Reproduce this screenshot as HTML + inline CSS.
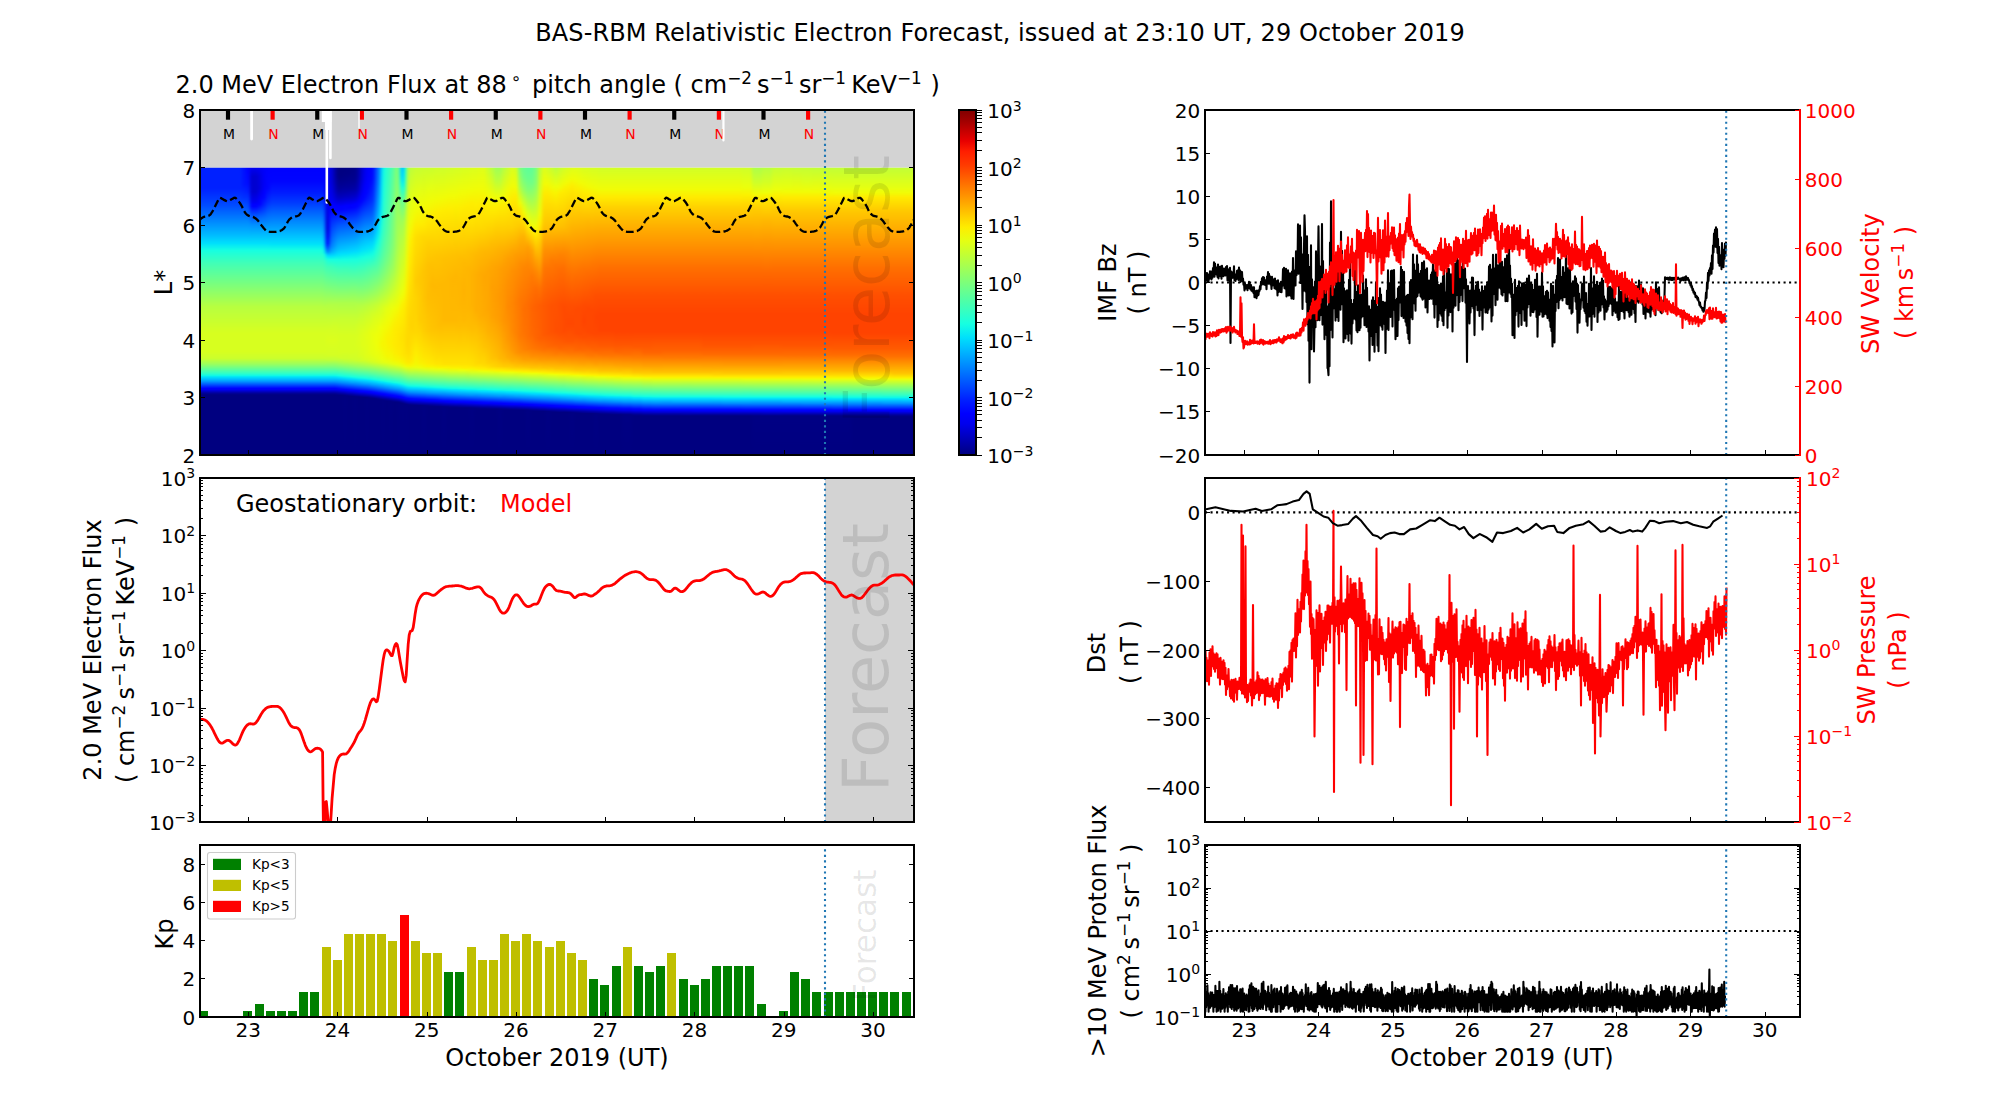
<!DOCTYPE html>
<html><head><meta charset="utf-8"><title>BAS-RBM Relativistic Electron Forecast</title>
<style>html,body{margin:0;padding:0;background:#fff}svg{display:block}text{font-family:'DejaVu Sans','Liberation Sans',sans-serif}</style></head>
<body><svg width="2000" height="1100" viewBox="0 0 2000 1100">
<defs><clipPath id="cL1"><rect x="200" y="110" width="714" height="345"/></clipPath>
<linearGradient id="h0" x1="0" y1="0" x2="0" y2="1"><stop offset="0" stop-color="#0020ff"/><stop offset=".072" stop-color="#0020ff"/><stop offset=".112" stop-color="#003cff"/><stop offset=".132" stop-color="#004cff"/><stop offset=".236" stop-color="#00bcff"/><stop offset=".264" stop-color="#00e0fb"/><stop offset=".288" stop-color="#16ffe1"/><stop offset=".332" stop-color="#40ffb7"/><stop offset=".484" stop-color="#b7ff40"/><stop offset=".576" stop-color="#d7ff1f"/><stop offset=".64" stop-color="#d7ff1f"/><stop offset=".664" stop-color="#caff2c"/><stop offset=".684" stop-color="#9aff5d"/><stop offset=".716" stop-color="#30ffc7"/><stop offset=".724" stop-color="#0ff8e7"/><stop offset=".728" stop-color="#00e4f8"/><stop offset=".736" stop-color="#00c0ff"/><stop offset=".744" stop-color="#0098ff"/><stop offset=".768" stop-color="#0000ff"/><stop offset=".772" stop-color="#0000f6"/><stop offset=".784" stop-color="#00009f"/><stop offset=".788" stop-color="#000089"/><stop offset=".792" stop-color="#000080"/><stop offset="1" stop-color="#000080"/></linearGradient>
<linearGradient id="h1" x1="0" y1="0" x2="0" y2="1"><stop offset="0" stop-color="#0020ff"/><stop offset=".072" stop-color="#0020ff"/><stop offset=".112" stop-color="#003cff"/><stop offset=".132" stop-color="#004cff"/><stop offset=".236" stop-color="#00bcff"/><stop offset=".264" stop-color="#00e0fb"/><stop offset=".288" stop-color="#16ffe1"/><stop offset=".332" stop-color="#40ffb7"/><stop offset=".484" stop-color="#b7ff40"/><stop offset=".576" stop-color="#d7ff1f"/><stop offset=".64" stop-color="#d7ff1f"/><stop offset=".664" stop-color="#caff2c"/><stop offset=".684" stop-color="#9aff5d"/><stop offset=".716" stop-color="#30ffc7"/><stop offset=".724" stop-color="#0ff8e7"/><stop offset=".728" stop-color="#00e4f8"/><stop offset=".736" stop-color="#00c0ff"/><stop offset=".744" stop-color="#0098ff"/><stop offset=".768" stop-color="#0000ff"/><stop offset=".772" stop-color="#0000f6"/><stop offset=".784" stop-color="#00009f"/><stop offset=".788" stop-color="#000089"/><stop offset=".792" stop-color="#000080"/><stop offset="1" stop-color="#000080"/></linearGradient>
<linearGradient id="h2" x1="0" y1="0" x2="0" y2="1"><stop offset="0" stop-color="#0020ff"/><stop offset=".072" stop-color="#0020ff"/><stop offset=".112" stop-color="#003cff"/><stop offset=".132" stop-color="#004cff"/><stop offset=".236" stop-color="#00bcff"/><stop offset=".264" stop-color="#00e0fb"/><stop offset=".288" stop-color="#16ffe1"/><stop offset=".332" stop-color="#40ffb7"/><stop offset=".484" stop-color="#b7ff40"/><stop offset=".576" stop-color="#d7ff1f"/><stop offset=".64" stop-color="#d7ff1f"/><stop offset=".664" stop-color="#caff2c"/><stop offset=".684" stop-color="#9aff5d"/><stop offset=".716" stop-color="#30ffc7"/><stop offset=".724" stop-color="#0ff8e7"/><stop offset=".728" stop-color="#00e4f8"/><stop offset=".736" stop-color="#00c0ff"/><stop offset=".744" stop-color="#0098ff"/><stop offset=".768" stop-color="#0000ff"/><stop offset=".772" stop-color="#0000f6"/><stop offset=".784" stop-color="#00009f"/><stop offset=".788" stop-color="#000089"/><stop offset=".792" stop-color="#000080"/><stop offset="1" stop-color="#000080"/></linearGradient>
<linearGradient id="h3" x1="0" y1="0" x2="0" y2="1"><stop offset="0" stop-color="#0020ff"/><stop offset=".072" stop-color="#0020ff"/><stop offset=".112" stop-color="#003cff"/><stop offset=".132" stop-color="#004cff"/><stop offset=".236" stop-color="#00bcff"/><stop offset=".264" stop-color="#00e0fb"/><stop offset=".288" stop-color="#16ffe1"/><stop offset=".332" stop-color="#40ffb7"/><stop offset=".484" stop-color="#b7ff40"/><stop offset=".576" stop-color="#d7ff1f"/><stop offset=".64" stop-color="#d7ff1f"/><stop offset=".664" stop-color="#caff2c"/><stop offset=".684" stop-color="#9aff5d"/><stop offset=".716" stop-color="#30ffc7"/><stop offset=".724" stop-color="#0ff8e7"/><stop offset=".728" stop-color="#00e4f8"/><stop offset=".736" stop-color="#00c0ff"/><stop offset=".744" stop-color="#0098ff"/><stop offset=".768" stop-color="#0000ff"/><stop offset=".772" stop-color="#0000f6"/><stop offset=".784" stop-color="#00009f"/><stop offset=".788" stop-color="#000089"/><stop offset=".792" stop-color="#000080"/><stop offset="1" stop-color="#000080"/></linearGradient>
<linearGradient id="h4" x1="0" y1="0" x2="0" y2="1"><stop offset="0" stop-color="#0020ff"/><stop offset=".072" stop-color="#0020ff"/><stop offset=".112" stop-color="#003cff"/><stop offset=".132" stop-color="#004cff"/><stop offset=".236" stop-color="#00bcff"/><stop offset=".264" stop-color="#00e0fb"/><stop offset=".288" stop-color="#16ffe1"/><stop offset=".332" stop-color="#40ffb7"/><stop offset=".484" stop-color="#b7ff40"/><stop offset=".576" stop-color="#d7ff1f"/><stop offset=".64" stop-color="#d7ff1f"/><stop offset=".664" stop-color="#caff2c"/><stop offset=".684" stop-color="#9aff5d"/><stop offset=".716" stop-color="#30ffc7"/><stop offset=".724" stop-color="#0ff8e7"/><stop offset=".728" stop-color="#00e4f8"/><stop offset=".736" stop-color="#00c0ff"/><stop offset=".744" stop-color="#0098ff"/><stop offset=".768" stop-color="#0000ff"/><stop offset=".772" stop-color="#0000f6"/><stop offset=".784" stop-color="#00009f"/><stop offset=".788" stop-color="#000089"/><stop offset=".792" stop-color="#000080"/><stop offset="1" stop-color="#000080"/></linearGradient>
<linearGradient id="h5" x1="0" y1="0" x2="0" y2="1"><stop offset="0" stop-color="#0020ff"/><stop offset=".072" stop-color="#0020ff"/><stop offset=".112" stop-color="#003cff"/><stop offset=".132" stop-color="#004cff"/><stop offset=".236" stop-color="#00bcff"/><stop offset=".264" stop-color="#00e0fb"/><stop offset=".288" stop-color="#16ffe1"/><stop offset=".332" stop-color="#40ffb7"/><stop offset=".484" stop-color="#b7ff40"/><stop offset=".576" stop-color="#d7ff1f"/><stop offset=".64" stop-color="#d7ff1f"/><stop offset=".664" stop-color="#caff2c"/><stop offset=".684" stop-color="#9aff5d"/><stop offset=".716" stop-color="#30ffc7"/><stop offset=".724" stop-color="#0ff8e7"/><stop offset=".728" stop-color="#00e4f8"/><stop offset=".736" stop-color="#00c0ff"/><stop offset=".744" stop-color="#0098ff"/><stop offset=".768" stop-color="#0000ff"/><stop offset=".772" stop-color="#0000f6"/><stop offset=".784" stop-color="#00009f"/><stop offset=".788" stop-color="#000089"/><stop offset=".792" stop-color="#000080"/><stop offset="1" stop-color="#000080"/></linearGradient>
<linearGradient id="h6" x1="0" y1="0" x2="0" y2="1"><stop offset="0" stop-color="#0020ff"/><stop offset=".072" stop-color="#0020ff"/><stop offset=".112" stop-color="#003cff"/><stop offset=".132" stop-color="#004cff"/><stop offset=".236" stop-color="#00bcff"/><stop offset=".264" stop-color="#00e0fb"/><stop offset=".288" stop-color="#16ffe1"/><stop offset=".332" stop-color="#40ffb7"/><stop offset=".484" stop-color="#b7ff40"/><stop offset=".576" stop-color="#d7ff1f"/><stop offset=".64" stop-color="#d7ff1f"/><stop offset=".664" stop-color="#caff2c"/><stop offset=".684" stop-color="#9aff5d"/><stop offset=".716" stop-color="#30ffc7"/><stop offset=".724" stop-color="#0ff8e7"/><stop offset=".728" stop-color="#00e4f8"/><stop offset=".736" stop-color="#00c0ff"/><stop offset=".744" stop-color="#0098ff"/><stop offset=".768" stop-color="#0000ff"/><stop offset=".772" stop-color="#0000f6"/><stop offset=".784" stop-color="#00009f"/><stop offset=".788" stop-color="#000089"/><stop offset=".792" stop-color="#000080"/><stop offset="1" stop-color="#000080"/></linearGradient>
<linearGradient id="h7" x1="0" y1="0" x2="0" y2="1"><stop offset="0" stop-color="#0020ff"/><stop offset=".072" stop-color="#0020ff"/><stop offset=".112" stop-color="#003cff"/><stop offset=".132" stop-color="#004cff"/><stop offset=".236" stop-color="#00bcff"/><stop offset=".264" stop-color="#00e0fb"/><stop offset=".288" stop-color="#16ffe1"/><stop offset=".332" stop-color="#40ffb7"/><stop offset=".484" stop-color="#b7ff40"/><stop offset=".576" stop-color="#d7ff1f"/><stop offset=".64" stop-color="#d7ff1f"/><stop offset=".664" stop-color="#caff2c"/><stop offset=".684" stop-color="#9aff5d"/><stop offset=".716" stop-color="#30ffc7"/><stop offset=".724" stop-color="#0ff8e7"/><stop offset=".728" stop-color="#00e4f8"/><stop offset=".736" stop-color="#00c0ff"/><stop offset=".744" stop-color="#0098ff"/><stop offset=".768" stop-color="#0000ff"/><stop offset=".772" stop-color="#0000f6"/><stop offset=".784" stop-color="#00009f"/><stop offset=".788" stop-color="#000089"/><stop offset=".792" stop-color="#000080"/><stop offset="1" stop-color="#000080"/></linearGradient>
<linearGradient id="h8" x1="0" y1="0" x2="0" y2="1"><stop offset="0" stop-color="#0020ff"/><stop offset=".072" stop-color="#0020ff"/><stop offset=".112" stop-color="#003cff"/><stop offset=".132" stop-color="#004cff"/><stop offset=".236" stop-color="#00bcff"/><stop offset=".264" stop-color="#00e0fb"/><stop offset=".288" stop-color="#16ffe1"/><stop offset=".332" stop-color="#40ffb7"/><stop offset=".484" stop-color="#b7ff40"/><stop offset=".576" stop-color="#d7ff1f"/><stop offset=".64" stop-color="#d7ff1f"/><stop offset=".664" stop-color="#caff2c"/><stop offset=".684" stop-color="#9aff5d"/><stop offset=".716" stop-color="#30ffc7"/><stop offset=".724" stop-color="#0ff8e7"/><stop offset=".728" stop-color="#00e4f8"/><stop offset=".736" stop-color="#00c0ff"/><stop offset=".744" stop-color="#0098ff"/><stop offset=".768" stop-color="#0000ff"/><stop offset=".772" stop-color="#0000f6"/><stop offset=".784" stop-color="#00009f"/><stop offset=".788" stop-color="#000089"/><stop offset=".792" stop-color="#000080"/><stop offset="1" stop-color="#000080"/></linearGradient>
<linearGradient id="h9" x1="0" y1="0" x2="0" y2="1"><stop offset="0" stop-color="#0020ff"/><stop offset=".072" stop-color="#0020ff"/><stop offset=".112" stop-color="#003cff"/><stop offset=".132" stop-color="#004cff"/><stop offset=".236" stop-color="#00bcff"/><stop offset=".264" stop-color="#00e0fb"/><stop offset=".288" stop-color="#16ffe1"/><stop offset=".332" stop-color="#40ffb7"/><stop offset=".484" stop-color="#b7ff40"/><stop offset=".576" stop-color="#d7ff1f"/><stop offset=".64" stop-color="#d7ff1f"/><stop offset=".664" stop-color="#caff2c"/><stop offset=".684" stop-color="#9aff5d"/><stop offset=".716" stop-color="#30ffc7"/><stop offset=".724" stop-color="#0ff8e7"/><stop offset=".728" stop-color="#00e4f8"/><stop offset=".736" stop-color="#00c0ff"/><stop offset=".744" stop-color="#0098ff"/><stop offset=".768" stop-color="#0000ff"/><stop offset=".772" stop-color="#0000f6"/><stop offset=".784" stop-color="#00009f"/><stop offset=".788" stop-color="#000089"/><stop offset=".792" stop-color="#000080"/><stop offset="1" stop-color="#000080"/></linearGradient>
<linearGradient id="h10" x1="0" y1="0" x2="0" y2="1"><stop offset="0" stop-color="#0020ff"/><stop offset=".072" stop-color="#0020ff"/><stop offset=".112" stop-color="#003cff"/><stop offset=".132" stop-color="#004cff"/><stop offset=".236" stop-color="#00bcff"/><stop offset=".264" stop-color="#00e0fb"/><stop offset=".288" stop-color="#16ffe1"/><stop offset=".332" stop-color="#40ffb7"/><stop offset=".484" stop-color="#b7ff40"/><stop offset=".576" stop-color="#d7ff1f"/><stop offset=".64" stop-color="#d7ff1f"/><stop offset=".664" stop-color="#caff2c"/><stop offset=".684" stop-color="#9aff5d"/><stop offset=".716" stop-color="#30ffc7"/><stop offset=".724" stop-color="#0ff8e7"/><stop offset=".728" stop-color="#00e4f8"/><stop offset=".736" stop-color="#00c0ff"/><stop offset=".744" stop-color="#0098ff"/><stop offset=".768" stop-color="#0000ff"/><stop offset=".772" stop-color="#0000f6"/><stop offset=".784" stop-color="#00009f"/><stop offset=".788" stop-color="#000089"/><stop offset=".792" stop-color="#000080"/><stop offset="1" stop-color="#000080"/></linearGradient>
<linearGradient id="h11" x1="0" y1="0" x2="0" y2="1"><stop offset="0" stop-color="#0020ff"/><stop offset=".072" stop-color="#0020ff"/><stop offset=".112" stop-color="#003cff"/><stop offset=".132" stop-color="#004cff"/><stop offset=".236" stop-color="#00bcff"/><stop offset=".264" stop-color="#00e0fb"/><stop offset=".288" stop-color="#16ffe1"/><stop offset=".332" stop-color="#40ffb7"/><stop offset=".484" stop-color="#b7ff40"/><stop offset=".576" stop-color="#d7ff1f"/><stop offset=".64" stop-color="#d7ff1f"/><stop offset=".664" stop-color="#caff2c"/><stop offset=".684" stop-color="#9aff5d"/><stop offset=".716" stop-color="#30ffc7"/><stop offset=".724" stop-color="#0ff8e7"/><stop offset=".728" stop-color="#00e4f8"/><stop offset=".736" stop-color="#00c0ff"/><stop offset=".744" stop-color="#0098ff"/><stop offset=".768" stop-color="#0000ff"/><stop offset=".772" stop-color="#0000f6"/><stop offset=".784" stop-color="#00009f"/><stop offset=".788" stop-color="#000089"/><stop offset=".792" stop-color="#000080"/><stop offset="1" stop-color="#000080"/></linearGradient>
<linearGradient id="h12" x1="0" y1="0" x2="0" y2="1"><stop offset="0" stop-color="#0010ff"/><stop offset=".06" stop-color="#0014ff"/><stop offset=".104" stop-color="#0030ff"/><stop offset=".236" stop-color="#00bcff"/><stop offset=".264" stop-color="#00e0fb"/><stop offset=".288" stop-color="#16ffe1"/><stop offset=".332" stop-color="#40ffb7"/><stop offset=".484" stop-color="#b7ff40"/><stop offset=".576" stop-color="#d7ff1f"/><stop offset=".64" stop-color="#d7ff1f"/><stop offset=".664" stop-color="#caff2c"/><stop offset=".684" stop-color="#9aff5d"/><stop offset=".716" stop-color="#30ffc7"/><stop offset=".724" stop-color="#0ff8e7"/><stop offset=".728" stop-color="#00e4f8"/><stop offset=".736" stop-color="#00c0ff"/><stop offset=".744" stop-color="#0098ff"/><stop offset=".768" stop-color="#0000ff"/><stop offset=".772" stop-color="#0000f6"/><stop offset=".784" stop-color="#00009f"/><stop offset=".788" stop-color="#000089"/><stop offset=".792" stop-color="#000080"/><stop offset="1" stop-color="#000080"/></linearGradient>
<linearGradient id="h13" x1="0" y1="0" x2="0" y2="1"><stop offset="0" stop-color="#0000ff"/><stop offset=".056" stop-color="#000cff"/><stop offset=".084" stop-color="#001cff"/><stop offset=".136" stop-color="#004cff"/><stop offset=".18" stop-color="#0080ff"/><stop offset=".236" stop-color="#00bcff"/><stop offset=".264" stop-color="#00e0fb"/><stop offset=".288" stop-color="#16ffe1"/><stop offset=".332" stop-color="#40ffb7"/><stop offset=".484" stop-color="#b7ff40"/><stop offset=".576" stop-color="#d7ff1f"/><stop offset=".64" stop-color="#d7ff1f"/><stop offset=".664" stop-color="#caff2c"/><stop offset=".684" stop-color="#9aff5d"/><stop offset=".716" stop-color="#30ffc7"/><stop offset=".724" stop-color="#0ff8e7"/><stop offset=".728" stop-color="#00e4f8"/><stop offset=".736" stop-color="#00c0ff"/><stop offset=".744" stop-color="#0098ff"/><stop offset=".768" stop-color="#0000ff"/><stop offset=".772" stop-color="#0000f6"/><stop offset=".784" stop-color="#00009f"/><stop offset=".788" stop-color="#000089"/><stop offset=".792" stop-color="#000080"/><stop offset="1" stop-color="#000080"/></linearGradient>
<linearGradient id="h14" x1="0" y1="0" x2="0" y2="1"><stop offset="0" stop-color="#0000f1"/><stop offset=".032" stop-color="#0000d1"/><stop offset=".084" stop-color="#0000d1"/><stop offset=".12" stop-color="#0000f1"/><stop offset=".128" stop-color="#0000ff"/><stop offset=".136" stop-color="#0004ff"/><stop offset=".164" stop-color="#004cff"/><stop offset=".2" stop-color="#0090ff"/><stop offset=".264" stop-color="#00e0fb"/><stop offset=".288" stop-color="#16ffe1"/><stop offset=".332" stop-color="#40ffb7"/><stop offset=".484" stop-color="#b7ff40"/><stop offset=".576" stop-color="#d7ff1f"/><stop offset=".64" stop-color="#d7ff1f"/><stop offset=".664" stop-color="#caff2c"/><stop offset=".684" stop-color="#9aff5d"/><stop offset=".716" stop-color="#30ffc7"/><stop offset=".724" stop-color="#0ff8e7"/><stop offset=".728" stop-color="#00e4f8"/><stop offset=".736" stop-color="#00c0ff"/><stop offset=".744" stop-color="#0098ff"/><stop offset=".768" stop-color="#0000ff"/><stop offset=".772" stop-color="#0000f6"/><stop offset=".784" stop-color="#00009f"/><stop offset=".788" stop-color="#000089"/><stop offset=".792" stop-color="#000080"/><stop offset="1" stop-color="#000080"/></linearGradient>
<linearGradient id="h15" x1="0" y1="0" x2="0" y2="1"><stop offset="0" stop-color="#0000f1"/><stop offset=".032" stop-color="#0000d1"/><stop offset=".084" stop-color="#0000d1"/><stop offset=".12" stop-color="#0000f1"/><stop offset=".128" stop-color="#0000ff"/><stop offset=".136" stop-color="#0004ff"/><stop offset=".164" stop-color="#004cff"/><stop offset=".2" stop-color="#0090ff"/><stop offset=".264" stop-color="#00e0fb"/><stop offset=".288" stop-color="#16ffe1"/><stop offset=".332" stop-color="#40ffb7"/><stop offset=".484" stop-color="#b7ff40"/><stop offset=".576" stop-color="#d7ff1f"/><stop offset=".64" stop-color="#d7ff1f"/><stop offset=".664" stop-color="#caff2c"/><stop offset=".684" stop-color="#9aff5d"/><stop offset=".716" stop-color="#30ffc7"/><stop offset=".724" stop-color="#0ff8e7"/><stop offset=".728" stop-color="#00e4f8"/><stop offset=".736" stop-color="#00c0ff"/><stop offset=".744" stop-color="#0098ff"/><stop offset=".768" stop-color="#0000ff"/><stop offset=".772" stop-color="#0000f6"/><stop offset=".784" stop-color="#00009f"/><stop offset=".788" stop-color="#000089"/><stop offset=".792" stop-color="#000080"/><stop offset="1" stop-color="#000080"/></linearGradient>
<linearGradient id="h16" x1="0" y1="0" x2="0" y2="1"><stop offset="0" stop-color="#0000f6"/><stop offset=".028" stop-color="#0000e3"/><stop offset=".072" stop-color="#0000df"/><stop offset=".096" stop-color="#0000f1"/><stop offset=".116" stop-color="#0000ff"/><stop offset=".128" stop-color="#0004ff"/><stop offset=".168" stop-color="#005cff"/><stop offset=".2" stop-color="#0090ff"/><stop offset=".264" stop-color="#00e0fb"/><stop offset=".288" stop-color="#16ffe1"/><stop offset=".332" stop-color="#40ffb7"/><stop offset=".484" stop-color="#b7ff40"/><stop offset=".576" stop-color="#d7ff1f"/><stop offset=".64" stop-color="#d7ff1f"/><stop offset=".664" stop-color="#caff2c"/><stop offset=".684" stop-color="#9aff5d"/><stop offset=".716" stop-color="#30ffc7"/><stop offset=".724" stop-color="#0ff8e7"/><stop offset=".728" stop-color="#00e4f8"/><stop offset=".736" stop-color="#00c0ff"/><stop offset=".744" stop-color="#0098ff"/><stop offset=".768" stop-color="#0000ff"/><stop offset=".772" stop-color="#0000f6"/><stop offset=".784" stop-color="#00009f"/><stop offset=".788" stop-color="#000089"/><stop offset=".792" stop-color="#000080"/><stop offset="1" stop-color="#000080"/></linearGradient>
<linearGradient id="h17" x1="0" y1="0" x2="0" y2="1"><stop offset="0" stop-color="#0000fa"/><stop offset=".06" stop-color="#0000f6"/><stop offset=".088" stop-color="#0000ff"/><stop offset=".104" stop-color="#0004ff"/><stop offset=".132" stop-color="#0024ff"/><stop offset=".176" stop-color="#0070ff"/><stop offset=".228" stop-color="#00b4ff"/><stop offset=".264" stop-color="#00e0fb"/><stop offset=".288" stop-color="#16ffe1"/><stop offset=".332" stop-color="#40ffb7"/><stop offset=".484" stop-color="#b7ff40"/><stop offset=".576" stop-color="#d7ff1f"/><stop offset=".64" stop-color="#d7ff1f"/><stop offset=".664" stop-color="#caff2c"/><stop offset=".684" stop-color="#9aff5d"/><stop offset=".716" stop-color="#30ffc7"/><stop offset=".724" stop-color="#0ff8e7"/><stop offset=".728" stop-color="#00e4f8"/><stop offset=".736" stop-color="#00c0ff"/><stop offset=".744" stop-color="#0098ff"/><stop offset=".768" stop-color="#0000ff"/><stop offset=".772" stop-color="#0000f6"/><stop offset=".784" stop-color="#00009f"/><stop offset=".788" stop-color="#000089"/><stop offset=".792" stop-color="#000080"/><stop offset="1" stop-color="#000080"/></linearGradient>
<linearGradient id="h18" x1="0" y1="0" x2="0" y2="1"><stop offset="0" stop-color="#0000ff"/><stop offset=".072" stop-color="#0004ff"/><stop offset=".12" stop-color="#002cff"/><stop offset=".164" stop-color="#0068ff"/><stop offset=".264" stop-color="#00e0fb"/><stop offset=".288" stop-color="#16ffe1"/><stop offset=".332" stop-color="#40ffb7"/><stop offset=".484" stop-color="#b7ff40"/><stop offset=".576" stop-color="#d7ff1f"/><stop offset=".64" stop-color="#d7ff1f"/><stop offset=".664" stop-color="#caff2c"/><stop offset=".684" stop-color="#9aff5d"/><stop offset=".716" stop-color="#30ffc7"/><stop offset=".724" stop-color="#0ff8e7"/><stop offset=".728" stop-color="#00e4f8"/><stop offset=".736" stop-color="#00c0ff"/><stop offset=".744" stop-color="#0098ff"/><stop offset=".768" stop-color="#0000ff"/><stop offset=".772" stop-color="#0000f6"/><stop offset=".784" stop-color="#00009f"/><stop offset=".788" stop-color="#000089"/><stop offset=".792" stop-color="#000080"/><stop offset="1" stop-color="#000080"/></linearGradient>
<linearGradient id="h19" x1="0" y1="0" x2="0" y2="1"><stop offset="0" stop-color="#0000ff"/><stop offset=".048" stop-color="#0004ff"/><stop offset=".088" stop-color="#001cff"/><stop offset=".124" stop-color="#003cff"/><stop offset=".16" stop-color="#0068ff"/><stop offset=".252" stop-color="#00d0ff"/><stop offset=".268" stop-color="#00e4f8"/><stop offset=".288" stop-color="#16ffe1"/><stop offset=".332" stop-color="#40ffb7"/><stop offset=".484" stop-color="#b7ff40"/><stop offset=".576" stop-color="#d7ff1f"/><stop offset=".64" stop-color="#d7ff1f"/><stop offset=".664" stop-color="#caff2c"/><stop offset=".684" stop-color="#9aff5d"/><stop offset=".716" stop-color="#30ffc7"/><stop offset=".724" stop-color="#0ff8e7"/><stop offset=".728" stop-color="#00e4f8"/><stop offset=".736" stop-color="#00c0ff"/><stop offset=".744" stop-color="#0098ff"/><stop offset=".768" stop-color="#0000ff"/><stop offset=".772" stop-color="#0000f6"/><stop offset=".784" stop-color="#00009f"/><stop offset=".788" stop-color="#000089"/><stop offset=".792" stop-color="#000080"/><stop offset="1" stop-color="#000080"/></linearGradient>
<linearGradient id="h20" x1="0" y1="0" x2="0" y2="1"><stop offset="0" stop-color="#0000ff"/><stop offset=".048" stop-color="#0004ff"/><stop offset=".088" stop-color="#001cff"/><stop offset=".124" stop-color="#003cff"/><stop offset=".16" stop-color="#0068ff"/><stop offset=".252" stop-color="#00d0ff"/><stop offset=".268" stop-color="#00e4f8"/><stop offset=".288" stop-color="#16ffe1"/><stop offset=".332" stop-color="#40ffb7"/><stop offset=".484" stop-color="#b7ff40"/><stop offset=".576" stop-color="#d7ff1f"/><stop offset=".64" stop-color="#d7ff1f"/><stop offset=".664" stop-color="#caff2c"/><stop offset=".684" stop-color="#9aff5d"/><stop offset=".716" stop-color="#30ffc7"/><stop offset=".724" stop-color="#0ff8e7"/><stop offset=".728" stop-color="#00e4f8"/><stop offset=".736" stop-color="#00c0ff"/><stop offset=".744" stop-color="#0098ff"/><stop offset=".768" stop-color="#0000ff"/><stop offset=".772" stop-color="#0000f6"/><stop offset=".784" stop-color="#00009f"/><stop offset=".788" stop-color="#000089"/><stop offset=".792" stop-color="#000080"/><stop offset="1" stop-color="#000080"/></linearGradient>
<linearGradient id="h21" x1="0" y1="0" x2="0" y2="1"><stop offset="0" stop-color="#0000ff"/><stop offset=".048" stop-color="#0004ff"/><stop offset=".088" stop-color="#001cff"/><stop offset=".124" stop-color="#003cff"/><stop offset=".16" stop-color="#0068ff"/><stop offset=".252" stop-color="#00d0ff"/><stop offset=".268" stop-color="#00e4f8"/><stop offset=".288" stop-color="#16ffe1"/><stop offset=".332" stop-color="#40ffb7"/><stop offset=".484" stop-color="#b7ff40"/><stop offset=".576" stop-color="#d7ff1f"/><stop offset=".64" stop-color="#d7ff1f"/><stop offset=".664" stop-color="#caff2c"/><stop offset=".684" stop-color="#9aff5d"/><stop offset=".716" stop-color="#30ffc7"/><stop offset=".724" stop-color="#0ff8e7"/><stop offset=".728" stop-color="#00e4f8"/><stop offset=".736" stop-color="#00c0ff"/><stop offset=".744" stop-color="#0098ff"/><stop offset=".768" stop-color="#0000ff"/><stop offset=".772" stop-color="#0000f6"/><stop offset=".784" stop-color="#00009f"/><stop offset=".788" stop-color="#000089"/><stop offset=".792" stop-color="#000080"/><stop offset="1" stop-color="#000080"/></linearGradient>
<linearGradient id="h22" x1="0" y1="0" x2="0" y2="1"><stop offset="0" stop-color="#0000ff"/><stop offset=".048" stop-color="#0004ff"/><stop offset=".088" stop-color="#001cff"/><stop offset=".124" stop-color="#003cff"/><stop offset=".16" stop-color="#0068ff"/><stop offset=".252" stop-color="#00d0ff"/><stop offset=".268" stop-color="#00e4f8"/><stop offset=".288" stop-color="#16ffe1"/><stop offset=".332" stop-color="#40ffb7"/><stop offset=".484" stop-color="#b7ff40"/><stop offset=".576" stop-color="#d7ff1f"/><stop offset=".64" stop-color="#d7ff1f"/><stop offset=".664" stop-color="#caff2c"/><stop offset=".684" stop-color="#9aff5d"/><stop offset=".716" stop-color="#30ffc7"/><stop offset=".724" stop-color="#0ff8e7"/><stop offset=".728" stop-color="#00e4f8"/><stop offset=".736" stop-color="#00c0ff"/><stop offset=".744" stop-color="#0098ff"/><stop offset=".768" stop-color="#0000ff"/><stop offset=".772" stop-color="#0000f6"/><stop offset=".784" stop-color="#00009f"/><stop offset=".788" stop-color="#000089"/><stop offset=".792" stop-color="#000080"/><stop offset="1" stop-color="#000080"/></linearGradient>
<linearGradient id="h23" x1="0" y1="0" x2="0" y2="1"><stop offset="0" stop-color="#0000ff"/><stop offset=".048" stop-color="#0004ff"/><stop offset=".088" stop-color="#001cff"/><stop offset=".124" stop-color="#003cff"/><stop offset=".16" stop-color="#0068ff"/><stop offset=".252" stop-color="#00d0ff"/><stop offset=".268" stop-color="#00e4f8"/><stop offset=".288" stop-color="#16ffe1"/><stop offset=".332" stop-color="#40ffb7"/><stop offset=".484" stop-color="#b7ff40"/><stop offset=".576" stop-color="#d7ff1f"/><stop offset=".64" stop-color="#d7ff1f"/><stop offset=".664" stop-color="#caff2c"/><stop offset=".684" stop-color="#9aff5d"/><stop offset=".716" stop-color="#30ffc7"/><stop offset=".724" stop-color="#0ff8e7"/><stop offset=".728" stop-color="#00e4f8"/><stop offset=".736" stop-color="#00c0ff"/><stop offset=".744" stop-color="#0098ff"/><stop offset=".768" stop-color="#0000ff"/><stop offset=".772" stop-color="#0000f6"/><stop offset=".784" stop-color="#00009f"/><stop offset=".788" stop-color="#000089"/><stop offset=".792" stop-color="#000080"/><stop offset="1" stop-color="#000080"/></linearGradient>
<linearGradient id="h24" x1="0" y1="0" x2="0" y2="1"><stop offset="0" stop-color="#0000ff"/><stop offset=".048" stop-color="#0004ff"/><stop offset=".088" stop-color="#001cff"/><stop offset=".124" stop-color="#003cff"/><stop offset=".16" stop-color="#0068ff"/><stop offset=".252" stop-color="#00d0ff"/><stop offset=".268" stop-color="#00e4f8"/><stop offset=".288" stop-color="#16ffe1"/><stop offset=".332" stop-color="#40ffb7"/><stop offset=".484" stop-color="#b7ff40"/><stop offset=".576" stop-color="#d7ff1f"/><stop offset=".64" stop-color="#d7ff1f"/><stop offset=".664" stop-color="#caff2c"/><stop offset=".684" stop-color="#9aff5d"/><stop offset=".716" stop-color="#30ffc7"/><stop offset=".724" stop-color="#0ff8e7"/><stop offset=".728" stop-color="#00e4f8"/><stop offset=".736" stop-color="#00c0ff"/><stop offset=".744" stop-color="#0098ff"/><stop offset=".768" stop-color="#0000ff"/><stop offset=".772" stop-color="#0000f6"/><stop offset=".784" stop-color="#00009f"/><stop offset=".788" stop-color="#000089"/><stop offset=".792" stop-color="#000080"/><stop offset="1" stop-color="#000080"/></linearGradient>
<linearGradient id="h25" x1="0" y1="0" x2="0" y2="1"><stop offset="0" stop-color="#0000ff"/><stop offset=".048" stop-color="#0004ff"/><stop offset=".088" stop-color="#001cff"/><stop offset=".124" stop-color="#003cff"/><stop offset=".16" stop-color="#0068ff"/><stop offset=".252" stop-color="#00d0ff"/><stop offset=".268" stop-color="#00e4f8"/><stop offset=".288" stop-color="#16ffe1"/><stop offset=".332" stop-color="#40ffb7"/><stop offset=".484" stop-color="#b7ff40"/><stop offset=".576" stop-color="#d7ff1f"/><stop offset=".64" stop-color="#d7ff1f"/><stop offset=".664" stop-color="#caff2c"/><stop offset=".684" stop-color="#9aff5d"/><stop offset=".716" stop-color="#30ffc7"/><stop offset=".724" stop-color="#0ff8e7"/><stop offset=".728" stop-color="#00e4f8"/><stop offset=".736" stop-color="#00c0ff"/><stop offset=".744" stop-color="#0098ff"/><stop offset=".768" stop-color="#0000ff"/><stop offset=".772" stop-color="#0000f6"/><stop offset=".784" stop-color="#00009f"/><stop offset=".788" stop-color="#000089"/><stop offset=".792" stop-color="#000080"/><stop offset="1" stop-color="#000080"/></linearGradient>
<linearGradient id="h26" x1="0" y1="0" x2="0" y2="1"><stop offset="0" stop-color="#0000ff"/><stop offset=".048" stop-color="#0004ff"/><stop offset=".088" stop-color="#001cff"/><stop offset=".124" stop-color="#003cff"/><stop offset=".16" stop-color="#0068ff"/><stop offset=".252" stop-color="#00d0ff"/><stop offset=".268" stop-color="#00e4f8"/><stop offset=".288" stop-color="#16ffe1"/><stop offset=".332" stop-color="#40ffb7"/><stop offset=".484" stop-color="#b7ff40"/><stop offset=".576" stop-color="#d7ff1f"/><stop offset=".64" stop-color="#d7ff1f"/><stop offset=".664" stop-color="#caff2c"/><stop offset=".684" stop-color="#9aff5d"/><stop offset=".716" stop-color="#30ffc7"/><stop offset=".724" stop-color="#0ff8e7"/><stop offset=".728" stop-color="#00e4f8"/><stop offset=".736" stop-color="#00c0ff"/><stop offset=".744" stop-color="#0098ff"/><stop offset=".768" stop-color="#0000ff"/><stop offset=".772" stop-color="#0000f6"/><stop offset=".784" stop-color="#00009f"/><stop offset=".788" stop-color="#000089"/><stop offset=".792" stop-color="#000080"/><stop offset="1" stop-color="#000080"/></linearGradient>
<linearGradient id="h27" x1="0" y1="0" x2="0" y2="1"><stop offset="0" stop-color="#0000ff"/><stop offset=".048" stop-color="#0004ff"/><stop offset=".088" stop-color="#001cff"/><stop offset=".124" stop-color="#003cff"/><stop offset=".16" stop-color="#0068ff"/><stop offset=".252" stop-color="#00d0ff"/><stop offset=".268" stop-color="#00e4f8"/><stop offset=".288" stop-color="#16ffe1"/><stop offset=".332" stop-color="#40ffb7"/><stop offset=".484" stop-color="#b7ff40"/><stop offset=".576" stop-color="#d7ff1f"/><stop offset=".64" stop-color="#d7ff1f"/><stop offset=".664" stop-color="#caff2c"/><stop offset=".684" stop-color="#9aff5d"/><stop offset=".716" stop-color="#30ffc7"/><stop offset=".724" stop-color="#0ff8e7"/><stop offset=".728" stop-color="#00e4f8"/><stop offset=".736" stop-color="#00c0ff"/><stop offset=".744" stop-color="#0098ff"/><stop offset=".768" stop-color="#0000ff"/><stop offset=".772" stop-color="#0000f6"/><stop offset=".784" stop-color="#00009f"/><stop offset=".788" stop-color="#000089"/><stop offset=".792" stop-color="#000080"/><stop offset="1" stop-color="#000080"/></linearGradient>
<linearGradient id="h28" x1="0" y1="0" x2="0" y2="1"><stop offset="0" stop-color="#0000ff"/><stop offset=".048" stop-color="#0004ff"/><stop offset=".088" stop-color="#001cff"/><stop offset=".124" stop-color="#003cff"/><stop offset=".16" stop-color="#0068ff"/><stop offset=".252" stop-color="#00d0ff"/><stop offset=".268" stop-color="#00e4f8"/><stop offset=".288" stop-color="#16ffe1"/><stop offset=".332" stop-color="#40ffb7"/><stop offset=".484" stop-color="#b7ff40"/><stop offset=".576" stop-color="#d7ff1f"/><stop offset=".64" stop-color="#d7ff1f"/><stop offset=".664" stop-color="#caff2c"/><stop offset=".684" stop-color="#9aff5d"/><stop offset=".716" stop-color="#30ffc7"/><stop offset=".724" stop-color="#0ff8e7"/><stop offset=".728" stop-color="#00e4f8"/><stop offset=".736" stop-color="#00c0ff"/><stop offset=".744" stop-color="#0098ff"/><stop offset=".768" stop-color="#0000ff"/><stop offset=".772" stop-color="#0000f6"/><stop offset=".784" stop-color="#00009f"/><stop offset=".788" stop-color="#000089"/><stop offset=".792" stop-color="#000080"/><stop offset="1" stop-color="#000080"/></linearGradient>
<linearGradient id="h29" x1="0" y1="0" x2="0" y2="1"><stop offset="0" stop-color="#0000ff"/><stop offset=".048" stop-color="#0004ff"/><stop offset=".088" stop-color="#001cff"/><stop offset=".124" stop-color="#003cff"/><stop offset=".16" stop-color="#0068ff"/><stop offset=".252" stop-color="#00d0ff"/><stop offset=".268" stop-color="#00e4f8"/><stop offset=".288" stop-color="#16ffe1"/><stop offset=".332" stop-color="#40ffb7"/><stop offset=".484" stop-color="#b7ff40"/><stop offset=".576" stop-color="#d7ff1f"/><stop offset=".64" stop-color="#d7ff1f"/><stop offset=".664" stop-color="#caff2c"/><stop offset=".684" stop-color="#9aff5d"/><stop offset=".716" stop-color="#30ffc7"/><stop offset=".724" stop-color="#0ff8e7"/><stop offset=".728" stop-color="#00e4f8"/><stop offset=".736" stop-color="#00c0ff"/><stop offset=".744" stop-color="#0098ff"/><stop offset=".768" stop-color="#0000ff"/><stop offset=".772" stop-color="#0000f6"/><stop offset=".784" stop-color="#00009f"/><stop offset=".788" stop-color="#000089"/><stop offset=".792" stop-color="#000080"/><stop offset="1" stop-color="#000080"/></linearGradient>
<linearGradient id="h30" x1="0" y1="0" x2="0" y2="1"><stop offset="0" stop-color="#0000ff"/><stop offset=".048" stop-color="#0004ff"/><stop offset=".088" stop-color="#001cff"/><stop offset=".124" stop-color="#003cff"/><stop offset=".16" stop-color="#0068ff"/><stop offset=".252" stop-color="#00d0ff"/><stop offset=".268" stop-color="#00e4f8"/><stop offset=".288" stop-color="#16ffe1"/><stop offset=".332" stop-color="#40ffb7"/><stop offset=".484" stop-color="#b7ff40"/><stop offset=".576" stop-color="#d7ff1f"/><stop offset=".64" stop-color="#d7ff1f"/><stop offset=".664" stop-color="#caff2c"/><stop offset=".684" stop-color="#9aff5d"/><stop offset=".716" stop-color="#30ffc7"/><stop offset=".724" stop-color="#0ff8e7"/><stop offset=".728" stop-color="#00e4f8"/><stop offset=".736" stop-color="#00c0ff"/><stop offset=".744" stop-color="#0098ff"/><stop offset=".768" stop-color="#0000ff"/><stop offset=".772" stop-color="#0000f6"/><stop offset=".784" stop-color="#00009f"/><stop offset=".788" stop-color="#000089"/><stop offset=".792" stop-color="#000080"/><stop offset="1" stop-color="#000080"/></linearGradient>
<linearGradient id="h31" x1="0" y1="0" x2="0" y2="1"><stop offset="0" stop-color="#0000ff"/><stop offset=".048" stop-color="#0004ff"/><stop offset=".088" stop-color="#001cff"/><stop offset=".124" stop-color="#003cff"/><stop offset=".16" stop-color="#0068ff"/><stop offset=".252" stop-color="#00d0ff"/><stop offset=".268" stop-color="#00e4f8"/><stop offset=".288" stop-color="#16ffe1"/><stop offset=".332" stop-color="#40ffb7"/><stop offset=".484" stop-color="#b7ff40"/><stop offset=".576" stop-color="#d7ff1f"/><stop offset=".64" stop-color="#d7ff1f"/><stop offset=".664" stop-color="#caff2c"/><stop offset=".684" stop-color="#9aff5d"/><stop offset=".716" stop-color="#30ffc7"/><stop offset=".724" stop-color="#0ff8e7"/><stop offset=".728" stop-color="#00e4f8"/><stop offset=".736" stop-color="#00c0ff"/><stop offset=".744" stop-color="#0098ff"/><stop offset=".768" stop-color="#0000ff"/><stop offset=".772" stop-color="#0000f6"/><stop offset=".784" stop-color="#00009f"/><stop offset=".788" stop-color="#000089"/><stop offset=".792" stop-color="#000080"/><stop offset="1" stop-color="#000080"/></linearGradient>
<linearGradient id="h32" x1="0" y1="0" x2="0" y2="1"><stop offset="0" stop-color="#0000ff"/><stop offset=".048" stop-color="#0004ff"/><stop offset=".088" stop-color="#001cff"/><stop offset=".124" stop-color="#003cff"/><stop offset=".16" stop-color="#0068ff"/><stop offset=".252" stop-color="#00d0ff"/><stop offset=".268" stop-color="#00e4f8"/><stop offset=".288" stop-color="#16ffe1"/><stop offset=".332" stop-color="#40ffb7"/><stop offset=".484" stop-color="#b7ff40"/><stop offset=".576" stop-color="#d7ff1f"/><stop offset=".64" stop-color="#d7ff1f"/><stop offset=".664" stop-color="#caff2c"/><stop offset=".684" stop-color="#9aff5d"/><stop offset=".716" stop-color="#30ffc7"/><stop offset=".724" stop-color="#0ff8e7"/><stop offset=".728" stop-color="#00e4f8"/><stop offset=".736" stop-color="#00c0ff"/><stop offset=".744" stop-color="#0098ff"/><stop offset=".768" stop-color="#0000ff"/><stop offset=".772" stop-color="#0000f6"/><stop offset=".784" stop-color="#00009f"/><stop offset=".788" stop-color="#000089"/><stop offset=".792" stop-color="#000080"/><stop offset="1" stop-color="#000080"/></linearGradient>
<linearGradient id="h33" x1="0" y1="0" x2="0" y2="1"><stop offset="0" stop-color="#0000ff"/><stop offset=".08" stop-color="#0004ff"/><stop offset=".14" stop-color="#0028ff"/><stop offset=".212" stop-color="#0058ff"/><stop offset=".256" stop-color="#0088ff"/><stop offset=".276" stop-color="#00acff"/><stop offset=".296" stop-color="#00e0fb"/><stop offset=".304" stop-color="#13fce4"/><stop offset=".328" stop-color="#36ffc1"/><stop offset=".492" stop-color="#baff3c"/><stop offset=".576" stop-color="#d7ff1f"/><stop offset=".64" stop-color="#d7ff1f"/><stop offset=".664" stop-color="#caff2c"/><stop offset=".684" stop-color="#9aff5d"/><stop offset=".716" stop-color="#30ffc7"/><stop offset=".724" stop-color="#0ff8e7"/><stop offset=".728" stop-color="#00e4f8"/><stop offset=".736" stop-color="#00c0ff"/><stop offset=".744" stop-color="#0098ff"/><stop offset=".768" stop-color="#0000ff"/><stop offset=".772" stop-color="#0000f6"/><stop offset=".784" stop-color="#00009f"/><stop offset=".788" stop-color="#000089"/><stop offset=".792" stop-color="#000080"/><stop offset="1" stop-color="#000080"/></linearGradient>
<linearGradient id="h34" x1="0" y1="0" x2="0" y2="1"><stop offset="0" stop-color="#0000f1"/><stop offset=".116" stop-color="#0000ed"/><stop offset=".148" stop-color="#0000da"/><stop offset=".192" stop-color="#0000cd"/><stop offset=".22" stop-color="#0000d1"/><stop offset=".256" stop-color="#0000ff"/><stop offset=".264" stop-color="#0000ff"/><stop offset=".272" stop-color="#0018ff"/><stop offset=".292" stop-color="#0078ff"/><stop offset=".304" stop-color="#00c8ff"/><stop offset=".308" stop-color="#00dcfe"/><stop offset=".316" stop-color="#0ff8e7"/><stop offset=".324" stop-color="#1fffd7"/><stop offset=".348" stop-color="#40ffb7"/><stop offset=".48" stop-color="#b4ff43"/><stop offset=".564" stop-color="#d4ff23"/><stop offset=".6" stop-color="#dbff1c"/><stop offset=".652" stop-color="#d4ff23"/><stop offset=".668" stop-color="#c4ff33"/><stop offset=".692" stop-color="#80ff77"/><stop offset=".716" stop-color="#30ffc7"/><stop offset=".724" stop-color="#0ff8e7"/><stop offset=".728" stop-color="#00e4f8"/><stop offset=".736" stop-color="#00c0ff"/><stop offset=".744" stop-color="#0098ff"/><stop offset=".768" stop-color="#0000ff"/><stop offset=".772" stop-color="#0000f6"/><stop offset=".784" stop-color="#00009f"/><stop offset=".788" stop-color="#000089"/><stop offset=".792" stop-color="#000080"/><stop offset="1" stop-color="#000080"/></linearGradient>
<linearGradient id="h35" x1="0" y1="0" x2="0" y2="1"><stop offset="0" stop-color="#0000e8"/><stop offset=".044" stop-color="#0000e8"/><stop offset=".064" stop-color="#0000ed"/><stop offset=".116" stop-color="#0000f1"/><stop offset=".132" stop-color="#0000f6"/><stop offset=".18" stop-color="#0000ff"/><stop offset=".212" stop-color="#0004ff"/><stop offset=".24" stop-color="#0018ff"/><stop offset=".264" stop-color="#0038ff"/><stop offset=".288" stop-color="#0080ff"/><stop offset=".296" stop-color="#00a0ff"/><stop offset=".304" stop-color="#00ccff"/><stop offset=".308" stop-color="#00dcfe"/><stop offset=".316" stop-color="#0cf4eb"/><stop offset=".32" stop-color="#16ffe1"/><stop offset=".344" stop-color="#3cffba"/><stop offset=".48" stop-color="#b4ff43"/><stop offset=".564" stop-color="#d4ff23"/><stop offset=".6" stop-color="#dbff1c"/><stop offset=".652" stop-color="#d4ff23"/><stop offset=".668" stop-color="#c4ff33"/><stop offset=".692" stop-color="#80ff77"/><stop offset=".716" stop-color="#30ffc7"/><stop offset=".724" stop-color="#0ff8e7"/><stop offset=".728" stop-color="#00e4f8"/><stop offset=".736" stop-color="#00c0ff"/><stop offset=".744" stop-color="#0098ff"/><stop offset=".768" stop-color="#0000ff"/><stop offset=".772" stop-color="#0000f6"/><stop offset=".784" stop-color="#00009f"/><stop offset=".788" stop-color="#000089"/><stop offset=".792" stop-color="#000080"/><stop offset="1" stop-color="#000080"/></linearGradient>
<linearGradient id="h36" x1="0" y1="0" x2="0" y2="1"><stop offset="0" stop-color="#0000df"/><stop offset=".056" stop-color="#0000e3"/><stop offset=".112" stop-color="#0000f6"/><stop offset=".124" stop-color="#0000ff"/><stop offset=".148" stop-color="#0004ff"/><stop offset=".192" stop-color="#0034ff"/><stop offset=".256" stop-color="#0068ff"/><stop offset=".276" stop-color="#0084ff"/><stop offset=".292" stop-color="#00a4ff"/><stop offset=".308" stop-color="#00e0fb"/><stop offset=".316" stop-color="#0cf4eb"/><stop offset=".32" stop-color="#16ffe1"/><stop offset=".344" stop-color="#3cffba"/><stop offset=".388" stop-color="#60ff97"/><stop offset=".48" stop-color="#b4ff43"/><stop offset=".564" stop-color="#d4ff23"/><stop offset=".6" stop-color="#dbff1c"/><stop offset=".652" stop-color="#d4ff23"/><stop offset=".668" stop-color="#c4ff33"/><stop offset=".692" stop-color="#80ff77"/><stop offset=".716" stop-color="#30ffc7"/><stop offset=".724" stop-color="#0ff8e7"/><stop offset=".728" stop-color="#00e4f8"/><stop offset=".736" stop-color="#00c0ff"/><stop offset=".744" stop-color="#0098ff"/><stop offset=".768" stop-color="#0000ff"/><stop offset=".772" stop-color="#0000f6"/><stop offset=".784" stop-color="#00009f"/><stop offset=".788" stop-color="#000089"/><stop offset=".792" stop-color="#000080"/><stop offset="1" stop-color="#000080"/></linearGradient>
<linearGradient id="h37" x1="0" y1="0" x2="0" y2="1"><stop offset="0" stop-color="#0000c4"/><stop offset=".048" stop-color="#0000c8"/><stop offset=".104" stop-color="#0000e3"/><stop offset=".128" stop-color="#0000ff"/><stop offset=".148" stop-color="#0004ff"/><stop offset=".208" stop-color="#0048ff"/><stop offset=".276" stop-color="#0090ff"/><stop offset=".296" stop-color="#00bcff"/><stop offset=".308" stop-color="#00e0fb"/><stop offset=".32" stop-color="#16ffe1"/><stop offset=".344" stop-color="#39ffbe"/><stop offset=".432" stop-color="#87ff70"/><stop offset=".476" stop-color="#b1ff46"/><stop offset=".552" stop-color="#d1ff26"/><stop offset=".6" stop-color="#dbff1c"/><stop offset=".652" stop-color="#d4ff23"/><stop offset=".668" stop-color="#c4ff33"/><stop offset=".692" stop-color="#80ff77"/><stop offset=".716" stop-color="#30ffc7"/><stop offset=".724" stop-color="#0ff8e7"/><stop offset=".728" stop-color="#00e4f8"/><stop offset=".736" stop-color="#00c0ff"/><stop offset=".744" stop-color="#0098ff"/><stop offset=".768" stop-color="#0000ff"/><stop offset=".772" stop-color="#0000f6"/><stop offset=".784" stop-color="#00009f"/><stop offset=".788" stop-color="#000089"/><stop offset=".792" stop-color="#000080"/><stop offset="1" stop-color="#000080"/></linearGradient>
<linearGradient id="h38" x1="0" y1="0" x2="0" y2="1"><stop offset="0" stop-color="#0000a8"/><stop offset=".028" stop-color="#0000a8"/><stop offset=".052" stop-color="#0000b2"/><stop offset=".084" stop-color="#0000c4"/><stop offset=".12" stop-color="#0000e8"/><stop offset=".132" stop-color="#0000ff"/><stop offset=".148" stop-color="#0004ff"/><stop offset=".204" stop-color="#004cff"/><stop offset=".272" stop-color="#0098ff"/><stop offset=".296" stop-color="#00c4ff"/><stop offset=".308" stop-color="#00e4f8"/><stop offset=".32" stop-color="#16ffe1"/><stop offset=".352" stop-color="#40ffb7"/><stop offset=".436" stop-color="#8aff6d"/><stop offset=".476" stop-color="#b1ff46"/><stop offset=".552" stop-color="#d1ff26"/><stop offset=".6" stop-color="#dbff1c"/><stop offset=".652" stop-color="#d4ff23"/><stop offset=".668" stop-color="#c4ff33"/><stop offset=".692" stop-color="#80ff77"/><stop offset=".716" stop-color="#30ffc7"/><stop offset=".724" stop-color="#0ff8e7"/><stop offset=".728" stop-color="#00e4f8"/><stop offset=".736" stop-color="#00c0ff"/><stop offset=".744" stop-color="#0098ff"/><stop offset=".768" stop-color="#0000ff"/><stop offset=".772" stop-color="#0000f6"/><stop offset=".784" stop-color="#00009f"/><stop offset=".788" stop-color="#000089"/><stop offset=".792" stop-color="#000080"/><stop offset="1" stop-color="#000080"/></linearGradient>
<linearGradient id="h39" x1="0" y1="0" x2="0" y2="1"><stop offset="0" stop-color="#00008d"/><stop offset=".024" stop-color="#00008d"/><stop offset=".072" stop-color="#0000a4"/><stop offset=".104" stop-color="#0000c4"/><stop offset=".136" stop-color="#0000ff"/><stop offset=".152" stop-color="#0008ff"/><stop offset=".204" stop-color="#0054ff"/><stop offset=".284" stop-color="#00b8ff"/><stop offset=".304" stop-color="#00e0fb"/><stop offset=".32" stop-color="#16ffe1"/><stop offset=".352" stop-color="#3cffba"/><stop offset=".44" stop-color="#8dff6a"/><stop offset=".476" stop-color="#b1ff46"/><stop offset=".552" stop-color="#d1ff26"/><stop offset=".6" stop-color="#dbff1c"/><stop offset=".652" stop-color="#d4ff23"/><stop offset=".668" stop-color="#c4ff33"/><stop offset=".692" stop-color="#83ff73"/><stop offset=".724" stop-color="#13fce4"/><stop offset=".728" stop-color="#02e8f4"/><stop offset=".732" stop-color="#00d4ff"/><stop offset=".748" stop-color="#0084ff"/><stop offset=".768" stop-color="#0004ff"/><stop offset=".772" stop-color="#0000fa"/><stop offset=".784" stop-color="#0000a4"/><stop offset=".788" stop-color="#00008d"/><stop offset=".792" stop-color="#000080"/><stop offset="1" stop-color="#000080"/></linearGradient>
<linearGradient id="h40" x1="0" y1="0" x2="0" y2="1"><stop offset="0" stop-color="#000080"/><stop offset=".036" stop-color="#000084"/><stop offset=".08" stop-color="#00009f"/><stop offset=".112" stop-color="#0000cd"/><stop offset=".136" stop-color="#0000ff"/><stop offset=".148" stop-color="#0004ff"/><stop offset=".2" stop-color="#0054ff"/><stop offset=".284" stop-color="#00c0ff"/><stop offset=".3" stop-color="#00dcfe"/><stop offset=".308" stop-color="#02e8f4"/><stop offset=".32" stop-color="#16ffe1"/><stop offset=".352" stop-color="#3cffba"/><stop offset=".424" stop-color="#7dff7a"/><stop offset=".472" stop-color="#adff49"/><stop offset=".524" stop-color="#c7ff30"/><stop offset=".584" stop-color="#d7ff1f"/><stop offset=".64" stop-color="#d7ff1f"/><stop offset=".66" stop-color="#d1ff26"/><stop offset=".676" stop-color="#b4ff43"/><stop offset=".7" stop-color="#6dff8a"/><stop offset=".724" stop-color="#16ffe1"/><stop offset=".728" stop-color="#06ecf1"/><stop offset=".732" stop-color="#00d8ff"/><stop offset=".748" stop-color="#0088ff"/><stop offset=".768" stop-color="#000cff"/><stop offset=".772" stop-color="#0000ff"/><stop offset=".784" stop-color="#0000a8"/><stop offset=".792" stop-color="#000080"/><stop offset="1" stop-color="#000080"/></linearGradient>
<linearGradient id="h41" x1="0" y1="0" x2="0" y2="1"><stop offset="0" stop-color="#000080"/><stop offset=".032" stop-color="#000084"/><stop offset=".072" stop-color="#00009b"/><stop offset=".104" stop-color="#0000bf"/><stop offset=".136" stop-color="#0000ff"/><stop offset=".148" stop-color="#0004ff"/><stop offset=".204" stop-color="#005cff"/><stop offset=".28" stop-color="#00bcff"/><stop offset=".3" stop-color="#00dcfe"/><stop offset=".316" stop-color="#0ff8e7"/><stop offset=".324" stop-color="#1cffdb"/><stop offset=".356" stop-color="#40ffb7"/><stop offset=".424" stop-color="#7dff7a"/><stop offset=".472" stop-color="#adff49"/><stop offset=".524" stop-color="#c7ff30"/><stop offset=".584" stop-color="#d7ff1f"/><stop offset=".64" stop-color="#d7ff1f"/><stop offset=".664" stop-color="#ceff29"/><stop offset=".688" stop-color="#94ff63"/><stop offset=".724" stop-color="#19ffde"/><stop offset=".732" stop-color="#00dcfe"/><stop offset=".748" stop-color="#008cff"/><stop offset=".768" stop-color="#0010ff"/><stop offset=".772" stop-color="#0000ff"/><stop offset=".78" stop-color="#0000cd"/><stop offset=".784" stop-color="#0000ad"/><stop offset=".792" stop-color="#000080"/><stop offset="1" stop-color="#000080"/></linearGradient>
<linearGradient id="h42" x1="0" y1="0" x2="0" y2="1"><stop offset="0" stop-color="#000080"/><stop offset=".028" stop-color="#000084"/><stop offset=".064" stop-color="#000096"/><stop offset=".1" stop-color="#0000bb"/><stop offset=".136" stop-color="#0000ff"/><stop offset=".144" stop-color="#0000ff"/><stop offset=".2" stop-color="#0058ff"/><stop offset=".284" stop-color="#00c4ff"/><stop offset=".3" stop-color="#00e0fb"/><stop offset=".308" stop-color="#06ecf1"/><stop offset=".32" stop-color="#16ffe1"/><stop offset=".352" stop-color="#3cffba"/><stop offset=".424" stop-color="#7dff7a"/><stop offset=".472" stop-color="#adff49"/><stop offset=".524" stop-color="#c7ff30"/><stop offset=".584" stop-color="#d7ff1f"/><stop offset=".64" stop-color="#d7ff1f"/><stop offset=".664" stop-color="#ceff29"/><stop offset=".68" stop-color="#adff49"/><stop offset=".716" stop-color="#39ffbe"/><stop offset=".724" stop-color="#1cffdb"/><stop offset=".728" stop-color="#0cf4eb"/><stop offset=".732" stop-color="#00e0fb"/><stop offset=".748" stop-color="#0090ff"/><stop offset=".768" stop-color="#0014ff"/><stop offset=".772" stop-color="#0000ff"/><stop offset=".776" stop-color="#0000ed"/><stop offset=".784" stop-color="#0000b2"/><stop offset=".792" stop-color="#000080"/><stop offset="1" stop-color="#000080"/></linearGradient>
<linearGradient id="h43" x1="0" y1="0" x2="0" y2="1"><stop offset="0" stop-color="#000080"/><stop offset=".04" stop-color="#000089"/><stop offset=".084" stop-color="#0000a8"/><stop offset=".116" stop-color="#0000da"/><stop offset=".132" stop-color="#0000ff"/><stop offset=".148" stop-color="#0008ff"/><stop offset=".196" stop-color="#0054ff"/><stop offset=".28" stop-color="#00c0ff"/><stop offset=".3" stop-color="#00e0fb"/><stop offset=".32" stop-color="#16ffe1"/><stop offset=".352" stop-color="#3cffba"/><stop offset=".424" stop-color="#7dff7a"/><stop offset=".472" stop-color="#adff49"/><stop offset=".524" stop-color="#c7ff30"/><stop offset=".584" stop-color="#d7ff1f"/><stop offset=".64" stop-color="#d7ff1f"/><stop offset=".668" stop-color="#caff2c"/><stop offset=".692" stop-color="#8dff6a"/><stop offset=".72" stop-color="#2cffca"/><stop offset=".728" stop-color="#0ff8e7"/><stop offset=".732" stop-color="#00e4f8"/><stop offset=".74" stop-color="#00bcff"/><stop offset=".752" stop-color="#007cff"/><stop offset=".772" stop-color="#0000ff"/><stop offset=".776" stop-color="#0000f1"/><stop offset=".784" stop-color="#0000b6"/><stop offset=".792" stop-color="#000084"/><stop offset="1" stop-color="#000080"/></linearGradient>
<linearGradient id="h44" x1="0" y1="0" x2="0" y2="1"><stop offset="0" stop-color="#000084"/><stop offset=".024" stop-color="#000084"/><stop offset=".068" stop-color="#00009b"/><stop offset=".1" stop-color="#0000bf"/><stop offset=".132" stop-color="#0000ff"/><stop offset=".144" stop-color="#0004ff"/><stop offset=".2" stop-color="#005cff"/><stop offset=".284" stop-color="#00c8ff"/><stop offset=".3" stop-color="#00e0fb"/><stop offset=".32" stop-color="#16ffe1"/><stop offset=".352" stop-color="#3cffba"/><stop offset=".424" stop-color="#7dff7a"/><stop offset=".472" stop-color="#adff49"/><stop offset=".524" stop-color="#c7ff30"/><stop offset=".584" stop-color="#d7ff1f"/><stop offset=".64" stop-color="#d7ff1f"/><stop offset=".664" stop-color="#ceff29"/><stop offset=".676" stop-color="#baff3c"/><stop offset=".708" stop-color="#5aff9d"/><stop offset=".724" stop-color="#1fffd7"/><stop offset=".728" stop-color="#0ff8e7"/><stop offset=".732" stop-color="#02e8f4"/><stop offset=".736" stop-color="#00d4ff"/><stop offset=".752" stop-color="#0080ff"/><stop offset=".772" stop-color="#0004ff"/><stop offset=".776" stop-color="#0000f6"/><stop offset=".792" stop-color="#000089"/><stop offset=".796" stop-color="#000080"/><stop offset="1" stop-color="#000080"/></linearGradient>
<linearGradient id="h45" x1="0" y1="0" x2="0" y2="1"><stop offset="0" stop-color="#000084"/><stop offset=".02" stop-color="#000084"/><stop offset=".072" stop-color="#00009f"/><stop offset=".104" stop-color="#0000c8"/><stop offset=".132" stop-color="#0000ff"/><stop offset=".14" stop-color="#0000ff"/><stop offset=".196" stop-color="#0058ff"/><stop offset=".256" stop-color="#00a4ff"/><stop offset=".296" stop-color="#00dcfe"/><stop offset=".308" stop-color="#09f0ee"/><stop offset=".32" stop-color="#16ffe1"/><stop offset=".352" stop-color="#3cffba"/><stop offset=".424" stop-color="#7dff7a"/><stop offset=".472" stop-color="#adff49"/><stop offset=".524" stop-color="#c7ff30"/><stop offset=".584" stop-color="#d7ff1f"/><stop offset=".64" stop-color="#d7ff1f"/><stop offset=".664" stop-color="#ceff29"/><stop offset=".676" stop-color="#baff3c"/><stop offset=".696" stop-color="#83ff73"/><stop offset=".724" stop-color="#23ffd4"/><stop offset=".728" stop-color="#13fce4"/><stop offset=".732" stop-color="#02e8f4"/><stop offset=".736" stop-color="#00d8ff"/><stop offset=".752" stop-color="#0084ff"/><stop offset=".772" stop-color="#0008ff"/><stop offset=".776" stop-color="#0000fa"/><stop offset=".792" stop-color="#00008d"/><stop offset=".796" stop-color="#000080"/><stop offset="1" stop-color="#000080"/></linearGradient>
<linearGradient id="h46" x1="0" y1="0" x2="0" y2="1"><stop offset="0" stop-color="#000084"/><stop offset=".04" stop-color="#00008d"/><stop offset=".076" stop-color="#0000a4"/><stop offset=".108" stop-color="#0000d1"/><stop offset=".132" stop-color="#0000ff"/><stop offset=".14" stop-color="#0000ff"/><stop offset=".192" stop-color="#0054ff"/><stop offset=".296" stop-color="#00dcfe"/><stop offset=".308" stop-color="#09f0ee"/><stop offset=".32" stop-color="#19ffde"/><stop offset=".388" stop-color="#5dff9a"/><stop offset=".472" stop-color="#adff49"/><stop offset=".524" stop-color="#c7ff30"/><stop offset=".584" stop-color="#d7ff1f"/><stop offset=".64" stop-color="#d7ff1f"/><stop offset=".664" stop-color="#d1ff26"/><stop offset=".68" stop-color="#b4ff43"/><stop offset=".704" stop-color="#6dff8a"/><stop offset=".728" stop-color="#16ffe1"/><stop offset=".732" stop-color="#06ecf1"/><stop offset=".736" stop-color="#00d8ff"/><stop offset=".748" stop-color="#00a0ff"/><stop offset=".772" stop-color="#000cff"/><stop offset=".776" stop-color="#0000ff"/><stop offset=".788" stop-color="#0000a8"/><stop offset=".796" stop-color="#000080"/><stop offset="1" stop-color="#000080"/></linearGradient>
<linearGradient id="h47" x1="0" y1="0" x2="0" y2="1"><stop offset="0" stop-color="#000084"/><stop offset=".048" stop-color="#000092"/><stop offset=".076" stop-color="#0000a8"/><stop offset=".112" stop-color="#0000da"/><stop offset=".128" stop-color="#0000ff"/><stop offset=".14" stop-color="#0004ff"/><stop offset=".196" stop-color="#005cff"/><stop offset=".292" stop-color="#00d8ff"/><stop offset=".304" stop-color="#06ecf1"/><stop offset=".32" stop-color="#19ffde"/><stop offset=".388" stop-color="#5dff9a"/><stop offset=".472" stop-color="#adff49"/><stop offset=".524" stop-color="#c7ff30"/><stop offset=".584" stop-color="#d7ff1f"/><stop offset=".64" stop-color="#d7ff1f"/><stop offset=".668" stop-color="#ceff29"/><stop offset=".692" stop-color="#94ff63"/><stop offset=".724" stop-color="#29ffce"/><stop offset=".728" stop-color="#19ffde"/><stop offset=".736" stop-color="#00dcfe"/><stop offset=".748" stop-color="#00a4ff"/><stop offset=".772" stop-color="#0010ff"/><stop offset=".776" stop-color="#0000ff"/><stop offset=".784" stop-color="#0000cd"/><stop offset=".788" stop-color="#0000ad"/><stop offset=".796" stop-color="#000080"/><stop offset="1" stop-color="#000080"/></linearGradient>
<linearGradient id="h48" x1="0" y1="0" x2="0" y2="1"><stop offset="0" stop-color="#000089"/><stop offset=".036" stop-color="#00008d"/><stop offset=".072" stop-color="#0000a4"/><stop offset=".1" stop-color="#0000c8"/><stop offset=".128" stop-color="#0000ff"/><stop offset=".14" stop-color="#0004ff"/><stop offset=".176" stop-color="#0040ff"/><stop offset=".216" stop-color="#0078ff"/><stop offset=".288" stop-color="#00d4ff"/><stop offset=".304" stop-color="#06ecf1"/><stop offset=".32" stop-color="#19ffde"/><stop offset=".388" stop-color="#5dff9a"/><stop offset=".472" stop-color="#adff49"/><stop offset=".524" stop-color="#c7ff30"/><stop offset=".584" stop-color="#d7ff1f"/><stop offset=".64" stop-color="#d7ff1f"/><stop offset=".668" stop-color="#ceff29"/><stop offset=".684" stop-color="#adff49"/><stop offset=".712" stop-color="#56ffa0"/><stop offset=".728" stop-color="#1cffdb"/><stop offset=".732" stop-color="#0cf4eb"/><stop offset=".736" stop-color="#00e0fb"/><stop offset=".756" stop-color="#0078ff"/><stop offset=".772" stop-color="#0014ff"/><stop offset=".776" stop-color="#0000ff"/><stop offset=".78" stop-color="#0000ed"/><stop offset=".796" stop-color="#000084"/><stop offset="1" stop-color="#000080"/></linearGradient>
<linearGradient id="h49" x1="0" y1="0" x2="0" y2="1"><stop offset="0" stop-color="#000092"/><stop offset=".04" stop-color="#00009b"/><stop offset=".068" stop-color="#0000ad"/><stop offset=".08" stop-color="#0000b6"/><stop offset=".108" stop-color="#0000df"/><stop offset=".124" stop-color="#0000ff"/><stop offset=".136" stop-color="#0004ff"/><stop offset=".2" stop-color="#0068ff"/><stop offset=".292" stop-color="#00dcfe"/><stop offset=".312" stop-color="#0ff8e7"/><stop offset=".32" stop-color="#19ffde"/><stop offset=".36" stop-color="#43ffb4"/><stop offset=".44" stop-color="#8dff6a"/><stop offset=".48" stop-color="#b4ff43"/><stop offset=".56" stop-color="#d4ff23"/><stop offset=".616" stop-color="#dbff1c"/><stop offset=".664" stop-color="#d1ff26"/><stop offset=".672" stop-color="#caff2c"/><stop offset=".696" stop-color="#8dff6a"/><stop offset=".728" stop-color="#1fffd7"/><stop offset=".732" stop-color="#0ff8e7"/><stop offset=".736" stop-color="#00e4f8"/><stop offset=".744" stop-color="#00bcff"/><stop offset=".756" stop-color="#007cff"/><stop offset=".776" stop-color="#0000ff"/><stop offset=".78" stop-color="#0000f1"/><stop offset=".792" stop-color="#00009f"/><stop offset=".796" stop-color="#000089"/><stop offset=".8" stop-color="#000080"/><stop offset="1" stop-color="#000080"/></linearGradient>
<linearGradient id="h50" x1="0" y1="0" x2="0" y2="1"><stop offset="0" stop-color="#0000ad"/><stop offset=".024" stop-color="#0000ad"/><stop offset=".076" stop-color="#0000c8"/><stop offset=".112" stop-color="#0000f6"/><stop offset=".116" stop-color="#0000ff"/><stop offset=".132" stop-color="#0008ff"/><stop offset=".176" stop-color="#004cff"/><stop offset=".252" stop-color="#00b0ff"/><stop offset=".292" stop-color="#00e0fb"/><stop offset=".316" stop-color="#16ffe1"/><stop offset=".344" stop-color="#36ffc1"/><stop offset=".424" stop-color="#7dff7a"/><stop offset=".48" stop-color="#b4ff43"/><stop offset=".548" stop-color="#d4ff23"/><stop offset=".6" stop-color="#dbff1c"/><stop offset=".656" stop-color="#d7ff1f"/><stop offset=".672" stop-color="#caff2c"/><stop offset=".692" stop-color="#9aff5d"/><stop offset=".72" stop-color="#40ffb7"/><stop offset=".732" stop-color="#13fce4"/><stop offset=".736" stop-color="#02e8f4"/><stop offset=".74" stop-color="#00d4ff"/><stop offset=".756" stop-color="#0080ff"/><stop offset=".776" stop-color="#0004ff"/><stop offset=".78" stop-color="#0000fa"/><stop offset=".796" stop-color="#000089"/><stop offset=".8" stop-color="#000080"/><stop offset="1" stop-color="#000080"/></linearGradient>
<linearGradient id="h51" x1="0" y1="0" x2="0" y2="1"><stop offset="0" stop-color="#0000c4"/><stop offset=".036" stop-color="#0000c8"/><stop offset=".076" stop-color="#0000df"/><stop offset=".112" stop-color="#0000ff"/><stop offset=".12" stop-color="#0000ff"/><stop offset=".156" stop-color="#0038ff"/><stop offset=".244" stop-color="#00acff"/><stop offset=".288" stop-color="#00e0fb"/><stop offset=".308" stop-color="#0ff8e7"/><stop offset=".324" stop-color="#23ffd4"/><stop offset=".38" stop-color="#56ffa0"/><stop offset=".424" stop-color="#7dff7a"/><stop offset=".476" stop-color="#b1ff46"/><stop offset=".512" stop-color="#c7ff30"/><stop offset=".584" stop-color="#deff19"/><stop offset=".648" stop-color="#dbff1c"/><stop offset=".672" stop-color="#ceff29"/><stop offset=".692" stop-color="#9dff5a"/><stop offset=".724" stop-color="#33ffc4"/><stop offset=".732" stop-color="#13fce4"/><stop offset=".74" stop-color="#00d8ff"/><stop offset=".756" stop-color="#0084ff"/><stop offset=".776" stop-color="#0008ff"/><stop offset=".78" stop-color="#0000ff"/><stop offset=".796" stop-color="#00008d"/><stop offset=".8" stop-color="#000080"/><stop offset="1" stop-color="#000080"/></linearGradient>
<linearGradient id="h52" x1="0" y1="0" x2="0" y2="1"><stop offset="0" stop-color="#0000da"/><stop offset=".044" stop-color="#0000e3"/><stop offset=".092" stop-color="#0000ff"/><stop offset=".112" stop-color="#0004ff"/><stop offset=".18" stop-color="#0060ff"/><stop offset=".236" stop-color="#00a8ff"/><stop offset=".284" stop-color="#00e0fb"/><stop offset=".304" stop-color="#0cf4eb"/><stop offset=".312" stop-color="#16ffe1"/><stop offset=".352" stop-color="#40ffb7"/><stop offset=".424" stop-color="#7dff7a"/><stop offset=".484" stop-color="#baff3c"/><stop offset=".564" stop-color="#dbff1c"/><stop offset=".616" stop-color="#e1ff16"/><stop offset=".664" stop-color="#d7ff1f"/><stop offset=".672" stop-color="#d1ff26"/><stop offset=".7" stop-color="#87ff70"/><stop offset=".732" stop-color="#16ffe1"/><stop offset=".736" stop-color="#06ecf1"/><stop offset=".74" stop-color="#00d8ff"/><stop offset=".752" stop-color="#00a0ff"/><stop offset=".776" stop-color="#000cff"/><stop offset=".78" stop-color="#0000ff"/><stop offset=".796" stop-color="#000092"/><stop offset=".8" stop-color="#000080"/><stop offset="1" stop-color="#000080"/></linearGradient>
<linearGradient id="h53" x1="0" y1="0" x2="0" y2="1"><stop offset="0" stop-color="#0000ed"/><stop offset=".036" stop-color="#0000f1"/><stop offset=".068" stop-color="#0000ff"/><stop offset=".104" stop-color="#0004ff"/><stop offset=".252" stop-color="#00c0ff"/><stop offset=".284" stop-color="#00e0fb"/><stop offset=".312" stop-color="#19ffde"/><stop offset=".364" stop-color="#4dffaa"/><stop offset=".432" stop-color="#87ff70"/><stop offset=".476" stop-color="#b4ff43"/><stop offset=".512" stop-color="#caff2c"/><stop offset=".58" stop-color="#e1ff16"/><stop offset=".652" stop-color="#deff19"/><stop offset=".668" stop-color="#d7ff1f"/><stop offset=".688" stop-color="#adff49"/><stop offset=".72" stop-color="#46ffb1"/><stop offset=".732" stop-color="#19ffde"/><stop offset=".74" stop-color="#00dcfe"/><stop offset=".752" stop-color="#00a4ff"/><stop offset=".776" stop-color="#0010ff"/><stop offset=".78" stop-color="#0000ff"/><stop offset=".8" stop-color="#000080"/><stop offset="1" stop-color="#000080"/></linearGradient>
<linearGradient id="h54" x1="0" y1="0" x2="0" y2="1"><stop offset="0" stop-color="#0000fa"/><stop offset=".028" stop-color="#0000fa"/><stop offset=".048" stop-color="#0000ff"/><stop offset=".088" stop-color="#0004ff"/><stop offset=".128" stop-color="#0028ff"/><stop offset=".228" stop-color="#00a4ff"/><stop offset=".272" stop-color="#00d8ff"/><stop offset=".292" stop-color="#06ecf1"/><stop offset=".308" stop-color="#16ffe1"/><stop offset=".348" stop-color="#43ffb4"/><stop offset=".42" stop-color="#7dff7a"/><stop offset=".48" stop-color="#baff3c"/><stop offset=".528" stop-color="#d4ff23"/><stop offset=".592" stop-color="#e4ff13"/><stop offset=".66" stop-color="#deff19"/><stop offset=".676" stop-color="#ceff29"/><stop offset=".7" stop-color="#8aff6d"/><stop offset=".732" stop-color="#1cffdb"/><stop offset=".736" stop-color="#0cf4eb"/><stop offset=".74" stop-color="#00e0fb"/><stop offset=".752" stop-color="#00a8ff"/><stop offset=".776" stop-color="#0014ff"/><stop offset=".78" stop-color="#0000ff"/><stop offset=".784" stop-color="#0000f1"/><stop offset=".796" stop-color="#00009b"/><stop offset=".8" stop-color="#000084"/><stop offset="1" stop-color="#000080"/></linearGradient>
<linearGradient id="h55" x1="0" y1="0" x2="0" y2="1"><stop offset="0" stop-color="#0000ff"/><stop offset=".068" stop-color="#0004ff"/><stop offset=".108" stop-color="#001cff"/><stop offset=".172" stop-color="#0060ff"/><stop offset=".256" stop-color="#00c8ff"/><stop offset=".28" stop-color="#00e4f8"/><stop offset=".312" stop-color="#1cffdb"/><stop offset=".348" stop-color="#46ffb1"/><stop offset=".42" stop-color="#80ff77"/><stop offset=".484" stop-color="#c1ff36"/><stop offset=".572" stop-color="#e4ff13"/><stop offset=".644" stop-color="#e4ff13"/><stop offset=".672" stop-color="#d7ff1f"/><stop offset=".688" stop-color="#b1ff46"/><stop offset=".728" stop-color="#30ffc7"/><stop offset=".736" stop-color="#0ff8e7"/><stop offset=".74" stop-color="#00e4f8"/><stop offset=".748" stop-color="#00bcff"/><stop offset=".764" stop-color="#0064ff"/><stop offset=".78" stop-color="#0000ff"/><stop offset=".784" stop-color="#0000f6"/><stop offset=".796" stop-color="#00009f"/><stop offset=".8" stop-color="#000089"/><stop offset=".804" stop-color="#000080"/><stop offset="1" stop-color="#000080"/></linearGradient>
<linearGradient id="h56" x1="0" y1="0" x2="0" y2="1"><stop offset="0" stop-color="#0000ff"/><stop offset=".044" stop-color="#0004ff"/><stop offset=".112" stop-color="#0028ff"/><stop offset=".148" stop-color="#0048ff"/><stop offset=".232" stop-color="#00acff"/><stop offset=".26" stop-color="#00d0ff"/><stop offset=".28" stop-color="#00e4f8"/><stop offset=".304" stop-color="#16ffe1"/><stop offset=".356" stop-color="#50ffa7"/><stop offset=".424" stop-color="#87ff70"/><stop offset=".472" stop-color="#b7ff40"/><stop offset=".504" stop-color="#ceff29"/><stop offset=".576" stop-color="#e7ff0f"/><stop offset=".636" stop-color="#e7ff0f"/><stop offset=".668" stop-color="#deff19"/><stop offset=".68" stop-color="#caff2c"/><stop offset=".712" stop-color="#6aff8d"/><stop offset=".736" stop-color="#13fce4"/><stop offset=".74" stop-color="#02e8f4"/><stop offset=".744" stop-color="#00d4ff"/><stop offset=".756" stop-color="#009cff"/><stop offset=".78" stop-color="#0004ff"/><stop offset=".784" stop-color="#0000fa"/><stop offset=".796" stop-color="#0000a4"/><stop offset=".8" stop-color="#00008d"/><stop offset=".804" stop-color="#000080"/><stop offset="1" stop-color="#000080"/></linearGradient>
<linearGradient id="h57" x1="0" y1="0" x2="0" y2="1"><stop offset="0" stop-color="#0008ff"/><stop offset=".036" stop-color="#000cff"/><stop offset=".112" stop-color="#0030ff"/><stop offset=".192" stop-color="#007cff"/><stop offset=".236" stop-color="#00b4ff"/><stop offset=".272" stop-color="#00e0fb"/><stop offset=".3" stop-color="#13fce4"/><stop offset=".348" stop-color="#4dffaa"/><stop offset=".424" stop-color="#8aff6d"/><stop offset=".476" stop-color="#beff39"/><stop offset=".512" stop-color="#d4ff23"/><stop offset=".58" stop-color="#ebff0c"/><stop offset=".648" stop-color="#e7ff0f"/><stop offset=".672" stop-color="#dbff1c"/><stop offset=".68" stop-color="#ceff29"/><stop offset=".716" stop-color="#60ff97"/><stop offset=".736" stop-color="#16ffe1"/><stop offset=".74" stop-color="#06ecf1"/><stop offset=".744" stop-color="#00d8ff"/><stop offset=".756" stop-color="#00a0ff"/><stop offset=".78" stop-color="#000cff"/><stop offset=".784" stop-color="#0000ff"/><stop offset=".8" stop-color="#000092"/><stop offset=".804" stop-color="#000080"/><stop offset="1" stop-color="#000080"/></linearGradient>
<linearGradient id="h58" x1="0" y1="0" x2="0" y2="1"><stop offset="0" stop-color="#0030ff"/><stop offset=".036" stop-color="#0034ff"/><stop offset=".12" stop-color="#005cff"/><stop offset=".18" stop-color="#0090ff"/><stop offset=".256" stop-color="#00e0fb"/><stop offset=".292" stop-color="#19ffde"/><stop offset=".36" stop-color="#5aff9d"/><stop offset=".436" stop-color="#9aff5d"/><stop offset=".48" stop-color="#c4ff33"/><stop offset=".528" stop-color="#deff19"/><stop offset=".596" stop-color="#eeff09"/><stop offset=".656" stop-color="#e7ff0f"/><stop offset=".676" stop-color="#d7ff1f"/><stop offset=".688" stop-color="#baff3c"/><stop offset=".728" stop-color="#39ffbe"/><stop offset=".736" stop-color="#1cffdb"/><stop offset=".74" stop-color="#0cf4eb"/><stop offset=".744" stop-color="#00e0fb"/><stop offset=".76" stop-color="#0090ff"/><stop offset=".78" stop-color="#0010ff"/><stop offset=".784" stop-color="#0000ff"/><stop offset=".788" stop-color="#0000ed"/><stop offset=".796" stop-color="#0000b2"/><stop offset=".804" stop-color="#000080"/><stop offset="1" stop-color="#000080"/></linearGradient>
<linearGradient id="h59" x1="0" y1="0" x2="0" y2="1"><stop offset="0" stop-color="#0058ff"/><stop offset=".056" stop-color="#0064ff"/><stop offset=".14" stop-color="#0090ff"/><stop offset=".232" stop-color="#00dcfe"/><stop offset=".252" stop-color="#09f0ee"/><stop offset=".272" stop-color="#16ffe1"/><stop offset=".364" stop-color="#60ff97"/><stop offset=".432" stop-color="#9aff5d"/><stop offset=".476" stop-color="#c4ff33"/><stop offset=".508" stop-color="#d7ff1f"/><stop offset=".58" stop-color="#eeff09"/><stop offset=".636" stop-color="#eeff09"/><stop offset=".672" stop-color="#e1ff16"/><stop offset=".68" stop-color="#d4ff23"/><stop offset=".72" stop-color="#5aff9d"/><stop offset=".736" stop-color="#1fffd7"/><stop offset=".74" stop-color="#0ff8e7"/><stop offset=".744" stop-color="#00e4f8"/><stop offset=".752" stop-color="#00bcff"/><stop offset=".768" stop-color="#0064ff"/><stop offset=".784" stop-color="#0000ff"/><stop offset=".788" stop-color="#0000f6"/><stop offset=".8" stop-color="#00009f"/><stop offset=".804" stop-color="#000089"/><stop offset=".808" stop-color="#000080"/><stop offset="1" stop-color="#000080"/></linearGradient>
<linearGradient id="h60" x1="0" y1="0" x2="0" y2="1"><stop offset="0" stop-color="#0080ff"/><stop offset=".04" stop-color="#0088ff"/><stop offset=".124" stop-color="#00acff"/><stop offset=".208" stop-color="#00e0fb"/><stop offset=".24" stop-color="#0ff8e7"/><stop offset=".256" stop-color="#19ffde"/><stop offset=".36" stop-color="#63ff94"/><stop offset=".444" stop-color="#aaff4d"/><stop offset=".488" stop-color="#d1ff26"/><stop offset=".556" stop-color="#ebff0c"/><stop offset=".616" stop-color="#f1fc06"/><stop offset=".664" stop-color="#e7ff0f"/><stop offset=".68" stop-color="#d7ff1f"/><stop offset=".72" stop-color="#5dff9a"/><stop offset=".74" stop-color="#13fce4"/><stop offset=".744" stop-color="#02e8f4"/><stop offset=".748" stop-color="#00d8ff"/><stop offset=".764" stop-color="#0084ff"/><stop offset=".784" stop-color="#0008ff"/><stop offset=".788" stop-color="#0000fa"/><stop offset=".804" stop-color="#00008d"/><stop offset=".808" stop-color="#000080"/><stop offset="1" stop-color="#000080"/></linearGradient>
<linearGradient id="h61" x1="0" y1="0" x2="0" y2="1"><stop offset="0" stop-color="#00b8ff"/><stop offset=".116" stop-color="#00d8ff"/><stop offset=".156" stop-color="#02e8f4"/><stop offset=".204" stop-color="#16ffe1"/><stop offset=".304" stop-color="#46ffb1"/><stop offset=".404" stop-color="#8dff6a"/><stop offset=".476" stop-color="#ceff29"/><stop offset=".556" stop-color="#eeff09"/><stop offset=".612" stop-color="#f4f802"/><stop offset=".664" stop-color="#ebff0c"/><stop offset=".68" stop-color="#dbff1c"/><stop offset=".716" stop-color="#6dff8a"/><stop offset=".74" stop-color="#19ffde"/><stop offset=".748" stop-color="#00dcfe"/><stop offset=".764" stop-color="#0088ff"/><stop offset=".784" stop-color="#000cff"/><stop offset=".788" stop-color="#0000ff"/><stop offset=".792" stop-color="#0000e8"/><stop offset=".8" stop-color="#0000ad"/><stop offset=".808" stop-color="#000080"/><stop offset="1" stop-color="#000080"/></linearGradient>
<linearGradient id="h62" x1="0" y1="0" x2="0" y2="1"><stop offset="0" stop-color="#0cf4eb"/><stop offset=".088" stop-color="#19ffde"/><stop offset=".228" stop-color="#36ffc1"/><stop offset=".328" stop-color="#60ff97"/><stop offset=".42" stop-color="#a0ff56"/><stop offset=".484" stop-color="#d7ff1f"/><stop offset=".556" stop-color="#f1fc06"/><stop offset=".62" stop-color="#f8f500"/><stop offset=".668" stop-color="#ebff0c"/><stop offset=".68" stop-color="#deff19"/><stop offset=".716" stop-color="#70ff87"/><stop offset=".74" stop-color="#1cffdb"/><stop offset=".744" stop-color="#0cf4eb"/><stop offset=".748" stop-color="#00e0fb"/><stop offset=".768" stop-color="#0078ff"/><stop offset=".784" stop-color="#0014ff"/><stop offset=".788" stop-color="#0000ff"/><stop offset=".792" stop-color="#0000ed"/><stop offset=".808" stop-color="#000084"/><stop offset="1" stop-color="#000080"/></linearGradient>
<linearGradient id="h63" x1="0" y1="0" x2="0" y2="1"><stop offset="0" stop-color="#1cffdb"/><stop offset=".188" stop-color="#39ffbe"/><stop offset=".292" stop-color="#5aff9d"/><stop offset=".364" stop-color="#80ff77"/><stop offset=".448" stop-color="#beff39"/><stop offset=".488" stop-color="#deff19"/><stop offset=".552" stop-color="#f1fc06"/><stop offset=".588" stop-color="#f8f500"/><stop offset=".648" stop-color="#f4f802"/><stop offset=".676" stop-color="#e7ff0f"/><stop offset=".688" stop-color="#caff2c"/><stop offset=".728" stop-color="#4dffaa"/><stop offset=".74" stop-color="#1fffd7"/><stop offset=".744" stop-color="#0ff8e7"/><stop offset=".748" stop-color="#00e4f8"/><stop offset=".756" stop-color="#00c0ff"/><stop offset=".764" stop-color="#0098ff"/><stop offset=".788" stop-color="#0000ff"/><stop offset=".792" stop-color="#0000f6"/><stop offset=".804" stop-color="#00009f"/><stop offset=".808" stop-color="#000089"/><stop offset=".812" stop-color="#000080"/><stop offset="1" stop-color="#000080"/></linearGradient>
<linearGradient id="h64" x1="0" y1="0" x2="0" y2="1"><stop offset="0" stop-color="#29ffce"/><stop offset=".224" stop-color="#50ffa7"/><stop offset=".32" stop-color="#70ff87"/><stop offset=".42" stop-color="#adff49"/><stop offset=".492" stop-color="#e4ff13"/><stop offset=".54" stop-color="#f1fc06"/><stop offset=".596" stop-color="#fbf100"/><stop offset=".656" stop-color="#f4f802"/><stop offset=".68" stop-color="#e4ff13"/><stop offset=".72" stop-color="#6aff8d"/><stop offset=".744" stop-color="#16ffe1"/><stop offset=".748" stop-color="#06ecf1"/><stop offset=".752" stop-color="#00d8ff"/><stop offset=".768" stop-color="#0084ff"/><stop offset=".788" stop-color="#0008ff"/><stop offset=".792" stop-color="#0000ff"/><stop offset=".804" stop-color="#0000a8"/><stop offset=".812" stop-color="#000080"/><stop offset="1" stop-color="#000080"/></linearGradient>
<linearGradient id="h65" x1="0" y1="0" x2="0" y2="1"><stop offset="0" stop-color="#36ffc1"/><stop offset=".172" stop-color="#53ffa4"/><stop offset=".296" stop-color="#70ff87"/><stop offset=".372" stop-color="#97ff60"/><stop offset=".432" stop-color="#beff39"/><stop offset=".484" stop-color="#e4ff13"/><stop offset=".532" stop-color="#f1fc06"/><stop offset=".58" stop-color="#fbf100"/><stop offset=".608" stop-color="#feed00"/><stop offset=".66" stop-color="#f4f802"/><stop offset=".68" stop-color="#e4ff13"/><stop offset=".692" stop-color="#c7ff30"/><stop offset=".732" stop-color="#46ffb1"/><stop offset=".744" stop-color="#19ffde"/><stop offset=".752" stop-color="#00dcfe"/><stop offset=".768" stop-color="#008cff"/><stop offset=".788" stop-color="#0010ff"/><stop offset=".792" stop-color="#0000ff"/><stop offset=".8" stop-color="#0000cd"/><stop offset=".804" stop-color="#0000ad"/><stop offset=".812" stop-color="#000080"/><stop offset="1" stop-color="#000080"/></linearGradient>
<linearGradient id="h66" x1="0" y1="0" x2="0" y2="1"><stop offset="0" stop-color="#43ffb4"/><stop offset=".112" stop-color="#5aff9d"/><stop offset=".256" stop-color="#70ff87"/><stop offset=".332" stop-color="#8aff6d"/><stop offset=".428" stop-color="#c1ff36"/><stop offset=".476" stop-color="#e4ff13"/><stop offset=".52" stop-color="#f1fc06"/><stop offset=".568" stop-color="#fbf100"/><stop offset=".632" stop-color="#fbf100"/><stop offset=".672" stop-color="#f1fc06"/><stop offset=".684" stop-color="#e1ff16"/><stop offset=".72" stop-color="#73ff83"/><stop offset=".744" stop-color="#1cffdb"/><stop offset=".748" stop-color="#0cf4eb"/><stop offset=".752" stop-color="#00e0fb"/><stop offset=".768" stop-color="#0094ff"/><stop offset=".788" stop-color="#0014ff"/><stop offset=".792" stop-color="#0000ff"/><stop offset=".796" stop-color="#0000f1"/><stop offset=".808" stop-color="#00009b"/><stop offset=".812" stop-color="#000084"/><stop offset="1" stop-color="#000080"/></linearGradient>
<linearGradient id="h67" x1="0" y1="0" x2="0" y2="1"><stop offset="0" stop-color="#56ffa0"/><stop offset=".124" stop-color="#6dff8a"/><stop offset=".276" stop-color="#83ff73"/><stop offset=".352" stop-color="#9dff5a"/><stop offset=".436" stop-color="#ceff29"/><stop offset=".492" stop-color="#eeff09"/><stop offset=".548" stop-color="#fbf100"/><stop offset=".612" stop-color="#ffea00"/><stop offset=".668" stop-color="#f4f802"/><stop offset=".684" stop-color="#e4ff13"/><stop offset=".72" stop-color="#77ff80"/><stop offset=".748" stop-color="#13fce4"/><stop offset=".752" stop-color="#02e8f4"/><stop offset=".756" stop-color="#00d4ff"/><stop offset=".772" stop-color="#0080ff"/><stop offset=".792" stop-color="#0004ff"/><stop offset=".796" stop-color="#0000fa"/><stop offset=".808" stop-color="#0000a4"/><stop offset=".812" stop-color="#00008d"/><stop offset=".816" stop-color="#000080"/><stop offset="1" stop-color="#000080"/></linearGradient>
<linearGradient id="h68" x1="0" y1="0" x2="0" y2="1"><stop offset="0" stop-color="#6dff8a"/><stop offset=".116" stop-color="#80ff77"/><stop offset=".276" stop-color="#94ff63"/><stop offset=".36" stop-color="#adff49"/><stop offset=".436" stop-color="#d4ff23"/><stop offset=".492" stop-color="#f1fc06"/><stop offset=".564" stop-color="#ffea00"/><stop offset=".648" stop-color="#feed00"/><stop offset=".672" stop-color="#f4f802"/><stop offset=".684" stop-color="#e7ff0f"/><stop offset=".724" stop-color="#6dff8a"/><stop offset=".748" stop-color="#16ffe1"/><stop offset=".752" stop-color="#06ecf1"/><stop offset=".756" stop-color="#00d8ff"/><stop offset=".768" stop-color="#00a0ff"/><stop offset=".792" stop-color="#0008ff"/><stop offset=".796" stop-color="#0000ff"/><stop offset=".808" stop-color="#0000a8"/><stop offset=".816" stop-color="#000080"/><stop offset="1" stop-color="#000080"/></linearGradient>
<linearGradient id="h69" x1="0" y1="0" x2="0" y2="1"><stop offset="0" stop-color="#83ff73"/><stop offset=".112" stop-color="#94ff63"/><stop offset=".272" stop-color="#a4ff53"/><stop offset=".368" stop-color="#beff39"/><stop offset=".436" stop-color="#dbff1c"/><stop offset=".488" stop-color="#f1fc06"/><stop offset=".536" stop-color="#feed00"/><stop offset=".62" stop-color="#ffe600"/><stop offset=".668" stop-color="#f8f500"/><stop offset=".684" stop-color="#ebff0c"/><stop offset=".724" stop-color="#70ff87"/><stop offset=".748" stop-color="#19ffde"/><stop offset=".756" stop-color="#00dcfe"/><stop offset=".768" stop-color="#00a4ff"/><stop offset=".792" stop-color="#0010ff"/><stop offset=".796" stop-color="#0000ff"/><stop offset=".8" stop-color="#0000ed"/><stop offset=".812" stop-color="#000096"/><stop offset=".816" stop-color="#000080"/><stop offset="1" stop-color="#000080"/></linearGradient>
<linearGradient id="h70" x1="0" y1="0" x2="0" y2="1"><stop offset="0" stop-color="#5dff9a"/><stop offset=".056" stop-color="#6dff8a"/><stop offset=".124" stop-color="#90ff66"/><stop offset=".212" stop-color="#a7ff50"/><stop offset=".344" stop-color="#c1ff36"/><stop offset=".428" stop-color="#deff19"/><stop offset=".476" stop-color="#f1fc06"/><stop offset=".512" stop-color="#fbf100"/><stop offset=".58" stop-color="#ffe600"/><stop offset=".648" stop-color="#ffea00"/><stop offset=".676" stop-color="#f4f802"/><stop offset=".688" stop-color="#e4ff13"/><stop offset=".74" stop-color="#3cffba"/><stop offset=".748" stop-color="#1fffd7"/><stop offset=".752" stop-color="#0ff8e7"/><stop offset=".756" stop-color="#00e4f8"/><stop offset=".764" stop-color="#00bcff"/><stop offset=".776" stop-color="#007cff"/><stop offset=".796" stop-color="#0000ff"/><stop offset=".8" stop-color="#0000f1"/><stop offset=".816" stop-color="#000084"/><stop offset="1" stop-color="#000080"/></linearGradient>
<linearGradient id="h71" x1="0" y1="0" x2="0" y2="1"><stop offset="0" stop-color="#00d4ff"/><stop offset=".028" stop-color="#00e4f8"/><stop offset=".06" stop-color="#1cffdb"/><stop offset=".096" stop-color="#4dffaa"/><stop offset=".116" stop-color="#6aff8d"/><stop offset=".176" stop-color="#9aff5d"/><stop offset=".252" stop-color="#b4ff43"/><stop offset=".416" stop-color="#e1ff16"/><stop offset=".456" stop-color="#f1fc06"/><stop offset=".5" stop-color="#feed00"/><stop offset=".6" stop-color="#ffe200"/><stop offset=".656" stop-color="#ffea00"/><stop offset=".676" stop-color="#f8f500"/><stop offset=".688" stop-color="#e7ff0f"/><stop offset=".744" stop-color="#33ffc4"/><stop offset=".752" stop-color="#13fce4"/><stop offset=".76" stop-color="#00d8ff"/><stop offset=".776" stop-color="#0084ff"/><stop offset=".796" stop-color="#0008ff"/><stop offset=".8" stop-color="#0000ff"/><stop offset=".816" stop-color="#00008d"/><stop offset=".82" stop-color="#000080"/><stop offset="1" stop-color="#000080"/></linearGradient>
<linearGradient id="h72" x1="0" y1="0" x2="0" y2="1"><stop offset="0" stop-color="#00bcff"/><stop offset=".044" stop-color="#00dcfe"/><stop offset=".064" stop-color="#0cf4eb"/><stop offset=".072" stop-color="#19ffde"/><stop offset=".124" stop-color="#6aff8d"/><stop offset=".196" stop-color="#a4ff53"/><stop offset=".32" stop-color="#caff2c"/><stop offset=".44" stop-color="#eeff09"/><stop offset=".476" stop-color="#fbf100"/><stop offset=".576" stop-color="#ffe200"/><stop offset=".652" stop-color="#ffe600"/><stop offset=".68" stop-color="#f8f500"/><stop offset=".692" stop-color="#e4ff13"/><stop offset=".748" stop-color="#2cffca"/><stop offset=".752" stop-color="#1cffdb"/><stop offset=".756" stop-color="#0cf4eb"/><stop offset=".76" stop-color="#00e0fb"/><stop offset=".776" stop-color="#0090ff"/><stop offset=".796" stop-color="#0014ff"/><stop offset=".8" stop-color="#0000ff"/><stop offset=".804" stop-color="#0000f1"/><stop offset=".816" stop-color="#00009b"/><stop offset=".82" stop-color="#000084"/><stop offset="1" stop-color="#000080"/></linearGradient>
<linearGradient id="h73" x1="0" y1="0" x2="0" y2="1"><stop offset="0" stop-color="#0ff8e7"/><stop offset=".028" stop-color="#1cffdb"/><stop offset=".076" stop-color="#43ffb4"/><stop offset=".112" stop-color="#77ff80"/><stop offset=".18" stop-color="#adff49"/><stop offset=".24" stop-color="#c4ff33"/><stop offset=".424" stop-color="#f1fc06"/><stop offset=".472" stop-color="#feed00"/><stop offset=".508" stop-color="#ffe600"/><stop offset=".596" stop-color="#ffde00"/><stop offset=".648" stop-color="#ffe200"/><stop offset=".68" stop-color="#fbf100"/><stop offset=".692" stop-color="#ebff0c"/><stop offset=".748" stop-color="#33ffc4"/><stop offset=".756" stop-color="#13fce4"/><stop offset=".764" stop-color="#00d8ff"/><stop offset=".78" stop-color="#0084ff"/><stop offset=".8" stop-color="#0008ff"/><stop offset=".804" stop-color="#0000ff"/><stop offset=".82" stop-color="#00008d"/><stop offset=".824" stop-color="#000080"/><stop offset="1" stop-color="#000080"/></linearGradient>
<linearGradient id="h74" x1="0" y1="0" x2="0" y2="1"><stop offset="0" stop-color="#80ff77"/><stop offset=".076" stop-color="#a4ff53"/><stop offset=".132" stop-color="#c4ff33"/><stop offset=".216" stop-color="#deff19"/><stop offset=".332" stop-color="#f1fc06"/><stop offset=".416" stop-color="#feed00"/><stop offset=".496" stop-color="#ffde00"/><stop offset=".612" stop-color="#ffd700"/><stop offset=".672" stop-color="#ffe600"/><stop offset=".688" stop-color="#f8f500"/><stop offset=".696" stop-color="#e4ff13"/><stop offset=".752" stop-color="#2cffca"/><stop offset=".756" stop-color="#1cffdb"/><stop offset=".76" stop-color="#0cf4eb"/><stop offset=".764" stop-color="#00e0fb"/><stop offset=".776" stop-color="#00a8ff"/><stop offset=".8" stop-color="#0014ff"/><stop offset=".804" stop-color="#0000ff"/><stop offset=".808" stop-color="#0000f1"/><stop offset=".82" stop-color="#00009b"/><stop offset=".824" stop-color="#000084"/><stop offset="1" stop-color="#000080"/></linearGradient>
<linearGradient id="h75" x1="0" y1="0" x2="0" y2="1"><stop offset="0" stop-color="#baff3c"/><stop offset=".088" stop-color="#d7ff1f"/><stop offset=".22" stop-color="#f1fc06"/><stop offset=".304" stop-color="#feed00"/><stop offset=".532" stop-color="#ffd700"/><stop offset=".64" stop-color="#ffdb00"/><stop offset=".68" stop-color="#ffea00"/><stop offset=".692" stop-color="#f1fc06"/><stop offset=".732" stop-color="#77ff80"/><stop offset=".76" stop-color="#13fce4"/><stop offset=".764" stop-color="#02e8f4"/><stop offset=".768" stop-color="#00d4ff"/><stop offset=".784" stop-color="#0080ff"/><stop offset=".804" stop-color="#0004ff"/><stop offset=".808" stop-color="#0000f6"/><stop offset=".824" stop-color="#000089"/><stop offset=".828" stop-color="#000080"/><stop offset="1" stop-color="#000080"/></linearGradient>
<linearGradient id="h76" x1="0" y1="0" x2="0" y2="1"><stop offset="0" stop-color="#beff39"/><stop offset=".112" stop-color="#e1ff16"/><stop offset=".196" stop-color="#f1fc06"/><stop offset=".252" stop-color="#feed00"/><stop offset=".42" stop-color="#ffdb00"/><stop offset=".552" stop-color="#ffd300"/><stop offset=".668" stop-color="#ffe600"/><stop offset=".688" stop-color="#f8f500"/><stop offset=".7" stop-color="#deff19"/><stop offset=".752" stop-color="#33ffc4"/><stop offset=".76" stop-color="#13fce4"/><stop offset=".764" stop-color="#02e8f4"/><stop offset=".768" stop-color="#00d4ff"/><stop offset=".78" stop-color="#009cff"/><stop offset=".804" stop-color="#0004ff"/><stop offset=".808" stop-color="#0000fa"/><stop offset=".82" stop-color="#0000a4"/><stop offset=".824" stop-color="#00008d"/><stop offset=".828" stop-color="#000080"/><stop offset="1" stop-color="#000080"/></linearGradient>
<linearGradient id="h77" x1="0" y1="0" x2="0" y2="1"><stop offset="0" stop-color="#c1ff36"/><stop offset=".1" stop-color="#e1ff16"/><stop offset=".176" stop-color="#f1fc06"/><stop offset=".236" stop-color="#ffea00"/><stop offset=".352" stop-color="#ffdb00"/><stop offset=".556" stop-color="#ffd300"/><stop offset=".676" stop-color="#feed00"/><stop offset=".692" stop-color="#f1fc06"/><stop offset=".708" stop-color="#c4ff33"/><stop offset=".752" stop-color="#33ffc4"/><stop offset=".76" stop-color="#13fce4"/><stop offset=".768" stop-color="#00d8ff"/><stop offset=".784" stop-color="#0084ff"/><stop offset=".804" stop-color="#0008ff"/><stop offset=".808" stop-color="#0000ff"/><stop offset=".824" stop-color="#00008d"/><stop offset=".828" stop-color="#000080"/><stop offset="1" stop-color="#000080"/></linearGradient>
<linearGradient id="h78" x1="0" y1="0" x2="0" y2="1"><stop offset="0" stop-color="#c7ff30"/><stop offset=".104" stop-color="#e7ff0f"/><stop offset=".152" stop-color="#f1fc06"/><stop offset=".208" stop-color="#ffea00"/><stop offset=".244" stop-color="#ffde00"/><stop offset=".396" stop-color="#ffcc00"/><stop offset=".456" stop-color="#ffd300"/><stop offset=".508" stop-color="#ffd300"/><stop offset=".572" stop-color="#ffd700"/><stop offset=".648" stop-color="#feed00"/><stop offset=".684" stop-color="#f4f802"/><stop offset=".696" stop-color="#e7ff0f"/><stop offset=".736" stop-color="#6dff8a"/><stop offset=".76" stop-color="#16ffe1"/><stop offset=".764" stop-color="#06ecf1"/><stop offset=".768" stop-color="#00d8ff"/><stop offset=".784" stop-color="#0088ff"/><stop offset=".804" stop-color="#000cff"/><stop offset=".808" stop-color="#0000ff"/><stop offset=".824" stop-color="#000092"/><stop offset=".828" stop-color="#000080"/><stop offset="1" stop-color="#000080"/></linearGradient>
<linearGradient id="h79" x1="0" y1="0" x2="0" y2="1"><stop offset="0" stop-color="#c7ff30"/><stop offset=".084" stop-color="#e4ff13"/><stop offset=".14" stop-color="#f1fc06"/><stop offset=".196" stop-color="#feed00"/><stop offset=".24" stop-color="#ffdb00"/><stop offset=".384" stop-color="#ffc800"/><stop offset=".456" stop-color="#ffcc00"/><stop offset=".532" stop-color="#ffcc00"/><stop offset=".612" stop-color="#ffde00"/><stop offset=".68" stop-color="#fbf100"/><stop offset=".696" stop-color="#ebff0c"/><stop offset=".736" stop-color="#70ff87"/><stop offset=".76" stop-color="#19ffde"/><stop offset=".768" stop-color="#00dcfe"/><stop offset=".784" stop-color="#008cff"/><stop offset=".804" stop-color="#0010ff"/><stop offset=".808" stop-color="#0000ff"/><stop offset=".828" stop-color="#000080"/><stop offset="1" stop-color="#000080"/></linearGradient>
<linearGradient id="h80" x1="0" y1="0" x2="0" y2="1"><stop offset="0" stop-color="#caff2c"/><stop offset=".128" stop-color="#f1fc06"/><stop offset=".2" stop-color="#ffea00"/><stop offset=".244" stop-color="#ffd700"/><stop offset=".364" stop-color="#ffc400"/><stop offset=".456" stop-color="#ffc400"/><stop offset=".564" stop-color="#ffcc00"/><stop offset=".66" stop-color="#ffe600"/><stop offset=".684" stop-color="#fbf100"/><stop offset=".692" stop-color="#f4f802"/><stop offset=".7" stop-color="#e4ff13"/><stop offset=".748" stop-color="#49ffad"/><stop offset=".76" stop-color="#1cffdb"/><stop offset=".764" stop-color="#0cf4eb"/><stop offset=".768" stop-color="#00e0fb"/><stop offset=".784" stop-color="#0090ff"/><stop offset=".804" stop-color="#0014ff"/><stop offset=".808" stop-color="#0000ff"/><stop offset=".812" stop-color="#0000f1"/><stop offset=".824" stop-color="#00009b"/><stop offset=".828" stop-color="#000084"/><stop offset="1" stop-color="#000080"/></linearGradient>
<linearGradient id="h81" x1="0" y1="0" x2="0" y2="1"><stop offset="0" stop-color="#caff2c"/><stop offset=".084" stop-color="#e7ff0f"/><stop offset=".124" stop-color="#f1fc06"/><stop offset=".172" stop-color="#feed00"/><stop offset=".208" stop-color="#ffe200"/><stop offset=".264" stop-color="#ffd000"/><stop offset=".344" stop-color="#ffc100"/><stop offset=".452" stop-color="#ffbd00"/><stop offset=".568" stop-color="#ffc800"/><stop offset=".68" stop-color="#ffea00"/><stop offset=".692" stop-color="#f8f500"/><stop offset=".704" stop-color="#dbff1c"/><stop offset=".756" stop-color="#30ffc7"/><stop offset=".764" stop-color="#0ff8e7"/><stop offset=".768" stop-color="#00e4f8"/><stop offset=".776" stop-color="#00bcff"/><stop offset=".784" stop-color="#0098ff"/><stop offset=".808" stop-color="#0000ff"/><stop offset=".812" stop-color="#0000f6"/><stop offset=".824" stop-color="#00009f"/><stop offset=".828" stop-color="#000089"/><stop offset=".832" stop-color="#000080"/><stop offset="1" stop-color="#000080"/></linearGradient>
<linearGradient id="h82" x1="0" y1="0" x2="0" y2="1"><stop offset="0" stop-color="#caff2c"/><stop offset=".06" stop-color="#e1ff16"/><stop offset=".116" stop-color="#f1fc06"/><stop offset=".176" stop-color="#ffea00"/><stop offset=".264" stop-color="#ffd000"/><stop offset=".336" stop-color="#ffc100"/><stop offset=".408" stop-color="#ffb900"/><stop offset=".564" stop-color="#ffc400"/><stop offset=".652" stop-color="#ffde00"/><stop offset=".684" stop-color="#ffea00"/><stop offset=".692" stop-color="#f8f500"/><stop offset=".7" stop-color="#ebff0c"/><stop offset=".756" stop-color="#33ffc4"/><stop offset=".764" stop-color="#13fce4"/><stop offset=".768" stop-color="#02e8f4"/><stop offset=".772" stop-color="#00d4ff"/><stop offset=".784" stop-color="#009cff"/><stop offset=".808" stop-color="#0004ff"/><stop offset=".812" stop-color="#0000fa"/><stop offset=".824" stop-color="#0000a4"/><stop offset=".828" stop-color="#00008d"/><stop offset=".832" stop-color="#000080"/><stop offset="1" stop-color="#000080"/></linearGradient>
<linearGradient id="h83" x1="0" y1="0" x2="0" y2="1"><stop offset="0" stop-color="#ceff29"/><stop offset=".112" stop-color="#f1fc06"/><stop offset=".156" stop-color="#feed00"/><stop offset=".312" stop-color="#ffc400"/><stop offset=".416" stop-color="#ffb900"/><stop offset=".556" stop-color="#ffc100"/><stop offset=".664" stop-color="#ffde00"/><stop offset=".684" stop-color="#ffe600"/><stop offset=".696" stop-color="#f4f802"/><stop offset=".704" stop-color="#e1ff16"/><stop offset=".752" stop-color="#43ffb4"/><stop offset=".764" stop-color="#16ffe1"/><stop offset=".768" stop-color="#06ecf1"/><stop offset=".772" stop-color="#00d8ff"/><stop offset=".784" stop-color="#00a0ff"/><stop offset=".808" stop-color="#0008ff"/><stop offset=".812" stop-color="#0000ff"/><stop offset=".824" stop-color="#0000a8"/><stop offset=".832" stop-color="#000080"/><stop offset="1" stop-color="#000080"/></linearGradient>
<linearGradient id="h84" x1="0" y1="0" x2="0" y2="1"><stop offset="0" stop-color="#ceff29"/><stop offset=".108" stop-color="#f1fc06"/><stop offset=".152" stop-color="#feed00"/><stop offset=".308" stop-color="#ffc400"/><stop offset=".408" stop-color="#ffb900"/><stop offset=".548" stop-color="#ffbd00"/><stop offset=".644" stop-color="#ffd700"/><stop offset=".684" stop-color="#ffe600"/><stop offset=".696" stop-color="#f8f500"/><stop offset=".7" stop-color="#eeff09"/><stop offset=".752" stop-color="#46ffb1"/><stop offset=".764" stop-color="#19ffde"/><stop offset=".772" stop-color="#00dcfe"/><stop offset=".788" stop-color="#008cff"/><stop offset=".808" stop-color="#0010ff"/><stop offset=".812" stop-color="#0000ff"/><stop offset=".82" stop-color="#0000cd"/><stop offset=".824" stop-color="#0000ad"/><stop offset=".832" stop-color="#000080"/><stop offset="1" stop-color="#000080"/></linearGradient>
<linearGradient id="h85" x1="0" y1="0" x2="0" y2="1"><stop offset="0" stop-color="#ceff29"/><stop offset=".104" stop-color="#f1fc06"/><stop offset=".148" stop-color="#feed00"/><stop offset=".316" stop-color="#ffc100"/><stop offset=".404" stop-color="#ffb900"/><stop offset=".532" stop-color="#ffb900"/><stop offset=".684" stop-color="#ffe200"/><stop offset=".696" stop-color="#f8f500"/><stop offset=".704" stop-color="#e4ff13"/><stop offset=".76" stop-color="#2cffca"/><stop offset=".764" stop-color="#1cffdb"/><stop offset=".768" stop-color="#0cf4eb"/><stop offset=".772" stop-color="#00e0fb"/><stop offset=".792" stop-color="#0078ff"/><stop offset=".812" stop-color="#0000ff"/><stop offset=".816" stop-color="#0000ed"/><stop offset=".832" stop-color="#000084"/><stop offset="1" stop-color="#000080"/></linearGradient>
<linearGradient id="h86" x1="0" y1="0" x2="0" y2="1"><stop offset="0" stop-color="#d1ff26"/><stop offset=".1" stop-color="#f1fc06"/><stop offset=".144" stop-color="#feed00"/><stop offset=".312" stop-color="#ffc100"/><stop offset=".384" stop-color="#ffb900"/><stop offset=".532" stop-color="#ffb900"/><stop offset=".684" stop-color="#ffe200"/><stop offset=".696" stop-color="#f8f500"/><stop offset=".708" stop-color="#dbff1c"/><stop offset=".76" stop-color="#30ffc7"/><stop offset=".768" stop-color="#0ff8e7"/><stop offset=".772" stop-color="#00e4f8"/><stop offset=".78" stop-color="#00bcff"/><stop offset=".792" stop-color="#007cff"/><stop offset=".812" stop-color="#0000ff"/><stop offset=".816" stop-color="#0000f6"/><stop offset=".828" stop-color="#00009f"/><stop offset=".832" stop-color="#000089"/><stop offset=".836" stop-color="#000080"/><stop offset="1" stop-color="#000080"/></linearGradient>
<linearGradient id="h87" x1="0" y1="0" x2="0" y2="1"><stop offset="0" stop-color="#d1ff26"/><stop offset=".096" stop-color="#f1fc06"/><stop offset=".144" stop-color="#feed00"/><stop offset=".308" stop-color="#ffc100"/><stop offset=".396" stop-color="#ffb600"/><stop offset=".532" stop-color="#ffb900"/><stop offset=".684" stop-color="#ffe200"/><stop offset=".696" stop-color="#fbf100"/><stop offset=".7" stop-color="#f4f802"/><stop offset=".708" stop-color="#deff19"/><stop offset=".756" stop-color="#40ffb7"/><stop offset=".768" stop-color="#13fce4"/><stop offset=".772" stop-color="#02e8f4"/><stop offset=".776" stop-color="#00d4ff"/><stop offset=".792" stop-color="#0080ff"/><stop offset=".812" stop-color="#0004ff"/><stop offset=".816" stop-color="#0000fa"/><stop offset=".828" stop-color="#0000a4"/><stop offset=".832" stop-color="#00008d"/><stop offset=".836" stop-color="#000080"/><stop offset="1" stop-color="#000080"/></linearGradient>
<linearGradient id="h88" x1="0" y1="0" x2="0" y2="1"><stop offset="0" stop-color="#d4ff23"/><stop offset=".096" stop-color="#f1fc06"/><stop offset=".132" stop-color="#fbf100"/><stop offset=".304" stop-color="#ffc100"/><stop offset=".38" stop-color="#ffb600"/><stop offset=".532" stop-color="#ffb900"/><stop offset=".684" stop-color="#ffe200"/><stop offset=".696" stop-color="#fbf100"/><stop offset=".7" stop-color="#f4f802"/><stop offset=".708" stop-color="#deff19"/><stop offset=".76" stop-color="#33ffc4"/><stop offset=".768" stop-color="#13fce4"/><stop offset=".772" stop-color="#02e8f4"/><stop offset=".776" stop-color="#00d8ff"/><stop offset=".792" stop-color="#0084ff"/><stop offset=".812" stop-color="#0008ff"/><stop offset=".816" stop-color="#0000ff"/><stop offset=".832" stop-color="#00008d"/><stop offset=".836" stop-color="#000080"/><stop offset="1" stop-color="#000080"/></linearGradient>
<linearGradient id="h89" x1="0" y1="0" x2="0" y2="1"><stop offset="0" stop-color="#d4ff23"/><stop offset=".088" stop-color="#f1fc06"/><stop offset=".144" stop-color="#feed00"/><stop offset=".316" stop-color="#ffbd00"/><stop offset=".4" stop-color="#ffb600"/><stop offset=".476" stop-color="#ffb600"/><stop offset=".552" stop-color="#ffbd00"/><stop offset=".684" stop-color="#ffe200"/><stop offset=".696" stop-color="#fbf100"/><stop offset=".704" stop-color="#eeff09"/><stop offset=".76" stop-color="#36ffc1"/><stop offset=".768" stop-color="#16ffe1"/><stop offset=".772" stop-color="#06ecf1"/><stop offset=".776" stop-color="#00d8ff"/><stop offset=".788" stop-color="#00a0ff"/><stop offset=".812" stop-color="#000cff"/><stop offset=".816" stop-color="#0000ff"/><stop offset=".828" stop-color="#0000a8"/><stop offset=".836" stop-color="#000080"/><stop offset="1" stop-color="#000080"/></linearGradient>
<linearGradient id="h90" x1="0" y1="0" x2="0" y2="1"><stop offset="0" stop-color="#d7ff1f"/><stop offset=".088" stop-color="#f1fc06"/><stop offset=".136" stop-color="#feed00"/><stop offset=".26" stop-color="#ffcc00"/><stop offset=".332" stop-color="#ffb900"/><stop offset=".432" stop-color="#ffb200"/><stop offset=".532" stop-color="#ffb900"/><stop offset=".684" stop-color="#ffe200"/><stop offset=".696" stop-color="#feed00"/><stop offset=".7" stop-color="#f8f500"/><stop offset=".704" stop-color="#eeff09"/><stop offset=".764" stop-color="#29ffce"/><stop offset=".768" stop-color="#19ffde"/><stop offset=".776" stop-color="#00dcfe"/><stop offset=".792" stop-color="#008cff"/><stop offset=".812" stop-color="#000cff"/><stop offset=".816" stop-color="#0000ff"/><stop offset=".824" stop-color="#0000cd"/><stop offset=".828" stop-color="#0000ad"/><stop offset=".836" stop-color="#000080"/><stop offset="1" stop-color="#000080"/></linearGradient>
<linearGradient id="h91" x1="0" y1="0" x2="0" y2="1"><stop offset="0" stop-color="#d7ff1f"/><stop offset=".084" stop-color="#f1fc06"/><stop offset=".132" stop-color="#feed00"/><stop offset=".224" stop-color="#ffd700"/><stop offset=".292" stop-color="#ffc100"/><stop offset=".352" stop-color="#ffb600"/><stop offset=".488" stop-color="#ffb600"/><stop offset=".552" stop-color="#ffbd00"/><stop offset=".684" stop-color="#ffe200"/><stop offset=".696" stop-color="#feed00"/><stop offset=".704" stop-color="#f1fc06"/><stop offset=".76" stop-color="#39ffbe"/><stop offset=".768" stop-color="#19ffde"/><stop offset=".772" stop-color="#0cf4eb"/><stop offset=".776" stop-color="#00e0fb"/><stop offset=".792" stop-color="#0090ff"/><stop offset=".812" stop-color="#0010ff"/><stop offset=".816" stop-color="#0000ff"/><stop offset=".82" stop-color="#0000ed"/><stop offset=".828" stop-color="#0000b2"/><stop offset=".836" stop-color="#000080"/><stop offset="1" stop-color="#000080"/></linearGradient>
<linearGradient id="h92" x1="0" y1="0" x2="0" y2="1"><stop offset="0" stop-color="#dbff1c"/><stop offset=".08" stop-color="#f1fc06"/><stop offset=".124" stop-color="#feed00"/><stop offset=".188" stop-color="#ffe200"/><stop offset=".3" stop-color="#ffbd00"/><stop offset=".372" stop-color="#ffb200"/><stop offset=".476" stop-color="#ffb200"/><stop offset=".56" stop-color="#ffbd00"/><stop offset=".688" stop-color="#ffe200"/><stop offset=".7" stop-color="#f8f500"/><stop offset=".712" stop-color="#dbff1c"/><stop offset=".736" stop-color="#8aff6d"/><stop offset=".764" stop-color="#2cffca"/><stop offset=".768" stop-color="#1cffdb"/><stop offset=".772" stop-color="#0cf4eb"/><stop offset=".776" stop-color="#00e0fb"/><stop offset=".792" stop-color="#0094ff"/><stop offset=".812" stop-color="#0014ff"/><stop offset=".816" stop-color="#0000ff"/><stop offset=".82" stop-color="#0000f1"/><stop offset=".832" stop-color="#00009b"/><stop offset=".836" stop-color="#000084"/><stop offset="1" stop-color="#000080"/></linearGradient>
<linearGradient id="h93" x1="0" y1="0" x2="0" y2="1"><stop offset="0" stop-color="#dbff1c"/><stop offset=".076" stop-color="#f1fc06"/><stop offset=".132" stop-color="#feed00"/><stop offset=".216" stop-color="#ffd700"/><stop offset=".304" stop-color="#ffb900"/><stop offset=".376" stop-color="#ffae00"/><stop offset=".496" stop-color="#ffae00"/><stop offset=".68" stop-color="#ffdb00"/><stop offset=".688" stop-color="#ffde00"/><stop offset=".7" stop-color="#fbf100"/><stop offset=".704" stop-color="#f4f802"/><stop offset=".712" stop-color="#dbff1c"/><stop offset=".764" stop-color="#30ffc7"/><stop offset=".772" stop-color="#0ff8e7"/><stop offset=".776" stop-color="#00e4f8"/><stop offset=".784" stop-color="#00bcff"/><stop offset=".8" stop-color="#0064ff"/><stop offset=".816" stop-color="#0000ff"/><stop offset=".82" stop-color="#0000f6"/><stop offset=".832" stop-color="#00009f"/><stop offset=".836" stop-color="#000089"/><stop offset=".84" stop-color="#000080"/><stop offset="1" stop-color="#000080"/></linearGradient>
<linearGradient id="h94" x1="0" y1="0" x2="0" y2="1"><stop offset="0" stop-color="#deff19"/><stop offset=".076" stop-color="#f1fc06"/><stop offset=".124" stop-color="#feed00"/><stop offset=".204" stop-color="#ffdb00"/><stop offset=".292" stop-color="#ffb900"/><stop offset=".368" stop-color="#ffab00"/><stop offset=".516" stop-color="#ffae00"/><stop offset=".68" stop-color="#ffd700"/><stop offset=".7" stop-color="#feed00"/><stop offset=".708" stop-color="#ebff0c"/><stop offset=".76" stop-color="#40ffb7"/><stop offset=".772" stop-color="#13fce4"/><stop offset=".776" stop-color="#02e8f4"/><stop offset=".78" stop-color="#00d4ff"/><stop offset=".796" stop-color="#0080ff"/><stop offset=".816" stop-color="#0004ff"/><stop offset=".82" stop-color="#0000fa"/><stop offset=".832" stop-color="#0000a4"/><stop offset=".836" stop-color="#00008d"/><stop offset=".84" stop-color="#000080"/><stop offset="1" stop-color="#000080"/></linearGradient>
<linearGradient id="h95" x1="0" y1="0" x2="0" y2="1"><stop offset="0" stop-color="#deff19"/><stop offset=".076" stop-color="#f1fc06"/><stop offset=".124" stop-color="#feed00"/><stop offset=".212" stop-color="#ffd700"/><stop offset=".296" stop-color="#ffb600"/><stop offset=".38" stop-color="#ffa700"/><stop offset=".512" stop-color="#ffab00"/><stop offset=".624" stop-color="#ffc400"/><stop offset=".688" stop-color="#ffdb00"/><stop offset=".7" stop-color="#feed00"/><stop offset=".704" stop-color="#f8f500"/><stop offset=".708" stop-color="#eeff09"/><stop offset=".768" stop-color="#23ffd4"/><stop offset=".772" stop-color="#13fce4"/><stop offset=".776" stop-color="#02e8f4"/><stop offset=".78" stop-color="#00d8ff"/><stop offset=".796" stop-color="#0084ff"/><stop offset=".816" stop-color="#0008ff"/><stop offset=".82" stop-color="#0000ff"/><stop offset=".836" stop-color="#00008d"/><stop offset=".84" stop-color="#000080"/><stop offset="1" stop-color="#000080"/></linearGradient>
<linearGradient id="h96" x1="0" y1="0" x2="0" y2="1"><stop offset="0" stop-color="#caff2c"/><stop offset=".092" stop-color="#f1fc06"/><stop offset=".14" stop-color="#feed00"/><stop offset=".224" stop-color="#ffd000"/><stop offset=".292" stop-color="#ffb600"/><stop offset=".36" stop-color="#ffa700"/><stop offset=".496" stop-color="#ffa700"/><stop offset=".572" stop-color="#ffb200"/><stop offset=".68" stop-color="#ffd000"/><stop offset=".696" stop-color="#ffe200"/><stop offset=".704" stop-color="#fbf100"/><stop offset=".708" stop-color="#eeff09"/><stop offset=".764" stop-color="#36ffc1"/><stop offset=".772" stop-color="#16ffe1"/><stop offset=".776" stop-color="#06ecf1"/><stop offset=".78" stop-color="#00d8ff"/><stop offset=".796" stop-color="#0088ff"/><stop offset=".816" stop-color="#000cff"/><stop offset=".82" stop-color="#0000ff"/><stop offset=".832" stop-color="#0000a8"/><stop offset=".84" stop-color="#000080"/><stop offset="1" stop-color="#000080"/></linearGradient>
<linearGradient id="h97" x1="0" y1="0" x2="0" y2="1"><stop offset="0" stop-color="#b7ff40"/><stop offset=".104" stop-color="#f1fc06"/><stop offset=".14" stop-color="#feed00"/><stop offset=".22" stop-color="#ffd000"/><stop offset=".264" stop-color="#ffbd00"/><stop offset=".34" stop-color="#ffa700"/><stop offset=".416" stop-color="#ff9f00"/><stop offset=".52" stop-color="#ffa300"/><stop offset=".664" stop-color="#ffc400"/><stop offset=".692" stop-color="#ffd700"/><stop offset=".704" stop-color="#fbf100"/><stop offset=".712" stop-color="#e4ff13"/><stop offset=".772" stop-color="#19ffde"/><stop offset=".78" stop-color="#00dcfe"/><stop offset=".796" stop-color="#008cff"/><stop offset=".816" stop-color="#000cff"/><stop offset=".82" stop-color="#0000ff"/><stop offset=".828" stop-color="#0000cd"/><stop offset=".832" stop-color="#0000ad"/><stop offset=".84" stop-color="#000080"/><stop offset="1" stop-color="#000080"/></linearGradient>
<linearGradient id="h98" x1="0" y1="0" x2="0" y2="1"><stop offset="0" stop-color="#a0ff56"/><stop offset=".044" stop-color="#baff3c"/><stop offset=".108" stop-color="#f1fc06"/><stop offset=".14" stop-color="#feed00"/><stop offset=".22" stop-color="#ffcc00"/><stop offset=".292" stop-color="#ffb200"/><stop offset=".348" stop-color="#ffa300"/><stop offset=".448" stop-color="#ff9c00"/><stop offset=".52" stop-color="#ff9f00"/><stop offset=".656" stop-color="#ffbd00"/><stop offset=".692" stop-color="#ffd300"/><stop offset=".704" stop-color="#feed00"/><stop offset=".708" stop-color="#f4f802"/><stop offset=".716" stop-color="#d7ff1f"/><stop offset=".764" stop-color="#39ffbe"/><stop offset=".772" stop-color="#19ffde"/><stop offset=".776" stop-color="#0cf4eb"/><stop offset=".78" stop-color="#00e0fb"/><stop offset=".796" stop-color="#0090ff"/><stop offset=".816" stop-color="#0010ff"/><stop offset=".82" stop-color="#0000ff"/><stop offset=".824" stop-color="#0000ed"/><stop offset=".832" stop-color="#0000b2"/><stop offset=".84" stop-color="#000080"/><stop offset="1" stop-color="#000080"/></linearGradient>
<linearGradient id="h99" x1="0" y1="0" x2="0" y2="1"><stop offset="0" stop-color="#a0ff56"/><stop offset=".052" stop-color="#c1ff36"/><stop offset=".108" stop-color="#f1fc06"/><stop offset=".132" stop-color="#feed00"/><stop offset=".22" stop-color="#ffcc00"/><stop offset=".284" stop-color="#ffb200"/><stop offset=".352" stop-color="#ff9f00"/><stop offset=".452" stop-color="#ff9800"/><stop offset=".532" stop-color="#ff9c00"/><stop offset=".664" stop-color="#ffb900"/><stop offset=".692" stop-color="#ffd000"/><stop offset=".704" stop-color="#feed00"/><stop offset=".708" stop-color="#f8f500"/><stop offset=".712" stop-color="#e7ff0f"/><stop offset=".76" stop-color="#49ffad"/><stop offset=".772" stop-color="#1cffdb"/><stop offset=".776" stop-color="#0cf4eb"/><stop offset=".78" stop-color="#00e0fb"/><stop offset=".796" stop-color="#0094ff"/><stop offset=".816" stop-color="#0014ff"/><stop offset=".82" stop-color="#0000ff"/><stop offset=".824" stop-color="#0000f1"/><stop offset=".836" stop-color="#00009b"/><stop offset=".84" stop-color="#000084"/><stop offset="1" stop-color="#000080"/></linearGradient>
<linearGradient id="h100" x1="0" y1="0" x2="0" y2="1"><stop offset="0" stop-color="#b7ff40"/><stop offset=".1" stop-color="#f1fc06"/><stop offset=".132" stop-color="#feed00"/><stop offset=".22" stop-color="#ffcc00"/><stop offset=".296" stop-color="#ffab00"/><stop offset=".348" stop-color="#ff9c00"/><stop offset=".428" stop-color="#ff9400"/><stop offset=".528" stop-color="#ff9400"/><stop offset=".628" stop-color="#ffa700"/><stop offset=".672" stop-color="#ffb900"/><stop offset=".692" stop-color="#ffcc00"/><stop offset=".704" stop-color="#ffea00"/><stop offset=".708" stop-color="#f8f500"/><stop offset=".712" stop-color="#ebff0c"/><stop offset=".768" stop-color="#30ffc7"/><stop offset=".776" stop-color="#0ff8e7"/><stop offset=".78" stop-color="#00e4f8"/><stop offset=".788" stop-color="#00bcff"/><stop offset=".804" stop-color="#0064ff"/><stop offset=".82" stop-color="#0000ff"/><stop offset=".824" stop-color="#0000f6"/><stop offset=".836" stop-color="#00009f"/><stop offset=".84" stop-color="#000089"/><stop offset=".844" stop-color="#000080"/><stop offset="1" stop-color="#000080"/></linearGradient>
<linearGradient id="h101" x1="0" y1="0" x2="0" y2="1"><stop offset="0" stop-color="#c7ff30"/><stop offset=".08" stop-color="#f1fc06"/><stop offset=".124" stop-color="#feed00"/><stop offset=".216" stop-color="#ffcc00"/><stop offset=".316" stop-color="#ff9f00"/><stop offset=".396" stop-color="#ff9100"/><stop offset=".484" stop-color="#ff8900"/><stop offset=".6" stop-color="#ff9800"/><stop offset=".66" stop-color="#ffab00"/><stop offset=".692" stop-color="#ffcc00"/><stop offset=".708" stop-color="#fbf100"/><stop offset=".712" stop-color="#eeff09"/><stop offset=".736" stop-color="#9aff5d"/><stop offset=".748" stop-color="#77ff80"/><stop offset=".776" stop-color="#13fce4"/><stop offset=".78" stop-color="#02e8f4"/><stop offset=".784" stop-color="#00d4ff"/><stop offset=".8" stop-color="#0080ff"/><stop offset=".82" stop-color="#0004ff"/><stop offset=".824" stop-color="#0000fa"/><stop offset=".836" stop-color="#0000a4"/><stop offset=".84" stop-color="#00008d"/><stop offset=".844" stop-color="#000080"/><stop offset="1" stop-color="#000080"/></linearGradient>
<linearGradient id="h102" x1="0" y1="0" x2="0" y2="1"><stop offset="0" stop-color="#dbff1c"/><stop offset=".064" stop-color="#f1fc06"/><stop offset=".112" stop-color="#ffea00"/><stop offset=".208" stop-color="#ffd000"/><stop offset=".296" stop-color="#ffa300"/><stop offset=".36" stop-color="#ff9100"/><stop offset=".472" stop-color="#ff8600"/><stop offset=".564" stop-color="#ff8900"/><stop offset=".632" stop-color="#ff9800"/><stop offset=".672" stop-color="#ffae00"/><stop offset=".696" stop-color="#ffd000"/><stop offset=".708" stop-color="#fbf100"/><stop offset=".712" stop-color="#eeff09"/><stop offset=".772" stop-color="#23ffd4"/><stop offset=".776" stop-color="#13fce4"/><stop offset=".78" stop-color="#02e8f4"/><stop offset=".784" stop-color="#00d8ff"/><stop offset=".8" stop-color="#0084ff"/><stop offset=".82" stop-color="#0008ff"/><stop offset=".824" stop-color="#0000ff"/><stop offset=".84" stop-color="#00008d"/><stop offset=".844" stop-color="#000080"/><stop offset="1" stop-color="#000080"/></linearGradient>
<linearGradient id="h103" x1="0" y1="0" x2="0" y2="1"><stop offset="0" stop-color="#d1ff26"/><stop offset=".068" stop-color="#f1fc06"/><stop offset=".1" stop-color="#feed00"/><stop offset=".208" stop-color="#ffcc00"/><stop offset=".304" stop-color="#ff9c00"/><stop offset=".36" stop-color="#ff8d00"/><stop offset=".468" stop-color="#ff7e00"/><stop offset=".576" stop-color="#ff8200"/><stop offset=".644" stop-color="#ff9400"/><stop offset=".676" stop-color="#ffb200"/><stop offset=".692" stop-color="#ffc400"/><stop offset=".708" stop-color="#feed00"/><stop offset=".712" stop-color="#f1fc06"/><stop offset=".732" stop-color="#aaff4d"/><stop offset=".768" stop-color="#36ffc1"/><stop offset=".776" stop-color="#16ffe1"/><stop offset=".78" stop-color="#06ecf1"/><stop offset=".784" stop-color="#00d8ff"/><stop offset=".796" stop-color="#00a0ff"/><stop offset=".82" stop-color="#000cff"/><stop offset=".824" stop-color="#0000ff"/><stop offset=".836" stop-color="#0000a8"/><stop offset=".844" stop-color="#000080"/><stop offset="1" stop-color="#000080"/></linearGradient>
<linearGradient id="h104" x1="0" y1="0" x2="0" y2="1"><stop offset="0" stop-color="#7aff7d"/><stop offset=".064" stop-color="#a7ff50"/><stop offset=".124" stop-color="#f1fc06"/><stop offset=".148" stop-color="#ffe600"/><stop offset=".208" stop-color="#ffc800"/><stop offset=".252" stop-color="#ffae00"/><stop offset=".336" stop-color="#ff8d00"/><stop offset=".464" stop-color="#ff7700"/><stop offset=".588" stop-color="#ff7a00"/><stop offset=".644" stop-color="#ff8d00"/><stop offset=".68" stop-color="#ffb200"/><stop offset=".696" stop-color="#ffcc00"/><stop offset=".708" stop-color="#feed00"/><stop offset=".712" stop-color="#f4f802"/><stop offset=".72" stop-color="#d7ff1f"/><stop offset=".776" stop-color="#19ffde"/><stop offset=".784" stop-color="#00dcfe"/><stop offset=".8" stop-color="#008cff"/><stop offset=".82" stop-color="#000cff"/><stop offset=".824" stop-color="#0000ff"/><stop offset=".832" stop-color="#0000cd"/><stop offset=".836" stop-color="#0000ad"/><stop offset=".844" stop-color="#000080"/><stop offset="1" stop-color="#000080"/></linearGradient>
<linearGradient id="h105" x1="0" y1="0" x2="0" y2="1"><stop offset="0" stop-color="#66ff90"/><stop offset=".032" stop-color="#70ff87"/><stop offset=".08" stop-color="#97ff60"/><stop offset=".136" stop-color="#deff19"/><stop offset=".156" stop-color="#f1fc06"/><stop offset=".18" stop-color="#ffe200"/><stop offset=".24" stop-color="#ffb200"/><stop offset=".348" stop-color="#ff8600"/><stop offset=".492" stop-color="#ff6f00"/><stop offset=".576" stop-color="#ff7300"/><stop offset=".632" stop-color="#ff8200"/><stop offset=".668" stop-color="#ff9f00"/><stop offset=".692" stop-color="#ffc100"/><stop offset=".708" stop-color="#ffea00"/><stop offset=".712" stop-color="#f8f500"/><stop offset=".716" stop-color="#e7ff0f"/><stop offset=".776" stop-color="#1cffdb"/><stop offset=".78" stop-color="#0cf4eb"/><stop offset=".784" stop-color="#00e0fb"/><stop offset=".8" stop-color="#0090ff"/><stop offset=".82" stop-color="#0014ff"/><stop offset=".824" stop-color="#0000ff"/><stop offset=".828" stop-color="#0000ed"/><stop offset=".836" stop-color="#0000b2"/><stop offset=".844" stop-color="#000080"/><stop offset="1" stop-color="#000080"/></linearGradient>
<linearGradient id="h106" x1="0" y1="0" x2="0" y2="1"><stop offset="0" stop-color="#5dff9a"/><stop offset=".04" stop-color="#6aff8d"/><stop offset=".076" stop-color="#80ff77"/><stop offset=".164" stop-color="#deff19"/><stop offset=".188" stop-color="#f1fc06"/><stop offset=".204" stop-color="#ffea00"/><stop offset=".276" stop-color="#ff9f00"/><stop offset=".34" stop-color="#ff8600"/><stop offset=".476" stop-color="#ff6c00"/><stop offset=".588" stop-color="#ff6f00"/><stop offset=".632" stop-color="#ff7e00"/><stop offset=".672" stop-color="#ffa300"/><stop offset=".696" stop-color="#ffc800"/><stop offset=".708" stop-color="#ffea00"/><stop offset=".712" stop-color="#f8f500"/><stop offset=".716" stop-color="#ebff0c"/><stop offset=".736" stop-color="#a4ff53"/><stop offset=".752" stop-color="#73ff83"/><stop offset=".776" stop-color="#1cffdb"/><stop offset=".78" stop-color="#0ff8e7"/><stop offset=".784" stop-color="#00e4f8"/><stop offset=".792" stop-color="#00bcff"/><stop offset=".804" stop-color="#007cff"/><stop offset=".824" stop-color="#0000ff"/><stop offset=".828" stop-color="#0000f1"/><stop offset=".836" stop-color="#0000b6"/><stop offset=".844" stop-color="#000084"/><stop offset="1" stop-color="#000080"/></linearGradient>
<linearGradient id="h107" x1="0" y1="0" x2="0" y2="1"><stop offset="0" stop-color="#60ff97"/><stop offset=".052" stop-color="#70ff87"/><stop offset=".116" stop-color="#a4ff53"/><stop offset=".168" stop-color="#d4ff23"/><stop offset=".204" stop-color="#f1fc06"/><stop offset=".22" stop-color="#ffea00"/><stop offset=".288" stop-color="#ffa300"/><stop offset=".376" stop-color="#ff7a00"/><stop offset=".488" stop-color="#ff6400"/><stop offset=".58" stop-color="#ff6800"/><stop offset=".628" stop-color="#ff7700"/><stop offset=".656" stop-color="#ff8d00"/><stop offset=".696" stop-color="#ffc400"/><stop offset=".712" stop-color="#fbf100"/><stop offset=".716" stop-color="#eeff09"/><stop offset=".74" stop-color="#9aff5d"/><stop offset=".764" stop-color="#4dffaa"/><stop offset=".776" stop-color="#1fffd7"/><stop offset=".78" stop-color="#0ff8e7"/><stop offset=".784" stop-color="#02e8f4"/><stop offset=".788" stop-color="#00d4ff"/><stop offset=".804" stop-color="#0080ff"/><stop offset=".824" stop-color="#0004ff"/><stop offset=".828" stop-color="#0000f6"/><stop offset=".844" stop-color="#000089"/><stop offset=".848" stop-color="#000080"/><stop offset="1" stop-color="#000080"/></linearGradient>
<linearGradient id="h108" x1="0" y1="0" x2="0" y2="1"><stop offset="0" stop-color="#7aff7d"/><stop offset=".052" stop-color="#87ff70"/><stop offset=".088" stop-color="#9dff5a"/><stop offset=".204" stop-color="#f1fc06"/><stop offset=".232" stop-color="#ffea00"/><stop offset=".32" stop-color="#ffa300"/><stop offset=".364" stop-color="#ff8600"/><stop offset=".424" stop-color="#ff6c00"/><stop offset=".484" stop-color="#ff6000"/><stop offset=".592" stop-color="#ff6400"/><stop offset=".628" stop-color="#ff7300"/><stop offset=".652" stop-color="#ff8900"/><stop offset=".68" stop-color="#ffab00"/><stop offset=".696" stop-color="#ffc400"/><stop offset=".712" stop-color="#fbf100"/><stop offset=".716" stop-color="#eeff09"/><stop offset=".776" stop-color="#23ffd4"/><stop offset=".78" stop-color="#13fce4"/><stop offset=".784" stop-color="#02e8f4"/><stop offset=".788" stop-color="#00d8ff"/><stop offset=".804" stop-color="#0084ff"/><stop offset=".824" stop-color="#0008ff"/><stop offset=".828" stop-color="#0000fa"/><stop offset=".844" stop-color="#00008d"/><stop offset=".848" stop-color="#000080"/><stop offset="1" stop-color="#000080"/></linearGradient>
<linearGradient id="h109" x1="0" y1="0" x2="0" y2="1"><stop offset="0" stop-color="#baff3c"/><stop offset=".084" stop-color="#d4ff23"/><stop offset=".164" stop-color="#f1fc06"/><stop offset=".196" stop-color="#feed00"/><stop offset=".324" stop-color="#ffa700"/><stop offset=".416" stop-color="#ff7300"/><stop offset=".48" stop-color="#ff5d00"/><stop offset=".596" stop-color="#ff6000"/><stop offset=".632" stop-color="#ff7300"/><stop offset=".668" stop-color="#ff9800"/><stop offset=".7" stop-color="#ffcc00"/><stop offset=".712" stop-color="#feed00"/><stop offset=".716" stop-color="#f1fc06"/><stop offset=".732" stop-color="#b7ff40"/><stop offset=".772" stop-color="#36ffc1"/><stop offset=".78" stop-color="#16ffe1"/><stop offset=".784" stop-color="#06ecf1"/><stop offset=".788" stop-color="#00d8ff"/><stop offset=".804" stop-color="#0088ff"/><stop offset=".824" stop-color="#000cff"/><stop offset=".828" stop-color="#0000ff"/><stop offset=".844" stop-color="#000092"/><stop offset=".848" stop-color="#000080"/><stop offset="1" stop-color="#000080"/></linearGradient>
<linearGradient id="h110" x1="0" y1="0" x2="0" y2="1"><stop offset="0" stop-color="#dbff1c"/><stop offset=".056" stop-color="#f1fc06"/><stop offset=".092" stop-color="#ffea00"/><stop offset=".196" stop-color="#ffc800"/><stop offset=".288" stop-color="#ff9100"/><stop offset=".348" stop-color="#ff7700"/><stop offset=".48" stop-color="#ff5900"/><stop offset=".58" stop-color="#ff5900"/><stop offset=".632" stop-color="#ff6f00"/><stop offset=".668" stop-color="#ff9800"/><stop offset=".696" stop-color="#ffc100"/><stop offset=".712" stop-color="#feed00"/><stop offset=".716" stop-color="#f4f802"/><stop offset=".724" stop-color="#d7ff1f"/><stop offset=".776" stop-color="#29ffce"/><stop offset=".78" stop-color="#19ffde"/><stop offset=".788" stop-color="#00dcfe"/><stop offset=".804" stop-color="#008cff"/><stop offset=".824" stop-color="#0010ff"/><stop offset=".828" stop-color="#0000ff"/><stop offset=".836" stop-color="#0000cd"/><stop offset=".84" stop-color="#0000ad"/><stop offset=".848" stop-color="#000080"/><stop offset="1" stop-color="#000080"/></linearGradient>
<linearGradient id="h111" x1="0" y1="0" x2="0" y2="1"><stop offset="0" stop-color="#d1ff26"/><stop offset=".056" stop-color="#f1fc06"/><stop offset=".092" stop-color="#ffea00"/><stop offset=".208" stop-color="#ffc100"/><stop offset=".284" stop-color="#ff9100"/><stop offset=".352" stop-color="#ff7300"/><stop offset=".444" stop-color="#ff5d00"/><stop offset=".484" stop-color="#ff5500"/><stop offset=".576" stop-color="#ff5500"/><stop offset=".624" stop-color="#ff6800"/><stop offset=".664" stop-color="#ff9100"/><stop offset=".7" stop-color="#ffc800"/><stop offset=".712" stop-color="#ffea00"/><stop offset=".716" stop-color="#f8f500"/><stop offset=".72" stop-color="#e7ff0f"/><stop offset=".776" stop-color="#2cffca"/><stop offset=".78" stop-color="#1cffdb"/><stop offset=".784" stop-color="#0cf4eb"/><stop offset=".788" stop-color="#00e0fb"/><stop offset=".808" stop-color="#0078ff"/><stop offset=".824" stop-color="#0014ff"/><stop offset=".828" stop-color="#0000ff"/><stop offset=".832" stop-color="#0000ed"/><stop offset=".848" stop-color="#000084"/><stop offset="1" stop-color="#000080"/></linearGradient>
<linearGradient id="h112" x1="0" y1="0" x2="0" y2="1"><stop offset="0" stop-color="#c7ff30"/><stop offset=".068" stop-color="#f1fc06"/><stop offset=".088" stop-color="#fbf100"/><stop offset=".128" stop-color="#ffde00"/><stop offset=".192" stop-color="#ffc800"/><stop offset=".248" stop-color="#ffa700"/><stop offset=".324" stop-color="#ff7a00"/><stop offset=".48" stop-color="#ff5200"/><stop offset=".572" stop-color="#ff5200"/><stop offset=".62" stop-color="#ff6400"/><stop offset=".652" stop-color="#ff8200"/><stop offset=".692" stop-color="#ffb900"/><stop offset=".708" stop-color="#ffde00"/><stop offset=".716" stop-color="#f8f500"/><stop offset=".72" stop-color="#ebff0c"/><stop offset=".736" stop-color="#b4ff43"/><stop offset=".78" stop-color="#1fffd7"/><stop offset=".784" stop-color="#0ff8e7"/><stop offset=".788" stop-color="#00e4f8"/><stop offset=".796" stop-color="#00bcff"/><stop offset=".808" stop-color="#007cff"/><stop offset=".828" stop-color="#0000ff"/><stop offset=".832" stop-color="#0000f6"/><stop offset=".844" stop-color="#00009f"/><stop offset=".848" stop-color="#000089"/><stop offset=".852" stop-color="#000080"/><stop offset="1" stop-color="#000080"/></linearGradient>
<linearGradient id="h113" x1="0" y1="0" x2="0" y2="1"><stop offset="0" stop-color="#baff3c"/><stop offset=".064" stop-color="#ebff0c"/><stop offset=".088" stop-color="#f8f500"/><stop offset=".124" stop-color="#ffe200"/><stop offset=".212" stop-color="#ffbd00"/><stop offset=".28" stop-color="#ff9100"/><stop offset=".34" stop-color="#ff7300"/><stop offset=".472" stop-color="#ff5200"/><stop offset=".568" stop-color="#ff4e00"/><stop offset=".616" stop-color="#ff6000"/><stop offset=".648" stop-color="#ff7a00"/><stop offset=".692" stop-color="#ffb900"/><stop offset=".7" stop-color="#ffc400"/><stop offset=".716" stop-color="#fbf100"/><stop offset=".72" stop-color="#eeff09"/><stop offset=".744" stop-color="#9aff5d"/><stop offset=".772" stop-color="#40ffb7"/><stop offset=".784" stop-color="#13fce4"/><stop offset=".788" stop-color="#02e8f4"/><stop offset=".792" stop-color="#00d4ff"/><stop offset=".808" stop-color="#0080ff"/><stop offset=".828" stop-color="#0004ff"/><stop offset=".832" stop-color="#0000fa"/><stop offset=".844" stop-color="#0000a4"/><stop offset=".848" stop-color="#00008d"/><stop offset=".852" stop-color="#000080"/><stop offset="1" stop-color="#000080"/></linearGradient>
<linearGradient id="h114" x1="0" y1="0" x2="0" y2="1"><stop offset="0" stop-color="#c7ff30"/><stop offset=".068" stop-color="#f1fc06"/><stop offset=".088" stop-color="#feed00"/><stop offset=".204" stop-color="#ffc100"/><stop offset=".304" stop-color="#ff8200"/><stop offset=".356" stop-color="#ff6c00"/><stop offset=".436" stop-color="#ff5900"/><stop offset=".476" stop-color="#ff4e00"/><stop offset=".576" stop-color="#ff4e00"/><stop offset=".628" stop-color="#ff6400"/><stop offset=".676" stop-color="#ff9f00"/><stop offset=".7" stop-color="#ffc400"/><stop offset=".716" stop-color="#fbf100"/><stop offset=".72" stop-color="#f1fc06"/><stop offset=".748" stop-color="#90ff66"/><stop offset=".776" stop-color="#33ffc4"/><stop offset=".784" stop-color="#13fce4"/><stop offset=".792" stop-color="#00d8ff"/><stop offset=".808" stop-color="#0084ff"/><stop offset=".828" stop-color="#0008ff"/><stop offset=".832" stop-color="#0000ff"/><stop offset=".844" stop-color="#0000a8"/><stop offset=".852" stop-color="#000080"/><stop offset="1" stop-color="#000080"/></linearGradient>
<linearGradient id="h115" x1="0" y1="0" x2="0" y2="1"><stop offset="0" stop-color="#d1ff26"/><stop offset=".056" stop-color="#f1fc06"/><stop offset=".08" stop-color="#feed00"/><stop offset=".16" stop-color="#ffd000"/><stop offset=".208" stop-color="#ffbd00"/><stop offset=".296" stop-color="#ff8600"/><stop offset=".348" stop-color="#ff6f00"/><stop offset=".488" stop-color="#ff4a00"/><stop offset=".568" stop-color="#ff4a00"/><stop offset=".608" stop-color="#ff5900"/><stop offset=".636" stop-color="#ff6c00"/><stop offset=".68" stop-color="#ffa300"/><stop offset=".704" stop-color="#ffcc00"/><stop offset=".716" stop-color="#feed00"/><stop offset=".72" stop-color="#f1fc06"/><stop offset=".78" stop-color="#26ffd1"/><stop offset=".784" stop-color="#16ffe1"/><stop offset=".788" stop-color="#06ecf1"/><stop offset=".792" stop-color="#00dcfe"/><stop offset=".808" stop-color="#0088ff"/><stop offset=".828" stop-color="#000cff"/><stop offset=".832" stop-color="#0000ff"/><stop offset=".848" stop-color="#000092"/><stop offset=".852" stop-color="#000080"/><stop offset="1" stop-color="#000080"/></linearGradient>
<linearGradient id="h116" x1="0" y1="0" x2="0" y2="1"><stop offset="0" stop-color="#d7ff1f"/><stop offset=".048" stop-color="#f1fc06"/><stop offset=".068" stop-color="#fbf100"/><stop offset=".144" stop-color="#ffd000"/><stop offset=".224" stop-color="#ffb200"/><stop offset=".296" stop-color="#ff8900"/><stop offset=".376" stop-color="#ff6c00"/><stop offset=".476" stop-color="#ff4e00"/><stop offset=".544" stop-color="#ff4700"/><stop offset=".604" stop-color="#ff5500"/><stop offset=".644" stop-color="#ff7300"/><stop offset=".692" stop-color="#ffb600"/><stop offset=".704" stop-color="#ffcc00"/><stop offset=".716" stop-color="#feed00"/><stop offset=".72" stop-color="#f4f802"/><stop offset=".728" stop-color="#d7ff1f"/><stop offset=".776" stop-color="#39ffbe"/><stop offset=".784" stop-color="#19ffde"/><stop offset=".792" stop-color="#00dcfe"/><stop offset=".804" stop-color="#00a4ff"/><stop offset=".828" stop-color="#0010ff"/><stop offset=".832" stop-color="#0000ff"/><stop offset=".836" stop-color="#0000ed"/><stop offset=".848" stop-color="#000096"/><stop offset=".852" stop-color="#000080"/><stop offset="1" stop-color="#000080"/></linearGradient>
<linearGradient id="h117" x1="0" y1="0" x2="0" y2="1"><stop offset="0" stop-color="#deff19"/><stop offset=".04" stop-color="#f1fc06"/><stop offset=".064" stop-color="#feed00"/><stop offset=".24" stop-color="#ffa700"/><stop offset=".352" stop-color="#ff7700"/><stop offset=".48" stop-color="#ff4e00"/><stop offset=".544" stop-color="#ff4700"/><stop offset=".604" stop-color="#ff5500"/><stop offset=".644" stop-color="#ff7300"/><stop offset=".676" stop-color="#ff9c00"/><stop offset=".704" stop-color="#ffc800"/><stop offset=".716" stop-color="#ffea00"/><stop offset=".72" stop-color="#f8f500"/><stop offset=".724" stop-color="#e7ff0f"/><stop offset=".772" stop-color="#49ffad"/><stop offset=".784" stop-color="#1cffdb"/><stop offset=".788" stop-color="#0cf4eb"/><stop offset=".792" stop-color="#00e0fb"/><stop offset=".804" stop-color="#00a8ff"/><stop offset=".828" stop-color="#0014ff"/><stop offset=".832" stop-color="#0000ff"/><stop offset=".836" stop-color="#0000f1"/><stop offset=".848" stop-color="#00009b"/><stop offset=".852" stop-color="#000084"/><stop offset="1" stop-color="#000080"/></linearGradient>
<linearGradient id="h118" x1="0" y1="0" x2="0" y2="1"><stop offset="0" stop-color="#deff19"/><stop offset=".044" stop-color="#f1fc06"/><stop offset=".08" stop-color="#ffea00"/><stop offset=".296" stop-color="#ff8d00"/><stop offset=".38" stop-color="#ff6c00"/><stop offset=".492" stop-color="#ff4a00"/><stop offset=".576" stop-color="#ff4a00"/><stop offset=".636" stop-color="#ff6800"/><stop offset=".684" stop-color="#ffa700"/><stop offset=".704" stop-color="#ffc400"/><stop offset=".716" stop-color="#ffe600"/><stop offset=".72" stop-color="#f8f500"/><stop offset=".724" stop-color="#ebff0c"/><stop offset=".78" stop-color="#30ffc7"/><stop offset=".788" stop-color="#0ff8e7"/><stop offset=".792" stop-color="#00e4f8"/><stop offset=".8" stop-color="#00bcff"/><stop offset=".808" stop-color="#0098ff"/><stop offset=".832" stop-color="#0000ff"/><stop offset=".836" stop-color="#0000f6"/><stop offset=".848" stop-color="#00009f"/><stop offset=".852" stop-color="#000089"/><stop offset=".856" stop-color="#000080"/><stop offset="1" stop-color="#000080"/></linearGradient>
<linearGradient id="h119" x1="0" y1="0" x2="0" y2="1"><stop offset="0" stop-color="#dbff1c"/><stop offset=".052" stop-color="#f1fc06"/><stop offset=".072" stop-color="#fbf100"/><stop offset=".156" stop-color="#ffc800"/><stop offset=".356" stop-color="#ff7300"/><stop offset=".488" stop-color="#ff4a00"/><stop offset=".58" stop-color="#ff4a00"/><stop offset=".632" stop-color="#ff6400"/><stop offset=".68" stop-color="#ff9f00"/><stop offset=".704" stop-color="#ffc400"/><stop offset=".72" stop-color="#fbf100"/><stop offset=".724" stop-color="#eeff09"/><stop offset=".74" stop-color="#b4ff43"/><stop offset=".78" stop-color="#33ffc4"/><stop offset=".788" stop-color="#13fce4"/><stop offset=".792" stop-color="#02e8f4"/><stop offset=".796" stop-color="#00d4ff"/><stop offset=".808" stop-color="#009cff"/><stop offset=".832" stop-color="#0004ff"/><stop offset=".836" stop-color="#0000fa"/><stop offset=".848" stop-color="#0000a4"/><stop offset=".852" stop-color="#00008d"/><stop offset=".856" stop-color="#000080"/><stop offset="1" stop-color="#000080"/></linearGradient>
<linearGradient id="h120" x1="0" y1="0" x2="0" y2="1"><stop offset="0" stop-color="#d7ff1f"/><stop offset=".056" stop-color="#f1fc06"/><stop offset=".092" stop-color="#ffea00"/><stop offset=".172" stop-color="#ffc100"/><stop offset=".352" stop-color="#ff7300"/><stop offset=".48" stop-color="#ff4a00"/><stop offset=".536" stop-color="#ff4300"/><stop offset=".592" stop-color="#ff4e00"/><stop offset=".636" stop-color="#ff6800"/><stop offset=".684" stop-color="#ffa300"/><stop offset=".708" stop-color="#ffcc00"/><stop offset=".72" stop-color="#feed00"/><stop offset=".724" stop-color="#f1fc06"/><stop offset=".752" stop-color="#90ff66"/><stop offset=".776" stop-color="#43ffb4"/><stop offset=".788" stop-color="#16ffe1"/><stop offset=".792" stop-color="#06ecf1"/><stop offset=".796" stop-color="#00d8ff"/><stop offset=".812" stop-color="#0084ff"/><stop offset=".832" stop-color="#0008ff"/><stop offset=".836" stop-color="#0000ff"/><stop offset=".848" stop-color="#0000a8"/><stop offset=".856" stop-color="#000080"/><stop offset="1" stop-color="#000080"/></linearGradient>
<linearGradient id="h121" x1="0" y1="0" x2="0" y2="1"><stop offset="0" stop-color="#d7ff1f"/><stop offset=".064" stop-color="#f1fc06"/><stop offset=".088" stop-color="#feed00"/><stop offset=".192" stop-color="#ffb600"/><stop offset=".368" stop-color="#ff6c00"/><stop offset=".488" stop-color="#ff4700"/><stop offset=".572" stop-color="#ff4700"/><stop offset=".616" stop-color="#ff5900"/><stop offset=".652" stop-color="#ff7700"/><stop offset=".7" stop-color="#ffbd00"/><stop offset=".716" stop-color="#ffe200"/><stop offset=".72" stop-color="#feed00"/><stop offset=".724" stop-color="#f4f802"/><stop offset=".732" stop-color="#d7ff1f"/><stop offset=".78" stop-color="#36ffc1"/><stop offset=".788" stop-color="#19ffde"/><stop offset=".796" stop-color="#00dcfe"/><stop offset=".812" stop-color="#008cff"/><stop offset=".832" stop-color="#000cff"/><stop offset=".836" stop-color="#0000ff"/><stop offset=".84" stop-color="#0000e8"/><stop offset=".848" stop-color="#0000ad"/><stop offset=".856" stop-color="#000080"/><stop offset="1" stop-color="#000080"/></linearGradient>
<linearGradient id="h122" x1="0" y1="0" x2="0" y2="1"><stop offset="0" stop-color="#d4ff23"/><stop offset=".068" stop-color="#f1fc06"/><stop offset=".1" stop-color="#ffea00"/><stop offset=".12" stop-color="#ffdb00"/><stop offset=".212" stop-color="#ffae00"/><stop offset=".336" stop-color="#ff7700"/><stop offset=".432" stop-color="#ff5500"/><stop offset=".496" stop-color="#ff4700"/><stop offset=".576" stop-color="#ff4700"/><stop offset=".628" stop-color="#ff6000"/><stop offset=".656" stop-color="#ff7a00"/><stop offset=".696" stop-color="#ffb600"/><stop offset=".712" stop-color="#ffd300"/><stop offset=".72" stop-color="#ffea00"/><stop offset=".724" stop-color="#f4f802"/><stop offset=".732" stop-color="#d7ff1f"/><stop offset=".78" stop-color="#39ffbe"/><stop offset=".788" stop-color="#19ffde"/><stop offset=".792" stop-color="#0cf4eb"/><stop offset=".796" stop-color="#00e0fb"/><stop offset=".812" stop-color="#0090ff"/><stop offset=".832" stop-color="#0010ff"/><stop offset=".836" stop-color="#0000ff"/><stop offset=".84" stop-color="#0000ed"/><stop offset=".848" stop-color="#0000b2"/><stop offset=".856" stop-color="#000080"/><stop offset="1" stop-color="#000080"/></linearGradient>
<linearGradient id="h123" x1="0" y1="0" x2="0" y2="1"><stop offset="0" stop-color="#d4ff23"/><stop offset=".072" stop-color="#f1fc06"/><stop offset=".108" stop-color="#ffe600"/><stop offset=".14" stop-color="#ffd000"/><stop offset=".192" stop-color="#ffb600"/><stop offset=".332" stop-color="#ff7700"/><stop offset=".448" stop-color="#ff4e00"/><stop offset=".52" stop-color="#ff4300"/><stop offset=".58" stop-color="#ff4700"/><stop offset=".636" stop-color="#ff6400"/><stop offset=".684" stop-color="#ff9f00"/><stop offset=".712" stop-color="#ffd300"/><stop offset=".72" stop-color="#ffea00"/><stop offset=".724" stop-color="#f8f500"/><stop offset=".728" stop-color="#ebff0c"/><stop offset=".748" stop-color="#a4ff53"/><stop offset=".78" stop-color="#3cffba"/><stop offset=".788" stop-color="#1cffdb"/><stop offset=".796" stop-color="#00e4f8"/><stop offset=".804" stop-color="#00bcff"/><stop offset=".812" stop-color="#0094ff"/><stop offset=".832" stop-color="#0014ff"/><stop offset=".836" stop-color="#0000ff"/><stop offset=".84" stop-color="#0000f1"/><stop offset=".848" stop-color="#0000b6"/><stop offset=".856" stop-color="#000084"/><stop offset="1" stop-color="#000080"/></linearGradient>
<linearGradient id="h124" x1="0" y1="0" x2="0" y2="1"><stop offset="0" stop-color="#d1ff26"/><stop offset=".076" stop-color="#f1fc06"/><stop offset=".104" stop-color="#ffea00"/><stop offset=".14" stop-color="#ffd000"/><stop offset=".208" stop-color="#ffae00"/><stop offset=".348" stop-color="#ff6f00"/><stop offset=".448" stop-color="#ff4e00"/><stop offset=".508" stop-color="#ff4300"/><stop offset=".568" stop-color="#ff4300"/><stop offset=".62" stop-color="#ff5900"/><stop offset=".648" stop-color="#ff6f00"/><stop offset=".7" stop-color="#ffb900"/><stop offset=".708" stop-color="#ffc400"/><stop offset=".724" stop-color="#fbf100"/><stop offset=".728" stop-color="#ebff0c"/><stop offset=".784" stop-color="#30ffc7"/><stop offset=".792" stop-color="#0ff8e7"/><stop offset=".796" stop-color="#00e4f8"/><stop offset=".804" stop-color="#00c0ff"/><stop offset=".812" stop-color="#0098ff"/><stop offset=".836" stop-color="#0000ff"/><stop offset=".84" stop-color="#0000f6"/><stop offset=".848" stop-color="#0000bb"/><stop offset=".856" stop-color="#000089"/><stop offset=".86" stop-color="#000080"/><stop offset="1" stop-color="#000080"/></linearGradient>
<linearGradient id="h125" x1="0" y1="0" x2="0" y2="1"><stop offset="0" stop-color="#d1ff26"/><stop offset=".076" stop-color="#f1fc06"/><stop offset=".104" stop-color="#ffea00"/><stop offset=".14" stop-color="#ffd000"/><stop offset=".208" stop-color="#ffae00"/><stop offset=".348" stop-color="#ff6f00"/><stop offset=".448" stop-color="#ff4e00"/><stop offset=".508" stop-color="#ff4300"/><stop offset=".568" stop-color="#ff4300"/><stop offset=".62" stop-color="#ff5900"/><stop offset=".652" stop-color="#ff7300"/><stop offset=".708" stop-color="#ffc400"/><stop offset=".724" stop-color="#fbf100"/><stop offset=".728" stop-color="#eeff09"/><stop offset=".744" stop-color="#b4ff43"/><stop offset=".784" stop-color="#33ffc4"/><stop offset=".792" stop-color="#13fce4"/><stop offset=".796" stop-color="#02e8f4"/><stop offset=".8" stop-color="#00d4ff"/><stop offset=".816" stop-color="#0080ff"/><stop offset=".836" stop-color="#0004ff"/><stop offset=".84" stop-color="#0000fa"/><stop offset=".852" stop-color="#0000a4"/><stop offset=".856" stop-color="#00008d"/><stop offset=".86" stop-color="#000080"/><stop offset="1" stop-color="#000080"/></linearGradient>
<linearGradient id="h126" x1="0" y1="0" x2="0" y2="1"><stop offset="0" stop-color="#d1ff26"/><stop offset=".076" stop-color="#f1fc06"/><stop offset=".104" stop-color="#ffea00"/><stop offset=".14" stop-color="#ffd000"/><stop offset=".208" stop-color="#ffae00"/><stop offset=".348" stop-color="#ff6f00"/><stop offset=".448" stop-color="#ff4e00"/><stop offset=".508" stop-color="#ff4300"/><stop offset=".568" stop-color="#ff4300"/><stop offset=".62" stop-color="#ff5900"/><stop offset=".652" stop-color="#ff7300"/><stop offset=".696" stop-color="#ffb200"/><stop offset=".708" stop-color="#ffc400"/><stop offset=".724" stop-color="#fbf100"/><stop offset=".728" stop-color="#f1fc06"/><stop offset=".748" stop-color="#aaff4d"/><stop offset=".784" stop-color="#33ffc4"/><stop offset=".792" stop-color="#13fce4"/><stop offset=".8" stop-color="#00d8ff"/><stop offset=".816" stop-color="#0084ff"/><stop offset=".836" stop-color="#0008ff"/><stop offset=".84" stop-color="#0000ff"/><stop offset=".856" stop-color="#00008d"/><stop offset=".86" stop-color="#000080"/><stop offset="1" stop-color="#000080"/></linearGradient>
<linearGradient id="h127" x1="0" y1="0" x2="0" y2="1"><stop offset="0" stop-color="#d1ff26"/><stop offset=".076" stop-color="#f1fc06"/><stop offset=".104" stop-color="#ffea00"/><stop offset=".14" stop-color="#ffd000"/><stop offset=".208" stop-color="#ffae00"/><stop offset=".348" stop-color="#ff6f00"/><stop offset=".448" stop-color="#ff4e00"/><stop offset=".508" stop-color="#ff4300"/><stop offset=".568" stop-color="#ff4300"/><stop offset=".62" stop-color="#ff5900"/><stop offset=".656" stop-color="#ff7700"/><stop offset=".708" stop-color="#ffc400"/><stop offset=".724" stop-color="#feed00"/><stop offset=".728" stop-color="#f1fc06"/><stop offset=".748" stop-color="#aaff4d"/><stop offset=".784" stop-color="#36ffc1"/><stop offset=".792" stop-color="#16ffe1"/><stop offset=".796" stop-color="#06ecf1"/><stop offset=".8" stop-color="#00d8ff"/><stop offset=".816" stop-color="#0088ff"/><stop offset=".836" stop-color="#000cff"/><stop offset=".84" stop-color="#0000ff"/><stop offset=".852" stop-color="#0000a8"/><stop offset=".86" stop-color="#000080"/><stop offset="1" stop-color="#000080"/></linearGradient>
<linearGradient id="h128" x1="0" y1="0" x2="0" y2="1"><stop offset="0" stop-color="#d1ff26"/><stop offset=".076" stop-color="#f1fc06"/><stop offset=".104" stop-color="#ffea00"/><stop offset=".14" stop-color="#ffd000"/><stop offset=".208" stop-color="#ffae00"/><stop offset=".348" stop-color="#ff6f00"/><stop offset=".448" stop-color="#ff4e00"/><stop offset=".508" stop-color="#ff4300"/><stop offset=".572" stop-color="#ff4300"/><stop offset=".616" stop-color="#ff5500"/><stop offset=".64" stop-color="#ff6400"/><stop offset=".688" stop-color="#ffa300"/><stop offset=".712" stop-color="#ffcc00"/><stop offset=".724" stop-color="#feed00"/><stop offset=".728" stop-color="#f4f802"/><stop offset=".736" stop-color="#d7ff1f"/><stop offset=".784" stop-color="#36ffc1"/><stop offset=".792" stop-color="#19ffde"/><stop offset=".8" stop-color="#00dcfe"/><stop offset=".816" stop-color="#008cff"/><stop offset=".836" stop-color="#000cff"/><stop offset=".84" stop-color="#0000ff"/><stop offset=".844" stop-color="#0000e8"/><stop offset=".852" stop-color="#0000ad"/><stop offset=".86" stop-color="#000080"/><stop offset="1" stop-color="#000080"/></linearGradient>
<linearGradient id="h129" x1="0" y1="0" x2="0" y2="1"><stop offset="0" stop-color="#d1ff26"/><stop offset=".076" stop-color="#f1fc06"/><stop offset=".104" stop-color="#ffea00"/><stop offset=".14" stop-color="#ffd000"/><stop offset=".208" stop-color="#ffae00"/><stop offset=".348" stop-color="#ff6f00"/><stop offset=".448" stop-color="#ff4e00"/><stop offset=".508" stop-color="#ff4300"/><stop offset=".572" stop-color="#ff4300"/><stop offset=".616" stop-color="#ff5500"/><stop offset=".644" stop-color="#ff6800"/><stop offset=".688" stop-color="#ffa300"/><stop offset=".708" stop-color="#ffc100"/><stop offset=".724" stop-color="#feed00"/><stop offset=".728" stop-color="#f4f802"/><stop offset=".736" stop-color="#d7ff1f"/><stop offset=".784" stop-color="#39ffbe"/><stop offset=".792" stop-color="#19ffde"/><stop offset=".8" stop-color="#00dcfe"/><stop offset=".812" stop-color="#00a4ff"/><stop offset=".836" stop-color="#0010ff"/><stop offset=".84" stop-color="#0000ff"/><stop offset=".844" stop-color="#0000ed"/><stop offset=".856" stop-color="#000096"/><stop offset=".86" stop-color="#000080"/><stop offset="1" stop-color="#000080"/></linearGradient>
<linearGradient id="h130" x1="0" y1="0" x2="0" y2="1"><stop offset="0" stop-color="#d1ff26"/><stop offset=".076" stop-color="#f1fc06"/><stop offset=".104" stop-color="#ffea00"/><stop offset=".14" stop-color="#ffd000"/><stop offset=".208" stop-color="#ffae00"/><stop offset=".348" stop-color="#ff6f00"/><stop offset=".448" stop-color="#ff4e00"/><stop offset=".508" stop-color="#ff4300"/><stop offset=".572" stop-color="#ff4300"/><stop offset=".616" stop-color="#ff5500"/><stop offset=".648" stop-color="#ff6c00"/><stop offset=".692" stop-color="#ffa700"/><stop offset=".716" stop-color="#ffd300"/><stop offset=".724" stop-color="#ffea00"/><stop offset=".728" stop-color="#f8f500"/><stop offset=".732" stop-color="#ebff0c"/><stop offset=".756" stop-color="#97ff60"/><stop offset=".768" stop-color="#73ff83"/><stop offset=".792" stop-color="#1cffdb"/><stop offset=".796" stop-color="#0cf4eb"/><stop offset=".8" stop-color="#00e0fb"/><stop offset=".816" stop-color="#0094ff"/><stop offset=".836" stop-color="#0014ff"/><stop offset=".84" stop-color="#0000ff"/><stop offset=".844" stop-color="#0000f1"/><stop offset=".856" stop-color="#00009b"/><stop offset=".86" stop-color="#000084"/><stop offset="1" stop-color="#000080"/></linearGradient>
<linearGradient id="h131" x1="0" y1="0" x2="0" y2="1"><stop offset="0" stop-color="#d1ff26"/><stop offset=".076" stop-color="#f1fc06"/><stop offset=".104" stop-color="#ffea00"/><stop offset=".14" stop-color="#ffd000"/><stop offset=".208" stop-color="#ffae00"/><stop offset=".348" stop-color="#ff6f00"/><stop offset=".448" stop-color="#ff4e00"/><stop offset=".508" stop-color="#ff4300"/><stop offset=".572" stop-color="#ff4300"/><stop offset=".624" stop-color="#ff5900"/><stop offset=".66" stop-color="#ff7a00"/><stop offset=".7" stop-color="#ffb200"/><stop offset=".712" stop-color="#ffc400"/><stop offset=".728" stop-color="#fbf100"/><stop offset=".732" stop-color="#eeff09"/><stop offset=".748" stop-color="#b4ff43"/><stop offset=".788" stop-color="#33ffc4"/><stop offset=".796" stop-color="#13fce4"/><stop offset=".8" stop-color="#02e8f4"/><stop offset=".804" stop-color="#00d4ff"/><stop offset=".82" stop-color="#0080ff"/><stop offset=".84" stop-color="#0004ff"/><stop offset=".844" stop-color="#0000fa"/><stop offset=".856" stop-color="#0000a4"/><stop offset=".86" stop-color="#00008d"/><stop offset=".864" stop-color="#000080"/><stop offset="1" stop-color="#000080"/></linearGradient>
<linearGradient id="h132" x1="0" y1="0" x2="0" y2="1"><stop offset="0" stop-color="#d1ff26"/><stop offset=".076" stop-color="#f1fc06"/><stop offset=".104" stop-color="#ffea00"/><stop offset=".14" stop-color="#ffd000"/><stop offset=".208" stop-color="#ffae00"/><stop offset=".348" stop-color="#ff6f00"/><stop offset=".448" stop-color="#ff4e00"/><stop offset=".508" stop-color="#ff4300"/><stop offset=".572" stop-color="#ff4300"/><stop offset=".624" stop-color="#ff5900"/><stop offset=".644" stop-color="#ff6400"/><stop offset=".692" stop-color="#ffa300"/><stop offset=".716" stop-color="#ffcc00"/><stop offset=".728" stop-color="#feed00"/><stop offset=".732" stop-color="#f1fc06"/><stop offset=".792" stop-color="#26ffd1"/><stop offset=".796" stop-color="#16ffe1"/><stop offset=".8" stop-color="#06ecf1"/><stop offset=".804" stop-color="#00dcfe"/><stop offset=".82" stop-color="#0088ff"/><stop offset=".84" stop-color="#000cff"/><stop offset=".844" stop-color="#0000ff"/><stop offset=".86" stop-color="#000092"/><stop offset=".864" stop-color="#000080"/><stop offset="1" stop-color="#000080"/></linearGradient>
<linearGradient id="h133" x1="0" y1="0" x2="0" y2="1"><stop offset="0" stop-color="#d1ff26"/><stop offset=".076" stop-color="#f1fc06"/><stop offset=".104" stop-color="#ffea00"/><stop offset=".14" stop-color="#ffd000"/><stop offset=".208" stop-color="#ffae00"/><stop offset=".348" stop-color="#ff6f00"/><stop offset=".448" stop-color="#ff4e00"/><stop offset=".508" stop-color="#ff4300"/><stop offset=".572" stop-color="#ff4300"/><stop offset=".636" stop-color="#ff6000"/><stop offset=".644" stop-color="#ff6400"/><stop offset=".692" stop-color="#ffa300"/><stop offset=".712" stop-color="#ffc100"/><stop offset=".728" stop-color="#feed00"/><stop offset=".732" stop-color="#f4f802"/><stop offset=".74" stop-color="#d7ff1f"/><stop offset=".764" stop-color="#87ff70"/><stop offset=".796" stop-color="#19ffde"/><stop offset=".804" stop-color="#00dcfe"/><stop offset=".82" stop-color="#008cff"/><stop offset=".84" stop-color="#0010ff"/><stop offset=".844" stop-color="#0000ff"/><stop offset=".852" stop-color="#0000cd"/><stop offset=".856" stop-color="#0000ad"/><stop offset=".864" stop-color="#000080"/><stop offset="1" stop-color="#000080"/></linearGradient>
<linearGradient id="h134" x1="0" y1="0" x2="0" y2="1"><stop offset="0" stop-color="#d1ff26"/><stop offset=".076" stop-color="#f1fc06"/><stop offset=".104" stop-color="#ffea00"/><stop offset=".14" stop-color="#ffd000"/><stop offset=".208" stop-color="#ffae00"/><stop offset=".348" stop-color="#ff6f00"/><stop offset=".448" stop-color="#ff4e00"/><stop offset=".508" stop-color="#ff4300"/><stop offset=".572" stop-color="#ff4300"/><stop offset=".636" stop-color="#ff6000"/><stop offset=".66" stop-color="#ff7700"/><stop offset=".712" stop-color="#ffc100"/><stop offset=".728" stop-color="#feed00"/><stop offset=".732" stop-color="#f4f802"/><stop offset=".74" stop-color="#d7ff1f"/><stop offset=".76" stop-color="#94ff63"/><stop offset=".792" stop-color="#29ffce"/><stop offset=".796" stop-color="#19ffde"/><stop offset=".804" stop-color="#00dcfe"/><stop offset=".824" stop-color="#0074ff"/><stop offset=".84" stop-color="#0010ff"/><stop offset=".844" stop-color="#0000ff"/><stop offset=".852" stop-color="#0000cd"/><stop offset=".856" stop-color="#0000ad"/><stop offset=".864" stop-color="#000080"/><stop offset="1" stop-color="#000080"/></linearGradient>
<linearGradient id="h135" x1="0" y1="0" x2="0" y2="1"><stop offset="0" stop-color="#d1ff26"/><stop offset=".076" stop-color="#f1fc06"/><stop offset=".104" stop-color="#ffea00"/><stop offset=".14" stop-color="#ffd000"/><stop offset=".208" stop-color="#ffae00"/><stop offset=".348" stop-color="#ff6f00"/><stop offset=".448" stop-color="#ff4e00"/><stop offset=".508" stop-color="#ff4300"/><stop offset=".572" stop-color="#ff4300"/><stop offset=".636" stop-color="#ff6000"/><stop offset=".66" stop-color="#ff7700"/><stop offset=".712" stop-color="#ffc100"/><stop offset=".728" stop-color="#feed00"/><stop offset=".732" stop-color="#f4f802"/><stop offset=".74" stop-color="#d7ff1f"/><stop offset=".76" stop-color="#94ff63"/><stop offset=".792" stop-color="#29ffce"/><stop offset=".796" stop-color="#19ffde"/><stop offset=".804" stop-color="#00dcfe"/><stop offset=".816" stop-color="#00a4ff"/><stop offset=".84" stop-color="#0010ff"/><stop offset=".844" stop-color="#0000ff"/><stop offset=".852" stop-color="#0000cd"/><stop offset=".856" stop-color="#0000ad"/><stop offset=".864" stop-color="#000080"/><stop offset="1" stop-color="#000080"/></linearGradient>
<linearGradient id="h136" x1="0" y1="0" x2="0" y2="1"><stop offset="0" stop-color="#d1ff26"/><stop offset=".076" stop-color="#f1fc06"/><stop offset=".104" stop-color="#ffea00"/><stop offset=".14" stop-color="#ffd000"/><stop offset=".208" stop-color="#ffae00"/><stop offset=".348" stop-color="#ff6f00"/><stop offset=".448" stop-color="#ff4e00"/><stop offset=".508" stop-color="#ff4300"/><stop offset=".572" stop-color="#ff4300"/><stop offset=".636" stop-color="#ff6000"/><stop offset=".66" stop-color="#ff7700"/><stop offset=".712" stop-color="#ffc100"/><stop offset=".728" stop-color="#feed00"/><stop offset=".732" stop-color="#f4f802"/><stop offset=".74" stop-color="#d7ff1f"/><stop offset=".756" stop-color="#a0ff56"/><stop offset=".784" stop-color="#46ffb1"/><stop offset=".796" stop-color="#19ffde"/><stop offset=".804" stop-color="#00dcfe"/><stop offset=".816" stop-color="#00a4ff"/><stop offset=".84" stop-color="#0010ff"/><stop offset=".844" stop-color="#0000ff"/><stop offset=".864" stop-color="#000080"/><stop offset="1" stop-color="#000080"/></linearGradient>
<linearGradient id="h137" x1="0" y1="0" x2="0" y2="1"><stop offset="0" stop-color="#d1ff26"/><stop offset=".076" stop-color="#f1fc06"/><stop offset=".104" stop-color="#ffea00"/><stop offset=".14" stop-color="#ffd000"/><stop offset=".208" stop-color="#ffae00"/><stop offset=".348" stop-color="#ff6f00"/><stop offset=".448" stop-color="#ff4e00"/><stop offset=".508" stop-color="#ff4300"/><stop offset=".572" stop-color="#ff4300"/><stop offset=".636" stop-color="#ff6000"/><stop offset=".66" stop-color="#ff7700"/><stop offset=".712" stop-color="#ffc100"/><stop offset=".728" stop-color="#feed00"/><stop offset=".732" stop-color="#f4f802"/><stop offset=".74" stop-color="#d7ff1f"/><stop offset=".788" stop-color="#39ffbe"/><stop offset=".796" stop-color="#19ffde"/><stop offset=".804" stop-color="#00dcfe"/><stop offset=".816" stop-color="#00a4ff"/><stop offset=".84" stop-color="#0010ff"/><stop offset=".844" stop-color="#0000ff"/><stop offset=".848" stop-color="#0000ed"/><stop offset=".86" stop-color="#000096"/><stop offset=".864" stop-color="#000080"/><stop offset="1" stop-color="#000080"/></linearGradient>
<linearGradient id="h138" x1="0" y1="0" x2="0" y2="1"><stop offset="0" stop-color="#d1ff26"/><stop offset=".076" stop-color="#f1fc06"/><stop offset=".104" stop-color="#ffea00"/><stop offset=".14" stop-color="#ffd000"/><stop offset=".208" stop-color="#ffae00"/><stop offset=".348" stop-color="#ff6f00"/><stop offset=".448" stop-color="#ff4e00"/><stop offset=".508" stop-color="#ff4300"/><stop offset=".572" stop-color="#ff4300"/><stop offset=".62" stop-color="#ff5500"/><stop offset=".648" stop-color="#ff6800"/><stop offset=".692" stop-color="#ffa300"/><stop offset=".712" stop-color="#ffc100"/><stop offset=".728" stop-color="#feed00"/><stop offset=".732" stop-color="#f4f802"/><stop offset=".74" stop-color="#d7ff1f"/><stop offset=".788" stop-color="#39ffbe"/><stop offset=".796" stop-color="#19ffde"/><stop offset=".804" stop-color="#00dcfe"/><stop offset=".816" stop-color="#00a4ff"/><stop offset=".84" stop-color="#0010ff"/><stop offset=".844" stop-color="#0000ff"/><stop offset=".848" stop-color="#0000ed"/><stop offset=".86" stop-color="#000096"/><stop offset=".864" stop-color="#000080"/><stop offset="1" stop-color="#000080"/></linearGradient>
<linearGradient id="h139" x1="0" y1="0" x2="0" y2="1"><stop offset="0" stop-color="#d1ff26"/><stop offset=".076" stop-color="#f1fc06"/><stop offset=".104" stop-color="#ffea00"/><stop offset=".14" stop-color="#ffd000"/><stop offset=".208" stop-color="#ffae00"/><stop offset=".348" stop-color="#ff6f00"/><stop offset=".448" stop-color="#ff4e00"/><stop offset=".508" stop-color="#ff4300"/><stop offset=".572" stop-color="#ff4300"/><stop offset=".62" stop-color="#ff5500"/><stop offset=".648" stop-color="#ff6800"/><stop offset=".7" stop-color="#ffae00"/><stop offset=".72" stop-color="#ffd300"/><stop offset=".728" stop-color="#ffea00"/><stop offset=".732" stop-color="#f4f802"/><stop offset=".74" stop-color="#d7ff1f"/><stop offset=".788" stop-color="#39ffbe"/><stop offset=".796" stop-color="#19ffde"/><stop offset=".804" stop-color="#00e0fb"/><stop offset=".82" stop-color="#008cff"/><stop offset=".84" stop-color="#0010ff"/><stop offset=".844" stop-color="#0000ff"/><stop offset=".848" stop-color="#0000ed"/><stop offset=".86" stop-color="#000096"/><stop offset=".864" stop-color="#000080"/><stop offset="1" stop-color="#000080"/></linearGradient>
<linearGradient id="h140" x1="0" y1="0" x2="0" y2="1"><stop offset="0" stop-color="#d1ff26"/><stop offset=".076" stop-color="#f1fc06"/><stop offset=".104" stop-color="#ffea00"/><stop offset=".14" stop-color="#ffd000"/><stop offset=".208" stop-color="#ffae00"/><stop offset=".348" stop-color="#ff6f00"/><stop offset=".448" stop-color="#ff4e00"/><stop offset=".508" stop-color="#ff4300"/><stop offset=".572" stop-color="#ff4300"/><stop offset=".62" stop-color="#ff5500"/><stop offset=".648" stop-color="#ff6800"/><stop offset=".688" stop-color="#ff9c00"/><stop offset=".716" stop-color="#ffc800"/><stop offset=".728" stop-color="#ffea00"/><stop offset=".732" stop-color="#f4f802"/><stop offset=".74" stop-color="#d7ff1f"/><stop offset=".788" stop-color="#39ffbe"/><stop offset=".796" stop-color="#19ffde"/><stop offset=".8" stop-color="#0cf4eb"/><stop offset=".804" stop-color="#00e0fb"/><stop offset=".82" stop-color="#0090ff"/><stop offset=".84" stop-color="#0010ff"/><stop offset=".844" stop-color="#0000ff"/><stop offset=".848" stop-color="#0000ed"/><stop offset=".856" stop-color="#0000b2"/><stop offset=".864" stop-color="#000080"/><stop offset="1" stop-color="#000080"/></linearGradient>
<linearGradient id="h141" x1="0" y1="0" x2="0" y2="1"><stop offset="0" stop-color="#d1ff26"/><stop offset=".076" stop-color="#f1fc06"/><stop offset=".104" stop-color="#ffea00"/><stop offset=".14" stop-color="#ffd000"/><stop offset=".208" stop-color="#ffae00"/><stop offset=".348" stop-color="#ff6f00"/><stop offset=".448" stop-color="#ff4e00"/><stop offset=".508" stop-color="#ff4300"/><stop offset=".572" stop-color="#ff4300"/><stop offset=".62" stop-color="#ff5500"/><stop offset=".648" stop-color="#ff6800"/><stop offset=".688" stop-color="#ff9c00"/><stop offset=".716" stop-color="#ffc800"/><stop offset=".728" stop-color="#ffea00"/><stop offset=".732" stop-color="#f4f802"/><stop offset=".74" stop-color="#d7ff1f"/><stop offset=".788" stop-color="#39ffbe"/><stop offset=".796" stop-color="#1cffdb"/><stop offset=".8" stop-color="#0cf4eb"/><stop offset=".804" stop-color="#00e0fb"/><stop offset=".82" stop-color="#0090ff"/><stop offset=".84" stop-color="#0010ff"/><stop offset=".844" stop-color="#0000ff"/><stop offset=".848" stop-color="#0000ed"/><stop offset=".856" stop-color="#0000b2"/><stop offset=".864" stop-color="#000080"/><stop offset="1" stop-color="#000080"/></linearGradient>
<linearGradient id="h142" x1="0" y1="0" x2="0" y2="1"><stop offset="0" stop-color="#ceff29"/><stop offset=".068" stop-color="#ebff0c"/><stop offset=".096" stop-color="#fbf100"/><stop offset=".128" stop-color="#ffd700"/><stop offset=".208" stop-color="#ffae00"/><stop offset=".348" stop-color="#ff6f00"/><stop offset=".448" stop-color="#ff4e00"/><stop offset=".508" stop-color="#ff4300"/><stop offset=".572" stop-color="#ff4300"/><stop offset=".62" stop-color="#ff5500"/><stop offset=".648" stop-color="#ff6800"/><stop offset=".688" stop-color="#ff9c00"/><stop offset=".716" stop-color="#ffc800"/><stop offset=".728" stop-color="#ffea00"/><stop offset=".732" stop-color="#f8f500"/><stop offset=".736" stop-color="#e7ff0f"/><stop offset=".796" stop-color="#1cffdb"/><stop offset=".8" stop-color="#0cf4eb"/><stop offset=".804" stop-color="#00e0fb"/><stop offset=".82" stop-color="#0090ff"/><stop offset=".84" stop-color="#0014ff"/><stop offset=".844" stop-color="#0000ff"/><stop offset=".848" stop-color="#0000ed"/><stop offset=".856" stop-color="#0000b2"/><stop offset=".864" stop-color="#000080"/><stop offset="1" stop-color="#000080"/></linearGradient>
<linearGradient id="h143" x1="0" y1="0" x2="0" y2="1"><stop offset="0" stop-color="#adff49"/><stop offset=".052" stop-color="#ceff29"/><stop offset=".092" stop-color="#f1fc06"/><stop offset=".108" stop-color="#ffea00"/><stop offset=".144" stop-color="#ffcc00"/><stop offset=".348" stop-color="#ff6f00"/><stop offset=".448" stop-color="#ff4e00"/><stop offset=".508" stop-color="#ff4300"/><stop offset=".572" stop-color="#ff4300"/><stop offset=".612" stop-color="#ff5200"/><stop offset=".648" stop-color="#ff6800"/><stop offset=".688" stop-color="#ff9c00"/><stop offset=".716" stop-color="#ffc800"/><stop offset=".728" stop-color="#ffea00"/><stop offset=".732" stop-color="#f8f500"/><stop offset=".736" stop-color="#e7ff0f"/><stop offset=".792" stop-color="#2cffca"/><stop offset=".796" stop-color="#1cffdb"/><stop offset=".8" stop-color="#0cf4eb"/><stop offset=".804" stop-color="#00e0fb"/><stop offset=".824" stop-color="#0078ff"/><stop offset=".84" stop-color="#0014ff"/><stop offset=".844" stop-color="#0000ff"/><stop offset=".848" stop-color="#0000ed"/><stop offset=".856" stop-color="#0000b2"/><stop offset=".864" stop-color="#000084"/><stop offset="1" stop-color="#000080"/></linearGradient>
<linearGradient id="h144" x1="0" y1="0" x2="0" y2="1"><stop offset="0" stop-color="#b7ff40"/><stop offset=".052" stop-color="#d4ff23"/><stop offset=".088" stop-color="#eeff09"/><stop offset=".096" stop-color="#f8f500"/><stop offset=".124" stop-color="#ffdb00"/><stop offset=".188" stop-color="#ffb600"/><stop offset=".256" stop-color="#ff9800"/><stop offset=".368" stop-color="#ff6800"/><stop offset=".448" stop-color="#ff4e00"/><stop offset=".508" stop-color="#ff4300"/><stop offset=".572" stop-color="#ff4300"/><stop offset=".612" stop-color="#ff5200"/><stop offset=".648" stop-color="#ff6800"/><stop offset=".688" stop-color="#ff9c00"/><stop offset=".716" stop-color="#ffc800"/><stop offset=".728" stop-color="#ffea00"/><stop offset=".732" stop-color="#f8f500"/><stop offset=".736" stop-color="#e7ff0f"/><stop offset=".792" stop-color="#2cffca"/><stop offset=".796" stop-color="#1cffdb"/><stop offset=".8" stop-color="#0cf4eb"/><stop offset=".804" stop-color="#00e0fb"/><stop offset=".824" stop-color="#0078ff"/><stop offset=".84" stop-color="#0014ff"/><stop offset=".844" stop-color="#0000ff"/><stop offset=".848" stop-color="#0000ed"/><stop offset=".864" stop-color="#000084"/><stop offset="1" stop-color="#000080"/></linearGradient>
<linearGradient id="h145" x1="0" y1="0" x2="0" y2="1"><stop offset="0" stop-color="#c4ff33"/><stop offset=".076" stop-color="#ebff0c"/><stop offset=".096" stop-color="#fbf100"/><stop offset=".144" stop-color="#ffcc00"/><stop offset=".348" stop-color="#ff6f00"/><stop offset=".448" stop-color="#ff4e00"/><stop offset=".508" stop-color="#ff4300"/><stop offset=".572" stop-color="#ff4300"/><stop offset=".612" stop-color="#ff5200"/><stop offset=".648" stop-color="#ff6800"/><stop offset=".688" stop-color="#ff9c00"/><stop offset=".716" stop-color="#ffc800"/><stop offset=".728" stop-color="#ffea00"/><stop offset=".732" stop-color="#f8f500"/><stop offset=".736" stop-color="#e7ff0f"/><stop offset=".792" stop-color="#2cffca"/><stop offset=".796" stop-color="#1cffdb"/><stop offset=".8" stop-color="#0cf4eb"/><stop offset=".804" stop-color="#00e0fb"/><stop offset=".824" stop-color="#0078ff"/><stop offset=".84" stop-color="#0014ff"/><stop offset=".844" stop-color="#0000ff"/><stop offset=".848" stop-color="#0000ed"/><stop offset=".864" stop-color="#000084"/><stop offset="1" stop-color="#000080"/></linearGradient>
<linearGradient id="h146" x1="0" y1="0" x2="0" y2="1"><stop offset="0" stop-color="#c7ff30"/><stop offset=".068" stop-color="#e7ff0f"/><stop offset=".084" stop-color="#f1fc06"/><stop offset=".104" stop-color="#ffea00"/><stop offset=".152" stop-color="#ffc800"/><stop offset=".348" stop-color="#ff6f00"/><stop offset=".448" stop-color="#ff4e00"/><stop offset=".508" stop-color="#ff4300"/><stop offset=".572" stop-color="#ff4300"/><stop offset=".62" stop-color="#ff5500"/><stop offset=".652" stop-color="#ff6c00"/><stop offset=".7" stop-color="#ffae00"/><stop offset=".72" stop-color="#ffd300"/><stop offset=".728" stop-color="#ffea00"/><stop offset=".732" stop-color="#f8f500"/><stop offset=".736" stop-color="#e7ff0f"/><stop offset=".792" stop-color="#2cffca"/><stop offset=".796" stop-color="#1cffdb"/><stop offset=".8" stop-color="#0cf4eb"/><stop offset=".804" stop-color="#00e0fb"/><stop offset=".816" stop-color="#00a8ff"/><stop offset=".84" stop-color="#0014ff"/><stop offset=".844" stop-color="#0000ff"/><stop offset=".848" stop-color="#0000f1"/><stop offset=".86" stop-color="#00009b"/><stop offset=".864" stop-color="#000084"/><stop offset="1" stop-color="#000080"/></linearGradient>
<linearGradient id="h147" x1="0" y1="0" x2="0" y2="1"><stop offset="0" stop-color="#c4ff33"/><stop offset=".084" stop-color="#f1fc06"/><stop offset=".104" stop-color="#ffea00"/><stop offset=".152" stop-color="#ffc800"/><stop offset=".348" stop-color="#ff6f00"/><stop offset=".448" stop-color="#ff4e00"/><stop offset=".508" stop-color="#ff4300"/><stop offset=".572" stop-color="#ff4300"/><stop offset=".62" stop-color="#ff5500"/><stop offset=".652" stop-color="#ff6c00"/><stop offset=".7" stop-color="#ffae00"/><stop offset=".72" stop-color="#ffd300"/><stop offset=".728" stop-color="#ffea00"/><stop offset=".732" stop-color="#f8f500"/><stop offset=".736" stop-color="#e7ff0f"/><stop offset=".784" stop-color="#49ffad"/><stop offset=".796" stop-color="#1cffdb"/><stop offset=".8" stop-color="#0cf4eb"/><stop offset=".804" stop-color="#00e0fb"/><stop offset=".816" stop-color="#00a8ff"/><stop offset=".84" stop-color="#0014ff"/><stop offset=".844" stop-color="#0000ff"/><stop offset=".848" stop-color="#0000f1"/><stop offset=".86" stop-color="#00009b"/><stop offset=".864" stop-color="#000084"/><stop offset="1" stop-color="#000080"/></linearGradient>
<linearGradient id="h148" x1="0" y1="0" x2="0" y2="1"><stop offset="0" stop-color="#c4ff33"/><stop offset=".048" stop-color="#dbff1c"/><stop offset=".084" stop-color="#f1fc06"/><stop offset=".104" stop-color="#ffea00"/><stop offset=".152" stop-color="#ffc800"/><stop offset=".348" stop-color="#ff6f00"/><stop offset=".448" stop-color="#ff4e00"/><stop offset=".508" stop-color="#ff4300"/><stop offset=".572" stop-color="#ff4300"/><stop offset=".62" stop-color="#ff5500"/><stop offset=".652" stop-color="#ff6c00"/><stop offset=".7" stop-color="#ffae00"/><stop offset=".72" stop-color="#ffd300"/><stop offset=".728" stop-color="#ffea00"/><stop offset=".732" stop-color="#f8f500"/><stop offset=".736" stop-color="#ebff0c"/><stop offset=".752" stop-color="#b1ff46"/><stop offset=".784" stop-color="#49ffad"/><stop offset=".796" stop-color="#1cffdb"/><stop offset=".8" stop-color="#0cf4eb"/><stop offset=".804" stop-color="#00e0fb"/><stop offset=".82" stop-color="#0094ff"/><stop offset=".84" stop-color="#0014ff"/><stop offset=".844" stop-color="#0000ff"/><stop offset=".848" stop-color="#0000f1"/><stop offset=".86" stop-color="#00009b"/><stop offset=".864" stop-color="#000084"/><stop offset="1" stop-color="#000080"/></linearGradient>
<linearGradient id="h149" x1="0" y1="0" x2="0" y2="1"><stop offset="0" stop-color="#c1ff36"/><stop offset=".084" stop-color="#f1fc06"/><stop offset=".104" stop-color="#ffea00"/><stop offset=".152" stop-color="#ffc800"/><stop offset=".348" stop-color="#ff6f00"/><stop offset=".448" stop-color="#ff4e00"/><stop offset=".508" stop-color="#ff4300"/><stop offset=".572" stop-color="#ff4300"/><stop offset=".62" stop-color="#ff5500"/><stop offset=".652" stop-color="#ff6c00"/><stop offset=".7" stop-color="#ffae00"/><stop offset=".72" stop-color="#ffd300"/><stop offset=".728" stop-color="#ffea00"/><stop offset=".732" stop-color="#f8f500"/><stop offset=".736" stop-color="#ebff0c"/><stop offset=".76" stop-color="#97ff60"/><stop offset=".784" stop-color="#49ffad"/><stop offset=".796" stop-color="#1cffdb"/><stop offset=".8" stop-color="#0cf4eb"/><stop offset=".804" stop-color="#00e0fb"/><stop offset=".82" stop-color="#0094ff"/><stop offset=".84" stop-color="#0014ff"/><stop offset=".844" stop-color="#0000ff"/><stop offset=".848" stop-color="#0000f1"/><stop offset=".86" stop-color="#00009b"/><stop offset=".864" stop-color="#000084"/><stop offset="1" stop-color="#000080"/></linearGradient>
<linearGradient id="h150" x1="0" y1="0" x2="0" y2="1"><stop offset="0" stop-color="#c1ff36"/><stop offset=".072" stop-color="#e7ff0f"/><stop offset=".092" stop-color="#f4f802"/><stop offset=".104" stop-color="#ffea00"/><stop offset=".152" stop-color="#ffc800"/><stop offset=".348" stop-color="#ff6f00"/><stop offset=".448" stop-color="#ff4e00"/><stop offset=".508" stop-color="#ff4300"/><stop offset=".572" stop-color="#ff4300"/><stop offset=".62" stop-color="#ff5500"/><stop offset=".652" stop-color="#ff6c00"/><stop offset=".7" stop-color="#ffae00"/><stop offset=".72" stop-color="#ffd300"/><stop offset=".728" stop-color="#ffea00"/><stop offset=".732" stop-color="#f8f500"/><stop offset=".736" stop-color="#ebff0c"/><stop offset=".756" stop-color="#a4ff53"/><stop offset=".788" stop-color="#3cffba"/><stop offset=".796" stop-color="#1cffdb"/><stop offset=".804" stop-color="#00e4f8"/><stop offset=".812" stop-color="#00bcff"/><stop offset=".82" stop-color="#0094ff"/><stop offset=".84" stop-color="#0014ff"/><stop offset=".844" stop-color="#0000ff"/><stop offset=".848" stop-color="#0000f1"/><stop offset=".856" stop-color="#0000b6"/><stop offset=".864" stop-color="#000084"/><stop offset="1" stop-color="#000080"/></linearGradient>
<linearGradient id="h151" x1="0" y1="0" x2="0" y2="1"><stop offset="0" stop-color="#c1ff36"/><stop offset=".068" stop-color="#e4ff13"/><stop offset=".088" stop-color="#f1fc06"/><stop offset=".104" stop-color="#ffea00"/><stop offset=".152" stop-color="#ffc800"/><stop offset=".348" stop-color="#ff6f00"/><stop offset=".448" stop-color="#ff4e00"/><stop offset=".508" stop-color="#ff4300"/><stop offset=".576" stop-color="#ff4300"/><stop offset=".628" stop-color="#ff5900"/><stop offset=".652" stop-color="#ff6c00"/><stop offset=".708" stop-color="#ffb900"/><stop offset=".724" stop-color="#ffde00"/><stop offset=".732" stop-color="#f8f500"/><stop offset=".736" stop-color="#ebff0c"/><stop offset=".756" stop-color="#a4ff53"/><stop offset=".788" stop-color="#3cffba"/><stop offset=".796" stop-color="#1cffdb"/><stop offset=".8" stop-color="#0ff8e7"/><stop offset=".804" stop-color="#00e4f8"/><stop offset=".812" stop-color="#00bcff"/><stop offset=".824" stop-color="#007cff"/><stop offset=".844" stop-color="#0000ff"/><stop offset=".848" stop-color="#0000f1"/><stop offset=".856" stop-color="#0000b6"/><stop offset=".864" stop-color="#000084"/><stop offset="1" stop-color="#000080"/></linearGradient>
<linearGradient id="h152" x1="0" y1="0" x2="0" y2="1"><stop offset="0" stop-color="#c1ff36"/><stop offset=".068" stop-color="#e4ff13"/><stop offset=".088" stop-color="#f1fc06"/><stop offset=".104" stop-color="#ffea00"/><stop offset=".152" stop-color="#ffc800"/><stop offset=".348" stop-color="#ff6f00"/><stop offset=".448" stop-color="#ff4e00"/><stop offset=".508" stop-color="#ff4300"/><stop offset=".576" stop-color="#ff4300"/><stop offset=".628" stop-color="#ff5900"/><stop offset=".652" stop-color="#ff6c00"/><stop offset=".708" stop-color="#ffb900"/><stop offset=".724" stop-color="#ffde00"/><stop offset=".732" stop-color="#f8f500"/><stop offset=".736" stop-color="#ebff0c"/><stop offset=".752" stop-color="#b1ff46"/><stop offset=".788" stop-color="#3cffba"/><stop offset=".796" stop-color="#1cffdb"/><stop offset=".8" stop-color="#0ff8e7"/><stop offset=".804" stop-color="#00e4f8"/><stop offset=".812" stop-color="#00bcff"/><stop offset=".824" stop-color="#007cff"/><stop offset=".844" stop-color="#0000ff"/><stop offset=".848" stop-color="#0000f1"/><stop offset=".864" stop-color="#000084"/><stop offset="1" stop-color="#000080"/></linearGradient>
<linearGradient id="h153" x1="0" y1="0" x2="0" y2="1"><stop offset="0" stop-color="#c1ff36"/><stop offset=".068" stop-color="#e4ff13"/><stop offset=".088" stop-color="#f1fc06"/><stop offset=".104" stop-color="#ffea00"/><stop offset=".152" stop-color="#ffc800"/><stop offset=".348" stop-color="#ff6f00"/><stop offset=".448" stop-color="#ff4e00"/><stop offset=".508" stop-color="#ff4300"/><stop offset=".576" stop-color="#ff4300"/><stop offset=".628" stop-color="#ff5900"/><stop offset=".652" stop-color="#ff6c00"/><stop offset=".708" stop-color="#ffb900"/><stop offset=".724" stop-color="#ffde00"/><stop offset=".732" stop-color="#f8f500"/><stop offset=".736" stop-color="#ebff0c"/><stop offset=".752" stop-color="#b4ff43"/><stop offset=".788" stop-color="#3cffba"/><stop offset=".796" stop-color="#1fffd7"/><stop offset=".8" stop-color="#0ff8e7"/><stop offset=".804" stop-color="#00e4f8"/><stop offset=".812" stop-color="#00bcff"/><stop offset=".824" stop-color="#007cff"/><stop offset=".844" stop-color="#0000ff"/><stop offset=".848" stop-color="#0000f1"/><stop offset=".86" stop-color="#00009f"/><stop offset=".864" stop-color="#000089"/><stop offset=".868" stop-color="#000080"/><stop offset="1" stop-color="#000080"/></linearGradient>
<linearGradient id="h154" x1="0" y1="0" x2="0" y2="1"><stop offset="0" stop-color="#c1ff36"/><stop offset=".068" stop-color="#e4ff13"/><stop offset=".088" stop-color="#f1fc06"/><stop offset=".104" stop-color="#ffea00"/><stop offset=".152" stop-color="#ffc800"/><stop offset=".348" stop-color="#ff6f00"/><stop offset=".448" stop-color="#ff4e00"/><stop offset=".508" stop-color="#ff4300"/><stop offset=".576" stop-color="#ff4300"/><stop offset=".628" stop-color="#ff5900"/><stop offset=".656" stop-color="#ff6f00"/><stop offset=".708" stop-color="#ffb900"/><stop offset=".724" stop-color="#ffde00"/><stop offset=".732" stop-color="#f8f500"/><stop offset=".736" stop-color="#ebff0c"/><stop offset=".752" stop-color="#b4ff43"/><stop offset=".796" stop-color="#1fffd7"/><stop offset=".8" stop-color="#0ff8e7"/><stop offset=".804" stop-color="#00e4f8"/><stop offset=".812" stop-color="#00bcff"/><stop offset=".824" stop-color="#007cff"/><stop offset=".844" stop-color="#0000ff"/><stop offset=".848" stop-color="#0000f6"/><stop offset=".86" stop-color="#00009f"/><stop offset=".864" stop-color="#000089"/><stop offset=".868" stop-color="#000080"/><stop offset="1" stop-color="#000080"/></linearGradient>
<linearGradient id="h155" x1="0" y1="0" x2="0" y2="1"><stop offset="0" stop-color="#c1ff36"/><stop offset=".068" stop-color="#e4ff13"/><stop offset=".088" stop-color="#f1fc06"/><stop offset=".104" stop-color="#ffea00"/><stop offset=".152" stop-color="#ffc800"/><stop offset=".348" stop-color="#ff6f00"/><stop offset=".448" stop-color="#ff4e00"/><stop offset=".508" stop-color="#ff4300"/><stop offset=".576" stop-color="#ff4300"/><stop offset=".628" stop-color="#ff5900"/><stop offset=".656" stop-color="#ff6f00"/><stop offset=".708" stop-color="#ffb900"/><stop offset=".724" stop-color="#ffde00"/><stop offset=".732" stop-color="#f8f500"/><stop offset=".736" stop-color="#ebff0c"/><stop offset=".796" stop-color="#1fffd7"/><stop offset=".8" stop-color="#0ff8e7"/><stop offset=".804" stop-color="#00e4f8"/><stop offset=".812" stop-color="#00bcff"/><stop offset=".828" stop-color="#0064ff"/><stop offset=".844" stop-color="#0000ff"/><stop offset=".848" stop-color="#0000f6"/><stop offset=".86" stop-color="#00009f"/><stop offset=".864" stop-color="#000089"/><stop offset=".868" stop-color="#000080"/><stop offset="1" stop-color="#000080"/></linearGradient>
<linearGradient id="h156" x1="0" y1="0" x2="0" y2="1"><stop offset="0" stop-color="#c1ff36"/><stop offset=".068" stop-color="#e4ff13"/><stop offset=".088" stop-color="#f1fc06"/><stop offset=".104" stop-color="#ffea00"/><stop offset=".152" stop-color="#ffc800"/><stop offset=".348" stop-color="#ff6f00"/><stop offset=".448" stop-color="#ff4e00"/><stop offset=".508" stop-color="#ff4300"/><stop offset=".576" stop-color="#ff4300"/><stop offset=".628" stop-color="#ff5900"/><stop offset=".656" stop-color="#ff6f00"/><stop offset=".708" stop-color="#ffb900"/><stop offset=".724" stop-color="#ffde00"/><stop offset=".732" stop-color="#f8f500"/><stop offset=".736" stop-color="#ebff0c"/><stop offset=".792" stop-color="#30ffc7"/><stop offset=".8" stop-color="#0ff8e7"/><stop offset=".804" stop-color="#00e4f8"/><stop offset=".812" stop-color="#00bcff"/><stop offset=".82" stop-color="#0098ff"/><stop offset=".84" stop-color="#0018ff"/><stop offset=".844" stop-color="#0000ff"/><stop offset=".848" stop-color="#0000f6"/><stop offset=".86" stop-color="#00009f"/><stop offset=".864" stop-color="#000089"/><stop offset=".868" stop-color="#000080"/><stop offset="1" stop-color="#000080"/></linearGradient>
<linearGradient id="h157" x1="0" y1="0" x2="0" y2="1"><stop offset="0" stop-color="#c1ff36"/><stop offset=".068" stop-color="#e4ff13"/><stop offset=".088" stop-color="#f1fc06"/><stop offset=".104" stop-color="#ffea00"/><stop offset=".152" stop-color="#ffc800"/><stop offset=".348" stop-color="#ff6f00"/><stop offset=".448" stop-color="#ff4e00"/><stop offset=".508" stop-color="#ff4300"/><stop offset=".576" stop-color="#ff4300"/><stop offset=".628" stop-color="#ff5900"/><stop offset=".656" stop-color="#ff6f00"/><stop offset=".708" stop-color="#ffb900"/><stop offset=".716" stop-color="#ffc400"/><stop offset=".732" stop-color="#fbf100"/><stop offset=".736" stop-color="#ebff0c"/><stop offset=".792" stop-color="#30ffc7"/><stop offset=".8" stop-color="#0ff8e7"/><stop offset=".804" stop-color="#00e4f8"/><stop offset=".812" stop-color="#00bcff"/><stop offset=".82" stop-color="#0098ff"/><stop offset=".84" stop-color="#0018ff"/><stop offset=".844" stop-color="#0000ff"/><stop offset=".848" stop-color="#0000f6"/><stop offset=".86" stop-color="#00009f"/><stop offset=".864" stop-color="#000089"/><stop offset=".868" stop-color="#000080"/><stop offset="1" stop-color="#000080"/></linearGradient>
<linearGradient id="h158" x1="0" y1="0" x2="0" y2="1"><stop offset="0" stop-color="#c1ff36"/><stop offset=".068" stop-color="#e4ff13"/><stop offset=".088" stop-color="#f1fc06"/><stop offset=".104" stop-color="#ffea00"/><stop offset=".152" stop-color="#ffc800"/><stop offset=".348" stop-color="#ff6f00"/><stop offset=".448" stop-color="#ff4e00"/><stop offset=".508" stop-color="#ff4300"/><stop offset=".576" stop-color="#ff4300"/><stop offset=".628" stop-color="#ff5900"/><stop offset=".656" stop-color="#ff6f00"/><stop offset=".708" stop-color="#ffb900"/><stop offset=".716" stop-color="#ffc400"/><stop offset=".732" stop-color="#fbf100"/><stop offset=".736" stop-color="#ebff0c"/><stop offset=".792" stop-color="#30ffc7"/><stop offset=".8" stop-color="#0ff8e7"/><stop offset=".804" stop-color="#00e4f8"/><stop offset=".812" stop-color="#00c0ff"/><stop offset=".82" stop-color="#0098ff"/><stop offset=".844" stop-color="#0000ff"/><stop offset=".848" stop-color="#0000f6"/><stop offset=".86" stop-color="#00009f"/><stop offset=".864" stop-color="#000089"/><stop offset=".868" stop-color="#000080"/><stop offset="1" stop-color="#000080"/></linearGradient>
<linearGradient id="h159" x1="0" y1="0" x2="0" y2="1"><stop offset="0" stop-color="#c1ff36"/><stop offset=".068" stop-color="#e4ff13"/><stop offset=".088" stop-color="#f1fc06"/><stop offset=".104" stop-color="#ffea00"/><stop offset=".152" stop-color="#ffc800"/><stop offset=".348" stop-color="#ff6f00"/><stop offset=".448" stop-color="#ff4e00"/><stop offset=".508" stop-color="#ff4300"/><stop offset=".576" stop-color="#ff4300"/><stop offset=".628" stop-color="#ff5900"/><stop offset=".656" stop-color="#ff6f00"/><stop offset=".708" stop-color="#ffb900"/><stop offset=".716" stop-color="#ffc400"/><stop offset=".732" stop-color="#fbf100"/><stop offset=".736" stop-color="#ebff0c"/><stop offset=".792" stop-color="#30ffc7"/><stop offset=".8" stop-color="#0ff8e7"/><stop offset=".804" stop-color="#00e4f8"/><stop offset=".812" stop-color="#00c0ff"/><stop offset=".82" stop-color="#0098ff"/><stop offset=".844" stop-color="#0000ff"/><stop offset=".848" stop-color="#0000f6"/><stop offset=".86" stop-color="#00009f"/><stop offset=".864" stop-color="#000089"/><stop offset=".868" stop-color="#000080"/><stop offset="1" stop-color="#000080"/></linearGradient>
<filter id="hb" x="-2%" y="-2%" width="104%" height="104%" color-interpolation-filters="sRGB"><feGaussianBlur stdDeviation="1.6 0"/></filter>
<linearGradient id="cb" x1="0" y1="0" x2="0" y2="1"><stop offset="0" stop-color="#800000"/><stop offset="0.03" stop-color="#9f0000"/><stop offset="0.06" stop-color="#c40000"/><stop offset="0.09" stop-color="#e80000"/><stop offset="0.12" stop-color="#ff1e00"/><stop offset="0.16" stop-color="#ff3b00"/><stop offset="0.19" stop-color="#ff5900"/><stop offset="0.22" stop-color="#ff7700"/><stop offset="0.25" stop-color="#ff9400"/><stop offset="0.28" stop-color="#ffb200"/><stop offset="0.31" stop-color="#ffd000"/><stop offset="0.34" stop-color="#feed00"/><stop offset="0.38" stop-color="#e4ff13"/><stop offset="0.41" stop-color="#caff2c"/><stop offset="0.44" stop-color="#b1ff46"/><stop offset="0.47" stop-color="#97ff60"/><stop offset="0.5" stop-color="#7dff7a"/><stop offset="0.53" stop-color="#63ff94"/><stop offset="0.56" stop-color="#49ffad"/><stop offset="0.59" stop-color="#30ffc7"/><stop offset="0.62" stop-color="#16ffe1"/><stop offset="0.66" stop-color="#00e0fb"/><stop offset="0.69" stop-color="#00c0ff"/><stop offset="0.72" stop-color="#00a0ff"/><stop offset="0.75" stop-color="#0080ff"/><stop offset="0.78" stop-color="#0060ff"/><stop offset="0.81" stop-color="#0040ff"/><stop offset="0.84" stop-color="#0020ff"/><stop offset="0.88" stop-color="#0000ff"/><stop offset="0.91" stop-color="#0000ed"/><stop offset="0.94" stop-color="#0000c8"/><stop offset="0.97" stop-color="#0000a4"/><stop offset="1" stop-color="#000080"/></linearGradient>
<clipPath id="cL2"><rect x="200" y="478" width="714" height="344"/></clipPath>
<clipPath id="cL3"><rect x="200" y="845" width="714" height="172"/></clipPath>
<clipPath id="cR1"><rect x="1205" y="110" width="595" height="345"/></clipPath>
<clipPath id="cR2"><rect x="1205" y="478" width="595" height="344"/></clipPath>
<clipPath id="cR3"><rect x="1205" y="845" width="595" height="172"/></clipPath></defs>
<text x="1000" y="40.5" font-size="24" text-anchor="middle" fill="#000" textLength="929.5">BAS-RBM Relativistic Electron Forecast, issued at 23:10 UT, 29 October 2019</text>
<g clip-path="url(#cL1)"><g filter="url(#hb)"><rect x="194" y="167.5" width="4.5" height="287.5" fill="url(#h0)"/><rect x="198" y="167.5" width="4.5" height="287.5" fill="url(#h1)"/><rect x="202" y="167.5" width="4.5" height="287.5" fill="url(#h2)"/><rect x="206" y="167.5" width="4.5" height="287.5" fill="url(#h3)"/><rect x="210" y="167.5" width="4.5" height="287.5" fill="url(#h4)"/><rect x="214" y="167.5" width="4.5" height="287.5" fill="url(#h5)"/><rect x="218" y="167.5" width="4.5" height="287.5" fill="url(#h6)"/><rect x="222" y="167.5" width="4.5" height="287.5" fill="url(#h7)"/><rect x="226" y="167.5" width="4.5" height="287.5" fill="url(#h8)"/><rect x="230" y="167.5" width="4.5" height="287.5" fill="url(#h9)"/><rect x="234" y="167.5" width="4.5" height="287.5" fill="url(#h10)"/><rect x="238" y="167.5" width="4.5" height="287.5" fill="url(#h11)"/><rect x="242" y="167.5" width="4.5" height="287.5" fill="url(#h12)"/><rect x="246" y="167.5" width="4.5" height="287.5" fill="url(#h13)"/><rect x="250" y="167.5" width="4.5" height="287.5" fill="url(#h14)"/><rect x="254" y="167.5" width="4.5" height="287.5" fill="url(#h15)"/><rect x="258" y="167.5" width="4.5" height="287.5" fill="url(#h16)"/><rect x="262" y="167.5" width="4.5" height="287.5" fill="url(#h17)"/><rect x="266" y="167.5" width="4.5" height="287.5" fill="url(#h18)"/><rect x="270" y="167.5" width="4.5" height="287.5" fill="url(#h19)"/><rect x="274" y="167.5" width="4.5" height="287.5" fill="url(#h20)"/><rect x="278" y="167.5" width="4.5" height="287.5" fill="url(#h21)"/><rect x="282" y="167.5" width="4.5" height="287.5" fill="url(#h22)"/><rect x="286" y="167.5" width="4.5" height="287.5" fill="url(#h23)"/><rect x="290" y="167.5" width="4.5" height="287.5" fill="url(#h24)"/><rect x="294" y="167.5" width="4.5" height="287.5" fill="url(#h25)"/><rect x="298" y="167.5" width="4.5" height="287.5" fill="url(#h26)"/><rect x="302" y="167.5" width="4.5" height="287.5" fill="url(#h27)"/><rect x="306" y="167.5" width="4.5" height="287.5" fill="url(#h28)"/><rect x="310" y="167.5" width="4.5" height="287.5" fill="url(#h29)"/><rect x="314" y="167.5" width="4.5" height="287.5" fill="url(#h30)"/><rect x="318" y="167.5" width="4.5" height="287.5" fill="url(#h31)"/><rect x="322" y="167.5" width="2.5" height="287.5" fill="url(#h32)"/><rect x="324" y="167.5" width="2.5" height="287.5" fill="url(#h33)"/><rect x="326" y="167.5" width="2.5" height="287.5" fill="url(#h34)"/><rect x="328" y="167.5" width="2.5" height="287.5" fill="url(#h35)"/><rect x="330" y="167.5" width="2.5" height="287.5" fill="url(#h36)"/><rect x="332" y="167.5" width="2.5" height="287.5" fill="url(#h37)"/><rect x="334" y="167.5" width="2.5" height="287.5" fill="url(#h38)"/><rect x="336" y="167.5" width="2.5" height="287.5" fill="url(#h39)"/><rect x="338" y="167.5" width="2.5" height="287.5" fill="url(#h40)"/><rect x="340" y="167.5" width="2.5" height="287.5" fill="url(#h41)"/><rect x="342" y="167.5" width="2.5" height="287.5" fill="url(#h42)"/><rect x="344" y="167.5" width="2.5" height="287.5" fill="url(#h43)"/><rect x="346" y="167.5" width="2.5" height="287.5" fill="url(#h44)"/><rect x="348" y="167.5" width="2.5" height="287.5" fill="url(#h45)"/><rect x="350" y="167.5" width="2.5" height="287.5" fill="url(#h46)"/><rect x="352" y="167.5" width="2.5" height="287.5" fill="url(#h47)"/><rect x="354" y="167.5" width="2.5" height="287.5" fill="url(#h48)"/><rect x="356" y="167.5" width="2.5" height="287.5" fill="url(#h49)"/><rect x="358" y="167.5" width="2.5" height="287.5" fill="url(#h50)"/><rect x="360" y="167.5" width="2.5" height="287.5" fill="url(#h51)"/><rect x="362" y="167.5" width="2.5" height="287.5" fill="url(#h52)"/><rect x="364" y="167.5" width="2.5" height="287.5" fill="url(#h53)"/><rect x="366" y="167.5" width="2.5" height="287.5" fill="url(#h54)"/><rect x="368" y="167.5" width="2.5" height="287.5" fill="url(#h55)"/><rect x="370" y="167.5" width="2.5" height="287.5" fill="url(#h56)"/><rect x="372" y="167.5" width="2.5" height="287.5" fill="url(#h57)"/><rect x="374" y="167.5" width="2.5" height="287.5" fill="url(#h58)"/><rect x="376" y="167.5" width="2.5" height="287.5" fill="url(#h59)"/><rect x="378" y="167.5" width="2.5" height="287.5" fill="url(#h60)"/><rect x="380" y="167.5" width="2.5" height="287.5" fill="url(#h61)"/><rect x="382" y="167.5" width="2.5" height="287.5" fill="url(#h62)"/><rect x="384" y="167.5" width="2.5" height="287.5" fill="url(#h63)"/><rect x="386" y="167.5" width="2.5" height="287.5" fill="url(#h64)"/><rect x="388" y="167.5" width="2.5" height="287.5" fill="url(#h65)"/><rect x="390" y="167.5" width="2.5" height="287.5" fill="url(#h66)"/><rect x="392" y="167.5" width="2.5" height="287.5" fill="url(#h67)"/><rect x="394" y="167.5" width="2.5" height="287.5" fill="url(#h68)"/><rect x="396" y="167.5" width="2.5" height="287.5" fill="url(#h69)"/><rect x="398" y="167.5" width="2.5" height="287.5" fill="url(#h70)"/><rect x="400" y="167.5" width="2.5" height="287.5" fill="url(#h71)"/><rect x="402" y="167.5" width="2.5" height="287.5" fill="url(#h72)"/><rect x="404" y="167.5" width="2.5" height="287.5" fill="url(#h73)"/><rect x="406" y="167.5" width="2.5" height="287.5" fill="url(#h74)"/><rect x="408" y="167.5" width="2.5" height="287.5" fill="url(#h75)"/><rect x="410" y="167.5" width="2.5" height="287.5" fill="url(#h76)"/><rect x="412" y="167.5" width="2.5" height="287.5" fill="url(#h77)"/><rect x="414" y="167.5" width="4.5" height="287.5" fill="url(#h78)"/><rect x="418" y="167.5" width="4.5" height="287.5" fill="url(#h79)"/><rect x="422" y="167.5" width="4.5" height="287.5" fill="url(#h80)"/><rect x="426" y="167.5" width="4.5" height="287.5" fill="url(#h81)"/><rect x="430" y="167.5" width="4.5" height="287.5" fill="url(#h82)"/><rect x="434" y="167.5" width="4.5" height="287.5" fill="url(#h83)"/><rect x="438" y="167.5" width="4.5" height="287.5" fill="url(#h84)"/><rect x="442" y="167.5" width="4.5" height="287.5" fill="url(#h85)"/><rect x="446" y="167.5" width="4.5" height="287.5" fill="url(#h86)"/><rect x="450" y="167.5" width="4.5" height="287.5" fill="url(#h87)"/><rect x="454" y="167.5" width="4.5" height="287.5" fill="url(#h88)"/><rect x="458" y="167.5" width="4.5" height="287.5" fill="url(#h89)"/><rect x="462" y="167.5" width="4.5" height="287.5" fill="url(#h90)"/><rect x="466" y="167.5" width="4.5" height="287.5" fill="url(#h91)"/><rect x="470" y="167.5" width="4.5" height="287.5" fill="url(#h92)"/><rect x="474" y="167.5" width="4.5" height="287.5" fill="url(#h93)"/><rect x="478" y="167.5" width="4.5" height="287.5" fill="url(#h94)"/><rect x="482" y="167.5" width="4.5" height="287.5" fill="url(#h95)"/><rect x="486" y="167.5" width="4.5" height="287.5" fill="url(#h96)"/><rect x="490" y="167.5" width="4.5" height="287.5" fill="url(#h97)"/><rect x="494" y="167.5" width="4.5" height="287.5" fill="url(#h98)"/><rect x="498" y="167.5" width="4.5" height="287.5" fill="url(#h99)"/><rect x="502" y="167.5" width="4.5" height="287.5" fill="url(#h100)"/><rect x="506" y="167.5" width="4.5" height="287.5" fill="url(#h101)"/><rect x="510" y="167.5" width="4.5" height="287.5" fill="url(#h102)"/><rect x="514" y="167.5" width="4.5" height="287.5" fill="url(#h103)"/><rect x="518" y="167.5" width="4.5" height="287.5" fill="url(#h104)"/><rect x="522" y="167.5" width="4.5" height="287.5" fill="url(#h105)"/><rect x="526" y="167.5" width="4.5" height="287.5" fill="url(#h106)"/><rect x="530" y="167.5" width="4.5" height="287.5" fill="url(#h107)"/><rect x="534" y="167.5" width="4.5" height="287.5" fill="url(#h108)"/><rect x="538" y="167.5" width="4.5" height="287.5" fill="url(#h109)"/><rect x="542" y="167.5" width="4.5" height="287.5" fill="url(#h110)"/><rect x="546" y="167.5" width="4.5" height="287.5" fill="url(#h111)"/><rect x="550" y="167.5" width="4.5" height="287.5" fill="url(#h112)"/><rect x="554" y="167.5" width="4.5" height="287.5" fill="url(#h113)"/><rect x="558" y="167.5" width="4.5" height="287.5" fill="url(#h114)"/><rect x="562" y="167.5" width="4.5" height="287.5" fill="url(#h115)"/><rect x="566" y="167.5" width="4.5" height="287.5" fill="url(#h116)"/><rect x="570" y="167.5" width="4.5" height="287.5" fill="url(#h117)"/><rect x="574" y="167.5" width="4.5" height="287.5" fill="url(#h118)"/><rect x="578" y="167.5" width="4.5" height="287.5" fill="url(#h119)"/><rect x="582" y="167.5" width="4.5" height="287.5" fill="url(#h120)"/><rect x="586" y="167.5" width="4.5" height="287.5" fill="url(#h121)"/><rect x="590" y="167.5" width="4.5" height="287.5" fill="url(#h122)"/><rect x="594" y="167.5" width="4.5" height="287.5" fill="url(#h123)"/><rect x="598" y="167.5" width="4.5" height="287.5" fill="url(#h124)"/><rect x="602" y="167.5" width="4.5" height="287.5" fill="url(#h125)"/><rect x="606" y="167.5" width="4.5" height="287.5" fill="url(#h126)"/><rect x="610" y="167.5" width="4.5" height="287.5" fill="url(#h127)"/><rect x="614" y="167.5" width="4.5" height="287.5" fill="url(#h128)"/><rect x="618" y="167.5" width="4.5" height="287.5" fill="url(#h129)"/><rect x="622" y="167.5" width="10.5" height="287.5" fill="url(#h130)"/><rect x="632" y="167.5" width="10.5" height="287.5" fill="url(#h131)"/><rect x="642" y="167.5" width="10.5" height="287.5" fill="url(#h132)"/><rect x="652" y="167.5" width="10.5" height="287.5" fill="url(#h133)"/><rect x="662" y="167.5" width="10.5" height="287.5" fill="url(#h134)"/><rect x="672" y="167.5" width="10.5" height="287.5" fill="url(#h135)"/><rect x="682" y="167.5" width="10.5" height="287.5" fill="url(#h136)"/><rect x="692" y="167.5" width="10.5" height="287.5" fill="url(#h137)"/><rect x="702" y="167.5" width="10.5" height="287.5" fill="url(#h138)"/><rect x="712" y="167.5" width="10.5" height="287.5" fill="url(#h139)"/><rect x="722" y="167.5" width="10.5" height="287.5" fill="url(#h140)"/><rect x="732" y="167.5" width="10.5" height="287.5" fill="url(#h141)"/><rect x="742" y="167.5" width="10.5" height="287.5" fill="url(#h142)"/><rect x="752" y="167.5" width="10.5" height="287.5" fill="url(#h143)"/><rect x="762" y="167.5" width="10.5" height="287.5" fill="url(#h144)"/><rect x="772" y="167.5" width="10.5" height="287.5" fill="url(#h145)"/><rect x="782" y="167.5" width="10.5" height="287.5" fill="url(#h146)"/><rect x="792" y="167.5" width="10.5" height="287.5" fill="url(#h147)"/><rect x="802" y="167.5" width="10.5" height="287.5" fill="url(#h148)"/><rect x="812" y="167.5" width="10.5" height="287.5" fill="url(#h149)"/><rect x="822" y="167.5" width="10.5" height="287.5" fill="url(#h150)"/><rect x="832" y="167.5" width="10.5" height="287.5" fill="url(#h151)"/><rect x="842" y="167.5" width="10.5" height="287.5" fill="url(#h152)"/><rect x="852" y="167.5" width="10.5" height="287.5" fill="url(#h153)"/><rect x="862" y="167.5" width="10.5" height="287.5" fill="url(#h154)"/><rect x="872" y="167.5" width="10.5" height="287.5" fill="url(#h155)"/><rect x="882" y="167.5" width="10.5" height="287.5" fill="url(#h156)"/><rect x="892" y="167.5" width="10.5" height="287.5" fill="url(#h157)"/><rect x="902" y="167.5" width="10.5" height="287.5" fill="url(#h158)"/><rect x="912" y="167.5" width="10.5" height="287.5" fill="url(#h159)"/></g></g>
<rect x="200" y="110" width="714" height="57.5" fill="#d3d3d3" />
<line x1="228" y1="110" x2="228" y2="119.7" stroke="#000" stroke-width="4.17" />
<text x="228.9" y="138.8" font-size="13.9" text-anchor="middle" fill="#000" >M</text>
<line x1="272.62" y1="110" x2="272.62" y2="119.7" stroke="#f00" stroke-width="4.17" />
<text x="273.52" y="138.8" font-size="13.9" text-anchor="middle" fill="#f00" >N</text>
<line x1="317.25" y1="110" x2="317.25" y2="119.7" stroke="#000" stroke-width="4.17" />
<text x="318.15" y="138.8" font-size="13.9" text-anchor="middle" fill="#000" >M</text>
<line x1="361.88" y1="110" x2="361.88" y2="119.7" stroke="#f00" stroke-width="4.17" />
<text x="362.77" y="138.8" font-size="13.9" text-anchor="middle" fill="#f00" >N</text>
<line x1="406.5" y1="110" x2="406.5" y2="119.7" stroke="#000" stroke-width="4.17" />
<text x="407.4" y="138.8" font-size="13.9" text-anchor="middle" fill="#000" >M</text>
<line x1="451.12" y1="110" x2="451.12" y2="119.7" stroke="#f00" stroke-width="4.17" />
<text x="452.02" y="138.8" font-size="13.9" text-anchor="middle" fill="#f00" >N</text>
<line x1="495.75" y1="110" x2="495.75" y2="119.7" stroke="#000" stroke-width="4.17" />
<text x="496.65" y="138.8" font-size="13.9" text-anchor="middle" fill="#000" >M</text>
<line x1="540.38" y1="110" x2="540.38" y2="119.7" stroke="#f00" stroke-width="4.17" />
<text x="541.27" y="138.8" font-size="13.9" text-anchor="middle" fill="#f00" >N</text>
<line x1="585" y1="110" x2="585" y2="119.7" stroke="#000" stroke-width="4.17" />
<text x="585.9" y="138.8" font-size="13.9" text-anchor="middle" fill="#000" >M</text>
<line x1="629.62" y1="110" x2="629.62" y2="119.7" stroke="#f00" stroke-width="4.17" />
<text x="630.52" y="138.8" font-size="13.9" text-anchor="middle" fill="#f00" >N</text>
<line x1="674.25" y1="110" x2="674.25" y2="119.7" stroke="#000" stroke-width="4.17" />
<text x="675.15" y="138.8" font-size="13.9" text-anchor="middle" fill="#000" >M</text>
<line x1="718.88" y1="110" x2="718.88" y2="119.7" stroke="#f00" stroke-width="4.17" />
<text x="719.77" y="138.8" font-size="13.9" text-anchor="middle" fill="#f00" >N</text>
<line x1="763.5" y1="110" x2="763.5" y2="119.7" stroke="#000" stroke-width="4.17" />
<text x="764.4" y="138.8" font-size="13.9" text-anchor="middle" fill="#000" >M</text>
<line x1="808.12" y1="110" x2="808.12" y2="119.7" stroke="#f00" stroke-width="4.17" />
<text x="809.02" y="138.8" font-size="13.9" text-anchor="middle" fill="#f00" >N</text>
<line x1="251.6" y1="110" x2="251.6" y2="139" stroke="#fff" stroke-width="2.8" stroke-linecap="round"/>
<line x1="326.8" y1="110" x2="326.8" y2="202.5" stroke="#fff" stroke-width="2.6" stroke-linecap="round"/>
<line x1="330.4" y1="110" x2="330.4" y2="158" stroke="#fff" stroke-width="2.6" stroke-linecap="round"/>
<line x1="359" y1="110" x2="359" y2="128" stroke="#fff" stroke-width="1.3" stroke-linecap="round"/>
<line x1="723.45" y1="110" x2="723.45" y2="140.5" stroke="#fff" stroke-width="2.2" stroke-linecap="round"/>
<rect x="321.8" y="110" width="9.7" height="12" fill="#fff" />
<rect x="325" y="110" width="6.5" height="20" fill="#fff" />
<path d="M199 220.9 200 219.6 201 218.7 202 217.9 203 217.3 204 216.9 205 216.7 206 216.5 207 216.3 208 216 209 215.6 210 214.9 211 213.7 212 212.2 213 210.5 214 208.6 215 206.6 216 204.6 217 202.6 218 200.5 219 198.4 220 197.7 221 198.1 222 198.7 223 199.3 224 199.9 225 200.4 226 200.9 227 201.2 228 201.1 229 200.7 230 200.1 231 199.6 232 199 233 198.4 234 197.8 235 197.7 236 198.3 237 199.3 238 200.6 239 201.8 240 203.2 241 204.8 242 206.6 243 208.6 244 210.9 245 212.5 246 213.7 247 214.7 248 215.4 249 215.9 250 216.2 251 216.4 252 216.6 253 216.9 254 217.4 255 218 256 218.7 257 219.6 258 220.6 259 221.9 260 223.4 261 224.8 262 226.1 263 227.3 264 228.5 265 229.6 266 230.5 267 231 268 231.5 269 231.7 270 231.8 271 231.9 272 231.9 273 231.9 274 231.9 275 231.8 276 231.8 277 231.6 278 231.5 279 231.2 280 231 281 230.5 282 230 283 229.2 284 228.3 285 226.9 286 225.1 287 223.2 288 221.3 289 219.9 290 218.9 291 218.1 292 217.5 293 217 294 216.7 295 216.5 296 216.3 297 216.1 298 215.7 299 215.2 300 214 301 212.6 302 210.9 303 209.1 304 207.1 305 205.1 306 203.1 307 201.1 308 198.8 309 197.7 310 197.9 311 198.5 312 199.2 313 199.7 314 200.3 315 200.8 316 201.1 317 201.1 318 200.8 319 200.3 320 199.7 321 199.2 322 198.5 323 197.9 324 197.7 325 198.1 326 199 327 200.2 328 201.5 329 202.8 330 204.4 331 206.1 332 208 333 210.4 334 212.1 335 213.4 336 214.4 337 215.2 338 215.8 339 216.1 340 216.3 341 216.5 342 216.8 343 217.2 344 217.8 345 218.5 346 219.4 347 220.3 348 221.6 349 223 350 224.5 351 225.8 352 227 353 228.2 354 229.3 355 230.3 356 230.9 357 231.4 358 231.7 359 231.8 360 231.9 361 231.9 362 231.9 363 231.9 364 231.8 365 231.8 366 231.7 367 231.5 368 231.3 369 231 370 230.7 371 230.1 372 229.4 373 228.6 374 227.4 375 225.5 376 223.7 377 221.8 378 220.2 379 219.1 380 218.3 381 217.6 382 217.1 383 216.8 384 216.6 385 216.4 386 216.1 387 215.8 388 215.4 389 214.4 390 212.9 391 211.4 392 209.5 393 207.6 394 205.6 395 203.6 396 201.6 397 199.3 398 197.8 399 197.8 400 198.4 401 199 402 199.6 403 200.1 404 200.7 405 201.1 406 201.2 407 200.9 408 200.4 409 199.9 410 199.3 411 198.7 412 198.1 413 197.7 414 197.9 415 198.7 416 199.9 417 201.2 418 202.5 419 204 420 205.7 421 207.5 422 209.8 423 211.8 424 213.1 425 214.2 426 215.1 427 215.7 428 216.1 429 216.3 430 216.5 431 216.7 432 217.1 433 217.7 434 218.3 435 219.1 436 220 437 221.2 438 222.7 439 224.1 440 225.4 441 226.7 442 227.9 443 229 444 230.1 445 230.8 446 231.3 447 231.6 448 231.8 449 231.9 450 231.9 451 231.9 452 231.9 453 231.9 454 231.8 455 231.7 456 231.6 457 231.4 458 231.1 459 230.8 460 230.3 461 229.6 462 228.8 463 227.7 464 226 465 224.2 466 222.3 467 220.5 468 219.3 469 218.5 470 217.7 471 217.2 472 216.9 473 216.6 474 216.4 475 216.2 476 215.9 477 215.5 478 214.7 479 213.3 480 211.8 481 210 482 208.1 483 206.1 484 204.1 485 202.1 486 199.9 487 198 488 197.8 489 198.2 490 198.9 491 199.5 492 200 493 200.6 494 201 495 201.2 496 201 497 200.6 498 200 499 199.5 500 198.9 501 198.2 502 197.8 503 197.8 504 198.5 505 199.6 506 200.9 507 202.1 508 203.6 509 205.2 510 207 511 209.2 512 211.4 513 212.8 514 213.9 515 214.9 516 215.6 517 216 518 216.2 519 216.4 520 216.7 521 217 522 217.5 523 218.2 524 218.9 525 219.8 526 220.9 527 222.3 528 223.8 529 225.1 530 226.4 531 227.6 532 228.7 533 229.8 534 230.7 535 231.2 536 231.5 537 231.8 538 231.8 539 231.9 540 231.9 541 231.9 542 231.9 543 231.8 544 231.7 545 231.6 546 231.4 547 231.2 548 230.9 549 230.4 550 229.8 551 229 552 228.1 553 226.5 554 224.7 555 222.7 556 220.9 557 219.6 558 218.7 559 217.9 560 217.3 561 216.9 562 216.7 563 216.5 564 216.3 565 216 566 215.6 567 214.9 568 213.7 569 212.2 570 210.5 571 208.6 572 206.6 573 204.6 574 202.6 575 200.5 576 198.4 577 197.7 578 198.1 579 198.7 580 199.3 581 199.9 582 200.4 583 200.9 584 201.2 585 201.1 586 200.7 587 200.1 588 199.6 589 199 590 198.4 591 197.8 592 197.7 593 198.3 594 199.3 595 200.6 596 201.8 597 203.2 598 204.8 599 206.6 600 208.6 601 210.9 602 212.5 603 213.7 604 214.7 605 215.4 606 215.9 607 216.2 608 216.4 609 216.6 610 216.9 611 217.4 612 218 613 218.7 614 219.6 615 220.6 616 221.9 617 223.4 618 224.8 619 226.1 620 227.3 621 228.5 622 229.6 623 230.5 624 231 625 231.5 626 231.7 627 231.8 628 231.9 629 231.9 630 231.9 631 231.9 632 231.8 633 231.8 634 231.6 635 231.5 636 231.2 637 231 638 230.5 639 230 640 229.2 641 228.3 642 226.9 643 225.1 644 223.2 645 221.3 646 219.9 647 218.9 648 218.1 649 217.5 650 217 651 216.7 652 216.5 653 216.3 654 216.1 655 215.7 656 215.2 657 214 658 212.6 659 210.9 660 209.1 661 207.1 662 205.1 663 203.1 664 201.1 665 198.8 666 197.7 667 197.9 668 198.5 669 199.2 670 199.7 671 200.3 672 200.8 673 201.1 674 201.1 675 200.8 676 200.3 677 199.7 678 199.2 679 198.5 680 197.9 681 197.7 682 198.1 683 199 684 200.2 685 201.5 686 202.8 687 204.4 688 206.1 689 208 690 210.4 691 212.1 692 213.4 693 214.4 694 215.2 695 215.8 696 216.1 697 216.3 698 216.5 699 216.8 700 217.2 701 217.8 702 218.5 703 219.4 704 220.3 705 221.6 706 223 707 224.5 708 225.8 709 227 710 228.2 711 229.3 712 230.3 713 230.9 714 231.4 715 231.7 716 231.8 717 231.9 718 231.9 719 231.9 720 231.9 721 231.8 722 231.8 723 231.7 724 231.5 725 231.3 726 231 727 230.7 728 230.1 729 229.4 730 228.6 731 227.4 732 225.5 733 223.7 734 221.8 735 220.2 736 219.1 737 218.3 738 217.6 739 217.1 740 216.8 741 216.6 742 216.4 743 216.1 744 215.8 745 215.4 746 214.4 747 212.9 748 211.4 749 209.5 750 207.6 751 205.6 752 203.6 753 201.6 754 199.3 755 197.8 756 197.8 757 198.4 758 199 759 199.6 760 200.1 761 200.7 762 201.1 763 201.2 764 200.9 765 200.4 766 199.9 767 199.3 768 198.7 769 198.1 770 197.7 771 197.9 772 198.7 773 199.9 774 201.2 775 202.5 776 204 777 205.7 778 207.5 779 209.8 780 211.8 781 213.1 782 214.2 783 215.1 784 215.7 785 216.1 786 216.3 787 216.5 788 216.7 789 217.1 790 217.7 791 218.3 792 219.1 793 220 794 221.2 795 222.7 796 224.1 797 225.4 798 226.7 799 227.9 800 229 801 230.1 802 230.8 803 231.3 804 231.6 805 231.8 806 231.9 807 231.9 808 231.9 809 231.9 810 231.9 811 231.8 812 231.7 813 231.6 814 231.4 815 231.1 816 230.8 817 230.3 818 229.6 819 228.8 820 227.7 821 226 822 224.2 823 222.3 824 220.5 825 219.3 826 218.5 827 217.7 828 217.2 829 216.9 830 216.6 831 216.4 832 216.2 833 215.9 834 215.5 835 214.7 836 213.3 837 211.8 838 210 839 208.1 840 206.1 841 204.1 842 202.1 843 199.9 844 198 845 197.8 846 198.2 847 198.9 848 199.5 849 200 850 200.6 851 201 852 201.2 853 201 854 200.6 855 200 856 199.5 857 198.9 858 198.2 859 197.8 860 197.8 861 198.5 862 199.6 863 200.9 864 202.1 865 203.6 866 205.2 867 207 868 209.2 869 211.4 870 212.8 871 213.9 872 214.9 873 215.6 874 216 875 216.2 876 216.4 877 216.7 878 217 879 217.5 880 218.2 881 218.9 882 219.8 883 220.9 884 222.3 885 223.8 886 225.1 887 226.4 888 227.6 889 228.7 890 229.8 891 230.7 892 231.2 893 231.5 894 231.8 895 231.8 896 231.9 897 231.9 898 231.9 899 231.9 900 231.8 901 231.7 902 231.6 903 231.4 904 231.2 905 230.9 906 230.4 907 229.8 908 229 909 228.1 910 226.5 911 224.7 912 222.7 913 220.9 914 219.6 915 218.7" fill="none" stroke="#000" stroke-width="2.3" stroke-linejoin="round" clip-path="url(#cL1)" stroke-dasharray="7.7 3.33"/>
<line x1="825" y1="455" x2="825" y2="110" stroke="#1f77b4" stroke-width="2.08" stroke-dasharray="2.08 3.44"/>
<text font-size="63.6" text-anchor="middle" fill="#000" transform="translate(888.5,289.5) rotate(-90)" fill-opacity="0.1">Forecast</text>
<rect x="200" y="110" width="714" height="345" fill="none" stroke="#000" stroke-width="2" shape-rendering="crispEdges"/>
<line x1="248.6" y1="455" x2="248.6" y2="450.1" stroke="#000" stroke-width="1" shape-rendering="crispEdges"/>
<line x1="337.85" y1="455" x2="337.85" y2="450.1" stroke="#000" stroke-width="1" shape-rendering="crispEdges"/>
<line x1="427.1" y1="455" x2="427.1" y2="450.1" stroke="#000" stroke-width="1" shape-rendering="crispEdges"/>
<line x1="516.35" y1="455" x2="516.35" y2="450.1" stroke="#000" stroke-width="1" shape-rendering="crispEdges"/>
<line x1="605.6" y1="455" x2="605.6" y2="450.1" stroke="#000" stroke-width="1" shape-rendering="crispEdges"/>
<line x1="694.85" y1="455" x2="694.85" y2="450.1" stroke="#000" stroke-width="1" shape-rendering="crispEdges"/>
<line x1="784.1" y1="455" x2="784.1" y2="450.1" stroke="#000" stroke-width="1" shape-rendering="crispEdges"/>
<line x1="873.35" y1="455" x2="873.35" y2="450.1" stroke="#000" stroke-width="1" shape-rendering="crispEdges"/>
<line x1="200" y1="455" x2="204.9" y2="455" stroke="#000" stroke-width="1" shape-rendering="crispEdges"/>
<text x="195.14" y="462.6" font-size="20" text-anchor="end" fill="#000" >2</text>
<line x1="914" y1="455" x2="909.1" y2="455" stroke="#000" stroke-width="1" shape-rendering="crispEdges"/>
<line x1="200" y1="397.5" x2="204.9" y2="397.5" stroke="#000" stroke-width="1" shape-rendering="crispEdges"/>
<text x="195.14" y="405.1" font-size="20" text-anchor="end" fill="#000" >3</text>
<line x1="914" y1="397.5" x2="909.1" y2="397.5" stroke="#000" stroke-width="1" shape-rendering="crispEdges"/>
<line x1="200" y1="340" x2="204.9" y2="340" stroke="#000" stroke-width="1" shape-rendering="crispEdges"/>
<text x="195.14" y="347.6" font-size="20" text-anchor="end" fill="#000" >4</text>
<line x1="914" y1="340" x2="909.1" y2="340" stroke="#000" stroke-width="1" shape-rendering="crispEdges"/>
<line x1="200" y1="282.5" x2="204.9" y2="282.5" stroke="#000" stroke-width="1" shape-rendering="crispEdges"/>
<text x="195.14" y="290.1" font-size="20" text-anchor="end" fill="#000" >5</text>
<line x1="914" y1="282.5" x2="909.1" y2="282.5" stroke="#000" stroke-width="1" shape-rendering="crispEdges"/>
<line x1="200" y1="225" x2="204.9" y2="225" stroke="#000" stroke-width="1" shape-rendering="crispEdges"/>
<text x="195.14" y="232.6" font-size="20" text-anchor="end" fill="#000" >6</text>
<line x1="914" y1="225" x2="909.1" y2="225" stroke="#000" stroke-width="1" shape-rendering="crispEdges"/>
<line x1="200" y1="167.5" x2="204.9" y2="167.5" stroke="#000" stroke-width="1" shape-rendering="crispEdges"/>
<text x="195.14" y="175.1" font-size="20" text-anchor="end" fill="#000" >7</text>
<line x1="914" y1="167.5" x2="909.1" y2="167.5" stroke="#000" stroke-width="1" shape-rendering="crispEdges"/>
<line x1="200" y1="110" x2="204.9" y2="110" stroke="#000" stroke-width="1" shape-rendering="crispEdges"/>
<text x="195.14" y="117.6" font-size="20" text-anchor="end" fill="#000" >8</text>
<line x1="914" y1="110" x2="909.1" y2="110" stroke="#000" stroke-width="1" shape-rendering="crispEdges"/>
<text x="175.5" y="92.5" font-size="24" text-anchor="start" fill="#000" >2.0 MeV Electron Flux at 88<tspan dy="-8.64" dx="4" font-size="16.8">∘</tspan><tspan dy="8.64" dx="3.2"> pitch angle ( cm</tspan><tspan dy="-8.64" font-size="16.8">−2</tspan><tspan dy="8.64" dx="-2.5"> s</tspan><tspan dy="-8.64" font-size="16.8">−1</tspan><tspan dy="8.64" dx="-3"> sr</tspan><tspan dy="-8.64" font-size="16.8">−1</tspan><tspan dy="8.64" dx="-2.5"> KeV</tspan><tspan dy="-8.64" font-size="16.8">−1</tspan><tspan dy="8.64" dx="1.1"> )</tspan></text>
<text font-size="24" text-anchor="middle" fill="#000" transform="translate(172,282.5) rotate(-90)" >L*</text>
<rect x="959" y="110" width="17" height="345" fill="url(#cb)" />
<rect x="959" y="110" width="17" height="345" fill="none" stroke="#000" stroke-width="2" shape-rendering="crispEdges"/>
<line x1="976" y1="455" x2="981.9" y2="455" stroke="#000" stroke-width="1" shape-rendering="crispEdges"/>
<text x="987.3" y="463.1" font-size="20" text-anchor="start" fill="#000" >10<tspan dy="-7.2" font-size="14">−3</tspan></text>
<line x1="976" y1="437.69" x2="981.5" y2="437.69" stroke="#000" stroke-width="1" shape-rendering="crispEdges"/>
<line x1="976" y1="427.57" x2="981.5" y2="427.57" stroke="#000" stroke-width="1" shape-rendering="crispEdges"/>
<line x1="976" y1="420.38" x2="981.5" y2="420.38" stroke="#000" stroke-width="1" shape-rendering="crispEdges"/>
<line x1="976" y1="414.81" x2="981.5" y2="414.81" stroke="#000" stroke-width="1" shape-rendering="crispEdges"/>
<line x1="976" y1="410.26" x2="981.5" y2="410.26" stroke="#000" stroke-width="1" shape-rendering="crispEdges"/>
<line x1="976" y1="406.41" x2="981.5" y2="406.41" stroke="#000" stroke-width="1" shape-rendering="crispEdges"/>
<line x1="976" y1="403.07" x2="981.5" y2="403.07" stroke="#000" stroke-width="1" shape-rendering="crispEdges"/>
<line x1="976" y1="400.13" x2="981.5" y2="400.13" stroke="#000" stroke-width="1" shape-rendering="crispEdges"/>
<line x1="976" y1="397.5" x2="981.9" y2="397.5" stroke="#000" stroke-width="1" shape-rendering="crispEdges"/>
<text x="987.3" y="405.6" font-size="20" text-anchor="start" fill="#000" >10<tspan dy="-7.2" font-size="14">−2</tspan></text>
<line x1="976" y1="380.19" x2="981.5" y2="380.19" stroke="#000" stroke-width="1" shape-rendering="crispEdges"/>
<line x1="976" y1="370.07" x2="981.5" y2="370.07" stroke="#000" stroke-width="1" shape-rendering="crispEdges"/>
<line x1="976" y1="362.88" x2="981.5" y2="362.88" stroke="#000" stroke-width="1" shape-rendering="crispEdges"/>
<line x1="976" y1="357.31" x2="981.5" y2="357.31" stroke="#000" stroke-width="1" shape-rendering="crispEdges"/>
<line x1="976" y1="352.76" x2="981.5" y2="352.76" stroke="#000" stroke-width="1" shape-rendering="crispEdges"/>
<line x1="976" y1="348.91" x2="981.5" y2="348.91" stroke="#000" stroke-width="1" shape-rendering="crispEdges"/>
<line x1="976" y1="345.57" x2="981.5" y2="345.57" stroke="#000" stroke-width="1" shape-rendering="crispEdges"/>
<line x1="976" y1="342.63" x2="981.5" y2="342.63" stroke="#000" stroke-width="1" shape-rendering="crispEdges"/>
<line x1="976" y1="340" x2="981.9" y2="340" stroke="#000" stroke-width="1" shape-rendering="crispEdges"/>
<text x="987.3" y="348.1" font-size="20" text-anchor="start" fill="#000" >10<tspan dy="-7.2" font-size="14">−1</tspan></text>
<line x1="976" y1="322.69" x2="981.5" y2="322.69" stroke="#000" stroke-width="1" shape-rendering="crispEdges"/>
<line x1="976" y1="312.57" x2="981.5" y2="312.57" stroke="#000" stroke-width="1" shape-rendering="crispEdges"/>
<line x1="976" y1="305.38" x2="981.5" y2="305.38" stroke="#000" stroke-width="1" shape-rendering="crispEdges"/>
<line x1="976" y1="299.81" x2="981.5" y2="299.81" stroke="#000" stroke-width="1" shape-rendering="crispEdges"/>
<line x1="976" y1="295.26" x2="981.5" y2="295.26" stroke="#000" stroke-width="1" shape-rendering="crispEdges"/>
<line x1="976" y1="291.41" x2="981.5" y2="291.41" stroke="#000" stroke-width="1" shape-rendering="crispEdges"/>
<line x1="976" y1="288.07" x2="981.5" y2="288.07" stroke="#000" stroke-width="1" shape-rendering="crispEdges"/>
<line x1="976" y1="285.13" x2="981.5" y2="285.13" stroke="#000" stroke-width="1" shape-rendering="crispEdges"/>
<line x1="976" y1="282.5" x2="981.9" y2="282.5" stroke="#000" stroke-width="1" shape-rendering="crispEdges"/>
<text x="987.3" y="290.6" font-size="20" text-anchor="start" fill="#000" >10<tspan dy="-7.2" font-size="14">0</tspan></text>
<line x1="976" y1="265.19" x2="981.5" y2="265.19" stroke="#000" stroke-width="1" shape-rendering="crispEdges"/>
<line x1="976" y1="255.07" x2="981.5" y2="255.07" stroke="#000" stroke-width="1" shape-rendering="crispEdges"/>
<line x1="976" y1="247.88" x2="981.5" y2="247.88" stroke="#000" stroke-width="1" shape-rendering="crispEdges"/>
<line x1="976" y1="242.31" x2="981.5" y2="242.31" stroke="#000" stroke-width="1" shape-rendering="crispEdges"/>
<line x1="976" y1="237.76" x2="981.5" y2="237.76" stroke="#000" stroke-width="1" shape-rendering="crispEdges"/>
<line x1="976" y1="233.91" x2="981.5" y2="233.91" stroke="#000" stroke-width="1" shape-rendering="crispEdges"/>
<line x1="976" y1="230.57" x2="981.5" y2="230.57" stroke="#000" stroke-width="1" shape-rendering="crispEdges"/>
<line x1="976" y1="227.63" x2="981.5" y2="227.63" stroke="#000" stroke-width="1" shape-rendering="crispEdges"/>
<line x1="976" y1="225" x2="981.9" y2="225" stroke="#000" stroke-width="1" shape-rendering="crispEdges"/>
<text x="987.3" y="233.1" font-size="20" text-anchor="start" fill="#000" >10<tspan dy="-7.2" font-size="14">1</tspan></text>
<line x1="976" y1="207.69" x2="981.5" y2="207.69" stroke="#000" stroke-width="1" shape-rendering="crispEdges"/>
<line x1="976" y1="197.57" x2="981.5" y2="197.57" stroke="#000" stroke-width="1" shape-rendering="crispEdges"/>
<line x1="976" y1="190.38" x2="981.5" y2="190.38" stroke="#000" stroke-width="1" shape-rendering="crispEdges"/>
<line x1="976" y1="184.81" x2="981.5" y2="184.81" stroke="#000" stroke-width="1" shape-rendering="crispEdges"/>
<line x1="976" y1="180.26" x2="981.5" y2="180.26" stroke="#000" stroke-width="1" shape-rendering="crispEdges"/>
<line x1="976" y1="176.41" x2="981.5" y2="176.41" stroke="#000" stroke-width="1" shape-rendering="crispEdges"/>
<line x1="976" y1="173.07" x2="981.5" y2="173.07" stroke="#000" stroke-width="1" shape-rendering="crispEdges"/>
<line x1="976" y1="170.13" x2="981.5" y2="170.13" stroke="#000" stroke-width="1" shape-rendering="crispEdges"/>
<line x1="976" y1="167.5" x2="981.9" y2="167.5" stroke="#000" stroke-width="1" shape-rendering="crispEdges"/>
<text x="987.3" y="175.6" font-size="20" text-anchor="start" fill="#000" >10<tspan dy="-7.2" font-size="14">2</tspan></text>
<line x1="976" y1="150.19" x2="981.5" y2="150.19" stroke="#000" stroke-width="1" shape-rendering="crispEdges"/>
<line x1="976" y1="140.07" x2="981.5" y2="140.07" stroke="#000" stroke-width="1" shape-rendering="crispEdges"/>
<line x1="976" y1="132.88" x2="981.5" y2="132.88" stroke="#000" stroke-width="1" shape-rendering="crispEdges"/>
<line x1="976" y1="127.31" x2="981.5" y2="127.31" stroke="#000" stroke-width="1" shape-rendering="crispEdges"/>
<line x1="976" y1="122.76" x2="981.5" y2="122.76" stroke="#000" stroke-width="1" shape-rendering="crispEdges"/>
<line x1="976" y1="118.91" x2="981.5" y2="118.91" stroke="#000" stroke-width="1" shape-rendering="crispEdges"/>
<line x1="976" y1="115.57" x2="981.5" y2="115.57" stroke="#000" stroke-width="1" shape-rendering="crispEdges"/>
<line x1="976" y1="112.63" x2="981.5" y2="112.63" stroke="#000" stroke-width="1" shape-rendering="crispEdges"/>
<line x1="976" y1="110" x2="981.9" y2="110" stroke="#000" stroke-width="1" shape-rendering="crispEdges"/>
<text x="987.3" y="118.1" font-size="20" text-anchor="start" fill="#000" >10<tspan dy="-7.2" font-size="14">3</tspan></text>
<rect x="825" y="478" width="89" height="344" fill="#d3d3d3" />
<path d="M200.3 719.8 201.3 719.5 202.3 719.4 203.3 719.5 204.3 719.8 205.3 720.3 206.3 720.9 207.3 721.8 208.3 722.8 209.3 724 210.3 725.4 211.3 727 212.3 728.8 213.3 730.7 214.3 732.8 215.3 734.9 216.3 736.9 217.3 738.8 218.3 740.5 219.3 741.9 220.3 742.8 221.3 743.2 222.3 743.1 223.3 742.7 224.3 742 225.3 741.3 226.3 740.7 227.3 740.3 228.3 740.4 229.3 740.7 230.3 741.4 231.3 742.3 232.3 743.4 233.3 744.3 234.3 744.9 235.3 745.1 236.3 744.7 237.3 743.7 238.3 742.1 239.3 740.1 240.3 737.7 241.3 735.3 242.3 732.9 243.3 730.7 244.3 728.9 245.3 727.3 246.3 726 247.3 725 248.3 724.3 249.3 723.8 250.3 723.7 251.3 723.8 252.3 724 253.3 724.1 254.3 723.8 255.3 723.2 256.3 722.2 257.3 720.9 258.3 719.3 259.3 717.5 260.3 715.7 261.3 713.9 262.3 712.4 263.3 711 264.3 709.9 265.3 708.9 266.3 708.1 267.3 707.5 268.3 707.1 269.3 706.8 270.3 706.6 271.3 706.5 272.3 706.4 273.3 706.4 274.3 706.4 275.3 706.3 276.3 706.3 277.3 706.4 278.3 706.7 279.3 707.2 280.3 708 281.3 709 282.3 710.3 283.3 711.7 284.3 713.4 285.3 715.3 286.3 717.3 287.3 719.5 288.3 721.6 289.3 723.5 290.3 725.1 291.3 726.2 292.3 726.9 293.3 727.3 294.3 727.5 295.3 727.6 296.3 727.7 297.3 728 298.3 728.7 299.3 729.8 300.3 731.5 301.3 733.9 302.3 736.7 303.3 739.7 304.3 742.6 305.3 745.3 306.3 747.5 307.3 749.3 308.3 750.6 309.3 751.5 310.3 751.8 311.3 751.6 312.3 751 313.3 750.2 314.3 749.3 315.3 748.6 316.3 748.3 317.3 748.2 318.3 748.3 319.3 748.5 320.3 749.1 321.3 750 322.3 751.6 322.6 752.2 323.1 803.6 323.4 824.7 325 824.7 325.5 802.3 326.3 801.5 327.3 811.6 328.4 824.7 330.5 824.7 332.1 798.4 334.2 774.6 335.2 768.4 336.2 763.7 337.2 760.4 338.2 758.1 339.2 756.5 340.2 755.4 341.2 754.6 342.2 754.2 343.2 754 344.2 754.1 345.2 754 346.2 753.8 347.2 753 348.2 751.9 349.2 750.4 350.2 748.8 351.2 747.3 352.2 745.7 353.2 744.1 354.2 742.3 355.2 740.2 356.2 737.9 357.2 735.6 358.2 733.7 359.2 732.2 360.2 731.1 361.2 729.9 362.2 728.2 363.2 726 364.2 723.2 365.2 720.1 366.2 716.7 367.2 713.1 368.2 709.5 369.2 706.2 370.2 703.2 371.2 701 372.2 699.5 373.2 698.9 374.2 699.2 375.2 700.2 376.2 701.8 377.2 701.3 378.2 696.6 379.2 689.8 380.2 682.3 381.2 674.5 382.2 666.7 383.2 659.8 384.2 654.4 385.2 651.1 386.2 650 387.2 650 388.2 650.6 389.2 651.9 390.2 653.9 391.2 655.6 392.2 655.5 393.2 652 394.2 647.5 395.2 644.6 396.2 643.5 397.2 644.6 398.2 649 399.2 655.2 400.2 661.2 401.2 666.6 402.2 671.8 403.2 676.8 404.2 680.6 405.2 681.9 406.2 675.2 407.2 659.1 408.2 644.1 409.2 635 410.2 631.6 411.2 631.1 412.2 630.5 413.2 627.5 414.2 620.9 415.2 613.4 416.2 607.7 417.2 603.9 418.2 601.2 419.2 599.1 420.2 597.4 421.2 596 422.2 594.9 423.2 594.1 424.2 593.6 425.2 593.3 426.2 593.2 427.2 593.3 428.2 593.5 429.2 593.9 430.2 594.3 431.2 594.8 432.2 595.2 433.2 595.4 434.2 595.2 435.2 594.7 436.2 593.9 437.2 593 438.2 592.1 439.2 591.2 440.2 590.4 441.2 589.5 442.2 588.8 443.2 588.1 444.2 587.5 445.2 587 446.2 586.7 447.2 586.5 448.2 586.3 449.2 586.2 450.2 586.2 451.2 586.1 452.2 586 453.2 585.9 454.2 585.8 455.2 585.7 456.2 585.6 457.2 585.6 458.2 585.7 459.2 585.8 460.2 586 461.2 586.2 462.2 586.5 463.2 586.9 464.2 587.3 465.2 587.7 466.2 588.1 467.2 588.4 468.2 588.7 469.2 588.8 470.2 588.7 471.2 588.5 472.2 588.3 473.2 588 474.2 587.7 475.2 587.4 476.2 587.1 477.2 586.9 478.2 586.8 479.2 586.9 480.2 587.5 481.2 588.4 482.2 589.7 483.2 591.2 484.2 592.6 485.2 593.7 486.2 594.7 487.2 595.4 488.2 596 489.2 596.5 490.2 596.9 491.2 597.3 492.2 597.8 493.2 598.6 494.2 599.7 495.2 601.3 496.2 603.1 497.2 605.2 498.2 607.2 499.2 609.2 500.2 610.8 501.2 612 502.2 612.8 503.2 613.1 504.2 613.1 505.2 612.7 506.2 611.9 507.2 610.7 508.2 609 509.2 606.8 510.2 604.2 511.2 601.5 512.2 599.2 513.2 597.3 514.2 596 515.2 595.1 516.2 594.8 517.2 594.9 518.2 595.6 519.2 596.8 520.2 598.2 521.2 599.7 522.2 601.3 523.2 602.8 524.2 604 525.2 605.1 526.2 605.9 527.2 606.4 528.2 606.6 529.2 606.5 530.2 606.2 531.2 605.7 532.2 605 533.2 604.5 534.2 604.2 535.2 604.2 536.2 604.2 537.2 603.8 538.2 602.6 539.2 600.8 540.2 598.4 541.2 595.8 542.2 593.2 543.2 590.8 544.2 588.8 545.2 587.2 546.2 586.1 547.2 585.3 548.2 584.7 549.2 584.4 550.2 584.5 551.2 585 552.2 585.8 553.2 586.9 554.2 588.3 555.2 589.5 556.2 590.4 557.2 590.8 558.2 591 559.2 591 560.2 591.2 561.2 591.4 562.2 591.6 563.2 591.9 564.2 592.1 565.2 592.3 566.2 592.4 567.2 592.5 568.2 592.6 569.2 592.8 570.2 593.4 571.2 594.2 572.2 595.3 573.2 596.5 574.2 597.5 575.2 597.6 576.2 597 577.2 596 578.2 595.3 579.2 594.9 580.2 594.7 581.2 594.6 582.2 594.3 583.2 594.1 584.2 593.9 585.2 594 586.2 594.3 587.2 594.7 588.2 595.2 589.2 595.7 590.2 596 591.2 596.1 592.2 595.9 593.2 595.4 594.2 594.7 595.2 594 596.2 593.3 597.2 592.5 598.2 591.6 599.2 590.7 600.2 589.7 601.2 588.7 602.2 587.9 603.2 587.2 604.2 586.6 605.2 586.3 606.2 586 607.2 585.9 608.2 585.9 609.2 585.8 610.2 585.7 611.2 585.5 612.2 585.1 613.2 584.6 614.2 584 615.2 583.3 616.2 582.4 617.2 581.5 618.2 580.6 619.2 579.7 620.2 578.9 621.2 578.1 622.2 577.3 623.2 576.6 624.2 575.9 625.2 575.3 626.2 574.7 627.2 574.2 628.2 573.7 629.2 573.3 630.2 572.9 631.2 572.5 632.2 572.2 633.2 572 634.2 571.8 635.2 571.7 636.2 571.7 637.2 571.8 638.2 572 639.2 572.3 640.2 572.8 641.2 573.4 642.2 574.1 643.2 575 644.2 575.9 645.2 576.9 646.2 577.8 647.2 578.5 648.2 579 649.2 579.4 650.2 579.6 651.2 579.6 652.2 579.7 653.2 579.7 654.2 579.9 655.2 580.1 656.2 580.6 657.2 581.3 658.2 582.2 659.2 583.3 660.2 584.5 661.2 585.8 662.2 587.1 663.2 588.5 664.2 589.6 665.2 590.4 666.2 590.9 667.2 591.1 668.2 591.3 669.2 591.5 670.2 591.5 671.2 591.2 672.2 590.3 673.2 589.2 674.2 588.3 675.2 588.1 676.2 588.4 677.2 589 678.2 589.8 679.2 590.6 680.2 591.3 681.2 591.6 682.2 591.7 683.2 591.4 684.2 590.8 685.2 589.9 686.2 588.7 687.2 587.5 688.2 586.2 689.2 585 690.2 583.9 691.2 582.9 692.2 582.1 693.2 581.5 694.2 581.1 695.2 580.8 696.2 580.7 697.2 580.7 698.2 580.7 699.2 580.6 700.2 580.5 701.2 580.2 702.2 579.9 703.2 579.3 704.2 578.7 705.2 577.9 706.2 577 707.2 576.2 708.2 575.3 709.2 574.5 710.2 573.7 711.2 573.1 712.2 572.5 713.2 572.1 714.2 571.8 715.2 571.6 716.2 571.5 717.2 571.3 718.2 571.1 719.2 570.9 720.2 570.6 721.2 570.4 722.2 570.1 723.2 569.9 724.2 569.7 725.2 569.6 726.2 569.7 727.2 570 728.2 570.5 729.2 571.1 730.2 571.9 731.2 572.8 732.2 573.7 733.2 574.7 734.2 575.7 735.2 576.6 736.2 577.3 737.2 577.9 738.2 578.3 739.2 578.6 740.2 578.8 741.2 579 742.2 579.2 743.2 579.6 744.2 580.2 745.2 581 746.2 582.1 747.2 583.4 748.2 584.8 749.2 586.2 750.2 587.8 751.2 589.3 752.2 590.7 753.2 592 754.2 593.1 755.2 593.7 756.2 594.1 757.2 594.1 758.2 593.9 759.2 593.5 760.2 593 761.2 592.5 762.2 592.1 763.2 592 764.2 592.3 765.2 592.9 766.2 593.8 767.2 594.6 768.2 595.4 769.2 596 770.2 596.3 771.2 596.3 772.2 595.9 773.2 595.1 774.2 594 775.2 592.5 776.2 590.9 777.2 589.2 778.2 587.6 779.2 586.1 780.2 584.8 781.2 583.8 782.2 583 783.2 582.4 784.2 582.1 785.2 581.9 786.2 581.9 787.2 581.8 788.2 581.8 789.2 581.6 790.2 581.4 791.2 581 792.2 580.5 793.2 579.9 794.2 579.1 795.2 578.3 796.2 577.4 797.2 576.5 798.2 575.6 799.2 574.7 800.2 574.1 801.2 573.6 802.2 573.3 803.2 573.1 804.2 573 805.2 573 806.2 572.9 807.2 572.9 808.2 572.9 809.2 572.8 810.2 572.8 811.2 572.7 812.2 572.7 813.2 572.7 814.2 572.9 815.2 573.3 816.2 574 817.2 574.7 818.2 575.6 819.2 576.6 820.2 577.7 821.2 578.7 822.2 579.6 823.2 580.4 824.2 581.1 825.2 581.5 826.2 581.9 827.2 582.1 828.2 582.2 829.2 582.3 830.2 582.4 831.2 582.6 832.2 583 833.2 583.5 834.2 584.3 835.2 585.4 836.2 586.7 837.2 588.2 838.2 589.9 839.2 591.6 840.2 593.1 841.2 594.6 842.2 595.7 843.2 596.5 844.2 597 845.2 597.2 846.2 597.1 847.2 596.8 848.2 596.3 849.2 595.8 850.2 595.3 851.2 595 852.2 595.1 853.2 595.5 854.2 596.1 855.2 596.8 856.2 597.4 857.2 597.9 858.2 598.3 859.2 598.4 860.2 598.3 861.2 598 862.2 597.3 863.2 596.3 864.2 595 865.2 593.7 866.2 592.3 867.2 591 868.2 589.7 869.2 588.5 870.2 587.4 871.2 586.5 872.2 585.8 873.2 585.4 874.2 585.2 875.2 585.2 876.2 585.2 877.2 585.1 878.2 584.9 879.2 584.6 880.2 584.1 881.2 583.6 882.2 582.9 883.2 582.1 884.2 581.3 885.2 580.4 886.2 579.5 887.2 578.6 888.2 577.7 889.2 577 890.2 576.4 891.2 575.9 892.2 575.5 893.2 575.3 894.2 575.1 895.2 575 896.2 575 897.2 575 898.2 575 899.2 575 900.2 574.9 901.2 574.9 902.2 574.9 903.2 575.1 904.2 575.5 905.2 576.1 906.2 576.9 907.2 577.7 908.2 578.7 909.2 579.7 910.2 580.8 911.2 581.9 912.2 583.1 913 584 915 586.5" fill="none" stroke="#f00" stroke-width="2.78" stroke-linejoin="round" clip-path="url(#cL2)" />
<line x1="825" y1="822" x2="825" y2="478" stroke="#1f77b4" stroke-width="2.08" stroke-dasharray="2.08 3.44"/>
<text font-size="63.6" text-anchor="middle" fill="#000" transform="translate(888,657.5) rotate(-90)" fill-opacity="0.1">Forecast</text>
<rect x="200" y="478" width="714" height="344" fill="none" stroke="#000" stroke-width="2" shape-rendering="crispEdges"/>
<line x1="248.6" y1="822" x2="248.6" y2="817.1" stroke="#000" stroke-width="1" shape-rendering="crispEdges"/>
<line x1="337.85" y1="822" x2="337.85" y2="817.1" stroke="#000" stroke-width="1" shape-rendering="crispEdges"/>
<line x1="427.1" y1="822" x2="427.1" y2="817.1" stroke="#000" stroke-width="1" shape-rendering="crispEdges"/>
<line x1="516.35" y1="822" x2="516.35" y2="817.1" stroke="#000" stroke-width="1" shape-rendering="crispEdges"/>
<line x1="605.6" y1="822" x2="605.6" y2="817.1" stroke="#000" stroke-width="1" shape-rendering="crispEdges"/>
<line x1="694.85" y1="822" x2="694.85" y2="817.1" stroke="#000" stroke-width="1" shape-rendering="crispEdges"/>
<line x1="784.1" y1="822" x2="784.1" y2="817.1" stroke="#000" stroke-width="1" shape-rendering="crispEdges"/>
<line x1="873.35" y1="822" x2="873.35" y2="817.1" stroke="#000" stroke-width="1" shape-rendering="crispEdges"/>
<text x="195.14" y="829.6" font-size="20" text-anchor="end" fill="#000" >10<tspan dy="-7.2" font-size="14">−3</tspan></text>
<line x1="200" y1="805.8" x2="203.4" y2="805.8" stroke="#000" stroke-width="1" shape-rendering="crispEdges"/>
<line x1="914" y1="805.8" x2="910.6" y2="805.8" stroke="#000" stroke-width="1" shape-rendering="crispEdges"/>
<line x1="200" y1="795.68" x2="203.4" y2="795.68" stroke="#000" stroke-width="1" shape-rendering="crispEdges"/>
<line x1="914" y1="795.68" x2="910.6" y2="795.68" stroke="#000" stroke-width="1" shape-rendering="crispEdges"/>
<line x1="200" y1="788.49" x2="203.4" y2="788.49" stroke="#000" stroke-width="1" shape-rendering="crispEdges"/>
<line x1="914" y1="788.49" x2="910.6" y2="788.49" stroke="#000" stroke-width="1" shape-rendering="crispEdges"/>
<line x1="200" y1="782.92" x2="203.4" y2="782.92" stroke="#000" stroke-width="1" shape-rendering="crispEdges"/>
<line x1="914" y1="782.92" x2="910.6" y2="782.92" stroke="#000" stroke-width="1" shape-rendering="crispEdges"/>
<line x1="200" y1="778.36" x2="203.4" y2="778.36" stroke="#000" stroke-width="1" shape-rendering="crispEdges"/>
<line x1="914" y1="778.36" x2="910.6" y2="778.36" stroke="#000" stroke-width="1" shape-rendering="crispEdges"/>
<line x1="200" y1="774.51" x2="203.4" y2="774.51" stroke="#000" stroke-width="1" shape-rendering="crispEdges"/>
<line x1="914" y1="774.51" x2="910.6" y2="774.51" stroke="#000" stroke-width="1" shape-rendering="crispEdges"/>
<line x1="200" y1="771.17" x2="203.4" y2="771.17" stroke="#000" stroke-width="1" shape-rendering="crispEdges"/>
<line x1="914" y1="771.17" x2="910.6" y2="771.17" stroke="#000" stroke-width="1" shape-rendering="crispEdges"/>
<line x1="200" y1="768.23" x2="203.4" y2="768.23" stroke="#000" stroke-width="1" shape-rendering="crispEdges"/>
<line x1="914" y1="768.23" x2="910.6" y2="768.23" stroke="#000" stroke-width="1" shape-rendering="crispEdges"/>
<line x1="200" y1="765.6" x2="206" y2="765.6" stroke="#000" stroke-width="1" shape-rendering="crispEdges"/>
<text x="195.14" y="773.2" font-size="20" text-anchor="end" fill="#000" >10<tspan dy="-7.2" font-size="14">−2</tspan></text>
<line x1="914" y1="765.6" x2="908" y2="765.6" stroke="#000" stroke-width="1" shape-rendering="crispEdges"/>
<line x1="200" y1="748.28" x2="203.4" y2="748.28" stroke="#000" stroke-width="1" shape-rendering="crispEdges"/>
<line x1="914" y1="748.28" x2="910.6" y2="748.28" stroke="#000" stroke-width="1" shape-rendering="crispEdges"/>
<line x1="200" y1="738.16" x2="203.4" y2="738.16" stroke="#000" stroke-width="1" shape-rendering="crispEdges"/>
<line x1="914" y1="738.16" x2="910.6" y2="738.16" stroke="#000" stroke-width="1" shape-rendering="crispEdges"/>
<line x1="200" y1="730.97" x2="203.4" y2="730.97" stroke="#000" stroke-width="1" shape-rendering="crispEdges"/>
<line x1="914" y1="730.97" x2="910.6" y2="730.97" stroke="#000" stroke-width="1" shape-rendering="crispEdges"/>
<line x1="200" y1="725.4" x2="203.4" y2="725.4" stroke="#000" stroke-width="1" shape-rendering="crispEdges"/>
<line x1="914" y1="725.4" x2="910.6" y2="725.4" stroke="#000" stroke-width="1" shape-rendering="crispEdges"/>
<line x1="200" y1="720.84" x2="203.4" y2="720.84" stroke="#000" stroke-width="1" shape-rendering="crispEdges"/>
<line x1="914" y1="720.84" x2="910.6" y2="720.84" stroke="#000" stroke-width="1" shape-rendering="crispEdges"/>
<line x1="200" y1="716.99" x2="203.4" y2="716.99" stroke="#000" stroke-width="1" shape-rendering="crispEdges"/>
<line x1="914" y1="716.99" x2="910.6" y2="716.99" stroke="#000" stroke-width="1" shape-rendering="crispEdges"/>
<line x1="200" y1="713.65" x2="203.4" y2="713.65" stroke="#000" stroke-width="1" shape-rendering="crispEdges"/>
<line x1="914" y1="713.65" x2="910.6" y2="713.65" stroke="#000" stroke-width="1" shape-rendering="crispEdges"/>
<line x1="200" y1="710.71" x2="203.4" y2="710.71" stroke="#000" stroke-width="1" shape-rendering="crispEdges"/>
<line x1="914" y1="710.71" x2="910.6" y2="710.71" stroke="#000" stroke-width="1" shape-rendering="crispEdges"/>
<line x1="200" y1="708.08" x2="206" y2="708.08" stroke="#000" stroke-width="1" shape-rendering="crispEdges"/>
<text x="195.14" y="715.68" font-size="20" text-anchor="end" fill="#000" >10<tspan dy="-7.2" font-size="14">−1</tspan></text>
<line x1="914" y1="708.08" x2="908" y2="708.08" stroke="#000" stroke-width="1" shape-rendering="crispEdges"/>
<line x1="200" y1="690.76" x2="203.4" y2="690.76" stroke="#000" stroke-width="1" shape-rendering="crispEdges"/>
<line x1="914" y1="690.76" x2="910.6" y2="690.76" stroke="#000" stroke-width="1" shape-rendering="crispEdges"/>
<line x1="200" y1="680.64" x2="203.4" y2="680.64" stroke="#000" stroke-width="1" shape-rendering="crispEdges"/>
<line x1="914" y1="680.64" x2="910.6" y2="680.64" stroke="#000" stroke-width="1" shape-rendering="crispEdges"/>
<line x1="200" y1="673.45" x2="203.4" y2="673.45" stroke="#000" stroke-width="1" shape-rendering="crispEdges"/>
<line x1="914" y1="673.45" x2="910.6" y2="673.45" stroke="#000" stroke-width="1" shape-rendering="crispEdges"/>
<line x1="200" y1="667.88" x2="203.4" y2="667.88" stroke="#000" stroke-width="1" shape-rendering="crispEdges"/>
<line x1="914" y1="667.88" x2="910.6" y2="667.88" stroke="#000" stroke-width="1" shape-rendering="crispEdges"/>
<line x1="200" y1="663.32" x2="203.4" y2="663.32" stroke="#000" stroke-width="1" shape-rendering="crispEdges"/>
<line x1="914" y1="663.32" x2="910.6" y2="663.32" stroke="#000" stroke-width="1" shape-rendering="crispEdges"/>
<line x1="200" y1="659.47" x2="203.4" y2="659.47" stroke="#000" stroke-width="1" shape-rendering="crispEdges"/>
<line x1="914" y1="659.47" x2="910.6" y2="659.47" stroke="#000" stroke-width="1" shape-rendering="crispEdges"/>
<line x1="200" y1="656.13" x2="203.4" y2="656.13" stroke="#000" stroke-width="1" shape-rendering="crispEdges"/>
<line x1="914" y1="656.13" x2="910.6" y2="656.13" stroke="#000" stroke-width="1" shape-rendering="crispEdges"/>
<line x1="200" y1="653.19" x2="203.4" y2="653.19" stroke="#000" stroke-width="1" shape-rendering="crispEdges"/>
<line x1="914" y1="653.19" x2="910.6" y2="653.19" stroke="#000" stroke-width="1" shape-rendering="crispEdges"/>
<line x1="200" y1="650.56" x2="206" y2="650.56" stroke="#000" stroke-width="1" shape-rendering="crispEdges"/>
<text x="195.14" y="658.16" font-size="20" text-anchor="end" fill="#000" >10<tspan dy="-7.2" font-size="14">0</tspan></text>
<line x1="914" y1="650.56" x2="908" y2="650.56" stroke="#000" stroke-width="1" shape-rendering="crispEdges"/>
<line x1="200" y1="633.24" x2="203.4" y2="633.24" stroke="#000" stroke-width="1" shape-rendering="crispEdges"/>
<line x1="914" y1="633.24" x2="910.6" y2="633.24" stroke="#000" stroke-width="1" shape-rendering="crispEdges"/>
<line x1="200" y1="623.12" x2="203.4" y2="623.12" stroke="#000" stroke-width="1" shape-rendering="crispEdges"/>
<line x1="914" y1="623.12" x2="910.6" y2="623.12" stroke="#000" stroke-width="1" shape-rendering="crispEdges"/>
<line x1="200" y1="615.93" x2="203.4" y2="615.93" stroke="#000" stroke-width="1" shape-rendering="crispEdges"/>
<line x1="914" y1="615.93" x2="910.6" y2="615.93" stroke="#000" stroke-width="1" shape-rendering="crispEdges"/>
<line x1="200" y1="610.36" x2="203.4" y2="610.36" stroke="#000" stroke-width="1" shape-rendering="crispEdges"/>
<line x1="914" y1="610.36" x2="910.6" y2="610.36" stroke="#000" stroke-width="1" shape-rendering="crispEdges"/>
<line x1="200" y1="605.8" x2="203.4" y2="605.8" stroke="#000" stroke-width="1" shape-rendering="crispEdges"/>
<line x1="914" y1="605.8" x2="910.6" y2="605.8" stroke="#000" stroke-width="1" shape-rendering="crispEdges"/>
<line x1="200" y1="601.95" x2="203.4" y2="601.95" stroke="#000" stroke-width="1" shape-rendering="crispEdges"/>
<line x1="914" y1="601.95" x2="910.6" y2="601.95" stroke="#000" stroke-width="1" shape-rendering="crispEdges"/>
<line x1="200" y1="598.61" x2="203.4" y2="598.61" stroke="#000" stroke-width="1" shape-rendering="crispEdges"/>
<line x1="914" y1="598.61" x2="910.6" y2="598.61" stroke="#000" stroke-width="1" shape-rendering="crispEdges"/>
<line x1="200" y1="595.67" x2="203.4" y2="595.67" stroke="#000" stroke-width="1" shape-rendering="crispEdges"/>
<line x1="914" y1="595.67" x2="910.6" y2="595.67" stroke="#000" stroke-width="1" shape-rendering="crispEdges"/>
<line x1="200" y1="593.04" x2="206" y2="593.04" stroke="#000" stroke-width="1" shape-rendering="crispEdges"/>
<text x="195.14" y="600.64" font-size="20" text-anchor="end" fill="#000" >10<tspan dy="-7.2" font-size="14">1</tspan></text>
<line x1="914" y1="593.04" x2="908" y2="593.04" stroke="#000" stroke-width="1" shape-rendering="crispEdges"/>
<line x1="200" y1="575.72" x2="203.4" y2="575.72" stroke="#000" stroke-width="1" shape-rendering="crispEdges"/>
<line x1="914" y1="575.72" x2="910.6" y2="575.72" stroke="#000" stroke-width="1" shape-rendering="crispEdges"/>
<line x1="200" y1="565.6" x2="203.4" y2="565.6" stroke="#000" stroke-width="1" shape-rendering="crispEdges"/>
<line x1="914" y1="565.6" x2="910.6" y2="565.6" stroke="#000" stroke-width="1" shape-rendering="crispEdges"/>
<line x1="200" y1="558.41" x2="203.4" y2="558.41" stroke="#000" stroke-width="1" shape-rendering="crispEdges"/>
<line x1="914" y1="558.41" x2="910.6" y2="558.41" stroke="#000" stroke-width="1" shape-rendering="crispEdges"/>
<line x1="200" y1="552.84" x2="203.4" y2="552.84" stroke="#000" stroke-width="1" shape-rendering="crispEdges"/>
<line x1="914" y1="552.84" x2="910.6" y2="552.84" stroke="#000" stroke-width="1" shape-rendering="crispEdges"/>
<line x1="200" y1="548.28" x2="203.4" y2="548.28" stroke="#000" stroke-width="1" shape-rendering="crispEdges"/>
<line x1="914" y1="548.28" x2="910.6" y2="548.28" stroke="#000" stroke-width="1" shape-rendering="crispEdges"/>
<line x1="200" y1="544.43" x2="203.4" y2="544.43" stroke="#000" stroke-width="1" shape-rendering="crispEdges"/>
<line x1="914" y1="544.43" x2="910.6" y2="544.43" stroke="#000" stroke-width="1" shape-rendering="crispEdges"/>
<line x1="200" y1="541.09" x2="203.4" y2="541.09" stroke="#000" stroke-width="1" shape-rendering="crispEdges"/>
<line x1="914" y1="541.09" x2="910.6" y2="541.09" stroke="#000" stroke-width="1" shape-rendering="crispEdges"/>
<line x1="200" y1="538.15" x2="203.4" y2="538.15" stroke="#000" stroke-width="1" shape-rendering="crispEdges"/>
<line x1="914" y1="538.15" x2="910.6" y2="538.15" stroke="#000" stroke-width="1" shape-rendering="crispEdges"/>
<line x1="200" y1="535.52" x2="206" y2="535.52" stroke="#000" stroke-width="1" shape-rendering="crispEdges"/>
<text x="195.14" y="543.12" font-size="20" text-anchor="end" fill="#000" >10<tspan dy="-7.2" font-size="14">2</tspan></text>
<line x1="914" y1="535.52" x2="908" y2="535.52" stroke="#000" stroke-width="1" shape-rendering="crispEdges"/>
<line x1="200" y1="518.2" x2="203.4" y2="518.2" stroke="#000" stroke-width="1" shape-rendering="crispEdges"/>
<line x1="914" y1="518.2" x2="910.6" y2="518.2" stroke="#000" stroke-width="1" shape-rendering="crispEdges"/>
<line x1="200" y1="508.08" x2="203.4" y2="508.08" stroke="#000" stroke-width="1" shape-rendering="crispEdges"/>
<line x1="914" y1="508.08" x2="910.6" y2="508.08" stroke="#000" stroke-width="1" shape-rendering="crispEdges"/>
<line x1="200" y1="500.89" x2="203.4" y2="500.89" stroke="#000" stroke-width="1" shape-rendering="crispEdges"/>
<line x1="914" y1="500.89" x2="910.6" y2="500.89" stroke="#000" stroke-width="1" shape-rendering="crispEdges"/>
<line x1="200" y1="495.32" x2="203.4" y2="495.32" stroke="#000" stroke-width="1" shape-rendering="crispEdges"/>
<line x1="914" y1="495.32" x2="910.6" y2="495.32" stroke="#000" stroke-width="1" shape-rendering="crispEdges"/>
<line x1="200" y1="490.76" x2="203.4" y2="490.76" stroke="#000" stroke-width="1" shape-rendering="crispEdges"/>
<line x1="914" y1="490.76" x2="910.6" y2="490.76" stroke="#000" stroke-width="1" shape-rendering="crispEdges"/>
<line x1="200" y1="486.91" x2="203.4" y2="486.91" stroke="#000" stroke-width="1" shape-rendering="crispEdges"/>
<line x1="914" y1="486.91" x2="910.6" y2="486.91" stroke="#000" stroke-width="1" shape-rendering="crispEdges"/>
<line x1="200" y1="483.57" x2="203.4" y2="483.57" stroke="#000" stroke-width="1" shape-rendering="crispEdges"/>
<line x1="914" y1="483.57" x2="910.6" y2="483.57" stroke="#000" stroke-width="1" shape-rendering="crispEdges"/>
<line x1="200" y1="480.63" x2="203.4" y2="480.63" stroke="#000" stroke-width="1" shape-rendering="crispEdges"/>
<line x1="914" y1="480.63" x2="910.6" y2="480.63" stroke="#000" stroke-width="1" shape-rendering="crispEdges"/>
<line x1="200" y1="478" x2="206" y2="478" stroke="#000" stroke-width="1" shape-rendering="crispEdges"/>
<text x="195.14" y="485.6" font-size="20" text-anchor="end" fill="#000" >10<tspan dy="-7.2" font-size="14">3</tspan></text>
<line x1="914" y1="478" x2="908" y2="478" stroke="#000" stroke-width="1" shape-rendering="crispEdges"/>
<text x="236" y="511.5" font-size="24" text-anchor="start" fill="#000" >Geostationary orbit:</text>
<text x="500" y="511.5" font-size="24" text-anchor="start" fill="#f00" >Model</text>
<text font-size="24" text-anchor="middle" fill="#000" transform="translate(101,650) rotate(-90)" >2.0 MeV Electron Flux</text>
<text font-size="24" text-anchor="middle" fill="#000" transform="translate(134,650) rotate(-90)" >( cm<tspan dy="-8.64" font-size="16.8">−2</tspan><tspan dy="8.64" dx="-2.5"> s</tspan><tspan dy="-8.64" font-size="16.8">−1</tspan><tspan dy="8.64" dx="-3"> sr</tspan><tspan dy="-8.64" font-size="16.8">−1</tspan><tspan dy="8.64" dx="-2.5"> KeV</tspan><tspan dy="-8.64" font-size="16.8">−1</tspan><tspan dy="8.64" dx="1.1"> )</tspan></text>
<g clip-path="url(#cL3)"><rect x="199" y="1011" width="9" height="6" fill="#008000"/><rect x="243" y="1011" width="9" height="6" fill="#008000"/><rect x="255" y="1004" width="9" height="13" fill="#008000"/><rect x="266" y="1011" width="9" height="6" fill="#008000"/><rect x="277" y="1011" width="9" height="6" fill="#008000"/><rect x="288" y="1011" width="9" height="6" fill="#008000"/><rect x="299" y="992" width="9" height="25" fill="#008000"/><rect x="310" y="992" width="9" height="25" fill="#008000"/><rect x="322" y="947" width="9" height="70" fill="#bfbf00"/><rect x="333" y="960" width="9" height="57" fill="#bfbf00"/><rect x="344" y="934" width="9" height="83" fill="#bfbf00"/><rect x="355" y="934" width="9" height="83" fill="#bfbf00"/><rect x="366" y="934" width="9" height="83" fill="#bfbf00"/><rect x="377" y="934" width="9" height="83" fill="#bfbf00"/><rect x="388" y="941" width="9" height="76" fill="#bfbf00"/><rect x="400" y="915" width="9" height="102" fill="#f00"/><rect x="411" y="941" width="9" height="76" fill="#bfbf00"/><rect x="422" y="953" width="9" height="64" fill="#bfbf00"/><rect x="433" y="953" width="9" height="64" fill="#bfbf00"/><rect x="444" y="972" width="9" height="45" fill="#008000"/><rect x="455" y="972" width="9" height="45" fill="#008000"/><rect x="467" y="947" width="9" height="70" fill="#bfbf00"/><rect x="478" y="960" width="9" height="57" fill="#bfbf00"/><rect x="489" y="960" width="9" height="57" fill="#bfbf00"/><rect x="500" y="934" width="9" height="83" fill="#bfbf00"/><rect x="511" y="941" width="9" height="76" fill="#bfbf00"/><rect x="522" y="934" width="9" height="83" fill="#bfbf00"/><rect x="533" y="941" width="9" height="76" fill="#bfbf00"/><rect x="545" y="947" width="9" height="70" fill="#bfbf00"/><rect x="556" y="941" width="9" height="76" fill="#bfbf00"/><rect x="567" y="953" width="9" height="64" fill="#bfbf00"/><rect x="578" y="960" width="9" height="57" fill="#bfbf00"/><rect x="589" y="979" width="9" height="38" fill="#008000"/><rect x="600" y="985" width="9" height="32" fill="#008000"/><rect x="612" y="966" width="9" height="51" fill="#008000"/><rect x="623" y="947" width="9" height="70" fill="#bfbf00"/><rect x="634" y="966" width="9" height="51" fill="#008000"/><rect x="645" y="972" width="9" height="45" fill="#008000"/><rect x="656" y="966" width="9" height="51" fill="#008000"/><rect x="667" y="953" width="9" height="64" fill="#bfbf00"/><rect x="679" y="979" width="9" height="38" fill="#008000"/><rect x="690" y="985" width="9" height="32" fill="#008000"/><rect x="701" y="979" width="9" height="38" fill="#008000"/><rect x="712" y="966" width="9" height="51" fill="#008000"/><rect x="723" y="966" width="9" height="51" fill="#008000"/><rect x="734" y="966" width="9" height="51" fill="#008000"/><rect x="745" y="966" width="9" height="51" fill="#008000"/><rect x="757" y="1004" width="9" height="13" fill="#008000"/><rect x="779" y="1011" width="9" height="6" fill="#008000"/><rect x="790" y="972" width="9" height="45" fill="#008000"/><rect x="801" y="979" width="9" height="38" fill="#008000"/><rect x="812" y="992" width="9" height="25" fill="#008000"/><rect x="824" y="992" width="9" height="25" fill="#008000"/><rect x="835" y="992" width="9" height="25" fill="#008000"/><rect x="846" y="992" width="9" height="25" fill="#008000"/><rect x="857" y="992" width="9" height="25" fill="#008000"/><rect x="868" y="992" width="9" height="25" fill="#008000"/><rect x="879" y="992" width="9" height="25" fill="#008000"/><rect x="890" y="992" width="9" height="25" fill="#008000"/><rect x="902" y="992" width="9" height="25" fill="#008000"/></g>
<line x1="825" y1="1017" x2="825" y2="845" stroke="#1f77b4" stroke-width="2.08" stroke-dasharray="2.08 3.44"/>
<text font-size="31.1" text-anchor="middle" fill="#000" transform="translate(876,935.3) rotate(-90)" fill-opacity="0.1">Forecast</text>
<rect x="200" y="845" width="714" height="172" fill="none" stroke="#000" stroke-width="2" shape-rendering="crispEdges"/>
<line x1="248.6" y1="1017" x2="248.6" y2="1012.1" stroke="#000" stroke-width="1" shape-rendering="crispEdges"/>
<text x="248.2" y="1036.95" font-size="20" text-anchor="middle" fill="#000" >23</text>
<line x1="337.85" y1="1017" x2="337.85" y2="1012.1" stroke="#000" stroke-width="1" shape-rendering="crispEdges"/>
<text x="337.45" y="1036.95" font-size="20" text-anchor="middle" fill="#000" >24</text>
<line x1="427.1" y1="1017" x2="427.1" y2="1012.1" stroke="#000" stroke-width="1" shape-rendering="crispEdges"/>
<text x="426.7" y="1036.95" font-size="20" text-anchor="middle" fill="#000" >25</text>
<line x1="516.35" y1="1017" x2="516.35" y2="1012.1" stroke="#000" stroke-width="1" shape-rendering="crispEdges"/>
<text x="515.95" y="1036.95" font-size="20" text-anchor="middle" fill="#000" >26</text>
<line x1="605.6" y1="1017" x2="605.6" y2="1012.1" stroke="#000" stroke-width="1" shape-rendering="crispEdges"/>
<text x="605.2" y="1036.95" font-size="20" text-anchor="middle" fill="#000" >27</text>
<line x1="694.85" y1="1017" x2="694.85" y2="1012.1" stroke="#000" stroke-width="1" shape-rendering="crispEdges"/>
<text x="694.45" y="1036.95" font-size="20" text-anchor="middle" fill="#000" >28</text>
<line x1="784.1" y1="1017" x2="784.1" y2="1012.1" stroke="#000" stroke-width="1" shape-rendering="crispEdges"/>
<text x="783.7" y="1036.95" font-size="20" text-anchor="middle" fill="#000" >29</text>
<line x1="873.35" y1="1017" x2="873.35" y2="1012.1" stroke="#000" stroke-width="1" shape-rendering="crispEdges"/>
<text x="872.95" y="1036.95" font-size="20" text-anchor="middle" fill="#000" >30</text>
<line x1="200" y1="1017" x2="204.9" y2="1017" stroke="#000" stroke-width="1" shape-rendering="crispEdges"/>
<text x="195.14" y="1024.6" font-size="20" text-anchor="end" fill="#000" >0</text>
<line x1="914" y1="1017" x2="909.1" y2="1017" stroke="#000" stroke-width="1" shape-rendering="crispEdges"/>
<line x1="200" y1="978.78" x2="204.9" y2="978.78" stroke="#000" stroke-width="1" shape-rendering="crispEdges"/>
<text x="195.14" y="986.38" font-size="20" text-anchor="end" fill="#000" >2</text>
<line x1="914" y1="978.78" x2="909.1" y2="978.78" stroke="#000" stroke-width="1" shape-rendering="crispEdges"/>
<line x1="200" y1="940.56" x2="204.9" y2="940.56" stroke="#000" stroke-width="1" shape-rendering="crispEdges"/>
<text x="195.14" y="948.16" font-size="20" text-anchor="end" fill="#000" >4</text>
<line x1="914" y1="940.56" x2="909.1" y2="940.56" stroke="#000" stroke-width="1" shape-rendering="crispEdges"/>
<line x1="200" y1="902.33" x2="204.9" y2="902.33" stroke="#000" stroke-width="1" shape-rendering="crispEdges"/>
<text x="195.14" y="909.93" font-size="20" text-anchor="end" fill="#000" >6</text>
<line x1="914" y1="902.33" x2="909.1" y2="902.33" stroke="#000" stroke-width="1" shape-rendering="crispEdges"/>
<line x1="200" y1="864.11" x2="204.9" y2="864.11" stroke="#000" stroke-width="1" shape-rendering="crispEdges"/>
<text x="195.14" y="871.71" font-size="20" text-anchor="end" fill="#000" >8</text>
<line x1="914" y1="864.11" x2="909.1" y2="864.11" stroke="#000" stroke-width="1" shape-rendering="crispEdges"/>
<text font-size="24" text-anchor="middle" fill="#000" transform="translate(173.2,934) rotate(-90)" >Kp</text>
<text x="557" y="1065.5" font-size="24" text-anchor="middle" fill="#000" >October 2019 (UT)</text>
<rect x="207.5" y="852.5" width="88" height="66.5" rx="2.5" fill="#fff" fill-opacity="0.8" stroke="#ccc" stroke-width="1.1"/>
<rect x="213" y="858.8" width="28" height="11.2" fill="#008000" />
<text x="252" y="869.2" font-size="13.6" text-anchor="start" fill="#000" >Kp&lt;3</text>
<rect x="213" y="879.8" width="28" height="11.2" fill="#bfbf00" />
<text x="252" y="890.2" font-size="13.6" text-anchor="start" fill="#000" >Kp&lt;5</text>
<rect x="213" y="900.8" width="28" height="11.2" fill="#f00" />
<text x="252" y="911.2" font-size="13.6" text-anchor="start" fill="#000" >Kp&gt;5</text>
<line x1="1205" y1="282.5" x2="1800" y2="282.5" stroke="#000" stroke-width="2.08" stroke-dasharray="2.08 3.43"/>
<path d="M1205 272.5 1205.5 278.1 1206 273.3 1206.5 279.9 1207 273.1 1207.5 281.9 1208 277 1208.5 282 1209 274.2 1209.5 278.6 1210 271.2 1210.5 277.3 1211 274.5 1211.5 279.4 1212 271.3 1212.5 277.7 1213 268.1 1213.5 276 1214 262.3 1214.5 276.7 1215 263.6 1215.5 273.4 1216 267.2 1216.5 274.4 1217 270.3 1217.5 276.9 1218 264.5 1218.5 278.4 1219 271.5 1219.5 275.1 1220 266.7 1220.5 276.1 1221 266.5 1221.5 278.6 1222 265.7 1222.5 274.9 1223 270.1 1223.5 276.2 1224 268.6 1224.5 275 1225 270.5 1225.5 275.5 1226 267 1226.5 273.4 1227 266 1227.5 280.5 1228 269.5 1228.5 275.2 1229 269.2 1229.5 281.4 1230 267.8 1230.5 342.9 1231 271.3 1231.5 278.3 1232 272.2 1232.5 277.8 1233 273.2 1233.5 277.1 1234 266.2 1234.5 280.1 1235 274.3 1235.5 280.9 1236 274.7 1236.5 279 1237 270.9 1237.5 276.2 1238 270.2 1238.5 279.9 1239 267.6 1239.5 276.7 1240 270.3 1240.5 281.9 1241 271.6 1241.5 278.5 1242 272 1242.5 281.3 1243 278.5 1243.5 284.6 1244 282.5 1244.5 290.5 1245 283.6 1245.5 288.7 1246 285.1 1246.5 287.8 1247 285.2 1247.5 290.2 1248 284.8 1248.5 287.7 1249 281.9 1249.5 288.2 1250 284 1250.5 289.5 1251 285 1251.5 290.6 1252 287.2 1252.5 291.4 1253 287.2 1253.5 293 1254 287.4 1254.5 297.2 1255 291.6 1255.5 294.8 1256 291 1256.5 298.1 1257 290.6 1257.5 295.9 1258 293.6 1258.5 295 1259 290.1 1259.5 290.8 1260 286 1260.5 289.3 1261 281.8 1261.5 284.8 1262 278.4 1262.5 283.2 1263 277.1 1263.5 284.3 1264 277.5 1264.5 284.6 1265 280.4 1265.5 285 1266 280.1 1266.5 289.2 1267 276.5 1267.5 281.6 1268 272 1268.5 283.7 1269 273.9 1269.5 282.7 1270 276.4 1270.5 284.5 1271 280.5 1271.5 288.9 1272 276.8 1272.5 285.5 1273 280 1273.5 283 1274 279.4 1274.5 288.3 1275 278.5 1275.5 288.7 1276 285 1276.5 289.4 1277 281 1277.5 295.4 1278 280.4 1278.5 291.9 1279 283.3 1279.5 290.8 1280 284 1280.5 291.9 1281 281.7 1281.5 292.1 1282 282.6 1282.5 285.8 1283 269.1 1283.5 285.3 1284 267.9 1284.5 288.1 1285 273.4 1285.5 288.8 1286 268.7 1286.5 296.5 1287 279 1287.5 294.9 1288 270.3 1288.5 295.5 1289 285.3 1289.5 293.8 1290 273.3 1290.5 295.7 1291 276.2 1291.5 298.5 1292 271.6 1292.5 298.3 1293 258 1293.5 299 1294 275.5 1294.5 282.8 1295 270.3 1295.5 285.5 1296 251.4 1296.5 275.1 1297 254.3 1297.5 267 1298 224.4 1298.5 273.8 1299 237.3 1299.5 268.9 1300 225.6 1300.5 283 1301 237.4 1301.5 278.9 1302 264 1302.5 308.9 1303 254.4 1303.5 290.8 1304 247.3 1304.5 215.2 1305 230.8 1305.5 291.5 1306 238.7 1306.5 302 1307 236.3 1307.5 324.2 1308 254.7 1308.5 340.8 1309 266.8 1309.5 382.6 1310 279.8 1310.5 315.7 1311 245.2 1311.5 349.3 1312 279.4 1312.5 307.1 1313 287 1313.5 302.7 1314 351.5 1314.5 323.4 1315 281.5 1315.5 327.2 1316 251.4 1316.5 316.6 1317 290.3 1317.5 320.2 1318 263.9 1318.5 226.4 1319 270.5 1319.5 320.2 1320 271 1320.5 315.2 1321 266.2 1321.5 304.9 1322 224.1 1322.5 324.6 1323 261.1 1323.5 303.1 1324 290.7 1324.5 339.2 1325 275.8 1325.5 319.7 1326 288.3 1326.5 334.9 1327 306.3 1327.5 368.1 1328 368.8 1328.5 375.1 1329 285.5 1329.5 366.2 1330 242.5 1330.5 330 1331 201.4 1331.5 323.1 1332 283 1332.5 337.5 1333 270.7 1333.5 308.5 1334 289.3 1334.5 306 1335 289 1335.5 320.6 1336 265.9 1336.5 298.5 1337 258.4 1337.5 317.2 1338 259.7 1338.5 320.9 1339 251.1 1339.5 289.5 1340 263.5 1340.5 309.8 1341 231.7 1341.5 304.2 1342 250.8 1342.5 291.5 1343 261.1 1343.5 342.3 1344 288.2 1344.5 305 1345 291 1345.5 338.4 1346 297.1 1346.5 323.4 1347 290.3 1347.5 334 1348 311 1348.5 340.7 1349 279.7 1349.5 303.2 1350 260.5 1350.5 333.6 1351 299.7 1351.5 343.6 1352 306.2 1352.5 323.5 1353 303.7 1353.5 318.8 1354 299.8 1354.5 311.5 1355 268.6 1355.5 319.6 1356 302.2 1356.5 330.5 1357 291.9 1357.5 332.3 1358 285.4 1358.5 312.3 1359 294.9 1359.5 330.3 1360 301.1 1360.5 327.8 1361 294.8 1361.5 317.5 1362 295.9 1362.5 310.9 1363 275.5 1363.5 316.2 1364 291 1364.5 325.2 1365 290.2 1365.5 321 1366 279.3 1366.5 326.9 1367 287.8 1367.5 325.1 1368 307.6 1368.5 331.6 1369 306.4 1369.5 360.5 1370 315 1370.5 335.6 1371 309.6 1371.5 336 1372 300.3 1372.5 345 1373 297.4 1373.5 340.1 1374 300.7 1374.5 351.8 1375 308.7 1375.5 331.2 1376 282.4 1376.5 331.9 1377 306.8 1377.5 345.5 1378 313.4 1378.5 351.2 1379 297.8 1379.5 325.3 1380 288.3 1380.5 319.1 1381 294.6 1381.5 326.6 1382 308.2 1382.5 329.7 1383 301.9 1383.5 318.9 1384 308.3 1384.5 323.9 1385 302.6 1385.5 353 1386 302.5 1386.5 329 1387 290.6 1387.5 328.3 1388 270.2 1388.5 330 1389 283.1 1389.5 312.3 1390 284.7 1390.5 317 1391 271 1391.5 300.4 1392 270.6 1392.5 326.5 1393 278.5 1393.5 304.5 1394 270 1394.5 310 1395 299.7 1395.5 339.2 1396 308.1 1396.5 335.9 1397 298.5 1397.5 336 1398 288.2 1398.5 320.1 1399 286.8 1399.5 297.4 1400 286.6 1400.5 302.4 1401 266.9 1401.5 316.1 1402 269.8 1402.5 298.5 1403 286.4 1403.5 317.9 1404 271.7 1404.5 317.8 1405 296.2 1405.5 321.7 1406 297 1406.5 325.6 1407 295.6 1407.5 332.9 1408 294.9 1408.5 338.9 1409 300 1409.5 343.3 1410 282.2 1410.5 317.6 1411 280 1411.5 311.9 1412 289.3 1412.5 319.3 1413 254.5 1413.5 298 1414 264.2 1414.5 303.4 1415 281.2 1415.5 310.7 1416 270.6 1416.5 297 1417 255.4 1417.5 295.9 1418 264.2 1418.5 292.8 1419 273.6 1419.5 289.5 1420 274.5 1420.5 296.3 1421 270.8 1421.5 297.6 1422 262.8 1422.5 299.6 1423 280.9 1423.5 298.8 1424 261.2 1424.5 281.2 1425 269.5 1425.5 307.5 1426 274.9 1426.5 301 1427 268.3 1427.5 312.4 1428 280.9 1428.5 293.9 1429 280.5 1429.5 299 1430 283.3 1430.5 291.5 1431 274.6 1431.5 298.7 1432 272.2 1432.5 281.6 1433 264.3 1433.5 304.3 1434 277.8 1434.5 317.6 1435 270.2 1435.5 304.2 1436 261 1436.5 293.6 1437 276.9 1437.5 327 1438 284.7 1438.5 320.3 1439 285 1439.5 309.3 1440 286.2 1440.5 313.6 1441 283.5 1441.5 315.7 1442 288.8 1442.5 320.9 1443 276.3 1443.5 325.2 1444 265.1 1444.5 310.1 1445 292.3 1445.5 307.9 1446 292.5 1446.5 304.4 1447 271.7 1447.5 327.7 1448 268.5 1448.5 315.4 1449 269 1449.5 308.2 1450 279.3 1450.5 312.1 1451 274.4 1451.5 308.8 1452 276.4 1452.5 331.4 1453 268 1453.5 307.7 1454 263.7 1454.5 302.9 1455 275 1455.5 305.7 1456 263.3 1456.5 295.3 1457 257.8 1457.5 290.5 1458 260.4 1458.5 310.3 1459 273.4 1459.5 301.9 1460 287.2 1460.5 295.1 1461 267.1 1461.5 288.6 1462 272.4 1462.5 301.1 1463 247.4 1463.5 288.2 1464 270.2 1464.5 286.6 1465 268.6 1465.5 302.6 1466 279.3 1466.5 307.4 1467 361.9 1467.5 297.3 1468 286 1468.5 307.3 1469 290.6 1469.5 323.5 1470 295.1 1470.5 312.6 1471 290.4 1471.5 299.2 1472 277.6 1472.5 306.2 1473 277.7 1473.5 308.5 1474 290.5 1474.5 335.1 1475 292.7 1475.5 299.6 1476 285.6 1476.5 304.8 1477 284 1477.5 310.2 1478 281.9 1478.5 307.1 1479 289.6 1479.5 315.9 1480 293 1480.5 305.1 1481 292.3 1481.5 309.9 1482 286.3 1482.5 329.6 1483 292.6 1483.5 307.7 1484 290.7 1484.5 303.1 1485 286.2 1485.5 312.5 1486 290.4 1486.5 310.2 1487 284.1 1487.5 312.9 1488 282 1488.5 309.6 1489 266.4 1489.5 307.6 1490 264.7 1490.5 304.9 1491 280.1 1491.5 321.5 1492 269.4 1492.5 315.6 1493 254.7 1493.5 294.3 1494 268.3 1494.5 292.7 1495 271.2 1495.5 305.2 1496 254.5 1496.5 285.7 1497 277.3 1497.5 299.8 1498 265.2 1498.5 287.6 1499 269 1499.5 281.2 1500 258.7 1500.5 288.6 1501 276.6 1501.5 294.2 1502 261.8 1502.5 295.5 1503 270.8 1503.5 286 1504 267.1 1504.5 292.2 1505 258.9 1505.5 301.3 1506 284.2 1506.5 300.9 1507 255.2 1507.5 301.3 1508 277.9 1508.5 292.6 1509 243.7 1509.5 283.6 1510 265.5 1510.5 293.8 1511 278.6 1511.5 297.1 1512 283.9 1512.5 335.3 1513 294.6 1513.5 314.5 1514 295.9 1514.5 337.9 1515 279.8 1515.5 315.3 1516 294.3 1516.5 311.1 1517 287.7 1517.5 300 1518 285.8 1518.5 326.6 1519 281.2 1519.5 293.5 1520 287.6 1520.5 313.3 1521 293.3 1521.5 325 1522 283.2 1522.5 304.7 1523 293.6 1523.5 309.5 1524 283 1524.5 320.8 1525 284.6 1525.5 310.8 1526 288.1 1526.5 326.1 1527 278.6 1527.5 307.5 1528 279.6 1528.5 304.1 1529 275.6 1529.5 303.9 1530 284.7 1530.5 315.8 1531 283.2 1531.5 308.6 1532 284.5 1532.5 311.9 1533 291.8 1533.5 312.1 1534 289.8 1534.5 309.6 1535 279.7 1535.5 304.1 1536 285.2 1536.5 316.9 1537 273.7 1537.5 336.7 1538 300.7 1538.5 312.1 1539 286.5 1539.5 314.8 1540 286.5 1540.5 307.8 1541 294.8 1541.5 311.8 1542 272.5 1542.5 316.7 1543 286.2 1543.5 316.4 1544 301.5 1544.5 314 1545 296 1545.5 312.4 1546 291.9 1546.5 314.4 1547 290.7 1547.5 318.1 1548 292.3 1548.5 314.1 1549 299.5 1549.5 320.7 1550 305.5 1550.5 326.9 1551 283.8 1551.5 331.1 1552 304.5 1552.5 346.4 1553 285.7 1553.5 314 1554 299.2 1554.5 342.4 1555 294.6 1555.5 311 1556 280 1556.5 302 1557 275.7 1557.5 300.7 1558 258 1558.5 308.2 1559 276.4 1559.5 300 1560 259.6 1560.5 298.5 1561 282.9 1561.5 293.5 1562 276.8 1562.5 300.5 1563 267 1563.5 296 1564 272.6 1564.5 297.2 1565 275.7 1565.5 293 1566 249.9 1566.5 303.6 1567 275.6 1567.5 304.3 1568 268.2 1568.5 300.9 1569 268.6 1569.5 308.4 1570 269.5 1570.5 303.2 1571 285.9 1571.5 313.6 1572 283.4 1572.5 312.2 1573 281.2 1573.5 296 1574 287 1574.5 295.8 1575 276.4 1575.5 301.6 1576 278.2 1576.5 309.1 1577 283.5 1577.5 332.6 1578 285.1 1578.5 314.6 1579 293.6 1579.5 322.8 1580 301.5 1580.5 309.1 1581 299.2 1581.5 300.1 1582 284.1 1582.5 300.2 1583 283.5 1583.5 307.8 1584 276.6 1584.5 311.1 1585 302 1585.5 313.1 1586 293 1586.5 321.8 1587 303.8 1587.5 325.7 1588 304.1 1588.5 314.6 1589 283.8 1589.5 316.4 1590 296.3 1590.5 308.4 1591 268.1 1591.5 330 1592 297.8 1592.5 313.9 1593 288.2 1593.5 307.8 1594 276.2 1594.5 316.7 1595 285.7 1595.5 305.9 1596 284.8 1596.5 303.5 1597 281.7 1597.5 321.9 1598 286.6 1598.5 312.5 1599 285.6 1599.5 297.5 1600 282.8 1600.5 310.8 1601 282.4 1601.5 304.4 1602 278.6 1602.5 300.4 1603 280.6 1603.5 307.5 1604 296.4 1604.5 319.5 1605 299.2 1605.5 308 1606 301.4 1606.5 311.6 1607 301.1 1607.5 309.7 1608 286.6 1608.5 306.2 1609 294.7 1609.5 303.6 1610 286.8 1610.5 302.1 1611 294.3 1611.5 303.9 1612 288.1 1612.5 315.2 1613 295.5 1613.5 311 1614 286.4 1614.5 307.5 1615 298.2 1615.5 312.8 1616 303.4 1616.5 309.4 1617 302.3 1617.5 317.2 1618 304.7 1618.5 319.9 1619 283.4 1619.5 319.1 1620 299.9 1620.5 310 1621 291.7 1621.5 311 1622 294 1622.5 304.6 1623 291 1623.5 312.1 1624 297.9 1624.5 318.4 1625 291.3 1625.5 309.7 1626 300.6 1626.5 310.3 1627 288.9 1627.5 308.3 1628 298.2 1628.5 312 1629 304.4 1629.5 316.7 1630 300.7 1630.5 314.8 1631 295.3 1631.5 314.8 1632 292 1632.5 308 1633 291.8 1633.5 308.9 1634 295.6 1634.5 313.1 1635 301.7 1635.5 322 1636 286 1636.5 301.3 1637 293 1637.5 301.3 1638 286.1 1638.5 302.8 1639 280.5 1639.5 297.5 1640 293.8 1640.5 301.1 1641 284.5 1641.5 300 1642 289.2 1642.5 304.5 1643 288.4 1643.5 313.9 1644 291.7 1644.5 307.5 1645 298.4 1645.5 318.4 1646 296.9 1646.5 309.4 1647 299.4 1647.5 311.6 1648 299.2 1648.5 311.8 1649 303.3 1649.5 312.8 1650 305.4 1650.5 316.7 1651 304.3 1651.5 309.8 1652 292.4 1652.5 303.5 1653 293.3 1653.5 309.5 1654 295.3 1654.5 305.7 1655 290.5 1655.5 315.2 1656 282.2 1656.5 299.5 1657 288.8 1657.5 301.7 1658 298.9 1658.5 310 1659 287.3 1659.5 310.1 1660 298.2 1660.5 312 1661 302.6 1661.5 313.3 1662 307.2 1662.5 312.2 1663 306.3 1663.5 309.1 1664 304.3 1664.5 295.3 1665 277.4 1665.5 279.2 1666 277.9 1666.5 279 1667 277.7 1667.5 279.3 1668 277.9 1668.5 279.7 1669 277.8 1669.5 279.8 1670 277.4 1670.5 279.8 1671 277.7 1671.5 279.9 1672 278.1 1672.5 280 1673 277.9 1673.5 279.6 1674 277.7 1674.5 279.6 1675 278.4 1675.5 279.5 1676 277.8 1676.5 279.1 1677 278 1677.5 279 1678 277.5 1678.5 278.8 1679 278.7 1679.5 279.4 1680 278.5 1680.5 281 1681 278.7 1681.5 280.2 1682 278.1 1682.5 279.7 1683 277.5 1683.5 280.2 1684 277.8 1684.5 279.3 1685 277 1685.5 280.3 1686 276.4 1686.5 279.7 1687 277.9 1687.5 279.7 1688 277.9 1688.5 280.1 1689 280 1689.5 283.2 1690 282.6 1690.5 285.4 1691 283.1 1691.5 287.4 1692 286.3 1692.5 290.2 1693 289 1693.5 292.5 1694 291.4 1694.5 294 1695 292.8 1695.5 296.9 1696 295.6 1696.5 297.8 1697 296.4 1697.5 299.7 1698 297.7 1698.5 300.9 1699 301.9 1699.5 305.1 1700 302.6 1700.5 306.6 1701 306.6 1701.5 308 1702 308.1 1702.5 310.4 1703 307.9 1703.5 311.8 1704 310.7 1704.5 309.4 1705 301.4 1705.5 300.3 1706 292.5 1706.5 298 1707 282.8 1707.5 288.7 1708 272.7 1708.5 280.9 1709 270.3 1709.5 275.4 1710 268 1710.5 270.4 1711 263.1 1711.5 273.8 1712 255.3 1712.5 269 1713 245.5 1713.5 252.5 1714 233.5 1714.5 238.3 1715 229.5 1715.5 246.6 1716 227.3 1716.5 247.3 1717 229 1717.5 252.9 1718 238.9 1718.5 263 1719 246.7 1719.5 265.6 1720 255 1720.5 264.1 1721 257.4 1721.5 269.3 1722 243 1722.5 265.3 1723 253.7 1723.5 267.2 1724 249.5 1724.5 258.6 1725 243.6 1725.5 255.8 1726 241.6" fill="none" stroke="#000" stroke-width="2.08" stroke-linejoin="round" clip-path="url(#cR1)" />
<path d="M1205 334.7 1205.5 339.1 1206 333.5 1206.5 336.4 1207 334.1 1207.5 336.7 1208 333.8 1208.5 335.8 1209 333.7 1209.5 338.1 1210 332.2 1210.5 335.3 1211 333.5 1211.5 335.9 1212 334.1 1212.5 336.6 1213 332 1213.5 335 1214 333.1 1214.5 335.5 1215 332.2 1215.5 336.5 1216 333.2 1216.5 336 1217 330.4 1217.5 335 1218 332.5 1218.5 335.1 1219 329.7 1219.5 332.4 1220 330.2 1220.5 332.6 1221 329.5 1221.5 331.9 1222 329 1222.5 331.1 1223 329.1 1223.5 331.5 1224 329.2 1224.5 331.2 1225 328.3 1225.5 330.4 1226 327.1 1226.5 332.7 1227 327.8 1227.5 331.3 1228 326.7 1228.5 330 1229 328.3 1229.5 330.6 1230 326.6 1230.5 330.7 1231 327.5 1231.5 330.5 1232 328.1 1232.5 332.5 1233 328.8 1233.5 331.3 1234 326.9 1234.5 331.2 1235 329.7 1235.5 332.5 1236 330.3 1236.5 332.3 1237 330.8 1237.5 334 1238 331.3 1238.5 333.9 1239 333 1239.5 336 1240 334.4 1240.5 297.3 1241 336.7 1241.5 303.2 1242 336.4 1242.5 341.9 1243 337.2 1243.5 348.4 1244 347.4 1244.5 342 1245 340.7 1245.5 344.1 1246 341.7 1246.5 344 1247 341.2 1247.5 344.7 1248 342.5 1248.5 344.3 1249 342.1 1249.5 344.5 1250 339.9 1250.5 344.2 1251 341.4 1251.5 343.2 1252 340.5 1252.5 343 1253 341.3 1253.5 343.4 1254 324.2 1254.5 343 1255 341.4 1255.5 342.9 1256 341.5 1256.5 342.7 1257 341.5 1257.5 343.7 1258 341.4 1258.5 343.5 1259 342 1259.5 344.1 1260 340.1 1260.5 343 1261 339.5 1261.5 342.7 1262 341 1262.5 343.6 1263 340 1263.5 344.6 1264 341.1 1264.5 343.5 1265 341.5 1265.5 343.6 1266 341.9 1266.5 343 1267 341.8 1267.5 343.5 1268 341.8 1268.5 343.7 1269 341.5 1269.5 343.5 1270 340.1 1270.5 344.2 1271 341.3 1271.5 343.3 1272 341.4 1272.5 343 1273 340.3 1273.5 343.3 1274 340.2 1274.5 342.2 1275 340 1275.5 342.2 1276 340.1 1276.5 342.5 1277 339.3 1277.5 341 1278 339.7 1278.5 340.7 1279 337.2 1279.5 340.7 1280 339.2 1280.5 342 1281 339.6 1281.5 342.3 1282 339.2 1282.5 343.3 1283 338.2 1283.5 342.3 1284 336.1 1284.5 340.7 1285 337.5 1285.5 339.7 1286 336.8 1286.5 339.3 1287 337 1287.5 338.3 1288 335.1 1288.5 338 1289 335.7 1289.5 338 1290 336 1290.5 338.5 1291 334.7 1291.5 337.5 1292 334.7 1292.5 336.2 1293 334.3 1293.5 337.6 1294 335.2 1294.5 337.8 1295 336.1 1295.5 338.4 1296 333.3 1296.5 337.7 1297 332.5 1297.5 335.8 1298 333.2 1298.5 335.6 1299 333.3 1299.5 335.7 1300 329.4 1300.5 335.5 1301 328.9 1301.5 332.4 1302 327.7 1302.5 330.2 1303 322.2 1303.5 330.8 1304 319.3 1304.5 325.5 1305 320.5 1305.5 325.7 1306 318.5 1306.5 323.4 1307 316.5 1307.5 319.6 1308 313.1 1308.5 317.7 1309 314.2 1309.5 317.4 1310 310.5 1310.5 318.5 1311 306.2 1311.5 314.1 1312 303 1312.5 309.9 1313 298.9 1313.5 313.2 1314 303.1 1314.5 313.1 1315 301.6 1315.5 305.3 1316 301.3 1316.5 319.5 1317 300.1 1317.5 310.4 1318 295.8 1318.5 308.9 1319 282.1 1319.5 308.1 1320 285.3 1320.5 302.8 1321 281.2 1321.5 294.8 1322 279 1322.5 297.4 1323 279.2 1323.5 289.3 1324 274.5 1324.5 286.1 1325 274.6 1325.5 292.9 1326 269.9 1326.5 286.1 1327 278.3 1327.5 289.6 1328 273.5 1328.5 302.5 1329 271.9 1329.5 286.8 1330 266.4 1330.5 283.9 1331 262.4 1331.5 283.2 1332 266.2 1332.5 295.1 1333 262 1333.5 200 1334 282.5 1334.5 284.8 1335 267.2 1335.5 277.2 1336 252.3 1336.5 281.8 1337 259.1 1337.5 266.4 1338 245.8 1338.5 271.4 1339 248.6 1339.5 281.2 1340 253.1 1340.5 268.3 1341 241.6 1341.5 271.1 1342 254.9 1342.5 272.8 1343 260.7 1343.5 270.8 1344 260.6 1344.5 272.8 1345 250.3 1345.5 265.3 1346 256.5 1346.5 271.6 1347 245.2 1347.5 266.2 1348 237.3 1348.5 267.4 1349 256.9 1349.5 268.1 1350 254.3 1350.5 262.4 1351 246.3 1351.5 260.9 1352 238.8 1352.5 276 1353 252.3 1353.5 280.1 1354 255.5 1354.5 266 1355 253.1 1355.5 269.3 1356 250.6 1356.5 284.7 1357 229.8 1357.5 257.6 1358 245.1 1358.5 255.7 1359 231.1 1359.5 266 1360 292.9 1360.5 255.2 1361 232.9 1361.5 262.7 1362 245.6 1362.5 281.7 1363 239.8 1363.5 271.1 1364 242.9 1364.5 246.7 1365 232.9 1365.5 251.1 1366 229.9 1366.5 245.2 1367 211.1 1367.5 257.1 1368 214 1368.5 245.3 1369 227.9 1369.5 252.1 1370 235.1 1370.5 262.4 1371 230.6 1371.5 253 1372 236.9 1372.5 244 1373 235.8 1373.5 257.9 1374 232.7 1374.5 252 1375 233.3 1375.5 253.4 1376 250.3 1376.5 264.5 1377 303.2 1377.5 258.5 1378 217.9 1378.5 261.4 1379 235.2 1379.5 245.4 1380 230 1380.5 257.4 1381 239.8 1381.5 273.8 1382 240.2 1382.5 259.8 1383 230.3 1383.5 270.3 1384 233.9 1384.5 262.4 1385 220.6 1385.5 253.6 1386 239.9 1386.5 256.5 1387 236.6 1387.5 244.4 1388 213.1 1388.5 256.6 1389 238.1 1389.5 250.2 1390 236.4 1390.5 243.7 1391 232.8 1391.5 241.9 1392 227.4 1392.5 248.2 1393 232.1 1393.5 250.9 1394 227.6 1394.5 255.1 1395 235.4 1395.5 255.2 1396 239.1 1396.5 260.7 1397 246.4 1397.5 253.1 1398 237.5 1398.5 262.2 1399 233.6 1399.5 246.1 1400 224.1 1400.5 264.3 1401 235.4 1401.5 248.1 1402 235.1 1402.5 249.7 1403 236.8 1403.5 257.4 1404 234.2 1404.5 244.4 1405 231.1 1405.5 241.7 1406 222.7 1406.5 232 1407 218 1407.5 230 1408 225.3 1408.5 236 1409 206.6 1409.5 194.5 1410 224 1410.5 239 1411 226.6 1411.5 235.8 1412 232 1412.5 236.6 1413 234.7 1413.5 241 1414 238.6 1414.5 245.4 1415 241 1415.5 246.1 1416 242 1416.5 246.3 1417 239.7 1417.5 244.8 1418 244 1418.5 249.8 1419 244.7 1419.5 251.9 1420 244.3 1420.5 252.6 1421 247.1 1421.5 250.9 1422 249 1422.5 253.9 1423 247.6 1423.5 252.4 1424 248.5 1424.5 253.3 1425 248.8 1425.5 254.3 1426 250.9 1426.5 258.2 1427 252.5 1427.5 255.5 1428 252 1428.5 259.2 1429 254 1429.5 259.7 1430 256.5 1430.5 261 1431 256.4 1431.5 262.5 1432 254.7 1432.5 260.9 1433 257.9 1433.5 263.2 1434 250.5 1434.5 260.9 1435 251.1 1435.5 270.8 1436 251.4 1436.5 260 1437 254.2 1437.5 275.7 1438 247.5 1438.5 264.7 1439 245 1439.5 260.8 1440 242.7 1440.5 269.5 1441 238.4 1441.5 270.3 1442 256.5 1442.5 262.4 1443 249.5 1443.5 274.2 1444 254.5 1444.5 268.6 1445 238.9 1445.5 262.8 1446 244 1446.5 271.7 1447 247.4 1447.5 262.6 1448 246.8 1448.5 266.6 1449 244 1449.5 263.1 1450 246.7 1450.5 259 1451 247.3 1451.5 264.5 1452 252.4 1452.5 260.4 1453 292.9 1453.5 265.4 1454 241.4 1454.5 256.5 1455 244.1 1455.5 261.1 1456 237.3 1456.5 259 1457 242.9 1457.5 250.7 1458 238.1 1458.5 257.3 1459 239.7 1459.5 252.3 1460 277.3 1460.5 249 1461 244.7 1461.5 256.1 1462 249.4 1462.5 262.2 1463 238.8 1463.5 268 1464 244.6 1464.5 260.9 1465 240.9 1465.5 263.3 1466 230.8 1466.5 260.8 1467 240.7 1467.5 266.2 1468 240.3 1468.5 253.9 1469 239.7 1469.5 261.7 1470 240.7 1470.5 247.7 1471 233.1 1471.5 254.4 1472 235.6 1472.5 253.5 1473 235.7 1473.5 247.5 1474 232.7 1474.5 250.3 1475 228.5 1475.5 248.7 1476 238.3 1476.5 255.6 1477 235.6 1477.5 255.3 1478 229.5 1478.5 252.9 1479 238.3 1479.5 246 1480 229.2 1480.5 244.9 1481 236.5 1481.5 255.3 1482 233.7 1482.5 243.3 1483 227.6 1483.5 238.1 1484 217.6 1484.5 228.3 1485 216.2 1485.5 241 1486 216.4 1486.5 227.5 1487 213.7 1487.5 238.6 1488 209.7 1488.5 229.8 1489 219.1 1489.5 235.3 1490 219.7 1490.5 237.9 1491 212.6 1491.5 231.1 1492 212.9 1492.5 229.8 1493 212.5 1493.5 230.4 1494 205.6 1494.5 234.6 1495 216.5 1495.5 240.1 1496 214.9 1496.5 240.8 1497 222.9 1497.5 249.3 1498 231.1 1498.5 262.8 1499 241.3 1499.5 257.8 1500 242.8 1500.5 261.4 1501 225.9 1501.5 248 1502 223.6 1502.5 248.8 1503 233.8 1503.5 243.2 1504 235.4 1504.5 246.5 1505 229 1505.5 252.3 1506 235.5 1506.5 243.1 1507 227.1 1507.5 252.5 1508 225.5 1508.5 248.3 1509 226.7 1509.5 244.4 1510 236.2 1510.5 248.9 1511 234.8 1511.5 247.3 1512 227.3 1512.5 251.4 1513 229.2 1513.5 249 1514 225.2 1514.5 249.2 1515 232.9 1515.5 242.5 1516 230.8 1516.5 244.2 1517 228 1517.5 249.6 1518 230.8 1518.5 243.4 1519 238.7 1519.5 255.1 1520 225.6 1520.5 245 1521 241.6 1521.5 248.4 1522 239.6 1522.5 248.2 1523 240.1 1523.5 249.1 1524 240 1524.5 246.4 1525 240.7 1525.5 247.9 1526 237.5 1526.5 257.9 1527 238.4 1527.5 249.6 1528 230 1528.5 261.4 1529 235.6 1529.5 256.6 1530 247.9 1530.5 264.8 1531 246.2 1531.5 260.7 1532 249.4 1532.5 269.6 1533 239.3 1533.5 261.6 1534 252.2 1534.5 263.2 1535 248.6 1535.5 270.6 1536 250.4 1536.5 265.7 1537 250.3 1537.5 264.5 1538 248.1 1538.5 265.1 1539 251.7 1539.5 266.5 1540 251.4 1540.5 260.2 1541 254.4 1541.5 264.2 1542 253.4 1542.5 271.6 1543 253.5 1543.5 260.5 1544 250.6 1544.5 262.5 1545 245 1545.5 259.5 1546 248.7 1546.5 264.8 1547 243.6 1547.5 257.2 1548 248.2 1548.5 255.2 1549 250.2 1549.5 262.1 1550 247.6 1550.5 260.4 1551 252.5 1551.5 258.7 1552 249 1552.5 258.5 1553 238.8 1553.5 252.5 1554 243.1 1554.5 263.5 1555 238.6 1555.5 245.1 1556 223.8 1556.5 242.5 1557 232 1557.5 249.5 1558 236.7 1558.5 252.9 1559 244.1 1559.5 249.4 1560 238.9 1560.5 252.4 1561 240.9 1561.5 258.5 1562 240.2 1562.5 255.6 1563 229.7 1563.5 256.2 1564 234.8 1564.5 254.8 1565 241 1565.5 257.2 1566 241.5 1566.5 254.3 1567 240.3 1567.5 251.1 1568 237.3 1568.5 264.3 1569 243.1 1569.5 268.4 1570 251.1 1570.5 258.7 1571 247.3 1571.5 269.9 1572 244.4 1572.5 268.7 1573 253.6 1573.5 257.8 1574 248.8 1574.5 262.6 1575 231.6 1575.5 264.1 1576 244.9 1576.5 256.5 1577 246.6 1577.5 264.2 1578 249.1 1578.5 263.3 1579 249.3 1579.5 266.3 1580 250.3 1580.5 265.9 1581 251.8 1581.5 260 1582 216.9 1582.5 258.8 1583 253 1583.5 269.4 1584 244.2 1584.5 264.4 1585 253.7 1585.5 270.1 1586 257 1586.5 260.9 1587 251.1 1587.5 269.3 1588 250.7 1588.5 262.7 1589 248 1589.5 267.8 1590 245.5 1590.5 258.5 1591 247.9 1591.5 254.2 1592 244.9 1592.5 257.9 1593 244.8 1593.5 266.7 1594 243.7 1594.5 261.8 1595 245.3 1595.5 258.7 1596 252.1 1596.5 273.1 1597 240.5 1597.5 264.1 1598 247.6 1598.5 266.4 1599 246.8 1599.5 265 1600 248.7 1600.5 267.7 1601 251.1 1601.5 272.2 1602 259.2 1602.5 266.8 1603 256.7 1603.5 276.6 1604 262.5 1604.5 275.9 1605 252.6 1605.5 282.2 1606 263.1 1606.5 275.3 1607 265.1 1607.5 286.5 1608 267.7 1608.5 283.4 1609 264.1 1609.5 281.7 1610 273.4 1610.5 281.2 1611 270.6 1611.5 282.3 1612 271.4 1612.5 286.9 1613 277.6 1613.5 288.4 1614 271 1614.5 297.6 1615 276.7 1615.5 294.1 1616 275.7 1616.5 282.4 1617 270.7 1617.5 286.2 1618 275.6 1618.5 285.3 1619 277.7 1619.5 281.9 1620 273.8 1620.5 289 1621 277.6 1621.5 289.5 1622 272.7 1622.5 290.5 1623 278.7 1623.5 301.5 1624 281.4 1624.5 292.8 1625 272.2 1625.5 287.9 1626 282.9 1626.5 297 1627 278.7 1627.5 292.2 1628 286.6 1628.5 294.5 1629 280.6 1629.5 300.7 1630 283 1630.5 298.2 1631 284.6 1631.5 298.1 1632 279.4 1632.5 289.5 1633 283.5 1633.5 299.3 1634 284.4 1634.5 295.2 1635 288.1 1635.5 302.9 1636 286.5 1636.5 296.4 1637 290.8 1637.5 296.1 1638 288.7 1638.5 299.2 1639 290.9 1639.5 298.2 1640 294.3 1640.5 302.7 1641 285.3 1641.5 301.9 1642 295.5 1642.5 301.1 1643 294.2 1643.5 303.7 1644 295.4 1644.5 305.6 1645 289.2 1645.5 301.7 1646 292.3 1646.5 302.5 1647 293.5 1647.5 307.1 1648 298 1648.5 307.9 1649 295.9 1649.5 303.6 1650 292 1650.5 304.8 1651 287 1651.5 301.3 1652 293.8 1652.5 306.2 1653 289.6 1653.5 311.3 1654 290 1654.5 314.1 1655 300 1655.5 307.5 1656 293.5 1656.5 308.3 1657 303.1 1657.5 307.7 1658 295.4 1658.5 310.2 1659 303.9 1659.5 308.5 1660 302.4 1660.5 310.1 1661 297.3 1661.5 310.1 1662 300.2 1662.5 312.5 1663 302.6 1663.5 309.5 1664 302.9 1664.5 308.3 1665 296.4 1665.5 311.4 1666 304.6 1666.5 309.6 1667 299.2 1667.5 314.2 1668 301.3 1668.5 306.1 1669 301.2 1669.5 309.6 1670 303.9 1670.5 311.7 1671 305 1671.5 312.4 1672 307.8 1672.5 310 1673 303.1 1673.5 313 1674 308.5 1674.5 312.5 1675 306.9 1675.5 314.3 1676 264.2 1676.5 315.8 1677 308 1677.5 314.2 1678 308.6 1678.5 314.2 1679 309.9 1679.5 313.4 1680 311.1 1680.5 316.8 1681 310 1681.5 316.3 1682 311.6 1682.5 328 1683 310.8 1683.5 314.8 1684 310.5 1684.5 317.6 1685 312.5 1685.5 319.6 1686 315.4 1686.5 318.9 1687 313.9 1687.5 318.7 1688 315.7 1688.5 320.8 1689 314.6 1689.5 324 1690 318 1690.5 320 1691 316.8 1691.5 320.5 1692 318 1692.5 324.2 1693 318.9 1693.5 320.9 1694 318.2 1694.5 320.6 1695 316.2 1695.5 323.7 1696 317.8 1696.5 322.2 1697 318.6 1697.5 321.5 1698 316.8 1698.5 326.1 1699 319.4 1699.5 321.6 1700 319.2 1700.5 322.2 1701 320.3 1701.5 323.8 1702 319.7 1702.5 322.2 1703 320.2 1703.5 321 1704 315.6 1704.5 320.9 1705 315.6 1705.5 315.4 1706 311.1 1706.5 313.5 1707 310 1707.5 312.2 1708 310.1 1708.5 312.9 1709 308.2 1709.5 319.2 1710 307.5 1710.5 316.2 1711 312.5 1711.5 318.6 1712 310.8 1712.5 318.8 1713 308.2 1713.5 316.8 1714 312.1 1714.5 317.2 1715 313.1 1715.5 316.1 1716 307.8 1716.5 318.5 1717 311.7 1717.5 318.1 1718 312.1 1718.5 317.4 1719 311.6 1719.5 318.1 1720 312.1 1720.5 321.4 1721 312.1 1721.5 322.8 1722 316.8 1722.5 322.5 1723 314.6 1723.5 319.7 1724 316.4 1724.5 321.5 1725 314.1 1725.5 322.2 1726 320.9" fill="none" stroke="#f00" stroke-width="2.08" stroke-linejoin="round" clip-path="url(#cR1)" />
<line x1="1726.2" y1="455" x2="1726.2" y2="110" stroke="#1f77b4" stroke-width="2.08" stroke-dasharray="2.08 3.44"/>
<rect x="1205" y="110" width="595" height="345" fill="none" stroke="#000" stroke-width="2" shape-rendering="crispEdges"/>
<line x1="1800" y1="109" x2="1800" y2="456" stroke="#f00" stroke-width="2" shape-rendering="crispEdges"/>
<line x1="1244.55" y1="455" x2="1244.55" y2="450.1" stroke="#000" stroke-width="1" shape-rendering="crispEdges"/>
<line x1="1318.92" y1="455" x2="1318.92" y2="450.1" stroke="#000" stroke-width="1" shape-rendering="crispEdges"/>
<line x1="1393.3" y1="455" x2="1393.3" y2="450.1" stroke="#000" stroke-width="1" shape-rendering="crispEdges"/>
<line x1="1467.67" y1="455" x2="1467.67" y2="450.1" stroke="#000" stroke-width="1" shape-rendering="crispEdges"/>
<line x1="1542.05" y1="455" x2="1542.05" y2="450.1" stroke="#000" stroke-width="1" shape-rendering="crispEdges"/>
<line x1="1616.42" y1="455" x2="1616.42" y2="450.1" stroke="#000" stroke-width="1" shape-rendering="crispEdges"/>
<line x1="1690.8" y1="455" x2="1690.8" y2="450.1" stroke="#000" stroke-width="1" shape-rendering="crispEdges"/>
<line x1="1765.17" y1="455" x2="1765.17" y2="450.1" stroke="#000" stroke-width="1" shape-rendering="crispEdges"/>
<line x1="1205" y1="455" x2="1209.9" y2="455" stroke="#000" stroke-width="1" shape-rendering="crispEdges"/>
<text x="1200.14" y="462.6" font-size="20" text-anchor="end" fill="#000" >−20</text>
<line x1="1205" y1="411.88" x2="1209.9" y2="411.88" stroke="#000" stroke-width="1" shape-rendering="crispEdges"/>
<text x="1200.14" y="419.48" font-size="20" text-anchor="end" fill="#000" >−15</text>
<line x1="1205" y1="368.75" x2="1209.9" y2="368.75" stroke="#000" stroke-width="1" shape-rendering="crispEdges"/>
<text x="1200.14" y="376.35" font-size="20" text-anchor="end" fill="#000" >−10</text>
<line x1="1205" y1="325.62" x2="1209.9" y2="325.62" stroke="#000" stroke-width="1" shape-rendering="crispEdges"/>
<text x="1200.14" y="333.23" font-size="20" text-anchor="end" fill="#000" >−5</text>
<line x1="1205" y1="282.5" x2="1209.9" y2="282.5" stroke="#000" stroke-width="1" shape-rendering="crispEdges"/>
<text x="1200.14" y="290.1" font-size="20" text-anchor="end" fill="#000" >0</text>
<line x1="1205" y1="239.38" x2="1209.9" y2="239.38" stroke="#000" stroke-width="1" shape-rendering="crispEdges"/>
<text x="1200.14" y="246.97" font-size="20" text-anchor="end" fill="#000" >5</text>
<line x1="1205" y1="196.25" x2="1209.9" y2="196.25" stroke="#000" stroke-width="1" shape-rendering="crispEdges"/>
<text x="1200.14" y="203.85" font-size="20" text-anchor="end" fill="#000" >10</text>
<line x1="1205" y1="153.12" x2="1209.9" y2="153.12" stroke="#000" stroke-width="1" shape-rendering="crispEdges"/>
<text x="1200.14" y="160.72" font-size="20" text-anchor="end" fill="#000" >15</text>
<line x1="1205" y1="110" x2="1209.9" y2="110" stroke="#000" stroke-width="1" shape-rendering="crispEdges"/>
<text x="1200.14" y="117.6" font-size="20" text-anchor="end" fill="#000" >20</text>
<line x1="1800" y1="455" x2="1795.1" y2="455" stroke="#f00" stroke-width="1" shape-rendering="crispEdges"/>
<text x="1804.86" y="462.6" font-size="20" text-anchor="start" fill="#f00" >0</text>
<line x1="1800" y1="386" x2="1795.1" y2="386" stroke="#f00" stroke-width="1" shape-rendering="crispEdges"/>
<text x="1804.86" y="393.6" font-size="20" text-anchor="start" fill="#f00" >200</text>
<line x1="1800" y1="317" x2="1795.1" y2="317" stroke="#f00" stroke-width="1" shape-rendering="crispEdges"/>
<text x="1804.86" y="324.6" font-size="20" text-anchor="start" fill="#f00" >400</text>
<line x1="1800" y1="248" x2="1795.1" y2="248" stroke="#f00" stroke-width="1" shape-rendering="crispEdges"/>
<text x="1804.86" y="255.6" font-size="20" text-anchor="start" fill="#f00" >600</text>
<line x1="1800" y1="179" x2="1795.1" y2="179" stroke="#f00" stroke-width="1" shape-rendering="crispEdges"/>
<text x="1804.86" y="186.6" font-size="20" text-anchor="start" fill="#f00" >800</text>
<line x1="1800" y1="110" x2="1795.1" y2="110" stroke="#f00" stroke-width="1" shape-rendering="crispEdges"/>
<text x="1804.86" y="117.6" font-size="20" text-anchor="start" fill="#f00" >1000</text>
<text font-size="24" text-anchor="middle" fill="#000" transform="translate(1116,282.5) rotate(-90)" >IMF Bz</text>
<text font-size="24" text-anchor="middle" fill="#000" transform="translate(1146.2,282.5) rotate(-90)" >( nT )</text>
<text font-size="24" text-anchor="middle" fill="#f00" transform="translate(1879.2,283.7) rotate(-90)" >SW Velocity</text>
<text font-size="24" text-anchor="middle" fill="#f00" transform="translate(1913,282.5) rotate(-90)" >( km<tspan dx="-3"> s</tspan><tspan dy="-8.64" font-size="16.8">−1</tspan><tspan dy="8.64"> )</tspan></text>
<line x1="1205" y1="512.4" x2="1800" y2="512.4" stroke="#000" stroke-width="2.08" stroke-dasharray="2.08 3.43"/>
<path d="M1205 671.1 1205.5 650.9 1206 666.9 1206.5 657.7 1207 681.2 1207.5 664 1208 673.9 1208.5 660.3 1209 684.8 1209.5 652.5 1210 671.3 1210.5 649.4 1211 675.9 1211.5 649.3 1212 666.4 1212.5 646.2 1213 665.8 1213.5 653.4 1214 668.9 1214.5 654.9 1215 671.7 1215.5 654.6 1216 664.9 1216.5 653.4 1217 668.1 1217.5 654.3 1218 677.7 1218.5 658.5 1219 675.1 1219.5 658.7 1220 684.6 1220.5 657.9 1221 668.3 1221.5 661.5 1222 678.7 1222.5 663.3 1223 679.3 1223.5 660.2 1224 672.5 1224.5 662.9 1225 684.5 1225.5 667.7 1226 695 1226.5 675.2 1227 689.1 1227.5 677.9 1228 683.8 1228.5 669.1 1229 686.6 1229.5 682 1230 696.2 1230.5 681.2 1231 698.4 1231.5 679.7 1232 691.8 1232.5 682.4 1233 700 1233.5 679.8 1234 701.8 1234.5 680.2 1235 692.7 1235.5 678.7 1236 690.4 1236.5 682.6 1237 699.8 1237.5 681.5 1238 689.2 1238.5 682.7 1239 689 1239.5 677.9 1240 685.8 1240.5 681.9 1241 690.2 1241.5 524.8 1242 693.6 1242.5 665.4 1243 535.6 1243.5 677.8 1244 694.1 1244.5 681.2 1245 697.5 1245.5 546.4 1246 697 1246.5 684.6 1247 702.3 1247.5 685.1 1248 701 1248.5 686.5 1249 691.4 1249.5 683.4 1250 691.8 1250.5 679.5 1251 695.4 1251.5 680.4 1252 705.4 1252.5 687.1 1253 605.1 1253.5 687.9 1254 698.3 1254.5 682.5 1255 694.4 1255.5 682.2 1256 693.3 1256.5 680.3 1257 692.8 1257.5 672.3 1258 692.1 1258.5 675.8 1259 700.1 1259.5 678.6 1260 695.6 1260.5 680.3 1261 689.5 1261.5 679.7 1262 693.2 1262.5 679.6 1263 689.5 1263.5 680.8 1264 693.1 1264.5 684.2 1265 704.8 1265.5 679.3 1266 690.2 1266.5 680.8 1267 696.2 1267.5 678.1 1268 689.7 1268.5 683.6 1269 696.4 1269.5 687.2 1270 696.8 1270.5 685.7 1271 695.5 1271.5 682 1272 696.3 1272.5 678.6 1273 699 1273.5 690 1274 701.8 1274.5 688.6 1275 699.1 1275.5 685.5 1276 699.8 1276.5 683.3 1277 696.7 1277.5 684 1278 707.9 1278.5 683.4 1279 700.4 1279.5 678.7 1280 688.3 1280.5 674.1 1281 686.5 1281.5 676.9 1282 697.1 1282.5 674.4 1283 685 1283.5 672.5 1284 681.7 1284.5 668.5 1285 680.9 1285.5 667.6 1286 683.9 1286.5 669.1 1287 690.8 1287.5 673.1 1288 686.7 1288.5 665.8 1289 689.3 1289.5 651.9 1290 676.8 1290.5 650.3 1291 673.7 1291.5 642.7 1292 681.6 1292.5 640.1 1293 651.3 1293.5 638.6 1294 650.9 1294.5 641.3 1295 643.4 1295.5 613.2 1296 657.5 1296.5 622.2 1297 646.3 1297.5 599.7 1298 634.9 1298.5 611.6 1299 623 1299.5 609.1 1300 632.5 1300.5 601.7 1301 621.5 1301.5 593.1 1302 609 1302.5 574.5 1303 591.7 1303.5 560.6 1304 609.1 1304.5 569.2 1305 595.6 1305.5 551.4 1306 590 1306.5 524.8 1307 592.6 1307.5 561.1 1308 595.1 1308.5 569.1 1309 604.3 1309.5 587.7 1310 626.7 1310.5 581.5 1311 634 1311.5 614 1312 658.7 1312.5 617.9 1313 635.7 1313.5 619 1314 644.3 1314.5 736.4 1315 685.6 1315.5 629.9 1316 666 1316.5 610.4 1317 635.8 1317.5 612.7 1318 685.8 1318.5 632 1319 667.4 1319.5 605.4 1320 671.5 1320.5 618.5 1321 643.6 1321.5 613.8 1322 648 1322.5 625.4 1323 665 1323.5 620.9 1324 642.7 1324.5 617.4 1325 637.3 1325.5 611.8 1326 651 1326.5 617.8 1327 639.8 1327.5 605.6 1328 633.9 1328.5 605.6 1329 624.3 1329.5 606.5 1330 642.6 1330.5 611.6 1331 622.1 1331.5 606.4 1332 623.7 1332.5 602.9 1333 619 1333.5 510.9 1334 792 1334.5 597.3 1335 631.8 1335.5 606.5 1336 624.3 1336.5 609 1337 626 1337.5 600.7 1338 634.4 1338.5 603.4 1339 663.4 1339.5 600.3 1340 624.2 1340.5 611.4 1341 566.5 1341.5 599.7 1342 631.4 1342.5 610.7 1343 623.7 1343.5 603.3 1344 618 1344.5 604.1 1345 632.2 1345.5 599.5 1346 619.9 1346.5 690.1 1347 608.1 1347.5 576.1 1348 618.5 1348.5 597.2 1349 608.4 1349.5 594.2 1350 617.1 1350.5 578.8 1351 614.2 1351.5 584.5 1352 618.2 1352.5 594 1353 618.9 1353.5 583.2 1354 620.7 1354.5 583.8 1355 623.2 1355.5 583.2 1356 705.5 1356.5 589.7 1357 616.5 1357.5 598.9 1358 625.9 1358.5 599.2 1359 626.2 1359.5 578.2 1360 609.4 1360.5 762.7 1361 622.8 1361.5 582.8 1362 618.7 1362.5 593.4 1363 634.3 1363.5 754.9 1364 658.7 1364.5 600.1 1365 660.9 1365.5 610.9 1366 643.8 1366.5 623.9 1367 660.2 1367.5 621.6 1368 638.3 1368.5 613.6 1369 633.4 1369.5 615.7 1370 649.8 1370.5 624.6 1371 646 1371.5 635.6 1372 662 1372.5 764.2 1373 646.6 1373.5 619.6 1374 643.5 1374.5 623.1 1375 659.6 1375.5 615.1 1376 660.4 1376.5 548.6 1377 656.7 1377.5 638.7 1378 674.4 1378.5 643.8 1379 674.2 1379.5 619.4 1380 651 1380.5 635.9 1381 653.8 1381.5 627.1 1382 654.2 1382.5 632.8 1383 650.7 1383.5 639.8 1384 659.1 1384.5 642.2 1385 664.5 1385.5 646.1 1386 670.5 1386.5 639.4 1387 656.9 1387.5 639.5 1388 650.1 1388.5 618.1 1389 682 1389.5 633.2 1390 649.9 1390.5 700.9 1391 652.5 1391.5 634.2 1392 645.7 1392.5 621.5 1393 657.6 1393.5 629.3 1394 653.5 1394.5 634.8 1395 651.4 1395.5 627.4 1396 651.5 1396.5 628.4 1397 652.7 1397.5 630.7 1398 664.3 1398.5 627 1399 657.2 1399.5 622.2 1400 727.1 1400.5 621.7 1401 656.2 1401.5 633.2 1402 673.1 1402.5 632.9 1403 645.6 1403.5 624.6 1404 646.9 1404.5 625.3 1405 668.9 1405.5 633.6 1406 670 1406.5 618.7 1407 655 1407.5 623.2 1408 643.1 1408.5 621.8 1409 633.6 1409.5 584.1 1410 643.2 1410.5 615.7 1411 637.8 1411.5 625.2 1412 637.8 1412.5 613.3 1413 651 1413.5 620.8 1414 650.2 1414.5 622.7 1415 653.1 1415.5 627.7 1416 676.9 1416.5 634.5 1417 654.9 1417.5 636 1418 665.8 1418.5 625.5 1419 654.3 1419.5 640.6 1420 666.8 1420.5 644.5 1421 670 1421.5 635.7 1422 661.7 1422.5 649.7 1423 671.3 1423.5 649.7 1424 672.3 1424.5 651.2 1425 672.5 1425.5 665.1 1426 695.5 1426.5 666.9 1427 687.3 1427.5 663.9 1428 685 1428.5 669 1429 695.2 1429.5 665.9 1430 676.1 1430.5 654.7 1431 675.1 1431.5 654.6 1432 675.2 1432.5 656.8 1433 676.5 1433.5 657.6 1434 683.6 1434.5 643.7 1435 660.1 1435.5 638.7 1436 655.2 1436.5 618.7 1437 649.4 1437.5 634.9 1438 642.7 1438.5 616.9 1439 650.2 1439.5 634.2 1440 647.1 1440.5 623.5 1441 661.2 1441.5 624.8 1442 659.5 1442.5 634.7 1443 655 1443.5 622.6 1444 651.2 1444.5 625.1 1445 648.2 1445.5 629.2 1446 649.1 1446.5 631.2 1447 647.9 1447.5 622.9 1448 652.7 1448.5 621.1 1449 663.8 1449.5 575.1 1450 660.8 1450.5 616.1 1451 805.3 1451.5 602.8 1452 661.8 1452.5 617.7 1453 648 1453.5 615.7 1454 728.7 1454.5 614.4 1455 655.8 1455.5 631.3 1456 656.9 1456.5 609.2 1457 654.1 1457.5 641.9 1458 661 1458.5 646.1 1459 657.5 1459.5 711.7 1460 659.4 1460.5 639.8 1461 663.3 1461.5 634 1462 672.6 1462.5 625.2 1463 677.4 1463.5 620.8 1464 680 1464.5 630.6 1465 643 1465.5 629 1466 666.1 1466.5 615.7 1467 651.8 1467.5 638.3 1468 683.3 1468.5 626.5 1469 659.8 1469.5 639.9 1470 652.1 1470.5 627.9 1471 667 1471.5 620 1472 664.1 1472.5 621.2 1473 651.1 1473.5 617.9 1474 647.7 1474.5 633.6 1475 675 1475.5 609.9 1476 651.4 1476.5 629.6 1477 736.4 1477.5 634 1478 684.7 1478.5 644.8 1479 676 1479.5 627.7 1480 663.5 1480.5 649.8 1481 677.3 1481.5 638.5 1482 689.6 1482.5 643.1 1483 664.1 1483.5 654.6 1484 672.2 1484.5 626.1 1485 664.3 1485.5 641 1486 681.1 1486.5 640.2 1487 696 1487.5 754.9 1488 666.3 1488.5 654.2 1489 663.9 1489.5 642.4 1490 655.8 1490.5 639.5 1491 656.7 1491.5 645.6 1492 659.9 1492.5 633 1493 678.5 1493.5 651.6 1494 669.1 1494.5 641.3 1495 684.7 1495.5 645.6 1496 671.4 1496.5 639.9 1497 664.5 1497.5 642.4 1498 656.6 1498.5 648.8 1499 669.1 1499.5 632.7 1500 671 1500.5 627.8 1501 652.2 1501.5 638.4 1502 659.2 1502.5 638.8 1503 678.2 1503.5 642.9 1504 685.8 1504.5 647.5 1505 700.8 1505.5 649.2 1506 671.7 1506.5 644.8 1507 672.6 1507.5 636.8 1508 664.9 1508.5 647.8 1509 668.5 1509.5 637.8 1510 678.6 1510.5 629.4 1511 670.8 1511.5 643.5 1512 655.4 1512.5 613.3 1513 668.5 1513.5 636.2 1514 658.2 1514.5 624.4 1515 678.1 1515.5 638.1 1516 660 1516.5 644.5 1517 680.8 1517.5 622.4 1518 666.1 1518.5 629 1519 652.1 1519.5 637.2 1520 660.1 1520.5 628.4 1521 681.6 1521.5 638.5 1522 671.5 1522.5 623.6 1523 676.6 1523.5 632 1524 658.6 1524.5 619.5 1525 656.2 1525.5 611.3 1526 674.8 1526.5 632.5 1527 668.1 1527.5 645.7 1528 689.5 1528.5 645.8 1529 664.7 1529.5 643.7 1530 667.3 1530.5 642.1 1531 659.9 1531.5 636.9 1532 667.5 1532.5 656.9 1533 660.8 1533.5 651 1534 672.7 1534.5 640.4 1535 663.1 1535.5 639 1536 670.4 1536.5 647.7 1537 670.6 1537.5 639.9 1538 674.6 1538.5 641.1 1539 660.6 1539.5 649.6 1540 674.5 1540.5 661.5 1541 674.6 1541.5 660.5 1542 682.3 1542.5 658.7 1543 686 1543.5 654.3 1544 674.6 1544.5 649.9 1545 683.5 1545.5 651.2 1546 663.3 1546.5 653.7 1547 666.2 1547.5 645.1 1548 668.1 1548.5 639.8 1549 682.2 1549.5 636.3 1550 667.2 1550.5 641.3 1551 666.5 1551.5 646.3 1552 667.3 1552.5 648.2 1553 660.4 1553.5 647.6 1554 660.7 1554.5 635 1555 671.1 1555.5 647.2 1556 690.1 1556.5 653.6 1557 667.8 1557.5 652 1558 678.9 1558.5 646.8 1559 676.3 1559.5 643.4 1560 661 1560.5 648.4 1561 658.3 1561.5 642.3 1562 665.6 1562.5 639.6 1563 670.4 1563.5 651.9 1564 676.4 1564.5 651.7 1565 666.7 1565.5 653.6 1566 680.3 1566.5 640.2 1567 667.9 1567.5 640.2 1568 670.8 1568.5 639.4 1569 667.1 1569.5 640.7 1570 661.6 1570.5 645 1571 674.2 1571.5 645.9 1572 667.1 1572.5 646.5 1573 664.2 1573.5 545.5 1574 670.1 1574.5 635.1 1575 663.8 1575.5 649.8 1576 664 1576.5 656.7 1577 665.8 1577.5 653.4 1578 659.2 1578.5 640.6 1579 664.4 1579.5 652.1 1580 675.7 1580.5 652.8 1581 705.5 1581.5 637.8 1582 672 1582.5 653.7 1583 675.3 1583.5 654.2 1584 681.1 1584.5 650.6 1585 685.8 1585.5 644 1586 680.1 1586.5 652.3 1587 681 1587.5 666.2 1588 690.6 1588.5 654.3 1589 695.3 1589.5 664.9 1590 699.8 1590.5 664.7 1591 687.8 1591.5 669.5 1592 690 1592.5 657.2 1593 723 1593.5 664.3 1594 709.6 1594.5 663.3 1595 753.4 1595.5 667.8 1596 698.1 1596.5 681.8 1597 694.6 1597.5 669.8 1598 702.6 1598.5 682.5 1599 715.5 1599.5 665.7 1600 594.9 1600.5 736.4 1601 707.4 1601.5 682 1602 703.1 1602.5 669.2 1603 694.6 1603.5 680.6 1604 697.3 1604.5 676.6 1605 686.9 1605.5 673.1 1606 690 1606.5 711.7 1607 698.5 1607.5 669.9 1608 694 1608.5 665.1 1609 690.1 1609.5 665.7 1610 691.5 1610.5 678.5 1611 684.1 1611.5 667.1 1612 685.2 1612.5 660 1613 693.1 1613.5 661.5 1614 675.3 1614.5 663.8 1615 676.9 1615.5 656.7 1616 673.1 1616.5 643.4 1617 669.2 1617.5 654.8 1618 677.9 1618.5 643 1619 669.2 1619.5 651.6 1620 657.2 1620.5 651.8 1621 659.8 1621.5 647 1622 660.5 1622.5 646.2 1623 705.5 1623.5 648.2 1624 669.3 1624.5 649.4 1625 658 1625.5 639.4 1626 653 1626.5 644.4 1627 669.2 1627.5 642.3 1628 667.4 1628.5 643 1629 652.6 1629.5 645.1 1630 654.8 1630.5 640.5 1631 653.1 1631.5 638.2 1632 651.2 1632.5 634.1 1633 653.2 1633.5 627.7 1634 647.5 1634.5 625.7 1635 641.4 1635.5 616.8 1636 639.9 1636.5 626 1637 657.9 1637.5 545.8 1638 651.5 1638.5 619.7 1639 645.5 1639.5 632.7 1640 644.5 1640.5 619.5 1641 641.4 1641.5 636.5 1642 644.6 1642.5 632.6 1643 651.6 1643.5 714.8 1644 649.6 1644.5 628.5 1645 651.8 1645.5 621.4 1646 651.4 1646.5 630.3 1647 640.3 1647.5 627.3 1648 644.3 1648.5 623.7 1649 646 1649.5 623.1 1650 639.9 1650.5 607.9 1651 647.6 1651.5 611.7 1652 652.8 1652.5 624.6 1653 642.5 1653.5 614 1654 644 1654.5 630.2 1655 653.3 1655.5 645.1 1656 687.3 1656.5 639.8 1657 680.1 1657.5 654.1 1658 670.3 1658.5 645.8 1659 685.7 1659.5 654.5 1660 710.2 1660.5 651.4 1661 674.1 1661.5 594.3 1662 705.7 1662.5 641 1663 674 1663.5 645.3 1664 692 1664.5 652.4 1665 701.3 1665.5 730.2 1666 696.2 1666.5 644.3 1667 695 1667.5 651.1 1668 712.8 1668.5 647.9 1669 680.3 1669.5 662.8 1670 681.1 1670.5 647.4 1671 700.2 1671.5 652.3 1672 676 1672.5 656.2 1673 672.5 1673.5 624.9 1674 684.3 1674.5 710.2 1675 665.2 1675.5 550.4 1676 672.9 1676.5 633 1677 693.7 1677.5 640.4 1678 667.7 1678.5 640.1 1679 665.7 1679.5 636 1680 671.9 1680.5 645.4 1681 666.9 1681.5 637.3 1682 655.5 1682.5 544.9 1683 670.9 1683.5 618.3 1684 655.4 1684.5 644 1685 663.5 1685.5 646.7 1686 661.6 1686.5 645.4 1687 663.5 1687.5 641 1688 675.4 1688.5 641.4 1689 670.2 1689.5 640 1690 667.8 1690.5 646.9 1691 664.2 1691.5 635.3 1692 661.3 1692.5 623.9 1693 651.9 1693.5 627.9 1694 656.4 1694.5 635.8 1695 649 1695.5 624.3 1696 679.5 1696.5 628.8 1697 653 1697.5 639.1 1698 656.6 1698.5 633.6 1699 660.8 1699.5 636 1700 657.9 1700.5 631.1 1701 650.1 1701.5 622.3 1702 651.5 1702.5 628.5 1703 663.8 1703.5 625.1 1704 644.1 1704.5 624.3 1705 635.8 1705.5 621.1 1706 637.3 1706.5 611 1707 634.6 1707.5 627.4 1708 639 1708.5 608.3 1709 656.6 1709.5 626.6 1710 641.6 1710.5 617.8 1711 638.4 1711.5 625.5 1712 650.8 1712.5 624.6 1713 654.8 1713.5 611.2 1714 628.7 1714.5 602 1715 622.6 1715.5 596.4 1716 635.9 1716.5 614.2 1717 632.4 1717.5 609 1718 627.8 1718.5 603.5 1719 644 1719.5 610.2 1720 634.8 1720.5 606.8 1721 632.5 1721.5 607.8 1722 638.3 1722.5 606.1 1723 622.8 1723.5 609 1724 627 1724.5 596.2 1725 628.9 1725.5 611.6 1726 634.7 1726.5 587.6" fill="none" stroke="#f00" stroke-width="2.08" stroke-linejoin="round" clip-path="url(#cR2)" />
<path d="M1205 509.3 1206.2 509.3 1215.4 507.2 1230.9 510.9 1243.2 511.5 1255.6 508.7 1261.8 510.9 1271.1 509.3 1277.2 505.3 1281.9 504.7 1286.5 504.1 1292.7 501.6 1298.9 500.1 1303.5 493.9 1306.6 491.4 1309.7 493.9 1312.8 509.3 1318.9 513.4 1323.6 516.5 1328.2 517.7 1332.8 523.2 1337.5 525.7 1342.1 525.1 1348.3 523.9 1352.9 518.6 1356 516.1 1360.6 520.2 1366.8 527.9 1373 535 1377.6 536.2 1380.7 538.7 1385.4 535 1390 533.1 1394.6 532.5 1399.3 534.1 1403.9 534.1 1410.1 529.4 1416.2 528.5 1422.4 524.8 1430.2 520.2 1434.8 521.1 1439.4 517.7 1444.1 520.8 1450.2 524.8 1454.9 525.7 1459.5 529.4 1464.1 527 1468.8 534.1 1473.4 538.1 1479.6 534.1 1480 534.1 1486.2 537.2 1492.4 541.8 1497 532.5 1503.2 533.1 1510.9 531 1517.1 527.9 1523.2 532.5 1529.4 529.4 1536.2 523.9 1541.8 528.8 1548 526.3 1554.1 525.7 1557.2 531.9 1563.4 533.1 1569.6 527.9 1575.8 525.7 1583.5 524.2 1588.7 521.1 1594.3 525.7 1600.5 531.6 1605.1 531 1609.7 527.3 1615.9 531 1620.6 533.1 1625.2 531.9 1629.8 530 1632.9 531.6 1637.6 530.4 1642.2 531.6 1645.3 527.9 1649.9 520.8 1654.5 521.1 1659.2 523.2 1665.4 521.7 1673.1 521.1 1680.8 523.2 1687 522 1693.2 524.8 1699.3 526.3 1707.1 527.9 1710.2 526.3 1713.2 521.7 1717.9 518.6 1722.5 515.5" fill="none" stroke="#000" stroke-width="2.08" stroke-linejoin="round" clip-path="url(#cR2)" />
<line x1="1726.2" y1="822" x2="1726.2" y2="478" stroke="#1f77b4" stroke-width="2.08" stroke-dasharray="2.08 3.44"/>
<rect x="1205" y="478" width="595" height="344" fill="none" stroke="#000" stroke-width="2" shape-rendering="crispEdges"/>
<line x1="1800" y1="477" x2="1800" y2="823" stroke="#f00" stroke-width="2" shape-rendering="crispEdges"/>
<line x1="1244.55" y1="822" x2="1244.55" y2="817.1" stroke="#000" stroke-width="1" shape-rendering="crispEdges"/>
<line x1="1318.92" y1="822" x2="1318.92" y2="817.1" stroke="#000" stroke-width="1" shape-rendering="crispEdges"/>
<line x1="1393.3" y1="822" x2="1393.3" y2="817.1" stroke="#000" stroke-width="1" shape-rendering="crispEdges"/>
<line x1="1467.67" y1="822" x2="1467.67" y2="817.1" stroke="#000" stroke-width="1" shape-rendering="crispEdges"/>
<line x1="1542.05" y1="822" x2="1542.05" y2="817.1" stroke="#000" stroke-width="1" shape-rendering="crispEdges"/>
<line x1="1616.42" y1="822" x2="1616.42" y2="817.1" stroke="#000" stroke-width="1" shape-rendering="crispEdges"/>
<line x1="1690.8" y1="822" x2="1690.8" y2="817.1" stroke="#000" stroke-width="1" shape-rendering="crispEdges"/>
<line x1="1765.17" y1="822" x2="1765.17" y2="817.1" stroke="#000" stroke-width="1" shape-rendering="crispEdges"/>
<line x1="1205" y1="787.6" x2="1209.9" y2="787.6" stroke="#000" stroke-width="1" shape-rendering="crispEdges"/>
<text x="1200.14" y="795.2" font-size="20" text-anchor="end" fill="#000" >−400</text>
<line x1="1205" y1="718.8" x2="1209.9" y2="718.8" stroke="#000" stroke-width="1" shape-rendering="crispEdges"/>
<text x="1200.14" y="726.4" font-size="20" text-anchor="end" fill="#000" >−300</text>
<line x1="1205" y1="650" x2="1209.9" y2="650" stroke="#000" stroke-width="1" shape-rendering="crispEdges"/>
<text x="1200.14" y="657.6" font-size="20" text-anchor="end" fill="#000" >−200</text>
<line x1="1205" y1="581.2" x2="1209.9" y2="581.2" stroke="#000" stroke-width="1" shape-rendering="crispEdges"/>
<text x="1200.14" y="588.8" font-size="20" text-anchor="end" fill="#000" >−100</text>
<line x1="1205" y1="512.4" x2="1209.9" y2="512.4" stroke="#000" stroke-width="1" shape-rendering="crispEdges"/>
<text x="1200.14" y="520" font-size="20" text-anchor="end" fill="#000" >0</text>
<line x1="1800" y1="822" x2="1794" y2="822" stroke="#f00" stroke-width="1" shape-rendering="crispEdges"/>
<text x="1806" y="829.6" font-size="20" text-anchor="start" fill="#f00" >10<tspan dy="-7.2" font-size="14">−2</tspan></text>
<line x1="1800" y1="796.11" x2="1796.6" y2="796.11" stroke="#f00" stroke-width="1" shape-rendering="crispEdges"/>
<line x1="1800" y1="780.97" x2="1796.6" y2="780.97" stroke="#f00" stroke-width="1" shape-rendering="crispEdges"/>
<line x1="1800" y1="770.22" x2="1796.6" y2="770.22" stroke="#f00" stroke-width="1" shape-rendering="crispEdges"/>
<line x1="1800" y1="761.89" x2="1796.6" y2="761.89" stroke="#f00" stroke-width="1" shape-rendering="crispEdges"/>
<line x1="1800" y1="755.08" x2="1796.6" y2="755.08" stroke="#f00" stroke-width="1" shape-rendering="crispEdges"/>
<line x1="1800" y1="749.32" x2="1796.6" y2="749.32" stroke="#f00" stroke-width="1" shape-rendering="crispEdges"/>
<line x1="1800" y1="744.33" x2="1796.6" y2="744.33" stroke="#f00" stroke-width="1" shape-rendering="crispEdges"/>
<line x1="1800" y1="739.94" x2="1796.6" y2="739.94" stroke="#f00" stroke-width="1" shape-rendering="crispEdges"/>
<line x1="1800" y1="736" x2="1794" y2="736" stroke="#f00" stroke-width="1" shape-rendering="crispEdges"/>
<text x="1806" y="743.6" font-size="20" text-anchor="start" fill="#f00" >10<tspan dy="-7.2" font-size="14">−1</tspan></text>
<line x1="1800" y1="710.11" x2="1796.6" y2="710.11" stroke="#f00" stroke-width="1" shape-rendering="crispEdges"/>
<line x1="1800" y1="694.97" x2="1796.6" y2="694.97" stroke="#f00" stroke-width="1" shape-rendering="crispEdges"/>
<line x1="1800" y1="684.22" x2="1796.6" y2="684.22" stroke="#f00" stroke-width="1" shape-rendering="crispEdges"/>
<line x1="1800" y1="675.89" x2="1796.6" y2="675.89" stroke="#f00" stroke-width="1" shape-rendering="crispEdges"/>
<line x1="1800" y1="669.08" x2="1796.6" y2="669.08" stroke="#f00" stroke-width="1" shape-rendering="crispEdges"/>
<line x1="1800" y1="663.32" x2="1796.6" y2="663.32" stroke="#f00" stroke-width="1" shape-rendering="crispEdges"/>
<line x1="1800" y1="658.33" x2="1796.6" y2="658.33" stroke="#f00" stroke-width="1" shape-rendering="crispEdges"/>
<line x1="1800" y1="653.94" x2="1796.6" y2="653.94" stroke="#f00" stroke-width="1" shape-rendering="crispEdges"/>
<line x1="1800" y1="650" x2="1794" y2="650" stroke="#f00" stroke-width="1" shape-rendering="crispEdges"/>
<text x="1806" y="657.6" font-size="20" text-anchor="start" fill="#f00" >10<tspan dy="-7.2" font-size="14">0</tspan></text>
<line x1="1800" y1="624.11" x2="1796.6" y2="624.11" stroke="#f00" stroke-width="1" shape-rendering="crispEdges"/>
<line x1="1800" y1="608.97" x2="1796.6" y2="608.97" stroke="#f00" stroke-width="1" shape-rendering="crispEdges"/>
<line x1="1800" y1="598.22" x2="1796.6" y2="598.22" stroke="#f00" stroke-width="1" shape-rendering="crispEdges"/>
<line x1="1800" y1="589.89" x2="1796.6" y2="589.89" stroke="#f00" stroke-width="1" shape-rendering="crispEdges"/>
<line x1="1800" y1="583.08" x2="1796.6" y2="583.08" stroke="#f00" stroke-width="1" shape-rendering="crispEdges"/>
<line x1="1800" y1="577.32" x2="1796.6" y2="577.32" stroke="#f00" stroke-width="1" shape-rendering="crispEdges"/>
<line x1="1800" y1="572.33" x2="1796.6" y2="572.33" stroke="#f00" stroke-width="1" shape-rendering="crispEdges"/>
<line x1="1800" y1="567.94" x2="1796.6" y2="567.94" stroke="#f00" stroke-width="1" shape-rendering="crispEdges"/>
<line x1="1800" y1="564" x2="1794" y2="564" stroke="#f00" stroke-width="1" shape-rendering="crispEdges"/>
<text x="1806" y="571.6" font-size="20" text-anchor="start" fill="#f00" >10<tspan dy="-7.2" font-size="14">1</tspan></text>
<line x1="1800" y1="538.11" x2="1796.6" y2="538.11" stroke="#f00" stroke-width="1" shape-rendering="crispEdges"/>
<line x1="1800" y1="522.97" x2="1796.6" y2="522.97" stroke="#f00" stroke-width="1" shape-rendering="crispEdges"/>
<line x1="1800" y1="512.22" x2="1796.6" y2="512.22" stroke="#f00" stroke-width="1" shape-rendering="crispEdges"/>
<line x1="1800" y1="503.89" x2="1796.6" y2="503.89" stroke="#f00" stroke-width="1" shape-rendering="crispEdges"/>
<line x1="1800" y1="497.08" x2="1796.6" y2="497.08" stroke="#f00" stroke-width="1" shape-rendering="crispEdges"/>
<line x1="1800" y1="491.32" x2="1796.6" y2="491.32" stroke="#f00" stroke-width="1" shape-rendering="crispEdges"/>
<line x1="1800" y1="486.33" x2="1796.6" y2="486.33" stroke="#f00" stroke-width="1" shape-rendering="crispEdges"/>
<line x1="1800" y1="481.94" x2="1796.6" y2="481.94" stroke="#f00" stroke-width="1" shape-rendering="crispEdges"/>
<line x1="1800" y1="478" x2="1794" y2="478" stroke="#f00" stroke-width="1" shape-rendering="crispEdges"/>
<text x="1806" y="485.6" font-size="20" text-anchor="start" fill="#f00" >10<tspan dy="-7.2" font-size="14">2</tspan></text>
<text font-size="24" text-anchor="middle" fill="#000" transform="translate(1105,653) rotate(-90)" >Dst</text>
<text font-size="24" text-anchor="middle" fill="#000" transform="translate(1138,652) rotate(-90)" >( nT )</text>
<text font-size="24" text-anchor="middle" fill="#f00" transform="translate(1875,650) rotate(-90)" >SW Pressure</text>
<text font-size="24" text-anchor="middle" fill="#f00" transform="translate(1906,650) rotate(-90)" >( nPa )</text>
<line x1="1205" y1="931" x2="1800" y2="931" stroke="#000" stroke-width="2.08" stroke-dasharray="2.08 3.43"/>
<path d="M1205 986 1205.4 1011.8 1205.8 992.1 1206.2 1007.2 1206.6 996.4 1207 1004.8 1207.4 985.2 1207.8 1005.2 1208.2 993.3 1208.6 1011.8 1209 995.3 1209.4 1003.5 1209.8 995.5 1210.2 1007.6 1210.6 992.3 1211 1006.1 1211.4 995.9 1211.8 1005.6 1212.2 992.6 1212.6 1004.6 1213 998.2 1213.4 1011.8 1213.8 995.1 1214.2 1007.2 1214.6 996.4 1215 1006.7 1215.4 985.9 1215.8 1004.8 1216.2 994.8 1216.6 1011.8 1217 991 1217.4 1003.6 1217.8 991 1218.2 1010.7 1218.6 995.8 1219 1005.8 1219.4 981.7 1219.8 1008.5 1220.2 990.9 1220.6 1011.8 1221 995.5 1221.4 1005.9 1221.8 994.3 1222.2 1008.7 1222.6 995.8 1223 1001.9 1223.4 989.1 1223.8 1007.4 1224.2 996.2 1224.6 1011.8 1225 995.8 1225.4 1007.8 1225.8 993.3 1226.2 1005.8 1226.6 994.7 1227 1005.6 1227.4 995.3 1227.8 1011.8 1228.2 991.9 1228.6 1004.1 1229 987.4 1229.4 1003.3 1229.8 992.4 1230.2 1007.3 1230.6 985 1231 1007.6 1231.4 992.6 1231.8 1008.9 1232.2 985 1232.6 1006.3 1233 996.1 1233.4 1006.7 1233.8 988.3 1234.2 1010.7 1234.6 995.7 1235 1009.1 1235.4 988.4 1235.8 1005 1236.2 994.4 1236.6 1010.8 1237 986.1 1237.4 1006.1 1237.8 991.4 1238.2 1008.5 1238.6 994.2 1239 1006.2 1239.4 992.7 1239.8 1007 1240.2 989.2 1240.6 1011.7 1241 989.6 1241.4 1005.5 1241.8 996.1 1242.2 1010.6 1242.6 988.6 1243 1011.8 1243.4 996.7 1243.8 1010.8 1244.2 993.5 1244.6 1004.5 1245 995.9 1245.4 1009.3 1245.8 997.4 1246.2 1010.2 1246.6 994.5 1247 1004.3 1247.4 997.6 1247.8 1006.1 1248.2 995.8 1248.6 1011.8 1249 989.2 1249.4 1011.4 1249.8 985.4 1250.2 1004.9 1250.6 992.5 1251 1005.2 1251.4 983.2 1251.8 1008.2 1252.2 990.4 1252.6 1011 1253 986.9 1253.4 1009.4 1253.8 998.3 1254.2 1009.2 1254.6 988.4 1255 1005.7 1255.4 995.4 1255.8 1006 1256.2 988.9 1256.6 1008.2 1257 991.3 1257.4 1010.6 1257.8 998.3 1258.2 1008.9 1258.6 990.4 1259 1008.1 1259.4 997.1 1259.8 1007.1 1260.2 996.8 1260.6 1009 1261 993.3 1261.4 1007.1 1261.8 983.5 1262.2 1004.4 1262.6 993.4 1263 1008.9 1263.4 981.7 1263.8 1004.8 1264.2 991.4 1264.6 1002.5 1265 990.7 1265.4 1002.8 1265.8 994.9 1266.2 1010.2 1266.6 993.6 1267 1003 1267.4 991.8 1267.8 1006.5 1268.2 986.5 1268.6 1005.1 1269 992.7 1269.4 1009.5 1269.8 996.6 1270.2 1009 1270.6 994.8 1271 1011.8 1271.4 985 1271.8 1011.8 1272.2 993.7 1272.6 1003.4 1273 991.3 1273.4 1007.2 1273.8 989.5 1274.2 1003 1274.6 988.5 1275 1004.1 1275.4 996.8 1275.8 1011.8 1276.2 993.5 1276.6 1011.8 1277 988.9 1277.4 1011.8 1277.8 994.7 1278.2 1002.8 1278.6 993.1 1279 1004 1279.4 991.4 1279.8 1004.4 1280.2 996.1 1280.6 1011.7 1281 987 1281.4 1008.6 1281.8 993 1282.2 1008.5 1282.6 993.7 1283 1009.1 1283.4 995.6 1283.8 1008.3 1284.2 995.2 1284.6 1006.2 1285 987.8 1285.4 1004.9 1285.8 991.9 1286.2 1003.4 1286.6 986.5 1287 1005.1 1287.4 985.4 1287.8 1005.1 1288.2 996.6 1288.6 1008.7 1289 995.9 1289.4 1007.2 1289.8 993.8 1290.2 1006.3 1290.6 992.9 1291 1006.2 1291.4 997.7 1291.8 1005.5 1292.2 992.7 1292.6 1005.2 1293 986.7 1293.4 1006.2 1293.8 991 1294.2 1009.5 1294.6 989.8 1295 1011.8 1295.4 991.9 1295.8 1006.4 1296.2 991.5 1296.6 1007.1 1297 994 1297.4 1011.8 1297.8 995.8 1298.2 1004.5 1298.6 997.2 1299 1010.6 1299.4 994.3 1299.8 1008.2 1300.2 992.4 1300.6 1008.8 1301 996.7 1301.4 1009.1 1301.8 989.8 1302.2 1006.5 1302.6 993.1 1303 1009.2 1303.4 996.9 1303.8 1011.8 1304.2 997.3 1304.6 1004.2 1305 995 1305.4 1003.9 1305.8 984.2 1306.2 1006 1306.6 993.1 1307 1003.5 1307.4 992.9 1307.8 1009.4 1308.2 987.7 1308.6 1004.5 1309 998.6 1309.4 1010.5 1309.8 995.7 1310.2 1008.4 1310.6 993 1311 1009 1311.4 992.1 1311.8 1009.5 1312.2 1000 1312.6 1010.8 1313 996.1 1313.4 1005.4 1313.8 994.2 1314.2 1011.8 1314.6 998.7 1315 1007.1 1315.4 994 1315.8 1011.8 1316.2 995.4 1316.6 1002.4 1317 993.4 1317.4 1007.1 1317.8 983.1 1318.2 1001.3 1318.6 986.4 1319 1004.1 1319.4 985.8 1319.8 1004.2 1320.2 991.9 1320.6 1002.5 1321 987.7 1321.4 1006 1321.8 987.5 1322.2 1007.5 1322.6 986.4 1323 1003.1 1323.4 985.4 1323.8 1004.4 1324.2 984.7 1324.6 1006.6 1325 996.1 1325.4 1008.3 1325.8 981.7 1326.2 1002.4 1326.6 990.6 1327 1011.8 1327.4 990.9 1327.8 1004.4 1328.2 992.1 1328.6 1006.3 1329 988 1329.4 1003.6 1329.8 990.7 1330.2 1010 1330.6 996.3 1331 1007.7 1331.4 995.7 1331.8 1006.6 1332.2 995.3 1332.6 1004.6 1333 993.3 1333.4 1007 1333.8 988.9 1334.2 1011.7 1334.6 994 1335 1009 1335.4 992.7 1335.8 1006.8 1336.2 996.4 1336.6 1011.8 1337 992.6 1337.4 1011.8 1337.8 993.1 1338.2 1006.1 1338.6 994 1339 1009.5 1339.4 991.7 1339.8 1011.8 1340.2 991.4 1340.6 1005.7 1341 987.4 1341.4 1004.8 1341.8 989 1342.2 1010 1342.6 989.5 1343 1003.9 1343.4 989.4 1343.8 1003.5 1344.2 993 1344.6 1002.1 1345 991.1 1345.4 1006.9 1345.8 992.6 1346.2 1005.1 1346.6 984 1347 1004.5 1347.4 992 1347.8 1006.7 1348.2 994 1348.6 1006.8 1349 994.4 1349.4 1007.4 1349.8 992.1 1350.2 1003.1 1350.6 981.7 1351 1006.6 1351.4 988.2 1351.8 1008 1352.2 993.5 1352.6 1008.7 1353 992.1 1353.4 1005.6 1353.8 989 1354.2 1007.3 1354.6 996.7 1355 1007.6 1355.4 993.1 1355.8 1011.8 1356.2 994.9 1356.6 1003.5 1357 993.3 1357.4 1003.8 1357.8 991.6 1358.2 1004.7 1358.6 990.9 1359 1010.2 1359.4 989.5 1359.8 1007.3 1360.2 996.7 1360.6 1011.8 1361 994 1361.4 1007.9 1361.8 996.1 1362.2 1005.5 1362.6 994.1 1363 1005.1 1363.4 991.7 1363.8 1011.4 1364.2 996.8 1364.6 1005.3 1365 988.8 1365.4 1002.2 1365.8 986.7 1366.2 1002.7 1366.6 990.3 1367 1008 1367.4 984.9 1367.8 1003.8 1368.2 988.1 1368.6 1005.9 1369 991.4 1369.4 1004.8 1369.8 984.5 1370.2 1010.3 1370.6 994.5 1371 1011.8 1371.4 984.2 1371.8 1006 1372.2 989.1 1372.6 1002.1 1373 992.9 1373.4 1006.2 1373.8 992.3 1374.2 1004.4 1374.6 994.6 1375 1007.3 1375.4 988.7 1375.8 1002.8 1376.2 996.6 1376.6 1006.7 1377 992.7 1377.4 1010.8 1377.8 990.4 1378.2 1005 1378.6 992.7 1379 1006.7 1379.4 996.2 1379.8 1005.5 1380.2 991.2 1380.6 1007.9 1381 987.7 1381.4 1006.8 1381.8 989.3 1382.2 1010.8 1382.6 994.4 1383 1011.3 1383.4 995.3 1383.8 1008 1384.2 997.4 1384.6 1007.7 1385 999.8 1385.4 1011.2 1385.8 995.4 1386.2 1008.2 1386.6 996 1387 1010.4 1387.4 992.7 1387.8 1011.1 1388.2 995.8 1388.6 1004.8 1389 993.8 1389.4 1007.9 1389.8 994.8 1390.2 1009.3 1390.6 994.6 1391 1005.4 1391.4 997.1 1391.8 1011.8 1392.2 982.1 1392.6 1003.5 1393 995.8 1393.4 1011.8 1393.8 994.9 1394.2 1001.6 1394.6 990.9 1395 1008.1 1395.4 987.7 1395.8 1007.8 1396.2 997.1 1396.6 1010.4 1397 991.6 1397.4 1011.8 1397.8 989 1398.2 1011.8 1398.6 994.5 1399 1003.3 1399.4 990.1 1399.8 1004.6 1400.2 996.1 1400.6 1006.2 1401 991.9 1401.4 1005 1401.8 987.7 1402.2 1010.8 1402.6 994.1 1403 1009.1 1403.4 988.3 1403.8 1004.8 1404.2 986.6 1404.6 1005.4 1405 994.2 1405.4 1010.5 1405.8 995.6 1406.2 1006.3 1406.6 996.3 1407 1011.8 1407.4 996 1407.8 1003.7 1408.2 993.8 1408.6 1003.6 1409 994.9 1409.4 1002.1 1409.8 994.1 1410.2 1011.7 1410.6 993.1 1411 1002.1 1411.4 995.2 1411.8 1005 1412.2 988.4 1412.6 1010.5 1413 995.9 1413.4 1005 1413.8 996.9 1414.2 1006.1 1414.6 992.7 1415 1006.8 1415.4 989.6 1415.8 1005.1 1416.2 994.1 1416.6 1003.8 1417 989.7 1417.4 1003.5 1417.8 995.4 1418.2 1003.8 1418.6 994.7 1419 1008.6 1419.4 989.6 1419.8 1010.7 1420.2 993.8 1420.6 1005.3 1421 994.9 1421.4 1006.9 1421.8 987.7 1422.2 1011.8 1422.6 993.5 1423 1008.6 1423.4 995.6 1423.8 1004 1424.2 995.5 1424.6 1007.7 1425 992.5 1425.4 1005.7 1425.8 991 1426.2 1011.8 1426.6 989.9 1427 1007.1 1427.4 996.7 1427.8 1008.9 1428.2 984.1 1428.6 1002.3 1429 985.9 1429.4 1011.8 1429.8 984 1430.2 1011.8 1430.6 990.5 1431 1008.2 1431.4 988.9 1431.8 1004.2 1432.2 993.3 1432.6 1008.2 1433 996.2 1433.4 1007.5 1433.8 994.3 1434.2 1005.6 1434.6 993.4 1435 1005.7 1435.4 993.7 1435.8 1008.6 1436.2 981.7 1436.6 1006.7 1437 984.3 1437.4 1004.3 1437.8 993.6 1438.2 1008.5 1438.6 991.7 1439 1008.6 1439.4 994.3 1439.8 1011.1 1440.2 991.7 1440.6 1009.2 1441 995.8 1441.4 1006.2 1441.8 992 1442.2 1006 1442.6 991.4 1443 1007.3 1443.4 993.4 1443.8 1000.8 1444.2 992.3 1444.6 1007.5 1445 989.7 1445.4 1003.5 1445.8 989.6 1446.2 1001.8 1446.6 990.2 1447 1011.2 1447.4 988.5 1447.8 1001.8 1448.2 992.8 1448.6 1007.8 1449 993.7 1449.4 1011 1449.8 984.5 1450.2 1007.6 1450.6 985.8 1451 1003.4 1451.4 992.7 1451.8 1011.8 1452.2 988.9 1452.6 1005.9 1453 995.4 1453.4 1002.2 1453.8 994.6 1454.2 1011.8 1454.6 986 1455 1005 1455.4 995.3 1455.8 1004.2 1456.2 993.4 1456.6 1006.4 1457 994.8 1457.4 1008.2 1457.8 990.3 1458.2 1010.1 1458.6 990.6 1459 1005.5 1459.4 995.4 1459.8 1011.8 1460.2 993.8 1460.6 1011.8 1461 995.2 1461.4 1006.5 1461.8 990.9 1462.2 1009.3 1462.6 992.4 1463 1005.1 1463.4 996.5 1463.8 1006 1464.2 995.6 1464.6 1011.7 1465 991.9 1465.4 1005.2 1465.8 993.5 1466.2 1008.1 1466.6 997.7 1467 1004.4 1467.4 997.4 1467.8 1011.8 1468.2 993.8 1468.6 1010.9 1469 997.2 1469.4 1006.5 1469.8 988.8 1470.2 1008.6 1470.6 985 1471 1005.5 1471.4 991.7 1471.8 1011.2 1472.2 990.3 1472.6 1006.8 1473 993.5 1473.4 1007.4 1473.8 993.5 1474.2 1003.6 1474.6 991.6 1475 1011.8 1475.4 991.9 1475.8 1011.8 1476.2 997.3 1476.6 1006.5 1477 991.1 1477.4 1011.8 1477.8 993.3 1478.2 1002.1 1478.6 987.5 1479 1002.1 1479.4 991 1479.8 1002.1 1480.2 992 1480.6 1010.1 1481 994 1481.4 1005.6 1481.8 990.7 1482.2 1000.8 1482.6 987 1483 1010.3 1483.4 994.7 1483.8 1001.2 1484.2 991 1484.6 1011.8 1485 996.7 1485.4 1003.7 1485.8 994.5 1486.2 1010.5 1486.6 994.8 1487 1011.8 1487.4 994.6 1487.8 1004.5 1488.2 996.5 1488.6 1011.8 1489 987.5 1489.4 1005 1489.8 993.5 1490.2 1001.5 1490.6 984.9 1491 1009.9 1491.4 981.7 1491.8 1002.2 1492.2 983.4 1492.6 1002.1 1493 994.5 1493.4 1009.2 1493.8 989.2 1494.2 1011.1 1494.6 996.9 1495 1005.3 1495.4 992.2 1495.8 1009.1 1496.2 989.8 1496.6 1011.5 1497 995.9 1497.4 1005.2 1497.8 995.4 1498.2 1009.6 1498.6 997.2 1499 1009 1499.4 997.9 1499.8 1009.5 1500.2 996.9 1500.6 1007.2 1501 996.3 1501.4 1005.6 1501.8 994.4 1502.2 1011.8 1502.6 994.8 1503 1006.4 1503.4 991.7 1503.8 1011.8 1504.2 999.1 1504.6 1011.8 1505 995.6 1505.4 1011.8 1505.8 996 1506.2 1007.1 1506.6 997.2 1507 1011.8 1507.4 996.7 1507.8 1011.8 1508.2 998.3 1508.6 1006.1 1509 993.7 1509.4 1011.8 1509.8 999.2 1510.2 1011.8 1510.6 996.3 1511 1008.4 1511.4 989.2 1511.8 1006.3 1512.2 993.8 1512.6 1009.5 1513 992 1513.4 1003.3 1513.8 985.4 1514.2 1006.5 1514.6 990.2 1515 1005.3 1515.4 991.5 1515.8 1011.8 1516.2 996.1 1516.6 1011.8 1517 994.1 1517.4 1005.8 1517.8 988.8 1518.2 1011.3 1518.6 988.6 1519 1008.4 1519.4 987.8 1519.8 1007.7 1520.2 997.2 1520.6 1006.1 1521 996.2 1521.4 1005.7 1521.8 995.5 1522.2 1004 1522.6 996.2 1523 1011.8 1523.4 981.7 1523.8 1006.3 1524.2 987.3 1524.6 1004.3 1525 992.6 1525.4 1003.3 1525.8 993.7 1526.2 1002.5 1526.6 988.4 1527 1004.4 1527.4 989.6 1527.8 1004.9 1528.2 994.6 1528.6 1010.2 1529 990.9 1529.4 1007.1 1529.8 991.6 1530.2 1007 1530.6 992.3 1531 1005.6 1531.4 992.8 1531.8 1004.7 1532.2 991.9 1532.6 1009.3 1533 986.7 1533.4 1005.4 1533.8 989.9 1534.2 1007.9 1534.6 987.8 1535 1006.3 1535.4 991.2 1535.8 1011.8 1536.2 997.4 1536.6 1011.8 1537 995.4 1537.4 1011.8 1537.8 997.8 1538.2 1011 1538.6 991.3 1539 1009.3 1539.4 981.7 1539.8 1011.8 1540.2 989.1 1540.6 1011.8 1541 994.4 1541.4 1003.2 1541.8 994.4 1542.2 1008.5 1542.6 991.7 1543 1011.1 1543.4 989.3 1543.8 1003.7 1544.2 993.4 1544.6 1008.3 1545 991.9 1545.4 1009.9 1545.8 994 1546.2 1011 1546.6 992.2 1547 1003.8 1547.4 995.3 1547.8 1011.8 1548.2 994.5 1548.6 1004.7 1549 995.7 1549.4 1007.4 1549.8 996.4 1550.2 1004.4 1550.6 989.3 1551 1006.9 1551.4 989.7 1551.8 1011.8 1552.2 996.2 1552.6 1009.5 1553 996.1 1553.4 1007.5 1553.8 992.9 1554.2 1009.8 1554.6 991.9 1555 1002.7 1555.4 992 1555.8 1008.7 1556.2 994.7 1556.6 1006.7 1557 987.1 1557.4 1007.5 1557.8 993.6 1558.2 1006.8 1558.6 990.5 1559 1003.5 1559.4 992.9 1559.8 1011.8 1560.2 991.5 1560.6 1010.8 1561 986.7 1561.4 1006.4 1561.8 991.9 1562.2 1009.8 1562.6 995.7 1563 1008.1 1563.4 993.1 1563.8 1007.3 1564.2 994.9 1564.6 1011.3 1565 995.5 1565.4 1011.3 1565.8 989.6 1566.2 1007.7 1566.6 988.7 1567 1009.8 1567.4 992.7 1567.8 1006.4 1568.2 992.2 1568.6 1007.8 1569 987.6 1569.4 1002.5 1569.8 989.5 1570.2 1003.8 1570.6 992 1571 1007.9 1571.4 994.2 1571.8 1011.8 1572.2 991.6 1572.6 1002.4 1573 988.8 1573.4 1005.5 1573.8 987.5 1574.2 1011.8 1574.6 991.9 1575 1007.1 1575.4 984.9 1575.8 1005.2 1576.2 989.4 1576.6 1007.1 1577 987.9 1577.4 1005.9 1577.8 991.7 1578.2 1000 1578.6 994.3 1579 1002 1579.4 994.6 1579.8 1009.6 1580.2 986.3 1580.6 1011.3 1581 982 1581.4 1004.1 1581.8 989.5 1582.2 1007.3 1582.6 996.1 1583 1006.5 1583.4 998.4 1583.8 1010 1584.2 995.4 1584.6 1010.3 1585 998.6 1585.4 1011.8 1585.8 993.7 1586.2 1004.7 1586.6 996 1587 1003.4 1587.4 990.7 1587.8 1010.3 1588.2 987.9 1588.6 1003.9 1589 992.3 1589.4 1006.1 1589.8 987.5 1590.2 1011.5 1590.6 993.8 1591 1005.7 1591.4 992.5 1591.8 1011.8 1592.2 990.9 1592.6 1006 1593 988.5 1593.4 1004.6 1593.8 995.3 1594.2 1005.9 1594.6 993.2 1595 1005 1595.4 992.9 1595.8 1002.7 1596.2 991 1596.6 1011.8 1597 993.5 1597.4 1003.7 1597.8 992.5 1598.2 1006 1598.6 989.2 1599 1003.3 1599.4 990.4 1599.8 1010.2 1600.2 995.3 1600.6 1009.6 1601 998.4 1601.4 1007.5 1601.8 986.9 1602.2 1011.8 1602.6 993.3 1603 1006.4 1603.4 994.1 1603.8 1010.9 1604.2 997.2 1604.6 1011.8 1605 991.8 1605.4 1008.3 1605.8 992.2 1606.2 1009.1 1606.6 984.1 1607 1010.3 1607.4 989.7 1607.8 1007.5 1608.2 996.4 1608.6 1004.1 1609 991.1 1609.4 1004.4 1609.8 995.8 1610.2 1007.1 1610.6 982.3 1611 1004.1 1611.4 995.2 1611.8 1005.3 1612.2 993.6 1612.6 1011.8 1613 990.7 1613.4 1004.8 1613.8 995.6 1614.2 1005 1614.6 989.3 1615 1004.6 1615.4 992.6 1615.8 1002.5 1616.2 994.4 1616.6 1007.3 1617 984.4 1617.4 1004.7 1617.8 992.1 1618.2 1007.5 1618.6 994.1 1619 1004.1 1619.4 994 1619.8 1009 1620.2 989.4 1620.6 1003.9 1621 992.6 1621.4 1002.4 1621.8 995 1622.2 1005.3 1622.6 996.5 1623 1004.3 1623.4 991.5 1623.8 1011.8 1624.2 987.3 1624.6 1004.5 1625 989.7 1625.4 1009.8 1625.8 991.8 1626.2 1011.8 1626.6 991.7 1627 1004.8 1627.4 989.6 1627.8 1009.8 1628.2 996.2 1628.6 1010.6 1629 995.8 1629.4 1009.9 1629.8 997.1 1630.2 1010.3 1630.6 997 1631 1008.2 1631.4 993.2 1631.8 1011.8 1632.2 989.6 1632.6 1008.2 1633 990.7 1633.4 1011.6 1633.8 991.2 1634.2 1011.1 1634.6 993.4 1635 1006.5 1635.4 998.4 1635.8 1011.8 1636.2 998.2 1636.6 1018 1637 994.6 1637.4 1005.7 1637.8 991.6 1638.2 1005 1638.6 991.8 1639 1011 1639.4 996.7 1639.8 1011.8 1640.2 995.9 1640.6 1011.8 1641 997.6 1641.4 1010.2 1641.8 995.5 1642.2 1008.7 1642.6 995.9 1643 1010.3 1643.4 996.3 1643.8 1004 1644.2 991.9 1644.6 1006.3 1645 988.4 1645.4 1010.8 1645.8 989.2 1646.2 1004.8 1646.6 985.9 1647 1010.9 1647.4 995.9 1647.8 1007.8 1648.2 993.2 1648.6 1002.6 1649 993.7 1649.4 1008 1649.8 991.5 1650.2 1011.6 1650.6 985.1 1651 1008.6 1651.4 989.6 1651.8 1004.8 1652.2 995.3 1652.6 1008.4 1653 990.5 1653.4 1011.8 1653.8 991 1654.2 1009.9 1654.6 991.8 1655 1009.3 1655.4 996.3 1655.8 1010.6 1656.2 996.8 1656.6 1011.8 1657 996.7 1657.4 1011.8 1657.8 994.6 1658.2 1011.3 1658.6 997.1 1659 1010 1659.4 997.7 1659.8 1005.5 1660.2 996 1660.6 1010.9 1661 991.9 1661.4 1011.8 1661.8 987.1 1662.2 1011.8 1662.6 991.4 1663 1007.3 1663.4 995.9 1663.8 1007.8 1664.2 991 1664.6 1006.7 1665 994.8 1665.4 1006.1 1665.8 985.7 1666.2 1010 1666.6 988.7 1667 1008 1667.4 993.5 1667.8 1008.5 1668.2 988.3 1668.6 1006.2 1669 986.8 1669.4 1004.1 1669.8 992.8 1670.2 1004.5 1670.6 991.9 1671 1004.8 1671.4 993.2 1671.8 1007.2 1672.2 997.4 1672.6 1011.4 1673 1000 1673.4 1009.5 1673.8 988.3 1674.2 1011.4 1674.6 986.8 1675 1011.8 1675.4 999.8 1675.8 1007.6 1676.2 998.5 1676.6 1007.8 1677 997.2 1677.4 1006.8 1677.8 993.5 1678.2 1010.5 1678.6 993.1 1679 1004.3 1679.4 995.2 1679.8 1007.4 1680.2 997.5 1680.6 1006.1 1681 996 1681.4 1006.5 1681.8 989.6 1682.2 1009.9 1682.6 987.4 1683 1005.4 1683.4 996.8 1683.8 1008.5 1684.2 994.5 1684.6 1011.8 1685 991.2 1685.4 1004.8 1685.8 988 1686.2 1010 1686.6 994 1687 1003.9 1687.4 989.9 1687.8 1003.5 1688.2 990.3 1688.6 1004.6 1689 986.3 1689.4 1003.6 1689.8 994.8 1690.2 1005.1 1690.6 993.5 1691 1011.8 1691.4 995.7 1691.8 1011.8 1692.2 996 1692.6 1005 1693 994.9 1693.4 1008.3 1693.8 993.4 1694.2 1004.3 1694.6 995.6 1695 1007.9 1695.4 991.1 1695.8 1007.9 1696.2 987.1 1696.6 1005.8 1697 995.4 1697.4 1008.3 1697.8 992.9 1698.2 1011.8 1698.6 992.6 1699 1002.1 1699.4 990.7 1699.8 1008.9 1700.2 993 1700.6 1003.7 1701 992.3 1701.4 1010.9 1701.8 983.3 1702.2 1002.9 1702.6 995.3 1703 1006.8 1703.4 996.2 1703.8 1011.8 1704.2 990.5 1704.6 1004.7 1705 994.2 1705.4 1003.1 1705.8 993.5 1706.2 1005.6 1706.6 993.4 1707 1011.8 1707.4 994.7 1707.8 1006 1708.2 991.2 1708.6 1011.8 1709 992.1 1709.4 969.5 1709.8 1018 1710.2 1003.3 1710.6 993.9 1711 1005.6 1711.4 995.3 1711.8 1009.9 1712.2 986.3 1712.6 1010 1713 991.5 1713.4 1010.5 1713.8 987.3 1714.2 1009.6 1714.6 994.7 1715 1006.1 1715.4 996.6 1715.8 1007.9 1716.2 993.9 1716.6 1004.8 1717 996.9 1717.4 1008.7 1717.8 992.9 1718.2 1011.8 1718.6 988.1 1719 1011.5 1719.4 989.6 1719.8 1007.2 1720.2 987.6 1720.6 1005.9 1721 992.9 1721.4 1004.7 1721.8 984.5 1722.2 1006.8 1722.6 992.2 1723 1004.5 1723.4 989.9 1723.8 1005.5 1724.2 981.7 1724.6 1006.6 1725 995.6" fill="none" stroke="#000" stroke-width="2.08" stroke-linejoin="round" clip-path="url(#cR3)" />
<line x1="1726.2" y1="1017" x2="1726.2" y2="845" stroke="#1f77b4" stroke-width="2.08" stroke-dasharray="2.08 3.44"/>
<rect x="1205" y="845" width="595" height="172" fill="none" stroke="#000" stroke-width="2" shape-rendering="crispEdges"/>
<line x1="1244.55" y1="1017" x2="1244.55" y2="1012.1" stroke="#000" stroke-width="1" shape-rendering="crispEdges"/>
<text x="1244.15" y="1036.95" font-size="20" text-anchor="middle" fill="#000" >23</text>
<line x1="1318.92" y1="1017" x2="1318.92" y2="1012.1" stroke="#000" stroke-width="1" shape-rendering="crispEdges"/>
<text x="1318.52" y="1036.95" font-size="20" text-anchor="middle" fill="#000" >24</text>
<line x1="1393.3" y1="1017" x2="1393.3" y2="1012.1" stroke="#000" stroke-width="1" shape-rendering="crispEdges"/>
<text x="1392.9" y="1036.95" font-size="20" text-anchor="middle" fill="#000" >25</text>
<line x1="1467.67" y1="1017" x2="1467.67" y2="1012.1" stroke="#000" stroke-width="1" shape-rendering="crispEdges"/>
<text x="1467.27" y="1036.95" font-size="20" text-anchor="middle" fill="#000" >26</text>
<line x1="1542.05" y1="1017" x2="1542.05" y2="1012.1" stroke="#000" stroke-width="1" shape-rendering="crispEdges"/>
<text x="1541.65" y="1036.95" font-size="20" text-anchor="middle" fill="#000" >27</text>
<line x1="1616.42" y1="1017" x2="1616.42" y2="1012.1" stroke="#000" stroke-width="1" shape-rendering="crispEdges"/>
<text x="1616.02" y="1036.95" font-size="20" text-anchor="middle" fill="#000" >28</text>
<line x1="1690.8" y1="1017" x2="1690.8" y2="1012.1" stroke="#000" stroke-width="1" shape-rendering="crispEdges"/>
<text x="1690.4" y="1036.95" font-size="20" text-anchor="middle" fill="#000" >29</text>
<line x1="1765.17" y1="1017" x2="1765.17" y2="1012.1" stroke="#000" stroke-width="1" shape-rendering="crispEdges"/>
<text x="1764.77" y="1036.95" font-size="20" text-anchor="middle" fill="#000" >30</text>
<line x1="1205" y1="1017" x2="1211" y2="1017" stroke="#000" stroke-width="1" shape-rendering="crispEdges"/>
<text x="1200.14" y="1024.6" font-size="20" text-anchor="end" fill="#000" >10<tspan dy="-7.2" font-size="14">−1</tspan></text>
<line x1="1800" y1="1017" x2="1794" y2="1017" stroke="#000" stroke-width="1" shape-rendering="crispEdges"/>
<line x1="1205" y1="1004.06" x2="1208.4" y2="1004.06" stroke="#000" stroke-width="1" shape-rendering="crispEdges"/>
<line x1="1800" y1="1004.06" x2="1796.6" y2="1004.06" stroke="#000" stroke-width="1" shape-rendering="crispEdges"/>
<line x1="1205" y1="996.48" x2="1208.4" y2="996.48" stroke="#000" stroke-width="1" shape-rendering="crispEdges"/>
<line x1="1800" y1="996.48" x2="1796.6" y2="996.48" stroke="#000" stroke-width="1" shape-rendering="crispEdges"/>
<line x1="1205" y1="991.11" x2="1208.4" y2="991.11" stroke="#000" stroke-width="1" shape-rendering="crispEdges"/>
<line x1="1800" y1="991.11" x2="1796.6" y2="991.11" stroke="#000" stroke-width="1" shape-rendering="crispEdges"/>
<line x1="1205" y1="986.94" x2="1208.4" y2="986.94" stroke="#000" stroke-width="1" shape-rendering="crispEdges"/>
<line x1="1800" y1="986.94" x2="1796.6" y2="986.94" stroke="#000" stroke-width="1" shape-rendering="crispEdges"/>
<line x1="1205" y1="983.54" x2="1208.4" y2="983.54" stroke="#000" stroke-width="1" shape-rendering="crispEdges"/>
<line x1="1800" y1="983.54" x2="1796.6" y2="983.54" stroke="#000" stroke-width="1" shape-rendering="crispEdges"/>
<line x1="1205" y1="980.66" x2="1208.4" y2="980.66" stroke="#000" stroke-width="1" shape-rendering="crispEdges"/>
<line x1="1800" y1="980.66" x2="1796.6" y2="980.66" stroke="#000" stroke-width="1" shape-rendering="crispEdges"/>
<line x1="1205" y1="978.17" x2="1208.4" y2="978.17" stroke="#000" stroke-width="1" shape-rendering="crispEdges"/>
<line x1="1800" y1="978.17" x2="1796.6" y2="978.17" stroke="#000" stroke-width="1" shape-rendering="crispEdges"/>
<line x1="1205" y1="975.97" x2="1208.4" y2="975.97" stroke="#000" stroke-width="1" shape-rendering="crispEdges"/>
<line x1="1800" y1="975.97" x2="1796.6" y2="975.97" stroke="#000" stroke-width="1" shape-rendering="crispEdges"/>
<line x1="1205" y1="974" x2="1211" y2="974" stroke="#000" stroke-width="1" shape-rendering="crispEdges"/>
<text x="1200.14" y="981.6" font-size="20" text-anchor="end" fill="#000" >10<tspan dy="-7.2" font-size="14">0</tspan></text>
<line x1="1800" y1="974" x2="1794" y2="974" stroke="#000" stroke-width="1" shape-rendering="crispEdges"/>
<line x1="1205" y1="961.06" x2="1208.4" y2="961.06" stroke="#000" stroke-width="1" shape-rendering="crispEdges"/>
<line x1="1800" y1="961.06" x2="1796.6" y2="961.06" stroke="#000" stroke-width="1" shape-rendering="crispEdges"/>
<line x1="1205" y1="953.48" x2="1208.4" y2="953.48" stroke="#000" stroke-width="1" shape-rendering="crispEdges"/>
<line x1="1800" y1="953.48" x2="1796.6" y2="953.48" stroke="#000" stroke-width="1" shape-rendering="crispEdges"/>
<line x1="1205" y1="948.11" x2="1208.4" y2="948.11" stroke="#000" stroke-width="1" shape-rendering="crispEdges"/>
<line x1="1800" y1="948.11" x2="1796.6" y2="948.11" stroke="#000" stroke-width="1" shape-rendering="crispEdges"/>
<line x1="1205" y1="943.94" x2="1208.4" y2="943.94" stroke="#000" stroke-width="1" shape-rendering="crispEdges"/>
<line x1="1800" y1="943.94" x2="1796.6" y2="943.94" stroke="#000" stroke-width="1" shape-rendering="crispEdges"/>
<line x1="1205" y1="940.54" x2="1208.4" y2="940.54" stroke="#000" stroke-width="1" shape-rendering="crispEdges"/>
<line x1="1800" y1="940.54" x2="1796.6" y2="940.54" stroke="#000" stroke-width="1" shape-rendering="crispEdges"/>
<line x1="1205" y1="937.66" x2="1208.4" y2="937.66" stroke="#000" stroke-width="1" shape-rendering="crispEdges"/>
<line x1="1800" y1="937.66" x2="1796.6" y2="937.66" stroke="#000" stroke-width="1" shape-rendering="crispEdges"/>
<line x1="1205" y1="935.17" x2="1208.4" y2="935.17" stroke="#000" stroke-width="1" shape-rendering="crispEdges"/>
<line x1="1800" y1="935.17" x2="1796.6" y2="935.17" stroke="#000" stroke-width="1" shape-rendering="crispEdges"/>
<line x1="1205" y1="932.97" x2="1208.4" y2="932.97" stroke="#000" stroke-width="1" shape-rendering="crispEdges"/>
<line x1="1800" y1="932.97" x2="1796.6" y2="932.97" stroke="#000" stroke-width="1" shape-rendering="crispEdges"/>
<line x1="1205" y1="931" x2="1211" y2="931" stroke="#000" stroke-width="1" shape-rendering="crispEdges"/>
<text x="1200.14" y="938.6" font-size="20" text-anchor="end" fill="#000" >10<tspan dy="-7.2" font-size="14">1</tspan></text>
<line x1="1800" y1="931" x2="1794" y2="931" stroke="#000" stroke-width="1" shape-rendering="crispEdges"/>
<line x1="1205" y1="918.06" x2="1208.4" y2="918.06" stroke="#000" stroke-width="1" shape-rendering="crispEdges"/>
<line x1="1800" y1="918.06" x2="1796.6" y2="918.06" stroke="#000" stroke-width="1" shape-rendering="crispEdges"/>
<line x1="1205" y1="910.48" x2="1208.4" y2="910.48" stroke="#000" stroke-width="1" shape-rendering="crispEdges"/>
<line x1="1800" y1="910.48" x2="1796.6" y2="910.48" stroke="#000" stroke-width="1" shape-rendering="crispEdges"/>
<line x1="1205" y1="905.11" x2="1208.4" y2="905.11" stroke="#000" stroke-width="1" shape-rendering="crispEdges"/>
<line x1="1800" y1="905.11" x2="1796.6" y2="905.11" stroke="#000" stroke-width="1" shape-rendering="crispEdges"/>
<line x1="1205" y1="900.94" x2="1208.4" y2="900.94" stroke="#000" stroke-width="1" shape-rendering="crispEdges"/>
<line x1="1800" y1="900.94" x2="1796.6" y2="900.94" stroke="#000" stroke-width="1" shape-rendering="crispEdges"/>
<line x1="1205" y1="897.54" x2="1208.4" y2="897.54" stroke="#000" stroke-width="1" shape-rendering="crispEdges"/>
<line x1="1800" y1="897.54" x2="1796.6" y2="897.54" stroke="#000" stroke-width="1" shape-rendering="crispEdges"/>
<line x1="1205" y1="894.66" x2="1208.4" y2="894.66" stroke="#000" stroke-width="1" shape-rendering="crispEdges"/>
<line x1="1800" y1="894.66" x2="1796.6" y2="894.66" stroke="#000" stroke-width="1" shape-rendering="crispEdges"/>
<line x1="1205" y1="892.17" x2="1208.4" y2="892.17" stroke="#000" stroke-width="1" shape-rendering="crispEdges"/>
<line x1="1800" y1="892.17" x2="1796.6" y2="892.17" stroke="#000" stroke-width="1" shape-rendering="crispEdges"/>
<line x1="1205" y1="889.97" x2="1208.4" y2="889.97" stroke="#000" stroke-width="1" shape-rendering="crispEdges"/>
<line x1="1800" y1="889.97" x2="1796.6" y2="889.97" stroke="#000" stroke-width="1" shape-rendering="crispEdges"/>
<line x1="1205" y1="888" x2="1211" y2="888" stroke="#000" stroke-width="1" shape-rendering="crispEdges"/>
<text x="1200.14" y="895.6" font-size="20" text-anchor="end" fill="#000" >10<tspan dy="-7.2" font-size="14">2</tspan></text>
<line x1="1800" y1="888" x2="1794" y2="888" stroke="#000" stroke-width="1" shape-rendering="crispEdges"/>
<line x1="1205" y1="875.06" x2="1208.4" y2="875.06" stroke="#000" stroke-width="1" shape-rendering="crispEdges"/>
<line x1="1800" y1="875.06" x2="1796.6" y2="875.06" stroke="#000" stroke-width="1" shape-rendering="crispEdges"/>
<line x1="1205" y1="867.48" x2="1208.4" y2="867.48" stroke="#000" stroke-width="1" shape-rendering="crispEdges"/>
<line x1="1800" y1="867.48" x2="1796.6" y2="867.48" stroke="#000" stroke-width="1" shape-rendering="crispEdges"/>
<line x1="1205" y1="862.11" x2="1208.4" y2="862.11" stroke="#000" stroke-width="1" shape-rendering="crispEdges"/>
<line x1="1800" y1="862.11" x2="1796.6" y2="862.11" stroke="#000" stroke-width="1" shape-rendering="crispEdges"/>
<line x1="1205" y1="857.94" x2="1208.4" y2="857.94" stroke="#000" stroke-width="1" shape-rendering="crispEdges"/>
<line x1="1800" y1="857.94" x2="1796.6" y2="857.94" stroke="#000" stroke-width="1" shape-rendering="crispEdges"/>
<line x1="1205" y1="854.54" x2="1208.4" y2="854.54" stroke="#000" stroke-width="1" shape-rendering="crispEdges"/>
<line x1="1800" y1="854.54" x2="1796.6" y2="854.54" stroke="#000" stroke-width="1" shape-rendering="crispEdges"/>
<line x1="1205" y1="851.66" x2="1208.4" y2="851.66" stroke="#000" stroke-width="1" shape-rendering="crispEdges"/>
<line x1="1800" y1="851.66" x2="1796.6" y2="851.66" stroke="#000" stroke-width="1" shape-rendering="crispEdges"/>
<line x1="1205" y1="849.17" x2="1208.4" y2="849.17" stroke="#000" stroke-width="1" shape-rendering="crispEdges"/>
<line x1="1800" y1="849.17" x2="1796.6" y2="849.17" stroke="#000" stroke-width="1" shape-rendering="crispEdges"/>
<line x1="1205" y1="846.97" x2="1208.4" y2="846.97" stroke="#000" stroke-width="1" shape-rendering="crispEdges"/>
<line x1="1800" y1="846.97" x2="1796.6" y2="846.97" stroke="#000" stroke-width="1" shape-rendering="crispEdges"/>
<line x1="1205" y1="845" x2="1211" y2="845" stroke="#000" stroke-width="1" shape-rendering="crispEdges"/>
<text x="1200.14" y="852.6" font-size="20" text-anchor="end" fill="#000" >10<tspan dy="-7.2" font-size="14">3</tspan></text>
<line x1="1800" y1="845" x2="1794" y2="845" stroke="#000" stroke-width="1" shape-rendering="crispEdges"/>
<text font-size="24" text-anchor="middle" fill="#000" transform="translate(1106.3,931) rotate(-90)" >&gt;10 MeV Proton Flux</text>
<text font-size="24" text-anchor="middle" fill="#000" transform="translate(1138.6,931) rotate(-90)" >( cm<tspan dy="-8.64" font-size="16.8">2</tspan><tspan dy="8.64" dx="-3"> s</tspan><tspan dy="-8.64" font-size="16.8">−1</tspan><tspan dy="8.64" dx="-3"> sr</tspan><tspan dy="-8.64" font-size="16.8">−1</tspan><tspan dy="8.64"> )</tspan></text>
<text x="1502" y="1065.5" font-size="24" text-anchor="middle" fill="#000" >October 2019 (UT)</text>
</svg></body></html>
